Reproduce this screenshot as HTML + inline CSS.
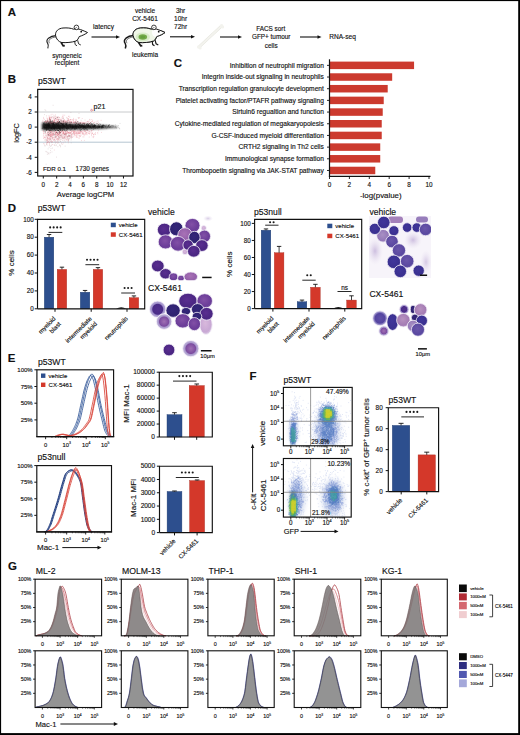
<!DOCTYPE html>
<html><head><meta charset="utf-8"><style>
html,body{margin:0;padding:0;background:#fff;overflow:hidden;}
svg{display:block;font-family:"Liberation Sans", sans-serif;}
text{stroke:#111;stroke-width:0.14px;}
</style></head><body>
<svg width="520" height="735" viewBox="0 0 520 735">
<defs><radialGradient id="gDark" cx="45%" cy="42%" r="62%"><stop offset="0" stop-color="#5a2e90"/><stop offset="0.72" stop-color="#4a2682"/><stop offset="1" stop-color="#5e3c94"/></radialGradient><radialGradient id="gNavy" cx="45%" cy="42%" r="62%"><stop offset="0" stop-color="#35267a"/><stop offset="0.72" stop-color="#2e2270"/><stop offset="1" stop-color="#48388a"/></radialGradient><radialGradient id="gMed" cx="45%" cy="42%" r="62%"><stop offset="0" stop-color="#8250a6"/><stop offset="0.72" stop-color="#6a3c98"/><stop offset="1" stop-color="#7c5aa6"/></radialGradient><radialGradient id="gLight" cx="45%" cy="42%" r="62%"><stop offset="0" stop-color="#a872b6"/><stop offset="0.72" stop-color="#9460aa"/><stop offset="1" stop-color="#a88ac0"/></radialGradient><radialGradient id="gPink" cx="45%" cy="42%" r="62%"><stop offset="0" stop-color="#d8b8dc"/><stop offset="0.72" stop-color="#c8a8d4"/><stop offset="1" stop-color="#e4d8ec"/></radialGradient><radialGradient id="gBlue" cx="45%" cy="42%" r="62%"><stop offset="0" stop-color="#40369a"/><stop offset="0.72" stop-color="#3a3090"/><stop offset="1" stop-color="#4e46a0"/></radialGradient><radialGradient id="gBlueM" cx="45%" cy="42%" r="62%"><stop offset="0" stop-color="#6a56aa"/><stop offset="0.72" stop-color="#5a48a0"/><stop offset="1" stop-color="#7064b0"/></radialGradient><radialGradient id="gBlueL" cx="45%" cy="42%" r="62%"><stop offset="0" stop-color="#9a72b4"/><stop offset="0.72" stop-color="#8a62aa"/><stop offset="1" stop-color="#a08ac0"/></radialGradient><radialGradient id="gLav" cx="45%" cy="42%" r="62%"><stop offset="0" stop-color="#a890c4"/><stop offset="0.72" stop-color="#9478b8"/><stop offset="1" stop-color="#b4a4d0"/></radialGradient><radialGradient id="gLavP" cx="45%" cy="42%" r="62%"><stop offset="0" stop-color="#b892c0"/><stop offset="0.72" stop-color="#a47cb4"/><stop offset="1" stop-color="#c4aad4"/></radialGradient><radialGradient id="gRim" cx="50%" cy="50%" r="50%"><stop offset="0" stop-color="#52308e"/><stop offset="0.6" stop-color="#4a2c88"/><stop offset="0.72" stop-color="#9c8cc8"/><stop offset="0.95" stop-color="#bcb0dc"/><stop offset="1" stop-color="#d8d0ea"/></radialGradient><radialGradient id="gRimM" cx="50%" cy="50%" r="50%"><stop offset="0" stop-color="#a070b4"/><stop offset="0.6" stop-color="#7c4ca0"/><stop offset="0.72" stop-color="#a898cc"/><stop offset="0.95" stop-color="#c4b8dc"/><stop offset="1" stop-color="#dcd4ec"/></radialGradient><radialGradient id="gRimB" cx="50%" cy="50%" r="50%"><stop offset="0" stop-color="#6050a8"/><stop offset="0.65" stop-color="#5444a0"/><stop offset="0.8" stop-color="#8a80c0"/><stop offset="1" stop-color="#c8c0e4"/></radialGradient><radialGradient id="gHaze" cx="50%" cy="50%" r="50%"><stop offset="0" stop-color="#c8b8dc" stop-opacity="0.9"/><stop offset="1" stop-color="#e8e0f0" stop-opacity="0"/></radialGradient><radialGradient id="gHazeP" cx="50%" cy="50%" r="50%"><stop offset="0" stop-color="#a07cb8" stop-opacity="0.95"/><stop offset="0.7" stop-color="#b090c4" stop-opacity="0.8"/><stop offset="1" stop-color="#d8c8e4" stop-opacity="0"/></radialGradient></defs>
<rect x="0" y="0" width="520" height="735" fill="#fff"/>
<text x="7.70" y="15.60" font-size="11.5" text-anchor="start" fill="#111" font-weight="bold">A</text><g transform="translate(0 0)"><path d="M56 35.6 C53 35.8 50.5 36.6 48.5 38.2 C46.5 40 46.6 42 47.8 43.6 C48.6 44.8 48.4 46.5 47.8 48.4" fill="none" stroke="#1a1a1a" stroke-width="1.1"/><path d="M56 37 C53.5 37.2 51.2 38 49.6 39.5 C48.6 40.7 48.8 42 49.5 43.2" fill="none" stroke="#1a1a1a" stroke-width="0.6"/><path d="M55.5 35.2 C55.3 31 58.5 28.4 63 28 C67 27.7 71 28 73.6 29.2 C75.6 28.6 78.6 28.8 80.6 29.6 C83 30.5 85.5 31.5 87.5 32.5 C85.5 34.1 82.6 35.5 79.2 36.6 C78.5 38.4 77.6 40 76 41 C72 42.4 66 42.9 61.5 42.5 C58.5 41.6 56.2 39.2 55.5 35.2 Z" fill="#fff" stroke="#1a1a1a" stroke-width="1.0"/><circle cx="76.4" cy="27.4" r="2.3" fill="#fff" stroke="#1a1a1a" stroke-width="0.85"/><path d="M75.2 29.2 C75.1 28 75.9 27.3 77 27.5" fill="none" stroke="#1a1a1a" stroke-width="0.5"/><circle cx="81.2" cy="31.7" r="0.9" fill="#111"/><path d="M74.6 41 L75.2 44.6 L77 45.8 M77.6 40.2 L78.6 43.8 L80.8 45" fill="none" stroke="#1a1a1a" stroke-width="0.9"/><path d="M61 42.3 L63.2 45.9 L64.8 45.6" fill="none" stroke="#1a1a1a" stroke-width="1.7"/></g><text x="67.00" y="57.50" font-size="6.5" text-anchor="middle" fill="#111">syngeneic</text><text x="67.00" y="64.50" font-size="6.5" text-anchor="middle" fill="#111">recipient</text><text x="103.50" y="28.90" font-size="6.6" text-anchor="middle" fill="#111">latency</text><line x1="91.50" y1="37.00" x2="116.50" y2="37.00" stroke="#111" stroke-width="1.1"/><path d="M120.00 37.00 L116.00 35.20 L116.00 38.80 Z" fill="#111"/><g transform="translate(77.5 0)"><path d="M56 35.6 C53 35.8 50.5 36.6 48.5 38.2 C46.5 40 46.6 42 47.8 43.6 C48.6 44.8 48.4 46.5 47.8 48.4" fill="none" stroke="#1a1a1a" stroke-width="1.5"/><path d="M56 37 C53.5 37.2 51.2 38 49.6 39.5 C48.6 40.7 48.8 42 49.5 43.2" fill="none" stroke="#1a1a1a" stroke-width="0.6"/><path d="M55.5 35.2 C55.3 31 58.5 28.4 63 28 C67 27.7 71 28 73.6 29.2 C75.6 28.6 78.6 28.8 80.6 29.6 C83 30.5 85.5 31.5 87.5 32.5 C85.5 34.1 82.6 35.5 79.2 36.6 C78.5 38.4 77.6 40 76 41 C72 42.4 66 42.9 61.5 42.5 C58.5 41.6 56.2 39.2 55.5 35.2 Z" fill="#fff" stroke="#1a1a1a" stroke-width="1.0"/><path d="M55.5 35.2 C55.3 31 58.5 28.4 63 28 C67 27.7 71 28 73.6 29.2 C75.6 28.6 78.6 28.8 80.6 29.6 C83 30.5 85.5 31.5 87.5 32.5 C85.5 34.1 82.6 35.5 79.2 36.6 C78.5 38.4 77.6 40 76 41 C72 42.4 66 42.9 61.5 42.5 C58.5 41.6 56.2 39.2 55.5 35.2 Z" fill="#f0f7e8"/><circle cx="79" cy="32.5" r="4.6" fill="#fff"/><path d="M77 29 L87.5 32.5 L79 36.6 Z" fill="#fff"/><ellipse cx="65.3" cy="37.0" rx="7.2" ry="4.6" fill="#d8ecc8"/><ellipse cx="65.3" cy="37.0" rx="4.3" ry="2.7" fill="#74ac4a"/><ellipse cx="65.3" cy="37.0" rx="2.6" ry="1.5" fill="#64a03c"/><path d="M55.5 35.2 C55.3 31 58.5 28.4 63 28 C67 27.7 71 28 73.6 29.2 C75.6 28.6 78.6 28.8 80.6 29.6 C83 30.5 85.5 31.5 87.5 32.5 C85.5 34.1 82.6 35.5 79.2 36.6 C78.5 38.4 77.6 40 76 41 C72 42.4 66 42.9 61.5 42.5 C58.5 41.6 56.2 39.2 55.5 35.2 Z" fill="none" stroke="#1a1a1a" stroke-width="1.0"/><circle cx="76.4" cy="27.4" r="2.3" fill="#fff" stroke="#1a1a1a" stroke-width="0.85"/><path d="M75.2 29.2 C75.1 28 75.9 27.3 77 27.5" fill="none" stroke="#1a1a1a" stroke-width="0.5"/><circle cx="81.2" cy="31.7" r="0.9" fill="#111"/><path d="M74.6 41 L75.2 44.6 L77 45.8 M77.6 40.2 L78.6 43.8 L80.8 45" fill="none" stroke="#1a1a1a" stroke-width="1.2"/><path d="M61 42.3 L63.2 45.9 L64.8 45.6" fill="none" stroke="#1a1a1a" stroke-width="1.7"/></g><text x="145.00" y="12.80" font-size="6.5" text-anchor="middle" fill="#111">vehicle</text><text x="145.00" y="20.90" font-size="6.5" text-anchor="middle" fill="#111">CX-5461</text><text x="145.00" y="57.30" font-size="6.5" text-anchor="middle" fill="#111">leukemia</text><text x="180.60" y="12.80" font-size="6.5" text-anchor="middle" fill="#111">3hr</text><text x="180.60" y="20.70" font-size="6.5" text-anchor="middle" fill="#111">10hr</text><text x="180.60" y="28.70" font-size="6.5" text-anchor="middle" fill="#111">72hr</text><line x1="170.00" y1="36.80" x2="191.50" y2="36.80" stroke="#111" stroke-width="1.1"/><path d="M195.00 36.80 L191.00 35.00 L191.00 38.60 Z" fill="#111"/><g><path d="M199.5 46.5 L221 26.5" stroke="#e2e2da" stroke-width="2.9" stroke-linecap="round"/><path d="M199.5 46.5 L221 26.5" stroke="#f3f3ee" stroke-width="2.2" stroke-linecap="round"/><circle cx="198.6" cy="47" r="1.7" fill="#f3f3ee"/><circle cx="200.2" cy="48.1" r="1.5" fill="#f3f3ee"/><circle cx="221.6" cy="25.6" r="1.7" fill="#f3f3ee"/><circle cx="222.7" cy="26.9" r="1.5" fill="#f3f3ee"/></g><line x1="220.00" y1="37.00" x2="238.50" y2="37.00" stroke="#111" stroke-width="1.1"/><path d="M242.00 37.00 L238.00 35.20 L238.00 38.80 Z" fill="#111"/><text x="270.70" y="31.00" font-size="6.4" text-anchor="middle" fill="#111">FACS sort</text><text x="271.20" y="39.30" font-size="6.4" text-anchor="middle" fill="#111">GFP+ tumour</text><text x="271.20" y="47.60" font-size="6.4" text-anchor="middle" fill="#111">cells</text><line x1="300.00" y1="37.00" x2="318.00" y2="37.00" stroke="#111" stroke-width="1.1"/><path d="M321.50 37.00 L317.50 35.20 L317.50 38.80 Z" fill="#111"/><text x="329.20" y="39.30" font-size="6.6" text-anchor="start" fill="#111">RNA-seq</text><text x="7.70" y="83.20" font-size="11.5" text-anchor="start" fill="#111" font-weight="bold">B</text><text x="38.00" y="83.80" font-size="8.6" text-anchor="start" fill="#111">p53WT</text><filter id="fB" x="-10%" y="-10%" width="120%" height="120%"><feGaussianBlur stdDeviation="0.45"/></filter><filter id="fB2" x="-10%" y="-10%" width="120%" height="120%"><feGaussianBlur stdDeviation="0.9"/></filter><clipPath id="cB"><rect x="38.3" y="90" width="94.1" height="85.4"/></clipPath><g clip-path="url(#cB)"><line x1="37.70" y1="112.00" x2="133.00" y2="112.00" stroke="#c2c4c6" stroke-width="0.9"/><line x1="37.70" y1="142.20" x2="133.00" y2="142.20" stroke="#aebfcc" stroke-width="0.9"/><g filter="url(#fB)"><path d="M56.3 122.9h.01M64.4 122.7h.01M47.3 137.3h.01M47.8 122.7h.01M59.9 133.2h.01M68.4 132.8h.01M66.2 132.0h.01M81.9 123.6h.01M50.4 121.1h.01M51.5 141.0h.01M69.0 122.7h.01M47.4 123.3h.01M71.0 132.8h.01M61.0 119.7h.01M77.4 130.7h.01M63.9 137.0h.01M73.6 122.3h.01M59.7 130.8h.01M50.6 139.4h.01M75.6 132.0h.01M83.2 122.6h.01M66.3 136.5h.01M80.5 136.0h.01M47.4 132.1h.01M69.4 132.1h.01M58.5 134.5h.01M45.3 132.2h.01M47.4 133.3h.01M49.9 117.5h.01M48.3 138.8h.01M65.0 134.6h.01M54.7 141.0h.01M57.5 133.5h.01M51.4 123.1h.01M53.2 134.4h.01M43.4 133.4h.01M57.9 138.5h.01M63.5 132.7h.01M70.8 119.7h.01M83.1 134.2h.01M58.7 136.6h.01M47.5 120.2h.01M52.4 123.0h.01M42.3 122.5h.01M49.0 115.7h.01M67.8 122.7h.01M53.9 122.5h.01M81.1 132.0h.01M61.5 132.6h.01M57.0 122.9h.01M79.7 117.6h.01M64.1 122.6h.01M64.7 115.2h.01M82.2 132.3h.01M54.2 120.5h.01M64.2 137.9h.01M56.5 119.8h.01M81.4 140.6h.01M79.0 131.2h.01M57.4 119.5h.01M45.7 123.3h.01M91.5 135.4h.01M89.0 133.5h.01M52.8 122.7h.01M52.1 117.9h.01M80.5 136.2h.01M69.7 136.2h.01M86.2 133.1h.01M74.8 133.7h.01M56.6 139.4h.01M93.8 136.6h.01M73.4 119.8h.01M49.9 117.8h.01M50.5 136.8h.01M95.4 132.7h.01M50.0 119.7h.01M93.6 137.6h.01M60.3 132.5h.01M79.5 123.7h.01M53.5 135.4h.01M54.1 139.2h.01M57.4 139.4h.01M66.4 139.9h.01M63.0 135.9h.01M63.9 121.8h.01M43.4 132.1h.01M51.3 131.7h.01M56.4 137.6h.01M65.2 135.4h.01M53.7 120.8h.01M76.1 136.9h.01M86.5 132.7h.01M67.7 137.6h.01M61.0 131.1h.01M62.0 133.8h.01M89.6 119.4h.01M65.4 131.9h.01M49.7 133.4h.01M47.9 118.3h.01M76.8 133.2h.01M50.7 132.3h.01M83.8 132.2h.01M52.8 136.0h.01M97.7 132.5h.01M50.9 136.1h.01M52.0 123.4h.01M73.2 120.9h.01M44.9 122.2h.01M68.3 142.8h.01M77.1 135.1h.01M49.1 117.0h.01M54.5 122.1h.01M59.9 132.2h.01M50.6 134.9h.01M65.9 131.9h.01M71.4 131.3h.01M47.9 138.2h.01M48.4 139.2h.01M47.7 136.2h.01M65.1 131.8h.01M54.4 121.0h.01M49.3 123.2h.01M46.9 122.4h.01M75.3 121.6h.01M62.9 123.3h.01M53.8 123.1h.01M73.8 132.3h.01M88.8 121.4h.01M79.0 137.9h.01M58.8 130.8h.01M71.4 135.1h.01M72.4 137.3h.01M59.2 122.0h.01M47.9 131.6h.01M54.0 117.6h.01M82.8 134.1h.01M54.9 122.6h.01M50.8 137.1h.01M54.2 137.7h.01M53.6 131.8h.01M55.8 120.2h.01M61.9 130.5h.01M52.2 135.2h.01M48.6 130.7h.01M46.5 122.7h.01M66.5 133.8h.01M74.8 132.3h.01M58.6 116.8h.01M96.3 123.2h.01M46.6 139.9h.01M84.6 131.2h.01M50.3 141.8h.01M63.1 133.7h.01M66.5 138.9h.01M71.1 130.6h.01M50.1 122.7h.01M49.2 138.8h.01M68.4 132.8h.01M62.5 122.1h.01M63.0 138.5h.01M70.0 123.5h.01M48.0 120.6h.01M73.6 123.2h.01M62.7 144.3h.01M62.1 131.3h.01M69.2 119.7h.01M50.5 123.6h.01M65.7 121.1h.01M47.4 120.7h.01M70.8 119.8h.01M63.6 133.0h.01M84.7 123.5h.01M94.9 133.9h.01M79.1 131.0h.01M60.9 121.7h.01M52.5 144.5h.01M50.3 133.7h.01M79.1 131.1h.01M84.1 131.4h.01M62.3 116.8h.01M43.3 136.2h.01M50.3 122.7h.01M56.0 139.9h.01M80.4 123.7h.01M87.9 132.8h.01M58.0 133.1h.01M101.4 132.4h.01M54.6 120.7h.01M49.0 133.8h.01M53.8 115.2h.01M63.3 118.1h.01M83.9 136.9h.01M68.6 135.9h.01M73.1 122.4h.01M73.8 130.6h.01M55.0 118.5h.01M87.9 121.7h.01M55.4 131.4h.01M94.6 122.7h.01M65.3 133.9h.01M51.1 121.5h.01M62.8 116.9h.01M85.9 132.3h.01M51.9 123.1h.01M56.9 123.5h.01M65.8 134.2h.01M74.7 134.9h.01M58.2 121.5h.01M47.5 121.6h.01M63.0 131.0h.01M82.2 123.5h.01M59.0 134.5h.01M91.1 131.0h.01M45.9 131.5h.01M84.9 130.6h.01M58.7 130.6h.01M79.5 133.4h.01M49.3 123.2h.01M63.8 137.9h.01M69.4 133.1h.01M61.2 139.3h.01M53.2 133.0h.01M69.3 122.2h.01M68.9 133.0h.01M49.4 118.5h.01M58.6 123.0h.01M67.2 122.6h.01M91.8 133.9h.01M83.9 130.8h.01M92.0 132.9h.01M55.7 118.3h.01M59.8 123.6h.01M70.4 130.7h.01M56.8 132.0h.01M71.1 122.3h.01M63.1 118.7h.01M93.5 123.1h.01M52.9 134.4h.01M55.3 134.2h.01M52.9 130.6h.01M70.3 133.2h.01M52.6 135.3h.01M50.3 120.1h.01M85.1 131.8h.01M73.8 133.9h.01M51.7 132.8h.01M74.6 122.3h.01M58.1 120.8h.01M51.2 123.0h.01M91.3 121.7h.01M92.6 121.3h.01M79.2 136.1h.01M46.9 140.8h.01M51.9 117.6h.01M85.0 120.1h.01M75.7 121.1h.01M46.1 120.9h.01M74.6 132.0h.01M56.8 119.0h.01M54.2 132.6h.01M56.0 117.7h.01M86.9 130.6h.01M89.8 123.5h.01M91.5 134.1h.01M58.5 120.1h.01M88.1 122.6h.01M78.0 133.5h.01M67.5 119.1h.01M56.1 123.4h.01M52.1 132.9h.01M53.7 119.1h.01M56.4 132.0h.01M83.9 130.6h.01M48.9 133.2h.01M72.5 130.9h.01M68.1 135.3h.01M74.7 131.6h.01M80.6 122.6h.01M65.7 123.5h.01M53.7 121.2h.01M50.7 135.3h.01M58.9 132.8h.01M63.2 122.0h.01M98.0 121.0h.01M61.9 136.6h.01M46.4 115.9h.01M49.6 118.5h.01M88.3 123.2h.01M82.5 130.9h.01M90.1 119.9h.01M67.0 131.4h.01M50.3 120.0h.01M54.0 132.8h.01M44.3 121.3h.01M70.9 123.0h.01M77.5 133.0h.01M47.5 119.6h.01M69.0 121.4h.01M51.0 134.7h.01M55.7 133.0h.01M55.9 134.2h.01M82.3 133.5h.01M57.7 123.4h.01M43.7 135.2h.01M59.9 139.6h.01M61.3 119.9h.01M44.7 140.0h.01M48.6 141.4h.01M58.0 133.2h.01M63.8 133.7h.01M49.3 136.1h.01M52.1 114.3h.01M89.7 131.6h.01M87.8 130.6h.01M85.7 131.4h.01M76.9 122.3h.01M59.2 132.1h.01M52.7 133.8h.01M63.6 133.2h.01M73.4 132.7h.01M46.5 130.6h.01M80.4 123.0h.01M67.2 133.3h.01M59.8 133.8h.01M60.0 135.9h.01M45.4 132.9h.01M62.5 123.2h.01M61.2 118.0h.01M61.8 121.3h.01M48.7 135.4h.01M63.3 122.8h.01M73.8 131.8h.01M63.4 120.6h.01M90.7 123.7h.01M81.8 131.3h.01M52.0 141.6h.01M62.6 133.1h.01M77.1 131.7h.01M47.6 123.6h.01M85.0 122.3h.01M78.8 118.0h.01M52.4 123.6h.01M63.1 121.7h.01M50.9 131.4h.01M71.0 134.3h.01M49.5 140.2h.01M68.9 121.1h.01M66.3 134.9h.01M49.1 134.9h.01M77.6 121.8h.01M97.8 133.7h.01M60.6 119.3h.01M74.4 122.8h.01M69.0 133.7h.01M66.5 130.6h.01M46.0 123.5h.01M67.9 140.4h.01M50.0 123.0h.01M69.7 121.0h.01M49.2 123.6h.01M52.9 133.9h.01M68.3 132.2h.01M50.1 130.6h.01M48.8 134.1h.01M82.9 132.8h.01M44.3 133.6h.01M65.5 121.7h.01M89.1 133.4h.01M53.7 137.5h.01M59.3 122.6h.01M47.3 138.8h.01M89.5 123.5h.01M52.1 139.1h.01M78.7 123.5h.01M55.8 116.5h.01M76.7 133.0h.01M43.7 130.7h.01M74.3 135.2h.01M53.0 123.6h.01M56.7 132.1h.01M71.8 131.3h.01M65.1 134.2h.01M77.1 131.0h.01M92.7 120.7h.01M83.6 123.6h.01M74.4 133.6h.01M74.5 121.9h.01M53.4 134.1h.01M68.6 137.0h.01M61.7 142.8h.01M71.9 137.0h.01M65.9 121.8h.01M52.5 142.1h.01M50.4 119.7h.01M49.2 132.5h.01M45.7 121.8h.01M71.6 132.8h.01M47.7 140.6h.01M57.7 135.4h.01M47.7 142.9h.01M86.7 132.3h.01M49.4 122.0h.01M81.1 135.2h.01M68.6 119.6h.01M49.0 123.6h.01M56.1 134.3h.01M45.2 122.3h.01M57.9 118.3h.01M92.5 133.1h.01M45.9 138.0h.01M60.4 135.2h.01M64.5 119.7h.01M82.1 123.1h.01M42.8 121.3h.01M75.5 135.3h.01M62.6 130.7h.01M51.7 137.1h.01M54.1 139.5h.01M54.9 122.4h.01M49.3 137.6h.01M48.3 134.2h.01M68.5 118.8h.01M59.1 132.3h.01M84.3 123.1h.01M52.4 120.1h.01M58.3 134.2h.01M53.2 140.2h.01M74.9 131.9h.01M57.2 119.9h.01M70.1 137.7h.01M51.2 131.7h.01M49.8 138.7h.01M84.0 123.0h.01M72.2 133.9h.01M50.7 123.6h.01M63.8 120.9h.01M56.4 118.0h.01M49.0 132.1h.01M49.0 141.8h.01M73.8 131.3h.01M52.0 133.7h.01M58.6 122.2h.01M59.0 132.7h.01M68.7 135.6h.01M50.3 139.0h.01M86.0 133.7h.01M66.0 133.5h.01M73.2 132.0h.01M76.2 134.2h.01M69.1 136.0h.01M55.9 135.3h.01M76.7 132.9h.01M68.5 120.8h.01M68.2 132.9h.01M70.8 133.1h.01M76.4 135.9h.01M62.5 136.7h.01M50.9 132.3h.01M89.5 134.0h.01M64.6 134.3h.01M63.4 133.4h.01M59.4 136.2h.01M52.5 138.5h.01M49.7 137.2h.01M57.4 123.2h.01M44.5 137.4h.01M59.8 133.0h.01M53.0 134.2h.01M89.4 131.7h.01M58.7 117.6h.01M49.9 133.7h.01M61.7 137.3h.01M53.0 135.6h.01M79.0 134.9h.01M61.6 122.1h.01M80.1 123.3h.01M81.3 122.4h.01M60.0 121.9h.01M43.1 131.5h.01M55.5 134.7h.01M60.1 133.2h.01M88.1 133.2h.01M47.3 140.0h.01M50.3 136.6h.01M68.7 116.5h.01M69.8 123.2h.01M49.0 123.0h.01M57.1 117.6h.01M85.7 134.1h.01M67.6 139.1h.01M70.4 132.5h.01M52.1 141.7h.01M64.2 140.0h.01M65.2 121.3h.01M53.3 122.4h.01M61.6 123.7h.01M62.5 140.3h.01M43.8 133.9h.01M61.6 135.5h.01M58.1 139.5h.01M92.0 121.7h.01M45.7 137.8h.01M71.1 136.5h.01M63.3 142.9h.01M85.1 123.1h.01M56.8 138.2h.01M57.8 139.8h.01M52.5 132.1h.01M59.9 132.5h.01M79.6 133.3h.01M63.0 115.0h.01M69.7 131.0h.01M56.5 122.3h.01M68.8 136.3h.01M46.4 136.8h.01M46.9 120.3h.01M43.7 118.5h.01M69.9 133.4h.01M86.2 134.1h.01M71.8 134.6h.01M71.1 122.1h.01M75.5 121.1h.01M51.6 122.4h.01M69.8 117.3h.01M79.3 133.3h.01M55.5 132.2h.01M56.1 138.8h.01M47.2 142.4h.01M46.4 121.7h.01M87.1 134.7h.01M44.6 144.1h.01M95.5 134.4h.01M59.5 122.3h.01M50.6 121.6h.01M43.5 143.7h.01M48.6 142.1h.01M49.9 123.1h.01M73.8 121.7h.01M46.9 133.4h.01M73.6 118.4h.01M68.5 140.9h.01M53.9 133.8h.01M72.9 119.7h.01M78.9 123.4h.01M55.9 136.2h.01M62.3 118.1h.01M57.8 138.1h.01M50.4 134.0h.01M57.7 134.4h.01M58.5 134.6h.01M90.0 133.0h.01M47.4 132.7h.01M72.2 133.4h.01M94.8 134.1h.01M67.2 118.0h.01M58.2 135.5h.01M67.3 131.9h.01M42.9 120.3h.01M59.9 135.0h.01M46.5 143.2h.01M78.6 133.3h.01M81.3 131.8h.01M71.2 131.6h.01M65.1 132.2h.01M52.2 134.5h.01M67.5 131.9h.01M61.5 123.5h.01M77.3 137.2h.01M48.5 131.1h.01M66.3 133.9h.01M84.0 135.2h.01M51.8 123.0h.01M51.5 135.6h.01M59.1 135.8h.01M50.6 119.9h.01M49.2 130.6h.01M77.0 121.7h.01M63.7 122.0h.01M46.0 135.7h.01M65.7 121.0h.01M76.5 137.0h.01M79.0 132.7h.01M53.9 123.0h.01M48.4 121.3h.01M65.3 141.9h.01M86.2 122.3h.01M67.1 139.2h.01M54.0 140.6h.01M69.1 132.7h.01M60.9 120.8h.01M92.8 130.7h.01M54.0 122.7h.01M85.5 131.1h.01M76.9 131.6h.01M69.4 132.9h.01M75.1 131.3h.01M70.8 119.7h.01M49.2 120.1h.01M54.0 121.5h.01M53.4 123.4h.01M70.9 123.3h.01M46.2 134.8h.01M52.8 138.9h.01M50.3 140.2h.01M48.9 135.4h.01M61.0 119.8h.01M79.3 132.0h.01M52.9 122.2h.01M72.8 135.8h.01M54.3 139.8h.01M50.8 121.8h.01M51.1 135.2h.01M56.1 142.3h.01M47.3 142.5h.01M70.4 121.4h.01M54.0 123.3h.01M57.7 143.0h.01M48.9 123.6h.01M85.0 123.4h.01M95.0 122.0h.01M78.2 123.6h.01M79.9 130.7h.01M51.7 134.1h.01M65.9 122.6h.01M51.5 131.5h.01M48.2 121.1h.01M67.6 131.0h.01M67.7 133.6h.01M78.5 130.9h.01M73.8 132.0h.01M73.2 122.8h.01M80.6 133.7h.01M62.6 120.6h.01M82.9 122.2h.01M51.7 132.9h.01M58.0 132.9h.01M43.5 138.4h.01M49.7 133.0h.01M78.9 133.2h.01M58.3 138.2h.01M47.5 137.8h.01M63.4 132.2h.01M64.4 121.5h.01M51.6 123.1h.01M53.8 133.1h.01M72.0 123.5h.01M44.9 137.9h.01M72.2 122.1h.01M82.7 132.3h.01M62.6 131.2h.01M54.8 122.1h.01M66.8 131.9h.01M50.5 130.6h.01M79.5 132.8h.01M58.6 134.0h.01M58.9 136.1h.01M76.4 123.6h.01M60.4 135.2h.01M78.1 133.5h.01M47.1 142.2h.01M91.7 130.5h.01M68.7 120.6h.01M64.2 120.3h.01M45.2 121.6h.01M93.4 134.6h.01M78.4 132.6h.01M84.0 122.5h.01M70.9 122.0h.01M64.6 133.2h.01M63.7 133.1h.01M90.7 122.6h.01M49.7 139.1h.01M91.4 130.9h.01M64.3 120.2h.01M49.8 122.6h.01M55.1 120.1h.01M48.5 135.2h.01M65.8 136.1h.01M52.2 137.9h.01M67.8 131.9h.01M55.8 122.9h.01M58.4 136.9h.01M44.4 121.6h.01M65.3 133.2h.01M55.0 133.3h.01M50.9 117.3h.01M82.9 133.9h.01M60.5 132.5h.01M49.3 117.4h.01M50.7 122.1h.01M57.3 138.5h.01M79.2 135.5h.01M74.1 130.8h.01M76.8 135.1h.01M86.7 123.6h.01M75.7 130.8h.01M62.8 135.2h.01M76.8 132.3h.01M67.5 120.5h.01M73.3 122.8h.01M58.7 134.1h.01M77.0 132.9h.01M62.9 132.2h.01M50.4 135.3h.01M66.4 121.3h.01M80.7 132.1h.01M91.8 119.5h.01M44.3 119.5h.01M65.6 137.8h.01M64.5 134.6h.01M63.6 132.5h.01M57.5 135.5h.01M57.3 133.5h.01M48.9 119.3h.01M59.1 140.4h.01M92.6 133.4h.01M60.5 135.3h.01M64.1 130.6h.01M51.2 116.6h.01M63.4 122.9h.01M84.8 135.1h.01M84.3 140.4h.01M50.8 119.1h.01M51.8 123.4h.01M68.6 139.4h.01M68.9 116.2h.01M59.5 133.4h.01M43.4 117.4h.01M80.7 131.7h.01M62.8 133.4h.01M54.3 150.0h.01M66.0 133.7h.01M49.7 123.6h.01M49.0 121.8h.01M63.8 137.3h.01M47.5 118.9h.01M76.0 123.2h.01M51.2 120.2h.01M49.0 135.6h.01M60.9 132.9h.01M47.2 145.0h.01M60.5 137.1h.01M53.8 117.1h.01M56.0 135.2h.01M78.8 118.5h.01M62.7 138.2h.01M53.6 131.3h.01M55.8 134.4h.01M62.3 130.6h.01M57.5 121.5h.01M93.8 122.8h.01M64.3 131.4h.01M59.1 119.1h.01M57.3 119.1h.01M51.9 123.6h.01M70.2 122.9h.01M50.8 134.6h.01M80.1 122.6h.01M60.7 131.5h.01M57.3 133.6h.01M58.2 134.0h.01M63.1 116.1h.01M61.0 123.0h.01M85.3 133.1h.01M57.9 121.8h.01M82.9 122.7h.01M63.4 131.6h.01M58.5 139.8h.01M65.7 122.7h.01M51.4 132.2h.01M56.2 136.1h.01M57.6 135.0h.01M55.4 122.7h.01M49.8 134.7h.01M54.9 138.9h.01M83.8 133.9h.01M50.0 117.9h.01M70.2 122.9h.01M59.5 131.8h.01M81.0 121.9h.01M68.5 118.8h.01M73.9 136.7h.01M46.4 122.2h.01M55.6 133.7h.01M46.4 122.0h.01M80.5 132.3h.01M72.9 119.8h.01M57.2 121.6h.01M80.1 130.8h.01M81.5 131.6h.01M46.8 118.1h.01M52.5 137.3h.01M74.7 122.8h.01M74.6 134.4h.01M54.8 120.1h.01M88.3 131.7h.01M74.1 133.7h.01M47.1 135.7h.01M60.1 133.0h.01M75.5 123.1h.01M72.2 130.9h.01M93.4 134.4h.01M64.7 121.0h.01M59.5 122.5h.01M55.8 122.3h.01M53.4 118.3h.01M63.5 134.8h.01M55.5 132.6h.01M50.3 136.2h.01M64.9 138.3h.01M51.2 136.1h.01M75.7 133.1h.01M49.5 122.0h.01M47.4 121.6h.01M52.1 133.3h.01M56.3 131.4h.01M57.7 123.2h.01M98.3 130.7h.01M48.4 138.7h.01M49.3 131.5h.01M60.3 123.3h.01M87.2 130.6h.01M68.5 132.5h.01M53.7 121.4h.01M45.7 133.5h.01M51.7 134.8h.01M80.9 133.7h.01M79.8 136.4h.01M56.4 122.3h.01M57.9 134.8h.01M57.9 130.6h.01M65.7 131.9h.01M79.1 138.2h.01M62.7 137.3h.01M50.8 122.3h.01M71.4 123.1h.01M60.7 131.8h.01M60.5 123.2h.01M73.3 120.8h.01M77.0 137.2h.01M54.9 136.5h.01M56.8 131.0h.01M70.3 132.7h.01M55.3 132.4h.01M65.6 123.3h.01M56.3 132.7h.01M93.7 136.1h.01M92.2 136.9h.01M78.5 122.1h.01M55.4 137.5h.01M91.0 132.1h.01M57.0 134.3h.01M45.7 121.7h.01M48.4 136.8h.01M58.0 136.3h.01M65.6 133.5h.01M49.5 119.8h.01M49.4 135.6h.01M53.9 120.9h.01M62.5 131.2h.01M53.0 135.9h.01M66.7 121.3h.01M59.3 117.4h.01M65.0 134.1h.01M75.2 119.4h.01M49.1 131.1h.01M58.7 119.4h.01M76.2 122.9h.01M76.3 123.5h.01M44.7 137.1h.01M52.6 122.7h.01M84.3 134.1h.01M82.9 136.9h.01M51.1 136.7h.01M56.9 134.9h.01M49.7 117.0h.01M74.0 130.7h.01M67.3 122.8h.01M64.9 138.9h.01M70.8 119.5h.01M51.9 134.7h.01M49.4 119.2h.01M49.3 133.7h.01M55.1 137.2h.01M58.3 120.7h.01M71.5 134.3h.01M90.4 123.0h.01M63.0 132.9h.01M77.8 121.7h.01M71.0 137.9h.01M61.9 121.9h.01M83.0 133.5h.01M48.1 121.9h.01M66.7 117.4h.01M51.2 118.7h.01M58.6 122.8h.01M43.7 131.2h.01M61.3 131.4h.01M46.7 122.1h.01M54.6 134.6h.01M54.2 144.9h.01M98.4 122.8h.01M65.4 136.3h.01M68.7 136.2h.01M57.7 121.7h.01M89.2 137.0h.01M55.6 130.9h.01M68.8 120.2h.01M65.0 134.6h.01M56.3 132.4h.01M62.2 123.6h.01M57.2 121.1h.01M43.9 137.7h.01M65.8 122.7h.01M51.2 122.6h.01M73.5 134.0h.01M89.1 121.1h.01M48.2 121.2h.01M66.3 135.6h.01M60.1 137.6h.01M47.7 134.7h.01M54.0 121.9h.01M51.0 122.9h.01M59.0 121.4h.01M67.3 132.4h.01M73.9 132.7h.01M67.2 121.5h.01M56.9 117.0h.01M51.8 136.7h.01M87.5 121.4h.01M56.4 133.9h.01M70.9 121.4h.01M47.3 139.3h.01M56.7 132.7h.01M67.1 123.2h.01M87.8 130.6h.01M97.0 121.3h.01M56.5 120.0h.01M50.8 123.5h.01M78.7 132.2h.01M64.5 137.3h.01M67.2 122.2h.01M74.3 122.6h.01M76.3 119.4h.01M76.1 133.6h.01M63.9 131.7h.01M50.0 118.0h.01M76.2 123.1h.01M97.6 123.7h.01M45.7 121.9h.01M47.4 134.4h.01M89.4 123.2h.01M50.6 123.0h.01M51.0 115.0h.01M76.4 120.6h.01M68.9 123.3h.01M77.8 134.3h.01M49.3 142.8h.01M47.6 141.1h.01M47.4 138.1h.01M59.4 137.6h.01M52.9 121.9h.01M54.2 131.0h.01M75.3 133.3h.01M55.4 132.0h.01M50.8 138.3h.01M82.7 123.7h.01M54.9 116.9h.01M62.3 134.6h.01M67.1 136.6h.01M66.2 133.0h.01M57.6 141.6h.01M82.2 118.5h.01M55.4 114.9h.01M49.4 144.4h.01M50.6 131.3h.01M48.9 123.0h.01M56.8 132.7h.01M72.9 131.6h.01M53.3 130.7h.01M71.5 121.6h.01M60.2 123.6h.01M45.1 136.2h.01M49.7 142.3h.01M50.1 134.6h.01M50.5 139.0h.01M62.9 121.4h.01M87.1 121.6h.01M52.6 137.7h.01M54.6 119.7h.01M54.3 119.5h.01M59.3 132.2h.01M57.7 121.8h.01M64.7 137.1h.01M71.5 135.4h.01M59.0 119.8h.01M59.7 134.5h.01M59.4 121.5h.01M101.1 120.4h.01M53.9 138.9h.01" stroke="#e06878" stroke-width="0.85" stroke-linecap="round" fill="none" opacity="0.36"/></g><path d="M55.5 133.5h.01M48.0 141.7h.01M68.9 135.2h.01M46.1 164.2h.01M64.6 136.6h.01M60.4 141.5h.01M53.7 133.5h.01M66.1 133.2h.01M69.2 139.1h.01M73.2 133.5h.01M51.4 145.1h.01M55.5 143.1h.01M65.1 138.1h.01M62.2 137.6h.01M64.1 136.5h.01M60.2 141.4h.01M51.0 139.5h.01M70.7 135.3h.01M58.2 134.7h.01M58.3 141.7h.01M51.0 148.6h.01M59.8 145.0h.01M59.7 145.2h.01M51.5 136.4h.01M49.6 138.8h.01M63.0 138.8h.01M68.4 140.4h.01M45.9 151.4h.01M55.6 140.7h.01M48.2 153.6h.01M49.1 133.2h.01M54.9 137.2h.01M67.7 138.2h.01M47.2 135.1h.01M56.0 145.6h.01M57.5 133.4h.01M58.4 136.7h.01M48.9 152.7h.01M64.2 137.6h.01M51.5 142.6h.01M55.3 137.6h.01M45.1 145.9h.01M50.4 136.6h.01M49.8 134.9h.01M65.3 133.8h.01M51.6 142.2h.01M68.6 138.6h.01M69.3 136.6h.01M50.4 150.6h.01M62.4 138.0h.01M55.3 141.9h.01M55.2 135.6h.01M65.1 134.6h.01M63.3 138.7h.01M67.9 135.9h.01M61.3 138.0h.01M71.2 137.1h.01M65.1 146.1h.01M55.3 136.9h.01M46.7 143.9h.01M66.4 137.5h.01M58.9 139.0h.01M70.5 133.2h.01M61.7 134.5h.01M57.9 146.7h.01M56.6 136.7h.01M58.2 139.1h.01M58.7 137.9h.01M59.3 137.7h.01M65.9 139.8h.01M56.2 144.9h.01M60.5 135.6h.01M66.7 133.4h.01M51.0 138.5h.01M46.9 135.8h.01M47.2 138.9h.01M66.3 134.7h.01M64.2 133.9h.01M65.1 134.9h.01M64.5 133.3h.01M56.6 157.1h.01M68.1 141.4h.01M69.7 135.5h.01M59.5 138.0h.01M44.8 145.7h.01M52.2 133.7h.01M53.6 133.7h.01M60.6 145.8h.01M59.3 135.1h.01M53.4 134.6h.01M69.5 135.9h.01M52.0 152.0h.01M50.4 146.2h.01M55.4 136.5h.01M58.0 142.8h.01M55.1 133.9h.01M67.7 136.4h.01M60.6 146.8h.01M46.1 140.2h.01M56.4 142.1h.01M60.9 135.4h.01M67.5 136.5h.01M53.0 137.4h.01M61.6 143.8h.01M57.7 140.5h.01M69.9 135.0h.01M46.3 151.9h.01M46.0 141.6h.01M69.4 138.5h.01M49.8 139.9h.01M71.1 140.0h.01M58.9 137.8h.01M64.0 135.2h.01M50.7 141.3h.01M68.7 139.3h.01M50.6 152.7h.01M47.5 152.3h.01M71.9 137.1h.01M56.5 136.4h.01M70.7 135.9h.01M64.3 134.2h.01M64.6 134.6h.01M45.8 139.5h.01M51.3 140.7h.01M61.4 136.5h.01M49.1 147.2h.01M70.8 136.8h.01M49.0 153.9h.01M67.6 137.8h.01M45.6 135.0h.01M55.6 136.9h.01M60.3 136.7h.01M47.3 154.3h.01M57.0 135.9h.01M64.1 140.8h.01M48.1 148.9h.01M71.2 142.9h.01M59.8 133.5h.01M53.0 142.4h.01M58.9 142.6h.01M71.3 137.1h.01M69.5 135.9h.01M61.8 135.7h.01M48.6 134.5h.01M52.4 148.1h.01M51.2 145.9h.01M71.2 138.6h.01M72.4 134.2h.01M54.5 145.2h.01M46.1 140.4h.01M54.2 139.5h.01M66.0 134.3h.01M49.8 135.4h.01M46.6 144.6h.01M60.7 139.8h.01M67.3 136.6h.01M61.7 134.7h.01M59.4 133.6h.01M47.4 137.4h.01M61.2 135.8h.01M54.8 142.2h.01M49.3 145.5h.01M49.5 143.0h.01M68.8 134.6h.01M69.7 135.6h.01M47.3 134.1h.01M69.9 136.9h.01M60.0 138.3h.01M48.0 140.7h.01M60.0 133.9h.01M63.6 118.0h.01M59.5 117.7h.01M51.5 117.5h.01M78.2 117.5h.01M63.4 120.1h.01M81.1 120.3h.01M62.9 118.8h.01M70.9 112.5h.01M52.5 121.1h.01M53.9 117.1h.01M44.5 114.6h.01M55.0 116.0h.01M79.0 113.4h.01M52.7 116.5h.01M67.2 118.8h.01M45.8 110.6h.01M53.1 105.3h.01M45.0 109.7h.01" stroke="#b08890" stroke-width="0.7" stroke-linecap="round" fill="none" opacity="0.45"/><path d="M41.8 123.0 L46 122.6 L55 123.0 L65 123.5 L75 123.9 L85 124.4 L95 125.0 L103 125.6 L110 126.1 L115 126.6 L118 127.0 L118 127.3 L115 127.7 L110 128.1 L103 128.5 L95 128.9 L85 129.2 L75 129.5 L65 129.8 L55 130.0 L46 130.2 L41.8 129.8Z" fill="#151515" filter="url(#fB2)" opacity="0.95"/><path d="M72.0 127.7h.01M58.0 130.9h.01M85.2 129.8h.01M43.9 124.5h.01M99.1 127.4h.01M47.6 124.6h.01M53.8 126.8h.01M50.0 131.0h.01M58.1 125.2h.01M52.8 124.8h.01M57.5 117.3h.01M83.7 127.2h.01M64.5 130.4h.01M94.8 126.3h.01M80.7 127.1h.01M72.4 127.4h.01M88.3 126.2h.01M78.3 127.1h.01M58.3 122.8h.01M75.3 122.2h.01M80.2 124.2h.01M98.6 124.6h.01M94.4 126.4h.01M84.6 129.4h.01M70.4 129.9h.01M83.1 125.1h.01M90.7 127.5h.01M67.2 121.0h.01M99.9 123.9h.01M83.4 123.5h.01M54.1 125.3h.01M51.9 128.2h.01M63.4 126.1h.01M94.8 124.8h.01M76.1 126.8h.01M83.1 127.9h.01M83.9 127.9h.01M86.5 129.7h.01M61.0 123.3h.01M87.5 125.2h.01M57.9 130.5h.01M83.8 128.1h.01M43.2 127.0h.01M48.5 126.3h.01M85.4 128.2h.01M63.4 124.8h.01M57.7 125.8h.01M88.2 125.0h.01M72.1 126.6h.01M54.9 125.2h.01M77.2 128.9h.01M85.0 125.5h.01M48.9 126.7h.01M86.3 126.8h.01M51.3 127.4h.01M58.9 119.9h.01M53.0 123.3h.01M93.2 127.6h.01M60.4 132.6h.01M65.9 126.3h.01M109.0 125.6h.01M50.5 121.0h.01M67.0 125.0h.01M99.8 126.3h.01M63.3 125.7h.01M58.5 128.2h.01M48.1 132.4h.01M66.3 127.8h.01M59.6 121.5h.01M74.9 128.1h.01M47.1 128.9h.01M101.9 127.3h.01M58.9 128.3h.01M59.6 129.4h.01M66.7 128.5h.01M65.5 130.8h.01M59.0 125.5h.01M87.3 126.4h.01M76.0 128.3h.01M80.6 127.0h.01M92.9 126.7h.01M45.5 131.9h.01M57.3 122.0h.01M92.9 123.7h.01M49.8 129.8h.01M46.0 128.6h.01M60.3 126.4h.01M55.3 130.3h.01M81.5 126.9h.01M61.6 123.4h.01M106.1 127.6h.01M75.6 129.1h.01M59.8 122.4h.01M76.5 127.0h.01M55.2 124.4h.01M86.6 124.6h.01M83.9 126.9h.01M66.4 125.3h.01M91.4 125.1h.01M50.8 122.1h.01M56.7 124.2h.01M59.9 125.6h.01M103.6 125.6h.01M56.6 126.8h.01M99.6 126.0h.01M62.5 124.3h.01M48.4 126.6h.01M60.0 123.8h.01M103.0 126.4h.01M94.9 125.4h.01M63.1 124.6h.01M82.7 128.4h.01M56.8 123.7h.01M64.1 123.1h.01M68.7 128.1h.01M55.1 130.4h.01M59.0 123.6h.01M55.7 128.0h.01M72.7 126.6h.01M45.8 120.6h.01M86.6 127.7h.01M99.0 126.8h.01M54.7 126.3h.01M68.1 125.5h.01M80.8 127.1h.01M85.0 127.8h.01M48.5 128.0h.01M103.7 124.8h.01M72.9 127.6h.01M60.4 130.4h.01M99.1 126.4h.01M60.3 128.6h.01M84.9 126.9h.01M90.8 125.6h.01M67.2 129.6h.01M94.0 126.6h.01M49.4 127.0h.01M61.3 125.6h.01M65.7 124.3h.01M69.7 128.8h.01M60.8 128.1h.01M88.2 126.9h.01M83.5 125.9h.01M75.3 127.3h.01M80.9 130.0h.01M93.7 126.4h.01M80.1 125.3h.01M91.5 128.2h.01M49.3 127.7h.01M71.7 129.4h.01M55.1 122.9h.01M86.4 125.5h.01M55.0 125.9h.01M47.8 124.1h.01M75.5 123.0h.01M58.8 127.1h.01M77.1 123.2h.01M57.3 124.1h.01M43.1 127.7h.01M55.1 127.5h.01M46.5 130.3h.01M85.0 125.7h.01M45.7 125.6h.01M53.0 127.6h.01M72.7 127.3h.01M69.2 124.7h.01M52.7 125.8h.01M87.8 127.3h.01M85.1 126.7h.01M82.7 126.4h.01M45.1 129.9h.01M46.7 126.4h.01M72.7 126.8h.01M60.7 129.6h.01M66.2 127.7h.01M90.4 126.9h.01M112.0 125.5h.01M57.5 132.8h.01M108.3 125.2h.01M49.4 124.8h.01M63.3 127.9h.01M63.3 129.8h.01M58.0 125.4h.01M55.4 123.7h.01M51.8 126.7h.01M62.5 129.2h.01M51.9 126.9h.01M54.7 128.1h.01M68.7 128.1h.01M80.4 130.8h.01M100.3 124.6h.01M78.4 127.7h.01M46.6 126.2h.01M90.0 126.1h.01M78.6 127.3h.01M58.6 127.8h.01M50.5 132.7h.01M56.4 132.5h.01M45.9 124.9h.01M93.8 125.2h.01M84.7 127.1h.01M48.3 125.9h.01M50.1 125.7h.01M109.7 127.5h.01M95.3 125.9h.01M86.2 128.0h.01M49.1 123.2h.01M66.0 124.5h.01M52.4 126.4h.01M94.9 126.1h.01M77.8 121.6h.01M62.4 128.6h.01M79.3 128.7h.01M87.9 124.5h.01M49.4 124.2h.01M70.1 126.2h.01M59.7 121.5h.01M83.3 126.2h.01M63.7 121.6h.01M67.3 125.1h.01M47.0 128.4h.01M92.2 124.6h.01M64.8 127.3h.01M53.8 127.8h.01M94.5 126.8h.01M70.5 125.7h.01M49.1 125.3h.01M70.1 124.2h.01M73.1 126.9h.01M46.8 129.8h.01M78.8 124.5h.01M60.7 125.4h.01M75.3 126.7h.01M73.9 127.7h.01M76.6 127.4h.01M94.9 126.2h.01M70.9 124.9h.01M108.5 126.0h.01M53.2 130.3h.01M86.4 124.6h.01M72.9 126.4h.01M47.8 127.2h.01M105.6 126.2h.01M46.1 127.2h.01M53.6 124.5h.01M75.3 126.9h.01M97.7 128.2h.01M54.6 131.2h.01M50.1 121.2h.01M48.2 125.7h.01M104.9 126.5h.01M85.0 127.3h.01M50.5 127.8h.01M83.3 126.4h.01M92.7 126.3h.01M88.9 126.4h.01M68.5 125.2h.01M72.1 128.5h.01M70.7 126.1h.01M46.3 127.6h.01M67.9 126.9h.01M43.6 122.9h.01M80.2 123.1h.01M85.3 125.9h.01M63.4 123.9h.01M52.3 123.4h.01M62.0 121.2h.01M68.0 122.5h.01M58.5 122.8h.01M88.7 125.0h.01M88.6 125.2h.01M56.3 124.8h.01M81.5 125.0h.01M106.2 125.1h.01M81.9 125.7h.01M48.6 126.3h.01M76.6 128.2h.01M63.3 128.0h.01M61.0 129.1h.01M95.8 127.6h.01M79.3 125.2h.01M87.6 129.6h.01M78.2 123.7h.01M88.7 125.9h.01M62.1 125.2h.01M99.4 126.9h.01M62.7 126.8h.01M56.2 128.4h.01M58.3 126.9h.01M62.7 125.4h.01M106.8 127.8h.01M81.5 129.6h.01M87.5 123.8h.01M55.1 126.5h.01M54.0 126.8h.01M53.2 126.0h.01M92.4 125.2h.01M82.1 127.1h.01M82.4 124.1h.01M67.2 128.8h.01M48.2 125.1h.01M72.5 127.9h.01M59.2 132.9h.01M50.4 128.2h.01M67.2 128.0h.01M98.7 127.6h.01M61.0 123.1h.01M103.7 127.3h.01M47.7 125.7h.01M94.6 125.3h.01M44.1 126.7h.01M109.4 124.7h.01M51.0 130.6h.01M76.5 125.3h.01M80.3 126.3h.01M54.3 128.5h.01M45.1 127.2h.01M54.4 128.2h.01M103.1 127.3h.01M74.3 128.4h.01M70.8 126.9h.01M46.7 129.0h.01M46.8 123.2h.01M49.7 126.1h.01M48.5 134.8h.01M76.3 126.2h.01M55.0 126.1h.01M48.1 128.3h.01M56.3 129.9h.01M62.8 124.4h.01M79.0 122.9h.01M58.0 122.9h.01M87.1 123.5h.01M53.1 125.3h.01M89.2 125.6h.01M55.2 130.3h.01M43.8 123.5h.01M50.3 120.1h.01M74.5 128.8h.01M51.2 128.7h.01M49.7 119.1h.01M59.9 122.2h.01M74.1 127.6h.01M46.7 127.3h.01M44.2 125.2h.01M102.9 126.8h.01M59.0 126.6h.01M83.4 127.2h.01M54.1 128.7h.01M48.5 123.5h.01M54.0 125.7h.01M59.8 128.3h.01M81.6 126.2h.01M52.8 124.4h.01M59.9 128.8h.01M64.1 123.8h.01M90.6 124.3h.01M87.5 125.6h.01M53.4 123.3h.01M48.7 125.7h.01M63.5 126.6h.01M48.7 127.7h.01M64.5 125.6h.01M62.6 124.8h.01M48.8 123.6h.01M64.0 125.4h.01M98.5 126.8h.01M52.9 126.7h.01M80.1 129.6h.01M102.7 127.3h.01M89.5 123.6h.01M66.8 122.9h.01M53.6 123.6h.01M52.5 121.2h.01M47.4 127.1h.01M63.6 121.0h.01M79.2 124.6h.01M56.9 125.0h.01M52.2 127.8h.01M48.8 128.9h.01M107.7 127.0h.01M43.9 126.1h.01M74.1 126.8h.01M64.1 126.4h.01M79.9 127.6h.01M65.5 126.7h.01M71.2 127.0h.01M84.7 127.1h.01M99.9 126.5h.01M59.2 131.4h.01M94.2 125.9h.01M70.8 125.0h.01M94.1 125.5h.01M45.5 125.2h.01M62.5 125.3h.01M80.5 125.5h.01M70.0 124.4h.01M75.7 127.1h.01M44.1 123.9h.01M64.4 126.9h.01M66.2 123.9h.01M110.2 126.7h.01M72.2 125.5h.01M52.1 120.8h.01M115.3 127.0h.01M102.5 126.1h.01M57.1 128.4h.01M75.1 125.4h.01M44.8 127.8h.01M86.7 125.7h.01M42.2 128.5h.01M63.3 127.5h.01M68.8 126.6h.01M53.6 127.9h.01M48.8 124.6h.01M49.5 126.8h.01M66.7 130.4h.01M46.4 129.7h.01M53.4 124.4h.01M63.2 123.6h.01M61.1 123.6h.01M89.7 127.7h.01M101.7 126.7h.01M61.0 120.5h.01M46.2 125.0h.01M44.4 127.2h.01M55.7 128.1h.01M90.7 122.7h.01M61.6 131.0h.01M85.0 126.9h.01M74.1 127.3h.01M53.8 126.5h.01M74.4 129.3h.01M93.7 127.6h.01M102.7 126.2h.01M93.6 125.8h.01M69.3 125.0h.01M54.3 122.4h.01M53.5 128.7h.01M75.6 124.6h.01M47.0 126.6h.01M64.1 129.6h.01M75.3 126.3h.01M64.3 126.7h.01M75.7 127.0h.01M51.2 130.6h.01M102.0 126.2h.01M62.1 128.1h.01M101.9 126.0h.01M102.6 125.2h.01M93.9 126.1h.01M58.8 122.1h.01M74.7 126.2h.01M52.9 127.9h.01M52.6 126.4h.01M49.4 125.5h.01M61.0 127.2h.01M70.0 125.9h.01M99.4 127.4h.01M77.4 127.1h.01M62.4 125.1h.01M44.4 122.8h.01M75.5 125.4h.01M102.7 125.4h.01M81.8 125.1h.01M73.0 128.8h.01M77.4 125.2h.01M81.8 126.6h.01M56.2 126.5h.01M71.0 122.5h.01M88.7 124.9h.01M51.9 129.1h.01M44.3 131.8h.01M55.0 127.3h.01M46.9 124.3h.01M76.8 126.3h.01M43.1 126.0h.01M77.8 124.9h.01M108.6 125.8h.01M98.3 126.3h.01M104.2 125.7h.01M66.7 124.7h.01M57.1 129.0h.01M54.4 124.7h.01M46.3 124.6h.01M47.7 125.4h.01M72.4 126.9h.01M83.7 127.5h.01M79.1 127.5h.01M51.5 123.4h.01M97.5 126.7h.01M50.1 126.7h.01M76.6 128.6h.01M53.2 123.3h.01M84.2 126.1h.01M70.2 127.2h.01M51.6 127.8h.01M83.7 129.2h.01M53.3 122.8h.01M69.0 124.6h.01M49.5 124.9h.01M48.4 122.4h.01M73.0 126.3h.01M61.8 124.5h.01M67.3 126.4h.01M78.7 126.8h.01M52.8 127.4h.01M76.5 123.8h.01M71.8 125.2h.01M56.7 127.4h.01M74.7 126.4h.01M53.1 124.6h.01M82.1 125.1h.01M102.1 128.0h.01M83.9 126.9h.01M78.5 124.9h.01M46.4 127.5h.01M46.1 127.3h.01M66.3 123.3h.01M91.4 123.7h.01M63.6 126.0h.01M65.9 125.3h.01M66.7 128.6h.01M67.1 123.7h.01M82.5 125.8h.01M60.1 125.7h.01M64.7 126.4h.01M52.9 122.0h.01M57.0 130.6h.01M82.1 126.0h.01M59.4 131.9h.01M98.2 125.4h.01M72.1 124.6h.01M73.1 125.0h.01M55.3 118.7h.01M95.0 125.5h.01M49.2 130.6h.01M56.2 125.5h.01M46.9 126.3h.01M62.4 130.5h.01M47.5 127.5h.01M102.9 126.0h.01M46.2 127.7h.01M49.4 121.1h.01M48.3 124.6h.01M67.2 125.8h.01M87.2 125.9h.01M81.7 125.4h.01M61.9 127.0h.01M53.7 125.1h.01M104.6 125.7h.01M79.9 125.4h.01M92.9 125.1h.01M101.7 127.1h.01M71.2 126.9h.01M78.2 124.4h.01M79.4 125.6h.01M102.0 125.8h.01M48.3 125.2h.01M54.0 128.7h.01M54.3 134.9h.01M49.9 124.5h.01M89.2 126.7h.01M80.2 125.4h.01M58.0 125.3h.01M86.2 124.8h.01M90.0 126.5h.01M81.5 126.5h.01M71.3 122.3h.01M57.4 130.2h.01M88.6 125.9h.01M59.1 128.2h.01M59.5 127.8h.01M48.4 123.9h.01M53.1 123.8h.01M73.1 127.4h.01M92.5 126.3h.01M96.2 127.3h.01M84.7 123.8h.01M80.9 126.5h.01M85.5 126.4h.01M59.8 122.6h.01M87.8 125.1h.01M57.8 123.9h.01M86.1 128.0h.01M88.5 124.0h.01M91.6 124.2h.01M80.1 123.2h.01M75.6 126.7h.01M90.7 126.7h.01M68.1 128.2h.01M83.0 125.9h.01M83.0 125.6h.01M57.9 127.7h.01M54.0 124.3h.01M45.0 124.5h.01M84.1 126.3h.01M46.8 125.1h.01M79.9 125.7h.01M60.8 123.7h.01M84.6 125.0h.01M72.9 126.8h.01M93.3 129.3h.01M79.4 125.6h.01M56.7 123.9h.01M48.3 129.3h.01M70.3 125.1h.01M64.7 128.8h.01M61.4 123.7h.01M52.3 129.3h.01M58.9 130.6h.01M76.8 122.8h.01M49.0 125.6h.01M70.4 126.6h.01M62.2 126.9h.01M47.8 129.7h.01M66.8 124.7h.01M58.7 130.5h.01M52.9 126.5h.01M52.8 131.6h.01M92.0 124.8h.01M59.8 126.5h.01M77.8 125.2h.01M56.2 127.1h.01M57.4 126.5h.01M68.0 127.7h.01M65.6 127.0h.01M101.7 126.9h.01M116.3 127.9h.01M51.3 128.4h.01M95.1 128.5h.01M90.5 127.1h.01M58.9 124.8h.01M44.8 127.4h.01M65.7 122.4h.01M101.4 127.9h.01M66.1 123.7h.01M49.7 128.0h.01M72.8 125.7h.01M71.1 128.4h.01M54.4 126.8h.01M66.2 124.0h.01M64.0 126.1h.01M57.9 126.2h.01M78.2 126.4h.01M54.3 128.4h.01M66.4 125.0h.01M94.4 124.7h.01M52.1 130.4h.01M80.5 127.8h.01M77.9 126.7h.01M87.7 127.5h.01M97.0 123.4h.01M62.7 124.5h.01M47.5 121.1h.01M75.7 124.9h.01M49.7 130.6h.01M113.2 126.0h.01M57.8 126.1h.01M51.9 128.6h.01M50.4 129.9h.01M56.3 124.3h.01M50.5 126.1h.01M51.7 125.1h.01M56.9 128.1h.01M64.5 126.4h.01M62.6 123.6h.01M99.8 126.6h.01M64.1 125.3h.01M49.8 122.4h.01M50.8 122.1h.01M103.6 125.5h.01M60.8 127.9h.01M58.5 124.2h.01M76.5 127.2h.01M90.1 125.8h.01M69.4 122.2h.01M79.0 126.2h.01M58.6 130.4h.01M60.7 130.4h.01M62.2 127.3h.01M74.7 124.0h.01M79.5 125.4h.01M59.1 126.8h.01M88.9 125.8h.01M75.6 128.8h.01M57.9 123.2h.01M60.8 127.4h.01M51.3 121.5h.01M84.4 124.1h.01M45.0 128.1h.01M65.3 124.0h.01M59.0 124.4h.01M67.2 127.6h.01M97.5 127.3h.01M57.6 128.7h.01M60.1 129.8h.01M54.5 129.5h.01M59.3 128.2h.01M95.4 125.5h.01" stroke="#111" stroke-width="0.75" stroke-linecap="round" fill="none" opacity="0.6"/><path d="M112.4 127.3h.01M117.1 125.9h.01M106.1 127.2h.01M106.6 127.4h.01M104.4 126.8h.01M107.2 127.8h.01M104.4 127.3h.01M115.4 124.9h.01M118.6 125.5h.01M118.8 127.7h.01M104.9 125.8h.01M106.6 127.8h.01M115.9 126.3h.01M105.0 128.1h.01M118.0 127.1h.01M119.7 128.9h.01M104.1 126.4h.01M103.8 126.9h.01M115.2 127.6h.01M106.1 127.6h.01M106.4 128.7h.01M119.6 128.4h.01M109.4 125.7h.01M109.9 127.3h.01M107.7 126.7h.01M120.0 123.4h.01M115.2 126.7h.01M106.0 126.3h.01M109.3 127.1h.01M112.3 127.6h.01" stroke="#888" stroke-width="0.7" stroke-linecap="round" fill="none" opacity="0.5"/></g><circle cx="91.6" cy="110.2" r="0.9" fill="none" stroke="#c0405a" stroke-width="0.5"/><text x="93.60" y="108.90" font-size="7.2" text-anchor="start" fill="#111">p21</text><rect x="37.70" y="89.40" width="95.30" height="86.60" fill="none" stroke="#111" stroke-width="1.2"/><line x1="34.70" y1="96.90" x2="37.70" y2="96.90" stroke="#111" stroke-width="1.0"/><text x="31.80" y="99.10" font-size="6.3" text-anchor="end" fill="#111">4</text><line x1="34.70" y1="112.00" x2="37.70" y2="112.00" stroke="#111" stroke-width="1.0"/><text x="31.80" y="114.20" font-size="6.3" text-anchor="end" fill="#111">2</text><line x1="34.70" y1="127.10" x2="37.70" y2="127.10" stroke="#111" stroke-width="1.0"/><text x="31.80" y="129.30" font-size="6.3" text-anchor="end" fill="#111">0</text><line x1="34.70" y1="142.20" x2="37.70" y2="142.20" stroke="#111" stroke-width="1.0"/><text x="31.80" y="144.40" font-size="6.3" text-anchor="end" fill="#111">-2</text><line x1="34.70" y1="157.30" x2="37.70" y2="157.30" stroke="#111" stroke-width="1.0"/><text x="31.80" y="159.50" font-size="6.3" text-anchor="end" fill="#111">-4</text><line x1="34.70" y1="172.40" x2="37.70" y2="172.40" stroke="#111" stroke-width="1.0"/><text x="31.80" y="174.60" font-size="6.3" text-anchor="end" fill="#111">-6</text><line x1="43.30" y1="176.00" x2="43.30" y2="178.50" stroke="#111" stroke-width="1.0"/><text x="43.30" y="186.50" font-size="6.3" text-anchor="middle" fill="#111">0</text><line x1="56.66" y1="176.00" x2="56.66" y2="178.50" stroke="#111" stroke-width="1.0"/><text x="56.66" y="186.50" font-size="6.3" text-anchor="middle" fill="#111">2</text><line x1="70.02" y1="176.00" x2="70.02" y2="178.50" stroke="#111" stroke-width="1.0"/><text x="70.02" y="186.50" font-size="6.3" text-anchor="middle" fill="#111">4</text><line x1="83.38" y1="176.00" x2="83.38" y2="178.50" stroke="#111" stroke-width="1.0"/><text x="83.38" y="186.50" font-size="6.3" text-anchor="middle" fill="#111">6</text><line x1="96.74" y1="176.00" x2="96.74" y2="178.50" stroke="#111" stroke-width="1.0"/><text x="96.74" y="186.50" font-size="6.3" text-anchor="middle" fill="#111">8</text><line x1="110.10" y1="176.00" x2="110.10" y2="178.50" stroke="#111" stroke-width="1.0"/><text x="110.10" y="186.50" font-size="6.3" text-anchor="middle" fill="#111">10</text><line x1="123.46" y1="176.00" x2="123.46" y2="178.50" stroke="#111" stroke-width="1.0"/><text x="123.46" y="186.50" font-size="6.3" text-anchor="middle" fill="#111">12</text><text x="19.00" y="132.90" font-size="7.4" text-anchor="middle" fill="#111" transform="rotate(-90 19.0 132.9)">logFC</text><text x="85.50" y="196.80" font-size="7.6" text-anchor="middle" fill="#111">Average logCPM</text><text x="43.00" y="170.50" font-size="6.2" text-anchor="start" fill="#111">FDR 0.1</text><text x="75.60" y="170.50" font-size="6.4" text-anchor="start" fill="#111">1730 genes</text><text x="173.80" y="66.60" font-size="11.5" text-anchor="start" fill="#111" font-weight="bold">C</text><rect x="329.50" y="61.60" width="84.57" height="7.50" fill="#cc3a2e"/><line x1="327.00" y1="65.35" x2="329.50" y2="65.35" stroke="#111" stroke-width="0.9"/><text x="323.90" y="67.65" font-size="6.65" text-anchor="end" fill="#111">Inhibition of neutrophil migration</text><rect x="329.50" y="73.28" width="62.68" height="7.50" fill="#cc3a2e"/><line x1="327.00" y1="77.03" x2="329.50" y2="77.03" stroke="#111" stroke-width="0.9"/><text x="323.90" y="79.33" font-size="6.65" text-anchor="end" fill="#111">Integrin inside-out signaling in neutrophils</text><rect x="329.50" y="84.96" width="58.21" height="7.50" fill="#cc3a2e"/><line x1="327.00" y1="88.71" x2="329.50" y2="88.71" stroke="#111" stroke-width="0.9"/><text x="323.90" y="91.01" font-size="6.65" text-anchor="end" fill="#111">Transcription regulation granulocyte development</text><rect x="329.50" y="96.64" width="54.23" height="7.50" fill="#cc3a2e"/><line x1="327.00" y1="100.39" x2="329.50" y2="100.39" stroke="#111" stroke-width="0.9"/><text x="323.90" y="102.69" font-size="6.65" text-anchor="end" fill="#111">Platelet activating factor/PTAFR pathway signaling</text><rect x="329.50" y="108.32" width="53.23" height="7.50" fill="#cc3a2e"/><line x1="327.00" y1="112.07" x2="329.50" y2="112.07" stroke="#111" stroke-width="0.9"/><text x="323.90" y="114.37" font-size="6.65" text-anchor="end" fill="#111">Sirtuin6 regualtion and function</text><rect x="329.50" y="120.00" width="52.24" height="7.50" fill="#cc3a2e"/><line x1="327.00" y1="123.75" x2="329.50" y2="123.75" stroke="#111" stroke-width="0.9"/><text x="323.90" y="126.05" font-size="6.65" text-anchor="end" fill="#111">Cytokine-mediated regulation of megakaryopoiesis</text><rect x="329.50" y="131.68" width="52.24" height="7.50" fill="#cc3a2e"/><line x1="327.00" y1="135.43" x2="329.50" y2="135.43" stroke="#111" stroke-width="0.9"/><text x="323.90" y="137.73" font-size="6.65" text-anchor="end" fill="#111">G-CSF-induced myeloid differentiation</text><rect x="329.50" y="143.36" width="50.74" height="7.50" fill="#cc3a2e"/><line x1="327.00" y1="147.11" x2="329.50" y2="147.11" stroke="#111" stroke-width="0.9"/><text x="323.90" y="149.41" font-size="6.65" text-anchor="end" fill="#111">CRTH2 signaling in Th2 cells</text><rect x="329.50" y="155.04" width="50.74" height="7.50" fill="#cc3a2e"/><line x1="327.00" y1="158.79" x2="329.50" y2="158.79" stroke="#111" stroke-width="0.9"/><text x="323.90" y="161.09" font-size="6.65" text-anchor="end" fill="#111">Immunological synapse formation</text><rect x="329.50" y="166.72" width="45.77" height="7.50" fill="#cc3a2e"/><line x1="327.00" y1="170.47" x2="329.50" y2="170.47" stroke="#111" stroke-width="0.9"/><text x="323.90" y="172.77" font-size="6.65" text-anchor="end" fill="#111">Thrombopoetin signaling via JAK-STAT pathway</text><line x1="329.50" y1="59.30" x2="329.50" y2="176.90" stroke="#111" stroke-width="1.2"/><line x1="328.90" y1="176.30" x2="430.50" y2="176.30" stroke="#111" stroke-width="1.2"/><line x1="329.50" y1="176.20" x2="329.50" y2="179.00" stroke="#111" stroke-width="0.9"/><text x="329.50" y="186.60" font-size="6.4" text-anchor="middle" fill="#111">0</text><line x1="349.40" y1="176.20" x2="349.40" y2="179.00" stroke="#111" stroke-width="0.9"/><text x="349.40" y="186.60" font-size="6.4" text-anchor="middle" fill="#111">2</text><line x1="369.30" y1="176.20" x2="369.30" y2="179.00" stroke="#111" stroke-width="0.9"/><text x="369.30" y="186.60" font-size="6.4" text-anchor="middle" fill="#111">4</text><line x1="389.20" y1="176.20" x2="389.20" y2="179.00" stroke="#111" stroke-width="0.9"/><text x="389.20" y="186.60" font-size="6.4" text-anchor="middle" fill="#111">6</text><line x1="409.10" y1="176.20" x2="409.10" y2="179.00" stroke="#111" stroke-width="0.9"/><text x="409.10" y="186.60" font-size="6.4" text-anchor="middle" fill="#111">8</text><line x1="429.00" y1="176.20" x2="429.00" y2="179.00" stroke="#111" stroke-width="0.9"/><text x="429.00" y="186.60" font-size="6.4" text-anchor="middle" fill="#111">10</text><text x="380.80" y="198.30" font-size="7.9" text-anchor="middle" fill="#111">-log(pvalue)</text><text x="7.70" y="211.50" font-size="11.5" text-anchor="start" fill="#111" font-weight="bold">D</text><rect x="44.30" y="237.20" width="9.50" height="71.60" fill="#2d4f8e" stroke="#1f3c70" stroke-width="0.4"/><line x1="49.05" y1="237.20" x2="49.05" y2="234.52" stroke="#111" stroke-width="0.8"/><line x1="46.85" y1="234.52" x2="51.25" y2="234.52" stroke="#111" stroke-width="0.9"/><rect x="57.20" y="269.42" width="9.50" height="39.38" fill="#d4382a" stroke="#a82a20" stroke-width="0.4"/><line x1="61.95" y1="269.42" x2="61.95" y2="267.18" stroke="#111" stroke-width="0.8"/><line x1="59.75" y1="267.18" x2="64.15" y2="267.18" stroke="#111" stroke-width="0.9"/><rect x="80.30" y="292.24" width="9.50" height="16.56" fill="#2d4f8e" stroke="#1f3c70" stroke-width="0.4"/><line x1="85.05" y1="292.24" x2="85.05" y2="290.45" stroke="#111" stroke-width="0.8"/><line x1="82.85" y1="290.45" x2="87.25" y2="290.45" stroke="#111" stroke-width="0.9"/><rect x="93.20" y="269.42" width="9.50" height="39.38" fill="#d4382a" stroke="#a82a20" stroke-width="0.4"/><line x1="97.95" y1="269.42" x2="97.95" y2="267.63" stroke="#111" stroke-width="0.8"/><line x1="95.75" y1="267.63" x2="100.15" y2="267.63" stroke="#111" stroke-width="0.9"/><path d="M116.0 308.8 Q121.2 305.6 126.5 308.8 Z" fill="#1a1a1a"/><rect x="129.20" y="297.70" width="9.50" height="11.10" fill="#d4382a" stroke="#a82a20" stroke-width="0.4"/><line x1="133.95" y1="297.70" x2="133.95" y2="295.91" stroke="#111" stroke-width="0.8"/><line x1="131.75" y1="295.91" x2="136.15" y2="295.91" stroke="#111" stroke-width="0.9"/><line x1="48.50" y1="232.40" x2="62.30" y2="232.40" stroke="#111" stroke-width="0.9"/><circle cx="50.15" cy="227.40" r="1.05" fill="#1a1a1a"/><circle cx="53.65" cy="227.40" r="1.05" fill="#1a1a1a"/><circle cx="57.15" cy="227.40" r="1.05" fill="#1a1a1a"/><circle cx="60.65" cy="227.40" r="1.05" fill="#1a1a1a"/><line x1="85.40" y1="264.70" x2="99.20" y2="264.70" stroke="#111" stroke-width="0.9"/><circle cx="87.05" cy="259.70" r="1.05" fill="#1a1a1a"/><circle cx="90.55" cy="259.70" r="1.05" fill="#1a1a1a"/><circle cx="94.05" cy="259.70" r="1.05" fill="#1a1a1a"/><circle cx="97.55" cy="259.70" r="1.05" fill="#1a1a1a"/><line x1="121.20" y1="293.00" x2="135.00" y2="293.00" stroke="#111" stroke-width="0.9"/><circle cx="124.60" cy="288.00" r="1.05" fill="#1a1a1a"/><circle cx="128.10" cy="288.00" r="1.05" fill="#1a1a1a"/><circle cx="131.60" cy="288.00" r="1.05" fill="#1a1a1a"/><path d="M37.5 308.8 L37.5 219.3 L144.7 219.3 L144.7 308.8 L37.5 308.8" fill="none" stroke="#111" stroke-width="1.15"/><line x1="34.70" y1="308.80" x2="37.50" y2="308.80" stroke="#111" stroke-width="1.0"/><text x="33.70" y="311.00" font-size="6.3" text-anchor="end" fill="#111">0</text><line x1="34.70" y1="290.90" x2="37.50" y2="290.90" stroke="#111" stroke-width="1.0"/><text x="33.70" y="293.10" font-size="6.3" text-anchor="end" fill="#111">20</text><line x1="34.70" y1="273.00" x2="37.50" y2="273.00" stroke="#111" stroke-width="1.0"/><text x="33.70" y="275.20" font-size="6.3" text-anchor="end" fill="#111">40</text><line x1="34.70" y1="255.10" x2="37.50" y2="255.10" stroke="#111" stroke-width="1.0"/><text x="33.70" y="257.30" font-size="6.3" text-anchor="end" fill="#111">60</text><line x1="34.70" y1="237.20" x2="37.50" y2="237.20" stroke="#111" stroke-width="1.0"/><text x="33.70" y="239.40" font-size="6.3" text-anchor="end" fill="#111">80</text><line x1="34.70" y1="219.30" x2="37.50" y2="219.30" stroke="#111" stroke-width="1.0"/><text x="33.70" y="221.50" font-size="6.3" text-anchor="end" fill="#111">100</text><line x1="55.00" y1="308.80" x2="55.00" y2="311.80" stroke="#111" stroke-width="1.0"/><line x1="91.20" y1="308.80" x2="91.20" y2="311.80" stroke="#111" stroke-width="1.0"/><line x1="127.00" y1="308.80" x2="127.00" y2="311.80" stroke="#111" stroke-width="1.0"/><rect x="110.80" y="222.70" width="5.00" height="4.50" fill="#2d4f8e"/><rect x="110.80" y="232.30" width="5.00" height="4.50" fill="#d4382a"/><text x="118.80" y="226.90" font-size="6.0" text-anchor="start" fill="#111">vehicle</text><text x="118.80" y="236.50" font-size="6.0" text-anchor="start" fill="#111">CX-5461</text><text x="37.70" y="211.40" font-size="8.6" text-anchor="start" fill="#111">p53WT</text><text x="13.50" y="263.00" font-size="8.0" text-anchor="middle" fill="#111" transform="rotate(-90 13.5 263.0)">% cells</text><text x="56.00" y="319.10" font-size="6.2" text-anchor="end" fill="#111" transform="rotate(-45 56.0 319.1)">myeloid</text><text x="61.30" y="324.40" font-size="6.2" text-anchor="end" fill="#111" transform="rotate(-45 61.3 324.40000000000003)">blast</text><text x="92.20" y="319.10" font-size="6.2" text-anchor="end" fill="#111" transform="rotate(-45 92.2 319.1)">intermediate</text><text x="97.50" y="324.40" font-size="6.2" text-anchor="end" fill="#111" transform="rotate(-45 97.5 324.40000000000003)">myeloid</text><text x="128.30" y="319.10" font-size="6.2" text-anchor="end" fill="#111" transform="rotate(-45 128.3 319.1)">neutrophils</text><rect x="261.20" y="230.22" width="9.60" height="78.38" fill="#2d4f8e" stroke="#1f3c70" stroke-width="0.4"/><line x1="266.00" y1="230.22" x2="266.00" y2="228.94" stroke="#111" stroke-width="0.8"/><line x1="263.80" y1="228.94" x2="268.20" y2="228.94" stroke="#111" stroke-width="0.9"/><rect x="274.30" y="252.79" width="9.60" height="55.81" fill="#d4382a" stroke="#a82a20" stroke-width="0.4"/><line x1="279.10" y1="252.79" x2="279.10" y2="246.40" stroke="#111" stroke-width="0.8"/><line x1="276.90" y1="246.40" x2="281.30" y2="246.40" stroke="#111" stroke-width="0.9"/><rect x="297.20" y="301.78" width="9.60" height="6.82" fill="#2d4f8e" stroke="#1f3c70" stroke-width="0.4"/><line x1="302.00" y1="301.78" x2="302.00" y2="300.08" stroke="#111" stroke-width="0.8"/><line x1="299.80" y1="300.08" x2="304.20" y2="300.08" stroke="#111" stroke-width="0.9"/><rect x="310.60" y="287.30" width="9.60" height="21.30" fill="#d4382a" stroke="#a82a20" stroke-width="0.4"/><line x1="315.40" y1="287.30" x2="315.40" y2="284.32" stroke="#111" stroke-width="0.8"/><line x1="313.20" y1="284.32" x2="317.60" y2="284.32" stroke="#111" stroke-width="0.9"/><path d="M333.0 308.6 Q338.3 305.4 343.6 308.6 Z" fill="#1a1a1a"/><rect x="346.70" y="300.08" width="9.60" height="8.52" fill="#d4382a" stroke="#a82a20" stroke-width="0.4"/><line x1="351.50" y1="300.08" x2="351.50" y2="295.82" stroke="#111" stroke-width="0.8"/><line x1="349.30" y1="295.82" x2="353.70" y2="295.82" stroke="#111" stroke-width="0.9"/><line x1="265.20" y1="225.20" x2="278.50" y2="225.20" stroke="#111" stroke-width="0.9"/><circle cx="270.10" cy="222.20" r="1.05" fill="#1a1a1a"/><circle cx="273.60" cy="222.20" r="1.05" fill="#1a1a1a"/><line x1="302.30" y1="280.20" x2="315.70" y2="280.20" stroke="#111" stroke-width="0.9"/><circle cx="307.25" cy="275.20" r="1.05" fill="#1a1a1a"/><circle cx="310.75" cy="275.20" r="1.05" fill="#1a1a1a"/><line x1="337.50" y1="291.50" x2="351.50" y2="291.50" stroke="#111" stroke-width="0.9"/><text x="344.50" y="289.70" font-size="6.4" text-anchor="middle" fill="#111">ns</text><path d="M254.6 308.6 L254.6 219.4 L361.7 219.4 L361.7 308.6 L254.6 308.6" fill="none" stroke="#111" stroke-width="1.15"/><line x1="251.80" y1="308.60" x2="254.60" y2="308.60" stroke="#111" stroke-width="1.0"/><text x="250.80" y="310.80" font-size="6.3" text-anchor="end" fill="#111">0</text><line x1="251.80" y1="291.56" x2="254.60" y2="291.56" stroke="#111" stroke-width="1.0"/><text x="250.80" y="293.76" font-size="6.3" text-anchor="end" fill="#111">20</text><line x1="251.80" y1="274.52" x2="254.60" y2="274.52" stroke="#111" stroke-width="1.0"/><text x="250.80" y="276.72" font-size="6.3" text-anchor="end" fill="#111">40</text><line x1="251.80" y1="257.48" x2="254.60" y2="257.48" stroke="#111" stroke-width="1.0"/><text x="250.80" y="259.68" font-size="6.3" text-anchor="end" fill="#111">60</text><line x1="251.80" y1="240.44" x2="254.60" y2="240.44" stroke="#111" stroke-width="1.0"/><text x="250.80" y="242.64" font-size="6.3" text-anchor="end" fill="#111">80</text><line x1="251.80" y1="223.40" x2="254.60" y2="223.40" stroke="#111" stroke-width="1.0"/><text x="250.80" y="225.60" font-size="6.3" text-anchor="end" fill="#111">100</text><line x1="272.90" y1="308.60" x2="272.90" y2="311.60" stroke="#111" stroke-width="1.0"/><line x1="309.00" y1="308.60" x2="309.00" y2="311.60" stroke="#111" stroke-width="1.0"/><line x1="344.80" y1="308.60" x2="344.80" y2="311.60" stroke="#111" stroke-width="1.0"/><rect x="327.30" y="223.70" width="5.00" height="4.50" fill="#2d4f8e"/><rect x="327.30" y="233.70" width="5.00" height="4.50" fill="#d4382a"/><text x="335.30" y="227.90" font-size="6.0" text-anchor="start" fill="#111">vehicle</text><text x="335.30" y="237.90" font-size="6.0" text-anchor="start" fill="#111">CX-5461</text><text x="254.00" y="215.00" font-size="8.6" text-anchor="start" fill="#111">p53null</text><text x="232.30" y="264.20" font-size="8.0" text-anchor="middle" fill="#111" transform="rotate(-90 232.3 264.2)">% cells</text><text x="273.90" y="318.90" font-size="6.2" text-anchor="end" fill="#111" transform="rotate(-45 273.9 318.90000000000003)">myeloid</text><text x="279.20" y="324.20" font-size="6.2" text-anchor="end" fill="#111" transform="rotate(-45 279.2 324.20000000000005)">blast</text><text x="310.00" y="318.90" font-size="6.2" text-anchor="end" fill="#111" transform="rotate(-45 310.0 318.90000000000003)">intermediate</text><text x="315.30" y="324.20" font-size="6.2" text-anchor="end" fill="#111" transform="rotate(-45 315.3 324.20000000000005)">myeloid</text><text x="346.10" y="318.90" font-size="6.2" text-anchor="end" fill="#111" transform="rotate(-45 346.1 318.90000000000003)">neutrophils</text><text x="148.00" y="215.10" font-size="8.6" text-anchor="start" fill="#111">vehicle</text><text x="148.00" y="291.00" font-size="8.6" text-anchor="start" fill="#111">CX-5461</text><clipPath id="cD1"><rect x="148" y="216" width="66" height="64.2"/></clipPath><g clip-path="url(#cD1)"><ellipse cx="208.0" cy="218.5" rx="5.0" ry="3.0" fill="url(#gHaze)" opacity="0.8"/><ellipse cx="203.8" cy="228.1" rx="2.6" ry="2.6" fill="url(#gPink)" stroke="#f4f0f8" stroke-width="0.8"/><ellipse cx="185.0" cy="251.9" rx="2.8" ry="2.8" fill="url(#gPink)" stroke="#f4f0f8" stroke-width="0.8"/><ellipse cx="164.4" cy="229.8" rx="7.1" ry="6.6" fill="url(#gDark)" stroke="#f4f0f8" stroke-width="0.8"/><ellipse cx="176.3" cy="228.8" rx="6.7" ry="7.1" fill="url(#gNavy)" stroke="#f4f0f8" stroke-width="0.8" transform="rotate(20 176.3 228.8)"/><ellipse cx="192.5" cy="225.6" rx="7.5" ry="7.2" fill="url(#gMed)" stroke="#f4f0f8" stroke-width="0.8"/><ellipse cx="204.4" cy="236.3" rx="6.2" ry="6.2" fill="url(#gMed)" stroke="#f4f0f8" stroke-width="0.8"/><ellipse cx="185.0" cy="235.0" rx="7.2" ry="7.2" fill="url(#gLight)" stroke="#f4f0f8" stroke-width="0.8"/><ellipse cx="194.4" cy="237.5" rx="5.7" ry="6.2" fill="url(#gNavy)" stroke="#f4f0f8" stroke-width="0.8"/><ellipse cx="165.6" cy="241.9" rx="7.4" ry="7.1" fill="url(#gMed)" stroke="#f4f0f8" stroke-width="0.8"/><ellipse cx="178.1" cy="243.8" rx="7.8" ry="7.4" fill="url(#gMed)" stroke="#f4f0f8" stroke-width="0.8"/><ellipse cx="188.1" cy="245.0" rx="5.2" ry="5.2" fill="url(#gDark)" stroke="#f4f0f8" stroke-width="0.8"/><ellipse cx="201.9" cy="245.6" rx="6.3" ry="5.9" fill="url(#gDark)" stroke="#f4f0f8" stroke-width="0.8"/><ellipse cx="193.8" cy="251.3" rx="6.3" ry="5.9" fill="url(#gDark)" stroke="#f4f0f8" stroke-width="0.8"/><ellipse cx="157.8" cy="266.0" rx="6.4" ry="5.9" fill="url(#gDark)" stroke="#f4f0f8" stroke-width="0.8"/><ellipse cx="165.6" cy="273.8" rx="5.9" ry="5.2" fill="url(#gDark)" stroke="#f4f0f8" stroke-width="0.8"/><ellipse cx="173.5" cy="276.8" rx="4.3" ry="3.9" fill="url(#gMed)" stroke="#f4f0f8" stroke-width="0.8"/><ellipse cx="181.0" cy="278.2" rx="3.4" ry="3.0" fill="url(#gMed)" stroke="#f4f0f8" stroke-width="0.8"/><ellipse cx="190.8" cy="276.8" rx="6.8" ry="4.8" fill="url(#gLight)" stroke="#f4f0f8" stroke-width="0.8"/></g><rect x="202.20" y="276.70" width="9.40" height="1.50" fill="#111"/><ellipse cx="206.0" cy="324.8" rx="6.3" ry="9.7" fill="url(#gPink)" stroke="#f4f0f8" stroke-width="0.8"/><ellipse cx="157.7" cy="309.3" rx="8.3" ry="8.3" fill="url(#gRim)" stroke="#f4f0f8" stroke-width="0.8"/><ellipse cx="173.1" cy="310.6" rx="7.2" ry="6.8" fill="url(#gNavy)" stroke="#f4f0f8" stroke-width="0.8"/><ellipse cx="188.0" cy="301.0" rx="9.3" ry="7.8" fill="url(#gDark)" stroke="#f4f0f8" stroke-width="0.8"/><ellipse cx="204.7" cy="301.0" rx="7.8" ry="7.3" fill="url(#gMed)" stroke="#f4f0f8" stroke-width="0.8"/><ellipse cx="186.0" cy="311.3" rx="4.6" ry="3.8" fill="url(#gNavy)" stroke="#f4f0f8" stroke-width="0.8"/><ellipse cx="197.6" cy="309.3" rx="6.2" ry="5.7" fill="url(#gNavy)" stroke="#f4f0f8" stroke-width="0.8"/><ellipse cx="206.6" cy="313.8" rx="6.6" ry="6.4" fill="url(#gDark)" stroke="#f4f0f8" stroke-width="0.8"/><ellipse cx="164.1" cy="321.6" rx="7.8" ry="7.8" fill="url(#gRimM)" stroke="#f4f0f8" stroke-width="0.8"/><ellipse cx="182.8" cy="320.9" rx="7.8" ry="7.2" fill="url(#gMed)" stroke="#f4f0f8" stroke-width="0.8"/><ellipse cx="197.0" cy="316.4" rx="4.8" ry="4.1" fill="url(#gNavy)" stroke="#f4f0f8" stroke-width="0.8"/><ellipse cx="194.4" cy="324.1" rx="6.2" ry="6.6" fill="url(#gMed)" stroke="#f4f0f8" stroke-width="0.8"/><ellipse cx="169.0" cy="350.0" rx="5.9" ry="5.9" fill="url(#gDark)" stroke="#f4f0f8" stroke-width="0.8"/><ellipse cx="190.8" cy="348.6" rx="8.2" ry="8.2" fill="url(#gRimM)" stroke="#f4f0f8" stroke-width="0.8"/><rect x="200.90" y="350.00" width="10.70" height="1.50" fill="#111"/><text x="200.30" y="357.60" font-size="5.8" text-anchor="start" fill="#111">10μm</text><text x="369.40" y="214.90" font-size="8.6" text-anchor="start" fill="#111">vehicle</text><text x="369.40" y="297.40" font-size="8.6" text-anchor="start" fill="#111">CX-5461</text><clipPath id="cD3"><rect x="369" y="216" width="62" height="62"/></clipPath><g clip-path="url(#cD3)"><rect x="369" y="216" width="62" height="62" fill="#f7f4fa"/><ellipse cx="375.0" cy="251.0" rx="8.0" ry="14.0" fill="url(#gHaze)" opacity="1.0"/><ellipse cx="413.0" cy="240.0" rx="9.0" ry="9.0" fill="url(#gHaze)" opacity="1.0"/><ellipse cx="426.0" cy="262.0" rx="6.0" ry="12.0" fill="url(#gHaze)" opacity="0.8"/><rect x="388" y="216.5" width="15" height="6.5" rx="3" fill="#9a74b4" opacity="0.9"/><rect x="416" y="216.5" width="12" height="6" rx="3" fill="#8c70b4" opacity="0.9"/><ellipse cx="383.1" cy="235.8" rx="6.4" ry="6.4" fill="url(#gLav)" stroke="#f4f0f8" stroke-width="0.8"/><ellipse cx="374.9" cy="228.9" rx="5.7" ry="5.7" fill="url(#gBlue)" stroke="#f4f0f8" stroke-width="0.8"/><ellipse cx="383.8" cy="222.5" rx="6.3" ry="6.3" fill="url(#gBlue)" stroke="#f4f0f8" stroke-width="0.8"/><ellipse cx="393.9" cy="230.8" rx="5.1" ry="5.1" fill="url(#gBlue)" stroke="#f4f0f8" stroke-width="0.8"/><ellipse cx="407.2" cy="227.6" rx="4.8" ry="4.8" fill="url(#gBlue)" stroke="#f4f0f8" stroke-width="0.8"/><ellipse cx="416.8" cy="227.6" rx="4.8" ry="4.8" fill="url(#gBlue)" stroke="#f4f0f8" stroke-width="0.8"/><ellipse cx="425.6" cy="229.5" rx="6.3" ry="6.3" fill="url(#gBlueM)" stroke="#f4f0f8" stroke-width="0.8"/><ellipse cx="392.0" cy="241.6" rx="6.3" ry="6.3" fill="url(#gBlueM)" stroke="#f4f0f8" stroke-width="0.8"/><ellipse cx="399.0" cy="250.4" rx="6.7" ry="6.7" fill="url(#gBlueM)" stroke="#f4f0f8" stroke-width="0.8"/><ellipse cx="393.9" cy="261.9" rx="6.8" ry="6.8" fill="url(#gBlue)" stroke="#f4f0f8" stroke-width="0.8"/><ellipse cx="407.2" cy="261.2" rx="6.8" ry="6.8" fill="url(#gBlueM)" stroke="#f4f0f8" stroke-width="0.8"/><ellipse cx="400.3" cy="271.4" rx="6.3" ry="6.3" fill="url(#gBlue)" stroke="#f4f0f8" stroke-width="0.8"/><ellipse cx="418.7" cy="270.7" rx="5.7" ry="5.7" fill="url(#gBlue)" stroke="#f4f0f8" stroke-width="0.8"/></g><rect x="419.90" y="274.50" width="7.20" height="1.50" fill="#111"/><ellipse cx="380.0" cy="318.3" rx="7.5" ry="7.5" fill="url(#gRimB)" stroke="#f4f0f8" stroke-width="0.8"/><ellipse cx="392.6" cy="322.1" rx="5.7" ry="8.4" fill="url(#gBlue)" stroke="#f4f0f8" stroke-width="0.8"/><ellipse cx="404.1" cy="309.4" rx="4.9" ry="4.9" fill="url(#gRim)" stroke="#f4f0f8" stroke-width="0.8"/><ellipse cx="413.0" cy="309.4" rx="2.7" ry="4.1" fill="url(#gNavy)" stroke="#f4f0f8" stroke-width="0.8"/><ellipse cx="420.6" cy="310.0" rx="6.4" ry="6.4" fill="url(#gLavP)" stroke="#f4f0f8" stroke-width="0.8"/><ellipse cx="403.4" cy="320.2" rx="6.8" ry="6.8" fill="url(#gLavP)" stroke="#f4f0f8" stroke-width="0.8"/><ellipse cx="414.9" cy="317.7" rx="3.6" ry="3.6" fill="url(#gNavy)" stroke="#f4f0f8" stroke-width="0.8"/><ellipse cx="421.8" cy="320.8" rx="5.7" ry="5.7" fill="url(#gBlue)" stroke="#f4f0f8" stroke-width="0.8"/><ellipse cx="413.0" cy="325.9" rx="5.7" ry="5.7" fill="url(#gLav)" stroke="#f4f0f8" stroke-width="0.8"/><ellipse cx="418.0" cy="329.7" rx="6.6" ry="6.6" fill="url(#gBlueM)" stroke="#f4f0f8" stroke-width="0.8"/><ellipse cx="383.8" cy="331.0" rx="5.1" ry="5.1" fill="url(#gRimM)" stroke="#f4f0f8" stroke-width="0.8"/><rect x="418.00" y="348.10" width="8.90" height="1.50" fill="#111"/><text x="415.50" y="355.80" font-size="5.8" text-anchor="start" fill="#111">10μm</text><text x="7.70" y="361.80" font-size="11.5" text-anchor="start" fill="#111" font-weight="bold">E</text><text x="38.00" y="364.60" font-size="8.6" text-anchor="start" fill="#111">p53WT</text><path d="M65.6 436.6 L66.1 436.6 L66.6 436.5 L67.1 436.3 L67.6 436.1 L68.1 435.9 L68.6 435.6 L69.1 435.3 L69.6 434.8 L70.1 434.3 L70.6 433.6 L71.1 432.9 L71.6 432.1 L72.1 431.4 L72.6 430.6 L73.1 429.7 L73.6 428.8 L74.1 427.8 L74.6 426.8 L75.1 425.7 L75.6 424.5 L76.1 423.3 L76.6 421.9 L77.1 420.5 L77.6 418.9 L78.1 417.1 L78.6 415.0 L79.1 412.7 L79.6 410.3 L80.1 408.0 L80.6 405.6 L81.1 403.4 L81.6 401.2 L82.1 398.9 L82.6 396.6 L83.1 394.3 L83.6 392.1 L84.1 390.1 L84.6 388.2 L85.1 386.5 L85.6 384.9 L86.1 383.4 L86.6 382.0 L87.1 380.7 L87.6 379.6 L88.1 378.7 L88.6 377.7 L89.1 376.7 L89.6 376.0 L90.1 375.5 L90.6 375.3 L91.1 375.5 L91.6 376.2 L92.1 377.2 L92.6 378.3 L93.1 379.5 L93.6 381.1 L94.1 383.1 L94.6 385.3 L95.1 387.5 L95.6 389.8 L96.1 392.4 L96.6 395.0 L97.1 397.7 L97.6 400.4 L98.1 402.9 L98.6 405.3 L99.1 407.5 L99.6 409.8 L100.1 412.0 L100.6 414.1 L101.1 416.2 L101.6 418.2 L102.1 420.2 L102.6 422.3 L103.1 424.4 L103.6 426.5 L104.1 428.4 L104.6 430.1 L105.1 431.4 L105.6 432.4 L106.1 433.3 L106.6 434.1 L107.1 434.8 L107.6 435.3 L108.1 435.8 L108.6 436.1 L109.1 436.4 L109.6 436.6" fill="none" stroke="#2f5597" stroke-width="0.85"/><path d="M67.0 436.6 L67.5 436.6 L68.0 436.5 L68.5 436.3 L69.0 436.1 L69.5 435.9 L70.0 435.6 L70.5 435.3 L71.0 434.8 L71.5 434.2 L72.0 433.5 L72.5 432.8 L73.0 432.0 L73.5 431.3 L74.0 430.4 L74.5 429.6 L75.0 428.7 L75.5 427.7 L76.0 426.6 L76.5 425.5 L77.0 424.3 L77.5 423.0 L78.0 421.6 L78.5 420.2 L79.0 418.6 L79.5 416.7 L80.0 414.5 L80.5 412.2 L81.0 409.8 L81.5 407.4 L82.0 405.0 L82.5 402.8 L83.0 400.5 L83.5 398.1 L84.0 395.8 L84.5 393.5 L85.0 391.2 L85.5 389.1 L86.0 387.2 L86.5 385.5 L87.0 383.8 L87.5 382.3 L88.0 380.8 L88.5 379.6 L89.0 378.5 L89.5 377.5 L90.0 376.4 L90.5 375.5 L91.0 374.7 L91.5 374.2 L92.0 374.0 L92.5 374.3 L93.0 375.0 L93.5 376.0 L94.0 377.1 L94.5 378.3 L95.0 380.0 L95.5 382.0 L96.0 384.2 L96.5 386.5 L97.0 388.9 L97.5 391.5 L98.0 394.2 L98.5 396.9 L99.0 399.6 L99.5 402.2 L100.0 404.6 L100.5 407.0 L101.0 409.2 L101.5 411.5 L102.0 413.6 L102.5 415.8 L103.0 417.9 L103.5 419.9 L104.0 422.0 L104.5 424.2 L105.0 426.3 L105.5 428.3 L106.0 430.0 L106.5 431.3 L107.0 432.3 L107.5 433.2 L108.0 434.0 L108.5 434.7 L109.0 435.3 L109.5 435.8 L110.0 436.1 L110.5 436.4 L111.0 436.6" fill="none" stroke="#2f5597" stroke-width="0.85"/><path d="M68.2 436.6 L68.7 436.6 L69.2 436.5 L69.7 436.3 L70.2 436.1 L70.7 435.9 L71.2 435.6 L71.7 435.3 L72.2 434.8 L72.7 434.3 L73.2 433.6 L73.7 432.9 L74.2 432.2 L74.7 431.4 L75.2 430.6 L75.7 429.8 L76.2 428.9 L76.7 427.9 L77.2 426.9 L77.7 425.8 L78.2 424.6 L78.7 423.4 L79.2 422.1 L79.7 420.7 L80.2 419.1 L80.7 417.3 L81.2 415.2 L81.7 412.9 L82.2 410.6 L82.7 408.3 L83.2 406.0 L83.7 403.8 L84.2 401.6 L84.7 399.3 L85.2 397.0 L85.7 394.8 L86.2 392.6 L86.7 390.6 L87.2 388.7 L87.7 387.0 L88.2 385.4 L88.7 383.9 L89.2 382.5 L89.7 381.3 L90.2 380.2 L90.7 379.2 L91.2 378.3 L91.7 377.3 L92.2 376.6 L92.7 376.1 L93.2 375.9 L93.7 376.1 L94.2 376.8 L94.7 377.8 L95.2 378.9 L95.7 380.1 L96.2 381.7 L96.7 383.6 L97.2 385.8 L97.7 388.0 L98.2 390.3 L98.7 392.8 L99.2 395.4 L99.7 398.1 L100.2 400.8 L100.7 403.3 L101.2 405.6 L101.7 407.8 L102.2 410.1 L102.7 412.2 L103.2 414.3 L103.7 416.4 L104.2 418.4 L104.7 420.4 L105.2 422.4 L105.7 424.5 L106.2 426.6 L106.7 428.5 L107.2 430.2 L107.7 431.4 L108.2 432.4 L108.7 433.3 L109.2 434.1 L109.7 434.8 L110.2 435.3 L110.7 435.8 L111.2 436.1 L111.7 436.4 L112.2 436.6" fill="none" stroke="#2f5597" stroke-width="0.85"/><path d="M54.4 436.6 L54.9 436.3 L55.4 436.0 L55.9 435.8 L56.4 435.6 L56.9 435.3 L57.4 435.2 L57.9 435.0 L58.4 434.9 L58.9 434.7 L59.4 434.6 L59.9 434.5 L60.4 434.4 L60.9 434.4 L61.4 434.3 L61.9 434.4 L62.4 434.4 L62.9 434.5 L63.4 434.6 L63.9 434.8 L64.4 434.9 L64.9 435.0 L65.4 435.1 L65.9 435.2 L66.4 435.3 L66.9 435.4 L67.4 435.5 L67.9 435.6 L68.4 435.6 L68.9 435.6 L69.4 435.6 L69.9 435.5 L70.4 435.4 L70.9 435.3 L71.4 435.2 L71.9 435.1 L72.4 435.0 L72.9 434.9 L73.4 434.7 L73.9 434.5 L74.4 434.3 L74.9 434.1 L75.4 433.9 L75.9 433.6 L76.4 433.4 L76.9 433.1 L77.4 432.8 L77.9 432.5 L78.4 432.2 L78.9 431.8 L79.4 431.4 L79.9 431.0 L80.4 430.6 L80.9 430.2 L81.4 429.8 L81.9 429.3 L82.4 428.8 L82.9 428.3 L83.4 427.7 L83.9 427.1 L84.4 426.4 L84.9 425.8 L85.4 425.0 L85.9 424.3 L86.4 423.6 L86.9 423.0 L87.4 422.3 L87.9 421.6 L88.4 420.8 L88.9 419.7 L89.4 418.1 L89.9 416.1 L90.4 413.9 L90.9 411.5 L91.4 409.0 L91.9 406.5 L92.4 404.2 L92.9 401.9 L93.4 399.4 L93.9 396.9 L94.4 394.3 L94.9 391.9 L95.4 389.7 L95.9 387.6 L96.4 385.7 L96.9 383.9 L97.4 382.3 L97.9 380.9 L98.4 379.7 L98.9 378.7 L99.4 377.8 L99.9 377.0 L100.4 376.1 L100.9 375.2 L101.4 374.6 L101.9 374.4 L102.4 375.6 L102.9 377.8 L103.4 380.8 L103.9 385.1 L104.4 390.0 L104.9 395.5 L105.4 401.6 L105.9 408.5 L106.4 416.2 L106.9 422.9 L107.4 428.8 L107.9 432.8 L108.4 435.5 L108.9 436.3 L109.4 436.6" fill="none" stroke="#d8453a" stroke-width="0.85"/><path d="M56.0 436.6 L56.5 436.3 L57.0 436.0 L57.5 435.8 L58.0 435.5 L58.5 435.3 L59.0 435.1 L59.5 435.0 L60.0 434.8 L60.5 434.7 L61.0 434.6 L61.5 434.4 L62.0 434.3 L62.5 434.3 L63.0 434.3 L63.5 434.3 L64.0 434.4 L64.5 434.5 L65.0 434.6 L65.5 434.7 L66.0 434.8 L66.5 434.9 L67.0 435.0 L67.5 435.2 L68.0 435.3 L68.5 435.4 L69.0 435.5 L69.5 435.6 L70.0 435.6 L70.5 435.6 L71.0 435.5 L71.5 435.5 L72.0 435.4 L72.5 435.3 L73.0 435.2 L73.5 435.1 L74.0 434.9 L74.5 434.8 L75.0 434.6 L75.5 434.4 L76.0 434.2 L76.5 434.0 L77.0 433.8 L77.5 433.5 L78.0 433.3 L78.5 433.0 L79.0 432.7 L79.5 432.4 L80.0 432.0 L80.5 431.7 L81.0 431.3 L81.5 430.9 L82.0 430.5 L82.5 430.0 L83.0 429.6 L83.5 429.1 L84.0 428.6 L84.5 428.0 L85.0 427.5 L85.5 426.8 L86.0 426.1 L86.5 425.4 L87.0 424.7 L87.5 424.0 L88.0 423.2 L88.5 422.6 L89.0 421.9 L89.5 421.2 L90.0 420.3 L90.5 419.2 L91.0 417.5 L91.5 415.5 L92.0 413.2 L92.5 410.7 L93.0 408.2 L93.5 405.6 L94.0 403.2 L94.5 400.8 L95.0 398.2 L95.5 395.6 L96.0 393.0 L96.5 390.5 L97.0 388.2 L97.5 386.1 L98.0 384.1 L98.5 382.3 L99.0 380.6 L99.5 379.2 L100.0 378.0 L100.5 376.9 L101.0 376.0 L101.5 375.1 L102.0 374.2 L102.5 373.3 L103.0 372.7 L103.5 372.5 L104.0 373.8 L104.5 376.0 L105.0 379.1 L105.5 383.6 L106.0 388.5 L106.5 394.2 L107.0 400.5 L107.5 407.6 L108.0 415.6 L108.5 422.5 L109.0 428.6 L109.5 432.7 L110.0 435.4 L110.5 436.3 L111.0 436.6" fill="none" stroke="#d8453a" stroke-width="0.85"/><path d="M56.4 436.6 L56.9 436.3 L57.4 436.0 L57.9 435.8 L58.4 435.5 L58.9 435.3 L59.4 435.1 L59.9 435.0 L60.4 434.9 L60.9 434.7 L61.4 434.6 L61.9 434.5 L62.4 434.4 L62.9 434.3 L63.4 434.3 L63.9 434.3 L64.4 434.4 L64.9 434.5 L65.4 434.6 L65.9 434.7 L66.4 434.9 L66.9 435.0 L67.4 435.1 L67.9 435.2 L68.4 435.3 L68.9 435.4 L69.4 435.5 L69.9 435.6 L70.4 435.6 L70.9 435.6 L71.4 435.6 L71.9 435.5 L72.4 435.4 L72.9 435.3 L73.4 435.2 L73.9 435.1 L74.4 435.0 L74.9 434.8 L75.4 434.7 L75.9 434.5 L76.4 434.3 L76.9 434.1 L77.4 433.8 L77.9 433.6 L78.4 433.3 L78.9 433.1 L79.4 432.8 L79.9 432.4 L80.4 432.1 L80.9 431.8 L81.4 431.4 L81.9 431.0 L82.4 430.6 L82.9 430.1 L83.4 429.7 L83.9 429.2 L84.4 428.7 L84.9 428.2 L85.4 427.6 L85.9 427.0 L86.4 426.3 L86.9 425.6 L87.4 424.9 L87.9 424.2 L88.4 423.5 L88.9 422.8 L89.4 422.2 L89.9 421.5 L90.4 420.6 L90.9 419.5 L91.4 417.9 L91.9 415.9 L92.4 413.7 L92.9 411.2 L93.4 408.7 L93.9 406.2 L94.4 403.9 L94.9 401.5 L95.4 399.0 L95.9 396.5 L96.4 393.9 L96.9 391.5 L97.4 389.2 L97.9 387.1 L98.4 385.2 L98.9 383.3 L99.4 381.7 L99.9 380.3 L100.4 379.1 L100.9 378.1 L101.4 377.2 L101.9 376.4 L102.4 375.5 L102.9 374.6 L103.4 373.9 L103.9 373.8 L104.4 375.0 L104.9 377.2 L105.4 380.2 L105.9 384.6 L106.4 389.5 L106.9 395.1 L107.4 401.3 L107.9 408.2 L108.4 416.0 L108.9 422.8 L109.4 428.7 L109.9 432.7 L110.4 435.4 L110.9 436.3 L111.4 436.6" fill="none" stroke="#d8453a" stroke-width="0.85"/><rect x="36.90" y="369.80" width="76.70" height="66.80" fill="none" stroke="#111" stroke-width="1.15"/><rect x="41.00" y="373.50" width="4.40" height="4.40" fill="#2d4f8e"/><rect x="41.00" y="382.60" width="4.40" height="4.40" fill="#d4382a"/><text x="48.60" y="377.60" font-size="6.0" text-anchor="start" fill="#111">vehicle</text><text x="48.60" y="386.70" font-size="6.0" text-anchor="start" fill="#111">CX-5461</text><line x1="34.40" y1="369.80" x2="36.90" y2="369.80" stroke="#111" stroke-width="1.0"/><text x="32.70" y="371.90" font-size="6.0" text-anchor="end" fill="#111">100%</text><line x1="34.40" y1="386.50" x2="36.90" y2="386.50" stroke="#111" stroke-width="1.0"/><text x="32.70" y="388.60" font-size="6.0" text-anchor="end" fill="#111">75%</text><line x1="34.40" y1="403.20" x2="36.90" y2="403.20" stroke="#111" stroke-width="1.0"/><text x="32.70" y="405.30" font-size="6.0" text-anchor="end" fill="#111">50%</text><line x1="34.40" y1="419.90" x2="36.90" y2="419.90" stroke="#111" stroke-width="1.0"/><text x="32.70" y="422.00" font-size="6.0" text-anchor="end" fill="#111">25%</text><line x1="36.30" y1="436.60" x2="114.20" y2="436.60" stroke="#111" stroke-width="1.2"/><line x1="45.60" y1="436.60" x2="45.60" y2="439.20" stroke="#111" stroke-width="0.9"/><text x="45.60" y="446.80" font-size="5.8" text-anchor="middle" fill="#111">0</text><line x1="66.70" y1="436.60" x2="66.70" y2="439.20" stroke="#111" stroke-width="0.9"/><text x="62.51" y="446.80" font-size="5.8" fill="#111">10<tspan font-size="3.48" dy="-2.32">3</tspan></text><line x1="86.20" y1="436.60" x2="86.20" y2="439.20" stroke="#111" stroke-width="0.9"/><text x="82.01" y="446.80" font-size="5.8" fill="#111">10<tspan font-size="3.48" dy="-2.32">4</tspan></text><line x1="105.30" y1="436.60" x2="105.30" y2="439.20" stroke="#111" stroke-width="0.9"/><text x="101.11" y="446.80" font-size="5.8" fill="#111">10<tspan font-size="3.48" dy="-2.32">5</tspan></text><line x1="51.93" y1="436.60" x2="51.93" y2="438.00" stroke="#111" stroke-width="0.6"/><line x1="55.73" y1="436.60" x2="55.73" y2="438.00" stroke="#111" stroke-width="0.6"/><line x1="58.26" y1="436.60" x2="58.26" y2="438.00" stroke="#111" stroke-width="0.6"/><line x1="60.37" y1="436.60" x2="60.37" y2="438.00" stroke="#111" stroke-width="0.6"/><line x1="62.06" y1="436.60" x2="62.06" y2="438.00" stroke="#111" stroke-width="0.6"/><line x1="63.54" y1="436.60" x2="63.54" y2="438.00" stroke="#111" stroke-width="0.6"/><line x1="64.59" y1="436.60" x2="64.59" y2="438.00" stroke="#111" stroke-width="0.6"/><line x1="65.65" y1="436.60" x2="65.65" y2="438.00" stroke="#111" stroke-width="0.6"/><line x1="72.55" y1="436.60" x2="72.55" y2="438.00" stroke="#111" stroke-width="0.6"/><line x1="76.06" y1="436.60" x2="76.06" y2="438.00" stroke="#111" stroke-width="0.6"/><line x1="78.40" y1="436.60" x2="78.40" y2="438.00" stroke="#111" stroke-width="0.6"/><line x1="80.35" y1="436.60" x2="80.35" y2="438.00" stroke="#111" stroke-width="0.6"/><line x1="81.91" y1="436.60" x2="81.91" y2="438.00" stroke="#111" stroke-width="0.6"/><line x1="83.28" y1="436.60" x2="83.28" y2="438.00" stroke="#111" stroke-width="0.6"/><line x1="84.25" y1="436.60" x2="84.25" y2="438.00" stroke="#111" stroke-width="0.6"/><line x1="85.22" y1="436.60" x2="85.22" y2="438.00" stroke="#111" stroke-width="0.6"/><line x1="91.93" y1="436.60" x2="91.93" y2="438.00" stroke="#111" stroke-width="0.6"/><line x1="95.37" y1="436.60" x2="95.37" y2="438.00" stroke="#111" stroke-width="0.6"/><line x1="97.66" y1="436.60" x2="97.66" y2="438.00" stroke="#111" stroke-width="0.6"/><line x1="99.57" y1="436.60" x2="99.57" y2="438.00" stroke="#111" stroke-width="0.6"/><line x1="101.10" y1="436.60" x2="101.10" y2="438.00" stroke="#111" stroke-width="0.6"/><line x1="102.44" y1="436.60" x2="102.44" y2="438.00" stroke="#111" stroke-width="0.6"/><line x1="103.39" y1="436.60" x2="103.39" y2="438.00" stroke="#111" stroke-width="0.6"/><line x1="104.34" y1="436.60" x2="104.34" y2="438.00" stroke="#111" stroke-width="0.6"/><text x="37.60" y="460.20" font-size="8.6" text-anchor="start" fill="#111">p53null</text><path d="M43.9 531.9 L44.4 531.8 L44.9 531.7 L45.4 531.5 L45.9 531.2 L46.4 530.8 L46.9 530.1 L47.4 529.4 L47.9 528.4 L48.4 527.5 L48.9 526.4 L49.4 525.3 L49.9 524.2 L50.4 522.8 L50.9 521.3 L51.4 519.7 L51.9 518.0 L52.4 516.4 L52.9 514.9 L53.4 513.3 L53.9 511.8 L54.4 510.3 L54.9 508.7 L55.4 507.2 L55.9 505.6 L56.4 504.0 L56.9 502.4 L57.4 500.7 L57.9 499.1 L58.4 497.4 L58.9 495.6 L59.4 493.8 L59.9 491.9 L60.4 490.0 L60.9 488.2 L61.4 486.4 L61.9 484.7 L62.4 483.0 L62.9 481.4 L63.4 479.6 L63.9 478.0 L64.4 476.4 L64.9 475.1 L65.4 474.1 L65.9 473.4 L66.4 472.8 L66.9 472.3 L67.4 471.9 L67.9 471.5 L68.4 471.2 L68.9 470.9 L69.4 470.6 L69.9 470.4 L70.4 470.3 L70.9 470.2 L71.4 470.3 L71.9 470.4 L72.4 470.6 L72.9 470.9 L73.4 471.2 L73.9 471.5 L74.4 471.9 L74.9 472.5 L75.4 473.1 L75.9 473.9 L76.4 474.7 L76.9 475.5 L77.4 476.2 L77.9 477.0 L78.4 477.9 L78.9 478.8 L79.4 479.9 L79.9 481.1 L80.4 482.7 L80.9 485.1 L81.4 488.6 L81.9 492.7 L82.4 496.8 L82.9 500.5 L83.4 504.3 L83.9 508.1 L84.4 511.7 L84.9 514.9 L85.4 517.7 L85.9 520.5 L86.4 523.0 L86.9 525.1 L87.4 526.6 L87.9 527.8 L88.4 528.8 L88.9 529.7 L89.4 530.4 L89.9 531.0 L90.4 531.4 L90.9 531.7 L91.4 531.9" fill="none" stroke="#2a4585" stroke-width="1.0"/><path d="M44.5 531.9 L45.0 531.8 L45.5 531.7 L46.0 531.4 L46.5 531.2 L47.0 530.7 L47.5 530.1 L48.0 529.3 L48.5 528.4 L49.0 527.4 L49.5 526.3 L50.0 525.3 L50.5 524.1 L51.0 522.7 L51.5 521.2 L52.0 519.5 L52.5 517.9 L53.0 516.3 L53.5 514.7 L54.0 513.2 L54.5 511.6 L55.0 510.1 L55.5 508.5 L56.0 506.9 L56.5 505.3 L57.0 503.7 L57.5 502.1 L58.0 500.4 L58.5 498.8 L59.0 497.0 L59.5 495.2 L60.0 493.4 L60.5 491.5 L61.0 489.6 L61.5 487.8 L62.0 485.9 L62.5 484.2 L63.0 482.5 L63.5 480.8 L64.0 479.1 L64.5 477.4 L65.0 475.9 L65.5 474.5 L66.0 473.6 L66.5 472.8 L67.0 472.2 L67.5 471.7 L68.0 471.3 L68.5 470.9 L69.0 470.6 L69.5 470.3 L70.0 470.0 L70.5 469.8 L71.0 469.6 L71.5 469.6 L72.0 469.6 L72.5 469.8 L73.0 470.0 L73.5 470.3 L74.0 470.6 L74.5 470.9 L75.0 471.3 L75.5 471.9 L76.0 472.5 L76.5 473.3 L77.0 474.1 L77.5 474.9 L78.0 475.7 L78.5 476.5 L79.0 477.3 L79.5 478.3 L80.0 479.3 L80.5 480.6 L81.0 482.2 L81.5 484.6 L82.0 488.2 L82.5 492.3 L83.0 496.5 L83.5 500.2 L84.0 504.0 L84.5 507.9 L85.0 511.5 L85.5 514.7 L86.0 517.6 L86.5 520.4 L87.0 522.9 L87.5 525.0 L88.0 526.6 L88.5 527.8 L89.0 528.8 L89.5 529.7 L90.0 530.4 L90.5 531.0 L91.0 531.4 L91.5 531.7 L92.0 531.9" fill="none" stroke="#2a4585" stroke-width="1.0"/><path d="M45.1 531.9 L45.6 531.8 L46.1 531.7 L46.6 531.4 L47.1 531.2 L47.6 530.7 L48.1 530.1 L48.6 529.3 L49.1 528.4 L49.6 527.4 L50.2 526.3 L50.7 525.3 L51.2 524.1 L51.7 522.7 L52.2 521.1 L52.7 519.5 L53.2 517.9 L53.7 516.3 L54.2 514.8 L54.7 513.2 L55.2 511.7 L55.7 510.1 L56.2 508.6 L56.7 507.0 L57.2 505.5 L57.7 503.9 L58.2 502.2 L58.7 500.6 L59.2 498.9 L59.8 497.2 L60.3 495.4 L60.8 493.5 L61.3 491.7 L61.8 489.8 L62.3 488.0 L62.8 486.2 L63.3 484.5 L63.8 482.9 L64.3 481.2 L64.8 479.5 L65.3 477.8 L65.8 476.4 L66.3 475.2 L66.8 474.4 L67.3 473.7 L67.8 473.2 L68.3 472.7 L68.8 472.3 L69.4 472.0 L69.9 471.7 L70.4 471.4 L70.9 471.1 L71.4 470.9 L71.9 470.8 L72.4 470.8 L72.9 470.9 L73.4 471.1 L73.9 471.4 L74.4 471.7 L74.9 472.0 L75.4 472.4 L75.9 472.9 L76.4 473.5 L76.9 474.2 L77.4 475.0 L77.9 475.8 L78.5 476.6 L79.0 477.3 L79.5 478.2 L80.0 479.1 L80.5 480.1 L81.0 481.3 L81.5 482.8 L82.0 484.9 L82.5 488.2 L83.0 492.2 L83.5 496.4 L84.0 500.2 L84.5 503.9 L85.0 507.7 L85.5 511.4 L86.0 514.7 L86.5 517.5 L87.0 520.3 L87.5 522.8 L88.1 525.0 L88.6 526.6 L89.1 527.8 L89.6 528.8 L90.1 529.7 L90.6 530.4 L91.1 531.0 L91.6 531.4 L92.1 531.7 L92.6 531.9" fill="none" stroke="#2a4585" stroke-width="1.0"/><path d="M45.3 531.9 L45.8 531.8 L46.3 531.6 L46.8 531.4 L47.3 531.3 L47.8 531.1 L48.3 530.9 L48.8 530.7 L49.3 530.4 L49.8 530.2 L50.3 530.0 L50.8 529.7 L51.3 529.5 L51.8 529.2 L52.3 528.9 L52.8 528.5 L53.3 528.1 L53.8 527.7 L54.3 527.2 L54.8 526.7 L55.3 526.1 L55.8 525.5 L56.3 524.8 L56.8 524.1 L57.3 523.3 L57.8 522.4 L58.3 521.5 L58.8 520.4 L59.3 519.2 L59.8 518.0 L60.3 516.7 L60.8 515.4 L61.3 513.9 L61.8 512.2 L62.3 510.4 L62.8 508.5 L63.3 506.5 L63.8 504.5 L64.3 502.5 L64.8 500.6 L65.3 498.7 L65.8 496.7 L66.3 494.7 L66.8 492.7 L67.3 490.7 L67.8 488.7 L68.3 486.8 L68.8 484.9 L69.3 483.2 L69.8 481.5 L70.3 479.8 L70.8 478.2 L71.3 476.7 L71.8 475.3 L72.3 474.1 L72.8 472.9 L73.3 471.6 L73.8 470.5 L74.3 469.5 L74.8 469.0 L75.3 468.9 L75.8 469.3 L76.3 470.0 L76.8 470.8 L77.3 471.8 L77.8 473.1 L78.3 474.5 L78.8 476.0 L79.3 477.5 L79.8 479.0 L80.3 480.7 L80.8 482.7 L81.3 485.3 L81.8 488.7 L82.3 492.5 L82.8 496.4 L83.3 500.1 L83.8 503.8 L84.3 507.5 L84.8 511.1 L85.3 514.4 L85.8 517.5 L86.3 520.5 L86.8 523.2 L87.3 525.6 L87.8 527.4 L88.3 528.9 L88.8 530.2 L89.3 531.0 L89.8 531.5 L90.3 531.8 L90.8 531.9" fill="none" stroke="#d8453a" stroke-width="0.85"/><path d="M46.0 531.9 L46.5 531.8 L47.0 531.6 L47.5 531.4 L48.0 531.2 L48.5 531.0 L49.0 530.8 L49.5 530.6 L50.0 530.4 L50.5 530.2 L51.0 529.9 L51.5 529.7 L52.0 529.4 L52.5 529.1 L53.0 528.8 L53.5 528.4 L54.0 528.0 L54.5 527.6 L55.0 527.1 L55.5 526.6 L56.0 526.0 L56.5 525.3 L57.0 524.7 L57.5 523.9 L58.0 523.1 L58.5 522.2 L59.0 521.2 L59.5 520.2 L60.0 519.0 L60.5 517.7 L61.0 516.4 L61.5 515.0 L62.0 513.5 L62.5 511.8 L63.0 510.0 L63.5 508.0 L64.0 506.0 L64.5 504.0 L65.0 501.9 L65.5 499.9 L66.0 498.0 L66.5 496.0 L67.0 493.9 L67.5 491.9 L68.0 489.8 L68.5 487.8 L69.0 485.8 L69.5 484.0 L70.0 482.2 L70.5 480.5 L71.0 478.8 L71.5 477.1 L72.0 475.6 L72.5 474.2 L73.0 472.9 L73.5 471.7 L74.0 470.4 L74.5 469.2 L75.0 468.3 L75.5 467.7 L76.0 467.6 L76.5 468.1 L77.0 468.8 L77.5 469.6 L78.0 470.6 L78.5 471.9 L79.0 473.4 L79.5 474.9 L80.0 476.4 L80.5 477.9 L81.0 479.7 L81.5 481.7 L82.0 484.4 L82.5 487.8 L83.0 491.7 L83.5 495.7 L84.0 499.5 L84.5 503.2 L85.0 507.0 L85.5 510.6 L86.0 514.1 L86.5 517.2 L87.0 520.2 L87.5 523.1 L88.0 525.5 L88.5 527.3 L89.0 528.8 L89.5 530.1 L90.0 531.0 L90.5 531.5 L91.0 531.8 L91.5 531.9" fill="none" stroke="#d8453a" stroke-width="0.85"/><path d="M46.7 531.9 L47.2 531.8 L47.7 531.6 L48.2 531.4 L48.7 531.3 L49.2 531.1 L49.7 530.9 L50.2 530.7 L50.7 530.5 L51.2 530.2 L51.7 530.0 L52.2 529.8 L52.7 529.5 L53.2 529.2 L53.7 528.9 L54.2 528.5 L54.7 528.2 L55.2 527.7 L55.7 527.2 L56.2 526.7 L56.7 526.2 L57.2 525.5 L57.7 524.9 L58.2 524.2 L58.7 523.4 L59.2 522.5 L59.7 521.6 L60.2 520.5 L60.7 519.4 L61.2 518.2 L61.7 516.9 L62.2 515.5 L62.7 514.1 L63.2 512.4 L63.7 510.6 L64.2 508.7 L64.7 506.8 L65.2 504.8 L65.7 502.8 L66.2 500.9 L66.7 499.0 L67.2 497.1 L67.7 495.1 L68.2 493.1 L68.7 491.1 L69.2 489.1 L69.7 487.2 L70.2 485.4 L70.7 483.7 L71.2 482.0 L71.7 480.4 L72.2 478.8 L72.7 477.3 L73.2 475.9 L73.7 474.7 L74.2 473.5 L74.7 472.2 L75.2 471.1 L75.7 470.2 L76.2 469.6 L76.7 469.6 L77.2 470.0 L77.7 470.7 L78.2 471.4 L78.7 472.4 L79.2 473.7 L79.7 475.1 L80.2 476.6 L80.7 478.0 L81.2 479.5 L81.7 481.2 L82.2 483.2 L82.7 485.8 L83.2 489.1 L83.7 492.9 L84.2 496.8 L84.7 500.4 L85.2 504.1 L85.7 507.7 L86.2 511.3 L86.7 514.6 L87.2 517.6 L87.7 520.6 L88.2 523.3 L88.7 525.7 L89.2 527.4 L89.7 528.9 L90.2 530.2 L90.7 531.1 L91.2 531.5 L91.7 531.8 L92.2 531.9" fill="none" stroke="#d8453a" stroke-width="0.85"/><rect x="36.80" y="465.60" width="74.70" height="66.30" fill="none" stroke="#111" stroke-width="1.15"/><line x1="34.30" y1="465.60" x2="36.80" y2="465.60" stroke="#111" stroke-width="1.0"/><text x="32.60" y="467.70" font-size="6.0" text-anchor="end" fill="#111">100%</text><line x1="34.30" y1="482.18" x2="36.80" y2="482.18" stroke="#111" stroke-width="1.0"/><text x="32.60" y="484.28" font-size="6.0" text-anchor="end" fill="#111">75%</text><line x1="34.30" y1="498.75" x2="36.80" y2="498.75" stroke="#111" stroke-width="1.0"/><text x="32.60" y="500.85" font-size="6.0" text-anchor="end" fill="#111">50%</text><line x1="34.30" y1="515.33" x2="36.80" y2="515.33" stroke="#111" stroke-width="1.0"/><text x="32.60" y="517.43" font-size="6.0" text-anchor="end" fill="#111">25%</text><line x1="36.20" y1="531.90" x2="112.10" y2="531.90" stroke="#111" stroke-width="1.2"/><line x1="45.60" y1="531.90" x2="45.60" y2="534.50" stroke="#111" stroke-width="0.9"/><text x="45.60" y="542.00" font-size="5.8" text-anchor="middle" fill="#111">0</text><line x1="66.70" y1="531.90" x2="66.70" y2="534.50" stroke="#111" stroke-width="0.9"/><text x="62.51" y="542.00" font-size="5.8" fill="#111">10<tspan font-size="3.48" dy="-2.32">3</tspan></text><line x1="85.70" y1="531.90" x2="85.70" y2="534.50" stroke="#111" stroke-width="0.9"/><text x="81.51" y="542.00" font-size="5.8" fill="#111">10<tspan font-size="3.48" dy="-2.32">4</tspan></text><line x1="104.80" y1="531.90" x2="104.80" y2="534.50" stroke="#111" stroke-width="0.9"/><text x="100.61" y="542.00" font-size="5.8" fill="#111">10<tspan font-size="3.48" dy="-2.32">5</tspan></text><line x1="51.93" y1="531.90" x2="51.93" y2="533.30" stroke="#111" stroke-width="0.6"/><line x1="55.73" y1="531.90" x2="55.73" y2="533.30" stroke="#111" stroke-width="0.6"/><line x1="58.26" y1="531.90" x2="58.26" y2="533.30" stroke="#111" stroke-width="0.6"/><line x1="60.37" y1="531.90" x2="60.37" y2="533.30" stroke="#111" stroke-width="0.6"/><line x1="62.06" y1="531.90" x2="62.06" y2="533.30" stroke="#111" stroke-width="0.6"/><line x1="63.54" y1="531.90" x2="63.54" y2="533.30" stroke="#111" stroke-width="0.6"/><line x1="64.59" y1="531.90" x2="64.59" y2="533.30" stroke="#111" stroke-width="0.6"/><line x1="65.65" y1="531.90" x2="65.65" y2="533.30" stroke="#111" stroke-width="0.6"/><line x1="72.40" y1="531.90" x2="72.40" y2="533.30" stroke="#111" stroke-width="0.6"/><line x1="75.82" y1="531.90" x2="75.82" y2="533.30" stroke="#111" stroke-width="0.6"/><line x1="78.10" y1="531.90" x2="78.10" y2="533.30" stroke="#111" stroke-width="0.6"/><line x1="80.00" y1="531.90" x2="80.00" y2="533.30" stroke="#111" stroke-width="0.6"/><line x1="81.52" y1="531.90" x2="81.52" y2="533.30" stroke="#111" stroke-width="0.6"/><line x1="82.85" y1="531.90" x2="82.85" y2="533.30" stroke="#111" stroke-width="0.6"/><line x1="83.80" y1="531.90" x2="83.80" y2="533.30" stroke="#111" stroke-width="0.6"/><line x1="84.75" y1="531.90" x2="84.75" y2="533.30" stroke="#111" stroke-width="0.6"/><line x1="91.43" y1="531.90" x2="91.43" y2="533.30" stroke="#111" stroke-width="0.6"/><line x1="94.87" y1="531.90" x2="94.87" y2="533.30" stroke="#111" stroke-width="0.6"/><line x1="97.16" y1="531.90" x2="97.16" y2="533.30" stroke="#111" stroke-width="0.6"/><line x1="99.07" y1="531.90" x2="99.07" y2="533.30" stroke="#111" stroke-width="0.6"/><line x1="100.60" y1="531.90" x2="100.60" y2="533.30" stroke="#111" stroke-width="0.6"/><line x1="101.94" y1="531.90" x2="101.94" y2="533.30" stroke="#111" stroke-width="0.6"/><line x1="102.89" y1="531.90" x2="102.89" y2="533.30" stroke="#111" stroke-width="0.6"/><line x1="103.84" y1="531.90" x2="103.84" y2="533.30" stroke="#111" stroke-width="0.6"/><text x="37.00" y="550.40" font-size="8.0" text-anchor="start" fill="#111">Mac-1</text><line x1="62.30" y1="547.60" x2="98.00" y2="547.60" stroke="#111" stroke-width="1.0"/><path d="M101.50 547.60 L97.50 545.80 L97.50 549.40 Z" fill="#111"/><rect x="167.00" y="414.64" width="15.00" height="22.36" fill="#2d4f8e" stroke="#1f3c70" stroke-width="0.4"/><line x1="174.50" y1="414.64" x2="174.50" y2="412.70" stroke="#111" stroke-width="0.8"/><line x1="172.20" y1="412.70" x2="176.80" y2="412.70" stroke="#111" stroke-width="0.9"/><rect x="189.20" y="385.61" width="15.10" height="51.39" fill="#d4382a" stroke="#a82a20" stroke-width="0.4"/><line x1="196.75" y1="385.61" x2="196.75" y2="383.99" stroke="#111" stroke-width="0.8"/><line x1="194.45" y1="383.99" x2="199.05" y2="383.99" stroke="#111" stroke-width="0.9"/><line x1="173.00" y1="381.10" x2="196.50" y2="381.10" stroke="#111" stroke-width="0.9"/><circle cx="179.35" cy="376.10" r="1.05" fill="#1a1a1a"/><circle cx="182.95" cy="376.10" r="1.05" fill="#1a1a1a"/><circle cx="186.55" cy="376.10" r="1.05" fill="#1a1a1a"/><circle cx="190.15" cy="376.10" r="1.05" fill="#1a1a1a"/><path d="M159.3 437.0 L159.3 372.2 L212.3 372.2 L212.3 437.0 L159.3 437.0" fill="none" stroke="#111" stroke-width="1.15"/><line x1="156.70" y1="437.00" x2="159.30" y2="437.00" stroke="#111" stroke-width="1.0"/><text x="154.90" y="439.20" font-size="6.5" text-anchor="end" fill="#111">0</text><line x1="156.70" y1="424.04" x2="159.30" y2="424.04" stroke="#111" stroke-width="1.0"/><text x="154.90" y="426.24" font-size="6.5" text-anchor="end" fill="#111">20000</text><line x1="156.70" y1="411.08" x2="159.30" y2="411.08" stroke="#111" stroke-width="1.0"/><text x="154.90" y="413.28" font-size="6.5" text-anchor="end" fill="#111">40000</text><line x1="156.70" y1="398.12" x2="159.30" y2="398.12" stroke="#111" stroke-width="1.0"/><text x="154.90" y="400.32" font-size="6.5" text-anchor="end" fill="#111">60000</text><line x1="156.70" y1="385.16" x2="159.30" y2="385.16" stroke="#111" stroke-width="1.0"/><text x="154.90" y="387.36" font-size="6.5" text-anchor="end" fill="#111">80000</text><line x1="156.70" y1="372.20" x2="159.30" y2="372.20" stroke="#111" stroke-width="1.0"/><text x="154.90" y="374.40" font-size="6.5" text-anchor="end" fill="#111">100000</text><line x1="174.50" y1="437.00" x2="174.50" y2="439.80" stroke="#111" stroke-width="1.0"/><line x1="196.70" y1="437.00" x2="196.70" y2="439.80" stroke="#111" stroke-width="1.0"/><text x="128.60" y="403.50" font-size="8.0" text-anchor="middle" fill="#111" transform="rotate(-90 128.6 403.5)">MFI Mac-1</text><rect x="167.10" y="491.50" width="14.80" height="41.10" fill="#2d4f8e" stroke="#1f3c70" stroke-width="0.4"/><line x1="174.50" y1="491.50" x2="174.50" y2="490.97" stroke="#111" stroke-width="0.8"/><line x1="172.20" y1="490.97" x2="176.80" y2="490.97" stroke="#111" stroke-width="0.9"/><rect x="189.60" y="480.61" width="15.00" height="51.99" fill="#d4382a" stroke="#a82a20" stroke-width="0.4"/><line x1="197.10" y1="480.61" x2="197.10" y2="479.94" stroke="#111" stroke-width="0.8"/><line x1="194.80" y1="479.94" x2="199.40" y2="479.94" stroke="#111" stroke-width="0.9"/><line x1="175.80" y1="477.50" x2="198.80" y2="477.50" stroke="#111" stroke-width="0.9"/><circle cx="181.90" cy="472.50" r="1.05" fill="#1a1a1a"/><circle cx="185.50" cy="472.50" r="1.05" fill="#1a1a1a"/><circle cx="189.10" cy="472.50" r="1.05" fill="#1a1a1a"/><circle cx="192.70" cy="472.50" r="1.05" fill="#1a1a1a"/><path d="M159.5 532.6 L159.5 466.2 L212.3 466.2 L212.3 532.6 L159.5 532.6" fill="none" stroke="#111" stroke-width="1.15"/><line x1="156.90" y1="532.60" x2="159.50" y2="532.60" stroke="#111" stroke-width="1.0"/><text x="155.10" y="534.80" font-size="6.5" text-anchor="end" fill="#111">0</text><line x1="156.90" y1="519.32" x2="159.50" y2="519.32" stroke="#111" stroke-width="1.0"/><text x="155.10" y="521.52" font-size="6.5" text-anchor="end" fill="#111">1000</text><line x1="156.90" y1="506.04" x2="159.50" y2="506.04" stroke="#111" stroke-width="1.0"/><text x="155.10" y="508.24" font-size="6.5" text-anchor="end" fill="#111">2000</text><line x1="156.90" y1="492.76" x2="159.50" y2="492.76" stroke="#111" stroke-width="1.0"/><text x="155.10" y="494.96" font-size="6.5" text-anchor="end" fill="#111">3000</text><line x1="156.90" y1="479.48" x2="159.50" y2="479.48" stroke="#111" stroke-width="1.0"/><text x="155.10" y="481.68" font-size="6.5" text-anchor="end" fill="#111">4000</text><line x1="156.90" y1="466.20" x2="159.50" y2="466.20" stroke="#111" stroke-width="1.0"/><text x="155.10" y="468.40" font-size="6.5" text-anchor="end" fill="#111">5000</text><line x1="174.50" y1="532.60" x2="174.50" y2="535.40" stroke="#111" stroke-width="1.0"/><line x1="197.10" y1="532.60" x2="197.10" y2="535.40" stroke="#111" stroke-width="1.0"/><text x="136.00" y="497.80" font-size="8.0" text-anchor="middle" fill="#111" transform="rotate(-90 136.0 497.8)">Mac-1 MFI</text><text x="176.10" y="541.60" font-size="6.3" text-anchor="end" fill="#111" transform="rotate(-45 176.1 541.6)">vehicle</text><text x="198.70" y="541.60" font-size="6.3" text-anchor="end" fill="#111" transform="rotate(-45 198.7 541.6)">CX-5461</text><text x="249.60" y="380.20" font-size="11.5" text-anchor="start" fill="#111" font-weight="bold">F</text><text x="283.50" y="382.50" font-size="8.6" text-anchor="start" fill="#111">p53WT</text><filter id="fbl1" x="-50%" y="-50%" width="200%" height="200%"><feGaussianBlur stdDeviation="1"/></filter><filter id="fbl2" x="-50%" y="-50%" width="200%" height="200%"><feGaussianBlur stdDeviation="2"/></filter><filter id="fbl3" x="-50%" y="-50%" width="200%" height="200%"><feGaussianBlur stdDeviation="3"/></filter><clipPath id="cF1"><rect x="283.4" y="387.4" width="68.80000000000001" height="58.400000000000034"/></clipPath><g clip-path="url(#cF1)"><ellipse cx="327.5" cy="429" rx="11" ry="17" fill="#8aa0d4" opacity="0.55" filter="url(#fbl3)"/><ellipse cx="328" cy="416" rx="7" ry="8" fill="#5aa0a0" opacity="0.7" filter="url(#fbl2)"/><ellipse cx="293.5" cy="431" rx="3.5" ry="13" fill="#8aa0d4" opacity="0.6" filter="url(#fbl2)"/><ellipse cx="292.6" cy="438" rx="1.8" ry="7" fill="#58a888" opacity="0.8" filter="url(#fbl1)"/><ellipse cx="328.1" cy="413.6" rx="3.6" ry="4.2" fill="#b8c838" opacity="0.9" filter="url(#fbl1)"/><ellipse cx="328.1" cy="413.6" rx="2.0" ry="2.4" fill="#e0d030" opacity="0.9" filter="url(#fbl1)"/></g><path d="M290.9 419.5h.01M298.0 438.5h.01M291.4 419.2h.01M289.1 420.4h.01M288.3 421.4h.01M292.6 412.1h.01M289.2 426.1h.01M289.5 427.4h.01M293.7 405.9h.01M287.2 420.7h.01M297.7 429.5h.01M292.6 412.5h.01M298.0 421.7h.01M298.0 421.6h.01M297.9 440.1h.01M297.8 438.4h.01M290.7 418.4h.01M292.9 411.9h.01M297.7 424.0h.01M300.1 431.7h.01M297.0 402.5h.01M297.6 419.4h.01M299.0 435.7h.01M300.7 428.0h.01M291.0 417.4h.01M293.5 412.3h.01M292.8 413.3h.01M298.5 421.2h.01M298.1 426.1h.01M291.8 410.7h.01M290.5 416.9h.01M300.9 418.5h.01M296.7 400.2h.01M300.8 418.2h.01M296.5 407.2h.01M300.5 411.3h.01M297.8 424.6h.01M296.9 404.0h.01M298.4 402.9h.01M296.0 405.7h.01M295.0 409.1h.01M300.0 410.0h.01M295.9 411.7h.01M296.3 403.0h.01M295.1 403.4h.01M290.5 419.1h.01M297.9 411.1h.01M297.1 402.6h.01M294.6 402.2h.01M298.6 406.7h.01M294.2 399.2h.01M301.1 405.7h.01M298.7 401.2h.01M295.7 397.1h.01M297.3 408.4h.01M288.9 405.5h.01M299.2 398.1h.01M293.4 411.4h.01M291.4 404.8h.01M303.8 416.8h.01M296.2 402.6h.01M304.2 415.3h.01M294.4 392.6h.01M297.1 412.2h.01M297.2 413.5h.01M291.0 407.4h.01M301.3 420.4h.01M301.4 406.2h.01M296.6 409.6h.01M292.7 408.4h.01M299.2 417.9h.01M290.6 408.7h.01M295.6 405.3h.01M297.6 417.1h.01M286.0 405.5h.01M290.0 401.9h.01M297.1 408.3h.01M303.1 400.4h.01M295.6 411.8h.01M291.4 408.3h.01M298.0 413.8h.01M301.4 420.1h.01M301.2 415.0h.01M294.4 407.8h.01M292.0 409.8h.01M295.0 408.7h.01M294.6 396.2h.01M295.6 404.3h.01M293.2 400.6h.01M291.9 410.6h.01M297.9 411.5h.01M295.2 400.8h.01M298.9 412.4h.01M299.4 407.6h.01M293.3 412.8h.01M299.7 413.0h.01M301.4 412.4h.01M300.6 410.9h.01M295.8 406.0h.01M297.6 409.1h.01M297.0 405.1h.01M297.1 413.2h.01M302.6 427.8h.01M298.8 409.0h.01M298.9 419.1h.01M295.2 397.7h.01M303.7 409.3h.01M300.0 396.4h.01M299.5 408.5h.01M296.8 407.9h.01M297.8 417.9h.01M295.4 407.3h.01M295.7 406.6h.01M295.0 398.5h.01M301.6 421.4h.01M302.0 418.8h.01M296.3 405.0h.01M292.1 391.8h.01M327.8 403.5h.01M336.6 406.3h.01M323.9 403.4h.01M317.5 413.8h.01M330.8 402.3h.01M321.5 401.6h.01M324.6 402.4h.01M326.5 400.3h.01M320.9 403.2h.01M330.6 402.6h.01M339.2 418.9h.01M321.0 403.9h.01M333.5 400.0h.01M316.8 412.6h.01M317.1 409.0h.01M338.0 416.9h.01M313.5 412.4h.01M318.5 406.1h.01M336.7 408.4h.01M334.1 399.1h.01M316.2 417.0h.01M313.5 413.0h.01M334.3 404.7h.01M319.5 402.9h.01M336.4 406.4h.01M341.1 416.3h.01M340.1 416.6h.01M313.4 412.7h.01M339.2 413.1h.01M337.6 409.2h.01M326.6 403.3h.01M338.8 421.6h.01M325.9 398.3h.01M320.0 403.2h.01M314.6 411.3h.01M339.7 415.4h.01M338.6 419.1h.01M321.5 405.4h.01M316.8 402.2h.01M336.4 408.7h.01M317.6 415.4h.01M330.8 403.0h.01M323.3 403.5h.01M331.2 402.8h.01M337.2 406.8h.01M318.4 402.1h.01M316.0 405.4h.01M340.3 414.7h.01M316.9 408.6h.01M316.8 412.2h.01M327.6 402.6h.01M343.3 434.7h.01M315.4 424.3h.01M338.8 421.5h.01M345.9 433.4h.01M313.4 442.3h.01M342.3 438.0h.01M340.1 440.3h.01M310.7 432.2h.01M311.6 428.9h.01M339.8 442.6h.01M348.7 427.3h.01M337.0 444.0h.01M338.2 429.7h.01M342.6 436.1h.01M335.5 444.4h.01M317.7 434.7h.01M317.3 422.7h.01M345.5 441.9h.01M338.2 436.8h.01M341.2 437.4h.01M343.5 436.4h.01M346.0 434.7h.01M315.5 433.1h.01M346.0 415.3h.01M342.5 433.4h.01M314.1 420.9h.01M338.4 429.6h.01M313.7 443.6h.01M341.7 419.1h.01M339.3 424.2h.01M334.3 444.7h.01M310.8 440.2h.01M314.7 423.8h.01M315.8 432.8h.01M338.0 442.0h.01M309.6 436.7h.01M339.5 425.8h.01M340.8 443.8h.01M343.5 433.5h.01M315.4 425.6h.01M339.8 421.8h.01M344.3 426.2h.01M338.2 423.5h.01M338.4 437.8h.01M318.9 444.7h.01M310.5 428.4h.01M343.7 429.9h.01M338.5 426.5h.01M312.6 437.5h.01M317.1 419.5h.01M340.2 432.9h.01M315.0 438.8h.01M317.0 442.0h.01M343.1 442.5h.01M309.5 433.4h.01M340.7 432.3h.01M315.8 437.8h.01M339.1 430.2h.01M339.8 423.1h.01M316.7 441.0h.01M316.2 441.7h.01M316.5 417.9h.01M341.4 429.5h.01M317.4 444.9h.01M319.8 443.9h.01M338.6 439.1h.01M339.3 429.8h.01M317.5 420.4h.01M317.0 439.9h.01M338.9 440.1h.01M317.7 435.1h.01M315.6 436.5h.01M317.1 435.8h.01M334.7 444.7h.01M312.1 440.0h.01M339.5 429.0h.01M338.9 430.4h.01M312.3 420.5h.01M314.8 435.5h.01M341.8 435.7h.01M338.4 428.9h.01M339.5 425.8h.01M337.3 423.1h.01M338.1 424.3h.01M316.7 439.6h.01M313.6 438.6h.01M340.1 438.6h.01M343.1 435.6h.01M317.7 421.1h.01M341.5 438.4h.01M338.5 433.4h.01M340.9 428.4h.01M340.1 435.0h.01M313.4 436.7h.01M339.9 436.8h.01M316.3 412.0h.01M312.8 429.8h.01M314.1 426.9h.01M317.3 420.3h.01M336.8 442.2h.01M339.0 425.5h.01M311.8 438.9h.01M336.6 442.3h.01M338.7 439.8h.01M317.4 436.0h.01M316.0 440.3h.01M315.0 420.7h.01M338.9 427.7h.01M346.2 436.4h.01M315.6 425.4h.01M314.4 422.0h.01M344.5 432.5h.01M312.3 423.2h.01M313.6 425.1h.01M313.1 434.4h.01M314.1 433.2h.01M311.7 435.1h.01M311.7 416.6h.01M334.7 396.4h.01M302.4 430.2h.01M314.5 422.4h.01M310.0 415.0h.01M336.9 406.5h.01M302.6 410.0h.01M318.8 401.0h.01M304.2 424.6h.01M307.9 409.9h.01M334.2 399.2h.01M309.9 417.3h.01M339.4 429.5h.01M317.1 402.9h.01M313.1 429.9h.01M341.6 427.5h.01M340.5 424.2h.01M338.3 414.2h.01M314.3 441.1h.01M344.1 422.1h.01M317.5 438.8h.01M316.9 404.6h.01M340.8 435.1h.01M326.4 401.7h.01M346.0 412.3h.01M342.3 428.0h.01M314.8 415.3h.01M342.3 421.0h.01M316.5 421.5h.01M318.4 404.7h.01M306.5 442.1h.01M308.3 433.5h.01M314.1 410.8h.01M307.8 430.6h.01M309.4 425.3h.01M313.1 423.6h.01M340.2 415.9h.01M313.2 427.3h.01M315.1 409.0h.01M320.3 397.1h.01M305.2 442.5h.01M310.7 405.4h.01M340.3 435.4h.01M341.0 406.0h.01M341.6 393.1h.01M350.0 411.0h.01M345.3 430.8h.01M345.1 420.9h.01M298.7 430.5h.01M308.2 403.3h.01M306.5 407.7h.01M315.8 422.6h.01M315.3 416.4h.01M311.4 424.5h.01M337.5 403.1h.01M316.8 417.2h.01M319.8 402.0h.01M337.6 409.4h.01M312.4 429.6h.01M337.6 404.9h.01M314.2 432.6h.01M312.2 427.3h.01M315.5 429.2h.01M346.9 412.6h.01M311.4 436.3h.01M310.4 442.3h.01M312.3 413.1h.01M306.9 418.6h.01M310.1 420.8h.01M348.7 402.6h.01M314.4 433.6h.01M340.0 421.0h.01M339.5 438.3h.01M338.8 426.1h.01M345.9 423.0h.01M298.0 408.2h.01M341.9 438.3h.01M337.6 443.2h.01M315.3 439.4h.01M323.9 402.3h.01M314.1 406.2h.01M314.9 426.4h.01M344.9 439.5h.01M336.3 397.1h.01M346.5 417.0h.01M301.1 417.1h.01M350.4 413.4h.01M317.1 410.0h.01M303.1 434.0h.01M333.6 403.0h.01M314.9 417.6h.01M334.4 404.5h.01M306.4 420.3h.01M342.4 414.5h.01M317.0 425.6h.01M350.6 400.5h.01M298.5 404.5h.01M309.0 425.1h.01M348.7 419.6h.01M316.2 425.2h.01M348.4 415.9h.01M340.4 419.4h.01M302.9 413.9h.01M315.4 412.2h.01" stroke="rgb(147, 166, 220)" stroke-width="0.65" stroke-linecap="round" opacity="0.5"/><path d="M292.2 444.7h.01M291.8 421.1h.01M291.1 443.7h.01M293.1 422.5h.01M291.0 442.7h.01M293.4 422.2h.01M295.4 444.9h.01M292.8 421.1h.01M295.7 430.1h.01M295.7 441.0h.01M291.9 421.2h.01M293.1 444.3h.01M291.3 421.9h.01M292.7 414.6h.01M294.3 414.6h.01M289.4 438.3h.01M293.7 419.0h.01M295.9 441.1h.01M290.5 442.5h.01M292.9 421.3h.01M296.2 427.5h.01M289.4 434.0h.01M294.0 420.3h.01M290.4 442.9h.01M293.5 415.8h.01M290.9 442.2h.01M291.2 422.4h.01M289.5 433.8h.01M294.3 418.1h.01M290.7 443.9h.01M294.9 444.0h.01M291.4 441.8h.01M291.2 442.0h.01M294.8 444.5h.01M290.4 442.9h.01M291.4 426.5h.01M291.3 444.2h.01M292.5 444.0h.01M291.0 444.5h.01M289.0 428.6h.01M292.0 444.1h.01M292.3 419.9h.01M290.7 442.3h.01M289.9 424.6h.01M295.9 421.3h.01M292.7 443.9h.01M290.3 425.2h.01M292.4 414.6h.01M293.6 419.6h.01M296.4 440.8h.01M291.0 442.6h.01M293.9 422.3h.01M291.3 427.6h.01M293.9 418.6h.01M291.7 419.6h.01M295.9 428.8h.01M294.7 412.1h.01M296.9 427.4h.01M289.6 420.0h.01M295.9 418.1h.01M295.6 427.6h.01M290.3 420.8h.01M289.8 422.9h.01M297.7 432.9h.01M290.8 427.2h.01M292.9 444.8h.01M298.7 431.8h.01M291.7 422.8h.01M291.8 417.3h.01M296.7 423.8h.01M296.0 424.7h.01M297.0 414.0h.01M294.3 418.1h.01M292.4 417.7h.01M296.0 422.0h.01M293.7 418.8h.01M296.8 423.2h.01M296.6 415.2h.01M293.5 417.6h.01M298.1 431.9h.01M296.1 413.6h.01M296.3 440.9h.01M296.2 419.7h.01M295.1 423.2h.01M295.6 442.2h.01M291.7 419.9h.01M295.6 418.4h.01M292.4 419.7h.01M292.7 416.6h.01M294.8 417.6h.01M293.3 423.2h.01M296.4 429.7h.01M293.4 423.4h.01M294.4 420.4h.01M293.5 422.2h.01M296.6 428.8h.01M292.4 417.7h.01M296.6 430.3h.01M290.6 426.4h.01M292.8 419.1h.01M294.8 418.5h.01M294.3 423.3h.01M292.6 418.8h.01M295.3 423.1h.01M295.6 430.1h.01M291.1 426.6h.01M296.0 423.8h.01M293.5 423.4h.01M291.1 442.3h.01M291.8 417.2h.01M295.9 423.8h.01M297.5 428.7h.01M297.2 431.4h.01M296.7 431.5h.01M295.1 421.3h.01M295.9 423.5h.01M293.2 418.7h.01M293.1 415.2h.01M295.9 416.5h.01M295.7 423.5h.01M296.3 414.4h.01M289.7 422.9h.01M297.3 416.2h.01M293.4 420.2h.01M292.9 414.8h.01M293.8 423.5h.01M294.3 421.9h.01M291.8 413.6h.01M293.5 414.3h.01M296.2 418.8h.01M293.6 414.1h.01M295.3 412.1h.01M292.9 418.6h.01M296.0 414.1h.01M294.5 416.1h.01M291.7 414.6h.01M294.8 414.7h.01M294.4 412.6h.01M294.7 415.8h.01M293.9 415.0h.01M295.7 415.6h.01M297.4 419.2h.01M296.8 414.3h.01M291.3 420.3h.01M296.7 417.3h.01M294.9 415.6h.01M297.4 418.9h.01M296.0 414.5h.01M297.0 417.3h.01M292.9 413.6h.01M297.2 417.4h.01M293.8 420.1h.01M332.7 423.7h.01M320.7 407.7h.01M328.1 402.5h.01M319.0 420.2h.01M319.4 409.4h.01M323.6 424.3h.01M329.3 405.1h.01M322.5 426.3h.01M319.4 419.4h.01M322.8 404.0h.01M318.9 412.1h.01M328.6 404.9h.01M335.4 408.5h.01M332.3 406.8h.01M322.2 404.2h.01M321.5 411.3h.01M321.7 407.9h.01M335.5 419.5h.01M330.1 404.1h.01M331.1 403.6h.01M325.4 404.4h.01M322.5 405.1h.01M334.2 420.3h.01M333.7 406.2h.01M337.1 416.5h.01M330.2 404.2h.01M322.1 407.2h.01M320.7 407.9h.01M334.2 418.9h.01M334.5 417.9h.01M336.0 409.6h.01M327.6 404.5h.01M326.8 404.6h.01M334.3 407.6h.01M329.9 403.9h.01M321.0 408.6h.01M328.3 402.5h.01M329.1 401.9h.01M318.5 409.7h.01M332.6 406.4h.01M321.6 406.0h.01M323.5 404.7h.01M318.7 414.3h.01M320.4 411.2h.01M318.9 416.6h.01M320.8 419.9h.01M318.7 417.3h.01M318.2 412.9h.01M328.2 402.2h.01M335.6 425.3h.01M336.7 413.2h.01M336.9 417.1h.01M336.4 412.1h.01M336.0 411.9h.01M319.3 416.0h.01M335.6 418.5h.01M335.7 418.9h.01M320.8 420.2h.01M334.7 421.0h.01M319.3 419.4h.01M335.9 418.3h.01M318.5 423.2h.01M329.6 403.1h.01M322.6 404.6h.01M318.3 415.9h.01M334.2 423.1h.01M318.0 415.1h.01M334.6 419.0h.01M333.3 407.4h.01M335.7 423.8h.01M336.2 411.6h.01M321.0 409.9h.01M336.9 416.7h.01M319.3 423.4h.01M333.8 406.9h.01M321.8 406.2h.01M323.5 424.1h.01M320.4 409.7h.01M332.9 425.7h.01M318.7 408.2h.01M337.3 414.9h.01M321.0 421.1h.01M332.3 404.9h.01M336.1 413.7h.01M328.4 402.1h.01M328.8 404.9h.01M319.6 411.6h.01M324.8 405.1h.01M333.3 405.5h.01M320.1 407.3h.01M320.7 410.8h.01M321.8 411.5h.01M334.0 418.1h.01M319.8 415.7h.01M320.8 408.8h.01M334.0 418.0h.01M327.2 405.3h.01M335.9 417.7h.01M320.2 419.8h.01M334.5 420.6h.01M327.9 403.7h.01M321.3 411.1h.01M319.1 411.4h.01M318.8 409.8h.01M321.1 406.5h.01M334.4 405.7h.01M334.6 405.6h.01M319.2 409.8h.01M334.3 423.6h.01M318.2 419.7h.01M334.3 420.2h.01M319.5 409.4h.01M322.0 425.8h.01M334.2 418.8h.01M319.7 408.0h.01M320.4 409.1h.01M335.0 419.3h.01M336.1 419.2h.01M336.9 413.9h.01M332.1 407.5h.01M320.0 423.5h.01M320.2 420.0h.01M323.5 405.6h.01M336.0 407.1h.01M319.3 419.3h.01M320.0 420.8h.01M333.2 440.7h.01M322.3 442.5h.01M321.7 437.5h.01M318.3 427.4h.01M317.3 427.3h.01M321.7 434.4h.01M333.0 424.2h.01M318.8 438.9h.01M320.1 436.0h.01M320.7 438.1h.01M319.3 439.3h.01M336.4 436.8h.01M336.5 430.4h.01M332.4 427.1h.01M323.2 442.2h.01M322.7 425.5h.01M319.7 430.0h.01M331.1 439.9h.01M320.7 432.2h.01M334.6 441.8h.01M316.2 433.5h.01M335.6 429.3h.01M336.3 428.0h.01M317.9 438.6h.01M334.9 429.8h.01M319.9 439.1h.01M318.5 421.5h.01M317.3 430.1h.01M320.5 432.6h.01M335.0 440.2h.01M325.3 444.2h.01M319.5 443.4h.01M332.8 444.9h.01M317.1 428.5h.01M333.0 436.1h.01M335.6 435.2h.01M321.9 442.0h.01M316.3 432.0h.01M332.4 442.3h.01M316.2 427.1h.01M321.8 422.1h.01M316.9 432.5h.01M335.6 422.6h.01M327.7 442.0h.01M326.0 444.7h.01M336.9 431.7h.01M322.9 423.8h.01M320.6 443.2h.01M315.7 430.5h.01M334.8 425.2h.01M320.6 427.7h.01M321.2 441.9h.01M327.3 442.2h.01M325.7 443.3h.01M322.4 442.4h.01M326.4 443.5h.01M336.4 431.5h.01M335.7 437.1h.01M319.2 435.5h.01M326.0 442.7h.01M316.0 431.4h.01M319.7 425.1h.01M323.4 441.6h.01M319.3 430.8h.01M319.6 421.3h.01M320.5 435.9h.01M335.6 431.9h.01M336.3 434.0h.01M326.9 443.1h.01M320.5 435.8h.01M332.1 436.6h.01M335.3 422.0h.01M327.3 442.4h.01M319.7 440.1h.01M320.1 430.8h.01M335.2 428.9h.01M326.2 443.7h.01M333.7 444.6h.01M335.0 431.2h.01M321.6 441.3h.01M330.9 443.9h.01M317.2 431.4h.01M320.1 434.2h.01M321.3 422.1h.01M324.1 444.9h.01M332.7 443.5h.01M333.1 435.8h.01M335.6 425.2h.01M336.4 438.4h.01M332.4 443.3h.01M319.4 441.4h.01M332.5 438.9h.01M320.8 428.9h.01M314.8 431.4h.01M333.0 436.1h.01M324.4 442.8h.01M318.6 426.6h.01M331.2 439.9h.01M320.6 435.0h.01M335.7 424.3h.01M334.7 439.0h.01M333.3 441.2h.01M333.7 436.0h.01M333.2 443.4h.01M323.4 424.7h.01M336.1 435.8h.01M335.7 428.3h.01M319.9 441.2h.01M323.1 441.2h.01M320.2 433.3h.01M334.0 423.7h.01M319.9 428.6h.01M333.2 436.3h.01M336.5 432.4h.01M316.5 432.1h.01M317.2 428.6h.01M332.9 436.3h.01M331.3 441.2h.01M336.5 428.7h.01M320.1 436.4h.01M336.6 432.1h.01M336.5 432.7h.01M332.2 425.3h.01M320.1 426.1h.01M332.3 440.4h.01M331.9 439.9h.01M334.1 441.6h.01M333.3 438.6h.01M316.9 430.2h.01M321.7 427.9h.01M320.4 433.6h.01M321.3 429.9h.01M335.5 433.2h.01M332.9 423.9h.01M318.5 422.4h.01M316.6 426.4h.01M334.6 436.3h.01M334.0 441.0h.01M336.9 431.7h.01M321.0 435.1h.01M336.5 439.2h.01M336.7 414.0h.01M325.6 444.8h.01M320.5 428.4h.01M335.1 439.9h.01M334.9 439.8h.01M327.1 442.2h.01M321.1 427.2h.01M322.0 425.2h.01M320.7 431.0h.01M334.4 430.3h.01M335.4 435.1h.01M333.8 435.9h.01M321.8 442.6h.01M320.7 434.6h.01M320.0 421.6h.01M335.4 439.5h.01M328.0 443.5h.01M322.4 424.8h.01M337.0 441.1h.01M324.6 442.2h.01M317.9 440.2h.01M332.8 425.6h.01M334.5 438.7h.01M321.4 429.6h.01M318.9 439.5h.01M322.2 442.7h.01M320.6 436.0h.01M320.9 430.2h.01M334.9 427.7h.01M319.7 439.5h.01M322.2 427.7h.01M333.2 442.6h.01M333.9 443.5h.01M323.3 443.5h.01M320.6 426.4h.01M319.4 433.6h.01M322.0 424.9h.01M334.1 433.6h.01M318.2 425.2h.01M322.3 440.8h.01M337.3 423.8h.01M318.0 432.1h.01M336.7 416.8h.01M331.7 444.9h.01M315.5 430.0h.01M336.3 425.3h.01M334.1 431.6h.01M323.0 426.4h.01M324.5 442.3h.01M336.6 431.0h.01M323.5 444.5h.01M334.0 439.9h.01M321.2 427.8h.01M316.9 430.8h.01M334.4 441.8h.01M321.4 432.6h.01M336.5 441.0h.01M320.5 442.0h.01M331.8 440.8h.01M336.3 436.7h.01M337.9 427.6h.01M330.9 443.5h.01M322.8 444.2h.01M323.4 423.9h.01M321.7 429.3h.01M321.5 432.4h.01M333.8 444.1h.01M323.5 442.3h.01M317.0 430.2h.01M316.4 429.5h.01M319.1 430.0h.01M321.0 432.9h.01M336.4 438.4h.01M321.5 440.9h.01M332.0 424.6h.01M336.6 429.1h.01M322.6 407.4h.01M330.4 439.8h.01M320.9 431.6h.01M320.2 433.9h.01M323.2 425.3h.01M317.4 431.1h.01M322.3 442.8h.01M331.1 441.0h.01M330.7 440.4h.01M336.1 418.5h.01M337.3 437.7h.01M335.9 419.6h.01M332.2 438.3h.01M323.1 427.4h.01M317.1 430.3h.01M320.1 440.7h.01M318.1 427.4h.01M320.7 427.7h.01M318.1 442.2h.01M334.9 437.8h.01M318.0 443.2h.01M321.4 428.4h.01M337.7 435.3h.01M319.3 435.4h.01M329.2 442.4h.01M321.7 431.3h.01M334.2 434.8h.01M335.9 434.6h.01M332.0 443.1h.01M328.2 442.1h.01M334.4 437.1h.01M323.4 440.7h.01M319.1 420.2h.01M332.8 435.9h.01M322.6 443.6h.01M318.5 435.3h.01M321.3 421.0h.01M336.5 432.3h.01M331.9 440.0h.01M332.7 438.7h.01M334.1 439.2h.01M335.5 441.3h.01M320.4 434.4h.01M334.1 437.1h.01M321.8 424.6h.01M334.2 424.6h.01M318.5 436.8h.01M325.1 443.3h.01M319.7 438.0h.01M332.1 441.6h.01M321.3 433.7h.01M337.5 436.7h.01M330.4 441.6h.01M332.2 426.1h.01M317.6 428.4h.01M316.3 428.1h.01M333.0 436.9h.01M334.7 428.3h.01M320.2 430.7h.01M336.0 432.2h.01M330.0 444.3h.01M334.7 443.0h.01M335.8 423.7h.01M338.0 427.4h.01M335.7 427.8h.01M319.7 428.0h.01M336.8 433.1h.01M321.4 427.3h.01M324.7 443.7h.01M322.6 441.9h.01M334.9 442.3h.01M325.8 443.0h.01M314.9 431.5h.01M318.6 439.8h.01M316.1 427.1h.01M327.4 444.3h.01M320.7 434.8h.01M326.0 443.6h.01M315.0 429.8h.01M327.0 442.2h.01M335.5 431.4h.01M318.2 426.8h.01M329.9 442.7h.01M334.1 424.9h.01M331.0 440.3h.01M334.8 424.5h.01M319.6 422.1h.01M335.4 427.8h.01M320.8 426.2h.01M332.1 442.7h.01M324.2 443.2h.01M334.6 429.1h.01M327.3 442.2h.01M334.2 437.4h.01M334.3 442.2h.01M334.7 434.6h.01M321.3 433.2h.01M322.0 426.0h.01M318.7 437.2h.01M333.7 437.4h.01M328.5 444.5h.01M327.8 442.1h.01M327.9 443.7h.01M336.1 419.1h.01M323.8 443.7h.01M322.2 444.7h.01M325.4 444.7h.01M336.7 432.9h.01M320.0 439.8h.01M321.1 429.9h.01M323.4 427.4h.01M334.5 427.0h.01M319.3 430.0h.01M337.7 431.9h.01M316.9 432.6h.01M320.1 442.8h.01M321.1 441.7h.01M323.0 442.3h.01M328.0 444.2h.01M330.7 441.4h.01M332.8 444.9h.01M335.1 427.9h.01M323.2 426.7h.01M321.2 435.9h.01M336.0 433.4h.01M324.1 443.0h.01M325.0 442.7h.01M320.7 444.4h.01M323.1 425.1h.01M319.1 426.5h.01M334.8 429.6h.01M327.1 443.3h.01M333.4 426.9h.01M321.7 421.1h.01M335.1 426.1h.01M336.6 434.1h.01M334.0 437.1h.01M318.3 434.0h.01M318.1 427.6h.01M327.7 441.9h.01M334.8 435.0h.01M315.0 431.2h.01M332.8 426.5h.01M319.5 437.1h.01M320.1 421.1h.01M334.8 435.7h.01M318.6 414.2h.01M328.7 441.9h.01M321.5 408.8h.01M337.4 411.9h.01M320.8 424.7h.01M316.8 428.5h.01M319.3 419.3h.01M319.6 414.1h.01M333.1 425.8h.01M323.1 443.4h.01M319.1 411.0h.01M321.3 427.8h.01M336.2 413.4h.01M335.5 422.9h.01M337.0 432.4h.01M337.4 429.9h.01M335.1 409.1h.01M337.6 426.3h.01M323.6 425.3h.01M318.3 441.5h.01M320.5 429.0h.01M323.7 407.4h.01M318.3 441.7h.01M318.3 431.8h.01M319.1 429.4h.01M323.4 439.8h.01M320.5 421.7h.01M337.9 439.0h.01M332.1 440.3h.01M321.5 430.9h.01M334.6 419.9h.01M320.8 444.0h.01M319.0 426.1h.01M318.7 440.1h.01M318.9 438.2h.01M320.5 442.9h.01M321.8 427.5h.01M321.8 430.6h.01M337.8 411.4h.01M336.6 413.2h.01M323.6 443.2h.01M320.1 436.5h.01M337.8 439.5h.01M337.4 411.2h.01M318.4 420.0h.01M323.3 405.2h.01M320.9 408.9h.01M334.7 429.5h.01M336.4 419.9h.01M320.3 440.4h.01M318.2 427.3h.01M335.7 427.7h.01M318.8 421.5h.01M319.5 410.3h.01M336.9 440.7h.01" stroke="rgb(106, 133, 206)" stroke-width="0.65" stroke-linecap="round" opacity="0.7"/><path d="M290.3 441.1h.01M290.8 429.0h.01M291.2 432.0h.01M293.0 424.3h.01M292.6 442.2h.01M293.7 443.6h.01M294.1 423.7h.01M294.7 428.0h.01M293.7 426.0h.01M291.1 433.2h.01M291.1 433.8h.01M290.9 434.1h.01M290.9 432.0h.01M292.7 443.1h.01M291.3 431.8h.01M292.7 424.2h.01M294.1 425.5h.01M291.7 427.5h.01M292.9 426.7h.01M295.4 423.8h.01M293.6 424.1h.01M290.9 439.6h.01M293.1 442.6h.01M293.4 427.3h.01M289.7 436.2h.01M291.5 436.9h.01M290.8 430.3h.01M291.6 424.1h.01M290.2 433.5h.01M292.6 424.4h.01M295.3 442.9h.01M293.9 442.6h.01M292.4 443.4h.01M294.6 426.5h.01M291.3 438.1h.01M291.9 427.6h.01M294.8 423.7h.01M290.7 431.7h.01M291.3 436.6h.01M293.4 425.9h.01M297.0 436.8h.01M293.1 441.8h.01M293.8 428.9h.01M295.6 434.2h.01M294.1 442.5h.01M293.5 443.3h.01M293.5 424.3h.01M293.5 442.9h.01M291.1 440.1h.01M290.8 436.3h.01M290.9 435.2h.01M291.2 436.7h.01M293.1 426.0h.01M290.6 434.9h.01M295.4 424.4h.01M290.9 434.2h.01M292.4 424.1h.01M294.8 443.4h.01M290.7 440.9h.01M294.8 442.5h.01M290.7 441.4h.01M294.3 426.2h.01M290.0 432.4h.01M291.3 437.9h.01M291.9 443.4h.01M294.5 426.1h.01M291.5 437.3h.01M292.5 443.3h.01M294.9 426.1h.01M293.7 425.2h.01M290.7 441.8h.01M294.5 428.5h.01M292.1 425.3h.01M291.0 436.6h.01M294.4 443.8h.01M292.4 443.6h.01M290.7 439.7h.01M291.0 428.5h.01M291.6 426.4h.01M291.5 434.2h.01M291.3 437.7h.01M291.3 441.3h.01M290.6 437.4h.01M290.4 439.1h.01M295.2 424.8h.01M294.5 423.7h.01M292.6 427.4h.01M295.2 425.9h.01M292.9 424.9h.01M296.1 438.2h.01M296.3 434.6h.01M291.1 436.9h.01M291.3 429.8h.01M290.3 437.3h.01M291.1 440.6h.01M294.8 427.0h.01M292.4 442.1h.01M296.3 436.3h.01M293.8 427.3h.01M290.9 434.4h.01M293.0 442.8h.01M294.9 427.6h.01M294.1 424.6h.01M290.3 437.1h.01M290.7 431.1h.01M294.8 428.8h.01M291.9 427.0h.01M290.3 427.8h.01M293.3 424.8h.01M290.1 430.5h.01M294.6 426.1h.01M291.5 424.4h.01M291.0 432.6h.01M292.7 442.6h.01M290.0 440.4h.01M291.0 437.6h.01M291.9 425.6h.01M293.8 428.4h.01M295.9 431.9h.01M293.6 442.1h.01M291.3 430.7h.01M296.5 439.3h.01M294.5 426.5h.01M290.5 433.6h.01M290.5 434.4h.01M294.4 428.6h.01M293.3 424.5h.01M293.2 442.5h.01M292.9 424.3h.01M293.2 426.3h.01M291.6 426.7h.01M293.4 441.9h.01M293.6 425.3h.01M291.4 438.3h.01M294.3 442.0h.01M294.2 424.9h.01M294.6 442.0h.01M291.1 441.0h.01M292.9 424.2h.01M291.0 439.4h.01M293.9 428.0h.01M291.2 434.3h.01M290.5 435.1h.01M294.8 425.9h.01M293.1 442.0h.01M293.3 425.3h.01M292.2 443.4h.01M294.9 426.6h.01M291.3 432.2h.01M292.6 426.7h.01M293.2 424.7h.01M290.4 432.1h.01M297.0 437.7h.01M292.9 425.3h.01M291.5 430.9h.01M293.3 442.7h.01M292.6 426.7h.01M292.7 441.8h.01M294.9 425.6h.01M291.4 437.8h.01M293.0 443.2h.01M293.7 441.9h.01M290.2 439.6h.01M290.5 433.4h.01M294.1 427.2h.01M292.2 424.2h.01M292.8 426.5h.01M290.2 432.7h.01M294.9 442.3h.01M292.7 424.6h.01M291.4 433.7h.01M292.9 424.2h.01M292.8 426.4h.01M292.3 442.0h.01M291.1 433.2h.01M291.3 440.0h.01M291.3 428.8h.01M291.4 435.7h.01M292.4 425.4h.01M293.7 425.3h.01M292.7 424.2h.01M292.8 424.8h.01M290.5 430.2h.01M297.3 435.5h.01M294.1 424.6h.01M294.9 425.8h.01M296.1 433.0h.01M293.6 426.0h.01M294.2 424.7h.01M291.3 433.2h.01M293.8 424.2h.01M290.9 429.1h.01M296.4 436.5h.01M295.2 426.2h.01M294.4 429.6h.01M294.2 424.6h.01M295.0 429.6h.01M293.6 428.4h.01M296.8 438.4h.01M294.0 428.6h.01M295.5 428.9h.01M296.0 437.9h.01M297.1 433.7h.01M291.2 431.9h.01M295.6 432.4h.01M295.4 428.4h.01M296.3 431.7h.01M290.4 428.9h.01M294.9 427.3h.01M297.1 433.5h.01M294.1 423.7h.01M294.1 424.1h.01M294.9 428.3h.01M291.8 425.0h.01M294.6 427.1h.01M292.5 427.0h.01M290.5 429.2h.01M293.3 424.6h.01M296.4 438.6h.01M296.6 436.3h.01M297.4 438.0h.01M294.0 427.6h.01M295.4 424.2h.01M295.8 438.0h.01M294.3 425.6h.01M294.7 425.3h.01M295.1 427.6h.01M292.4 427.7h.01M295.1 425.4h.01M293.0 425.9h.01M294.2 429.1h.01M323.9 405.5h.01M326.4 407.3h.01M334.6 416.6h.01M334.1 415.7h.01M331.5 407.2h.01M330.0 424.6h.01M328.8 422.1h.01M331.8 407.4h.01M330.3 419.7h.01M323.6 409.5h.01M324.4 407.5h.01M330.4 407.2h.01M323.0 409.3h.01M332.9 409.2h.01M328.7 405.8h.01M328.6 423.0h.01M329.0 423.0h.01M329.6 406.3h.01M322.7 419.8h.01M323.6 408.7h.01M332.8 407.9h.01M331.8 421.0h.01M330.8 425.8h.01M335.2 412.3h.01M323.7 408.7h.01M335.6 411.6h.01M326.5 422.4h.01M328.7 406.9h.01M320.4 414.4h.01M334.4 411.2h.01M332.7 421.0h.01M330.0 423.2h.01M329.2 407.1h.01M328.5 407.5h.01M333.2 419.7h.01M320.0 414.2h.01M322.8 411.5h.01M329.8 406.7h.01M330.3 420.1h.01M323.4 418.1h.01M328.6 422.6h.01M326.2 424.3h.01M326.0 405.6h.01M326.3 407.4h.01M322.1 410.9h.01M327.9 407.1h.01M329.7 406.2h.01M333.8 418.3h.01M334.1 413.8h.01M328.1 423.5h.01M334.3 414.1h.01M328.0 425.1h.01M330.9 423.7h.01M327.5 428.1h.01M332.0 409.5h.01M330.4 407.1h.01M323.2 408.8h.01M320.2 415.4h.01M322.9 418.5h.01M334.1 409.6h.01M329.5 425.1h.01M323.7 410.5h.01M333.6 423.1h.01M325.8 406.9h.01M329.0 406.0h.01M331.6 420.1h.01M334.3 413.2h.01M323.7 419.9h.01M321.7 415.8h.01M332.2 422.2h.01M333.4 407.8h.01M333.9 407.7h.01M323.1 419.8h.01M320.7 416.9h.01M334.3 417.1h.01M332.3 423.2h.01M332.0 408.9h.01M327.0 422.9h.01M326.1 406.6h.01M326.2 407.1h.01M330.1 407.1h.01M327.1 422.7h.01M334.4 411.3h.01M325.5 407.0h.01M325.1 407.3h.01M320.9 413.0h.01M326.7 422.6h.01M326.2 407.2h.01M335.3 415.8h.01M334.8 409.7h.01M331.9 420.5h.01M322.1 410.7h.01M326.1 406.5h.01M330.0 420.9h.01M328.6 406.9h.01M328.2 407.1h.01M323.9 411.2h.01M323.2 410.3h.01M332.5 418.4h.01M323.0 410.8h.01M324.4 405.8h.01M335.1 411.2h.01M334.5 413.9h.01M321.6 412.2h.01M330.8 406.0h.01M331.8 406.1h.01M335.8 414.7h.01M333.5 409.0h.01M320.3 418.4h.01M325.8 406.0h.01M325.2 406.7h.01M327.9 430.0h.01M320.4 414.2h.01M333.4 407.8h.01M334.3 413.0h.01M323.1 417.7h.01M332.7 419.1h.01M332.6 422.1h.01M323.8 418.2h.01M320.4 419.5h.01M323.1 410.2h.01M321.7 417.2h.01M333.5 408.7h.01M320.8 413.8h.01M320.1 415.8h.01M328.6 421.7h.01M333.1 423.3h.01M323.4 410.5h.01M323.1 422.0h.01M334.4 412.7h.01M320.4 418.8h.01M334.9 410.7h.01M334.8 413.0h.01M322.6 419.7h.01M329.4 422.4h.01M329.0 423.4h.01M321.3 413.6h.01M332.2 419.3h.01M322.2 420.3h.01M322.2 409.9h.01M330.7 430.3h.01M325.4 426.6h.01M331.7 421.5h.01M322.5 407.6h.01M320.1 413.4h.01M321.8 414.2h.01M330.9 422.6h.01M333.4 408.1h.01M323.6 421.1h.01M330.5 407.5h.01M322.7 419.9h.01M321.0 419.2h.01M332.0 422.2h.01M334.2 414.1h.01M332.0 423.5h.01M329.7 424.1h.01M334.5 417.0h.01M320.3 411.9h.01M325.6 422.8h.01M335.0 415.8h.01M325.8 422.7h.01M330.4 421.6h.01M327.7 406.9h.01M320.0 415.8h.01M331.3 419.8h.01M334.7 411.4h.01M330.3 407.4h.01M325.5 407.2h.01M331.4 407.3h.01M322.8 409.4h.01M334.5 411.6h.01M322.3 421.5h.01M326.3 423.6h.01M320.1 419.2h.01M322.1 419.7h.01M335.8 413.9h.01M331.0 407.4h.01M322.8 423.6h.01M334.1 412.3h.01M322.7 422.7h.01M330.9 406.5h.01M326.0 406.2h.01M333.9 409.1h.01M327.4 426.3h.01M321.0 416.9h.01M326.6 406.6h.01M327.0 426.8h.01M330.7 422.0h.01M327.7 425.5h.01M320.3 416.6h.01M331.9 419.8h.01M320.9 418.8h.01M320.2 412.0h.01M328.8 425.8h.01M326.0 405.8h.01M333.8 418.3h.01M333.7 422.9h.01M320.6 413.2h.01M319.9 419.4h.01M330.8 422.9h.01M322.2 418.6h.01M331.6 424.0h.01M321.5 411.9h.01M322.7 421.1h.01M324.5 422.6h.01M323.4 419.3h.01M320.0 413.7h.01M321.9 411.3h.01M320.3 413.9h.01M321.3 416.4h.01M321.4 416.1h.01M327.7 406.4h.01M332.0 419.4h.01M321.7 419.4h.01M335.3 416.9h.01M335.4 416.9h.01M322.7 418.4h.01M323.9 422.0h.01M320.3 416.5h.01M325.2 423.2h.01M329.0 423.8h.01M328.8 423.9h.01M330.8 420.8h.01M323.6 408.2h.01M333.2 407.7h.01M323.5 418.5h.01M332.2 418.1h.01M324.6 424.2h.01M325.5 424.5h.01M328.7 425.2h.01M324.3 422.8h.01M321.2 413.9h.01M323.8 433.3h.01M325.8 422.6h.01M320.3 415.0h.01M333.2 422.5h.01M327.2 424.9h.01M327.8 406.7h.01M322.3 421.0h.01M335.2 413.7h.01M325.4 421.9h.01M332.9 420.7h.01M327.4 430.0h.01M332.5 409.0h.01M324.7 407.5h.01M331.8 420.4h.01M329.7 423.9h.01M323.3 410.9h.01M323.2 421.2h.01M323.2 420.3h.01M320.6 419.3h.01M331.6 405.5h.01M323.6 421.4h.01M320.9 413.0h.01M331.1 420.8h.01M330.3 420.8h.01M327.1 422.1h.01M328.8 424.4h.01M326.3 427.0h.01M323.0 420.7h.01M326.8 424.3h.01M327.2 421.9h.01M330.6 427.1h.01M321.9 422.0h.01M330.4 436.0h.01M331.2 423.2h.01M328.3 428.3h.01M329.8 437.2h.01M328.8 437.5h.01M331.7 436.4h.01M325.7 422.8h.01M327.1 429.5h.01M332.2 429.4h.01M323.2 439.4h.01M330.3 437.4h.01M325.2 429.1h.01M323.9 431.8h.01M327.7 436.4h.01M330.8 422.7h.01M325.2 426.6h.01M333.9 431.5h.01M327.6 422.0h.01M330.7 435.2h.01M331.1 437.4h.01M333.9 431.9h.01M330.0 432.8h.01M326.6 430.9h.01M329.8 432.7h.01M330.8 433.6h.01M327.3 438.0h.01M324.6 422.3h.01M327.0 422.1h.01M327.8 440.5h.01M325.9 441.2h.01M322.8 435.0h.01M332.6 418.8h.01M330.3 427.1h.01M321.6 417.4h.01M331.3 432.3h.01M331.1 431.4h.01M327.0 439.3h.01M329.1 439.9h.01M329.4 434.5h.01M332.7 433.6h.01M329.6 434.7h.01M329.5 434.8h.01M330.6 432.3h.01M327.1 422.5h.01M331.2 427.3h.01M329.9 426.9h.01M327.3 436.8h.01M330.2 429.7h.01M328.8 437.3h.01M325.2 426.4h.01M329.8 423.8h.01M325.7 421.7h.01M322.6 428.4h.01M329.5 435.3h.01M326.2 435.1h.01M325.7 431.3h.01M332.9 427.7h.01M326.5 439.9h.01M326.9 426.1h.01M328.5 433.8h.01M325.1 433.8h.01M326.4 441.8h.01M333.8 429.9h.01M327.7 425.2h.01M326.7 429.2h.01M325.4 428.8h.01M333.0 429.8h.01M326.4 436.5h.01M327.4 424.7h.01M325.8 427.5h.01M333.4 434.6h.01M329.7 434.8h.01M323.2 429.5h.01M325.3 433.8h.01M325.7 434.6h.01M322.2 432.8h.01M322.7 431.5h.01M328.4 427.0h.01M323.5 435.7h.01M324.4 434.3h.01M330.5 436.3h.01M322.5 438.7h.01M324.1 438.5h.01M332.7 434.2h.01M328.8 424.5h.01M325.5 436.3h.01M329.6 426.7h.01M331.7 422.5h.01M333.3 428.6h.01M325.4 423.0h.01M333.1 428.8h.01M333.8 432.7h.01M324.3 436.0h.01M331.1 436.6h.01M321.9 436.0h.01M330.1 439.1h.01M329.1 437.2h.01M328.4 428.1h.01M323.6 423.5h.01M333.3 432.7h.01M333.5 432.7h.01M324.8 441.7h.01M324.2 432.2h.01M330.8 431.2h.01M326.6 437.9h.01M326.8 432.8h.01M324.0 434.0h.01M328.5 426.0h.01M328.0 430.6h.01M323.6 427.7h.01M326.5 422.8h.01M324.9 429.6h.01M322.6 435.8h.01M324.8 437.9h.01M328.6 437.0h.01M324.7 436.3h.01M324.8 439.0h.01M331.0 429.2h.01M328.3 439.7h.01M331.5 432.0h.01M332.7 431.7h.01M325.9 426.3h.01M323.8 432.6h.01M328.0 432.5h.01M328.1 439.6h.01M325.0 427.0h.01M324.8 437.4h.01M325.5 439.7h.01M326.9 424.1h.01M329.7 424.8h.01M326.8 427.1h.01M331.6 431.8h.01M323.4 436.8h.01M325.9 434.4h.01M329.5 438.6h.01M326.3 435.1h.01M331.2 435.7h.01M325.8 432.9h.01M331.5 439.5h.01M329.8 436.0h.01M326.1 425.8h.01M329.6 438.8h.01M327.1 436.8h.01M326.9 438.9h.01M326.5 440.4h.01M330.5 425.8h.01M333.7 432.8h.01M326.0 437.8h.01M326.8 425.0h.01M331.0 427.2h.01M326.6 438.8h.01M321.5 417.8h.01M333.5 428.4h.01M327.0 426.3h.01M328.7 426.4h.01M330.8 439.2h.01M325.2 435.4h.01M326.0 441.2h.01M327.8 428.5h.01M329.9 433.6h.01M329.6 427.4h.01M322.3 431.7h.01M329.5 424.8h.01M326.2 434.9h.01M323.3 439.6h.01M331.1 433.8h.01M329.9 433.3h.01M329.9 436.9h.01M326.4 434.4h.01M332.5 428.9h.01M328.4 423.8h.01M323.2 433.0h.01M323.5 421.0h.01M326.7 427.5h.01M333.5 418.8h.01M324.6 432.5h.01M324.9 435.0h.01M328.7 428.0h.01M324.9 434.2h.01M329.8 437.6h.01M331.1 434.3h.01M332.4 431.9h.01M331.7 438.0h.01M333.9 433.6h.01M327.8 435.7h.01M328.3 436.5h.01M328.9 436.9h.01M329.2 438.8h.01M328.7 438.3h.01M328.9 433.9h.01M326.4 435.2h.01M322.1 437.7h.01M327.2 430.2h.01M333.8 428.9h.01M333.5 434.8h.01M329.0 433.4h.01M333.2 431.6h.01M327.0 436.5h.01M328.5 426.0h.01M322.6 434.2h.01M331.9 429.6h.01M323.3 434.4h.01M328.8 435.3h.01M327.3 437.8h.01M324.1 439.3h.01M329.1 431.3h.01M331.3 433.8h.01M324.5 433.2h.01M321.0 415.5h.01M324.0 422.1h.01M333.5 430.2h.01M331.2 428.5h.01M324.4 427.2h.01M323.8 436.0h.01M324.9 422.5h.01M329.2 434.7h.01M331.2 438.1h.01M332.0 429.6h.01M322.2 428.6h.01M326.4 425.3h.01M331.7 431.0h.01M323.5 438.4h.01M328.9 433.2h.01M324.8 441.1h.01M323.0 427.7h.01M328.9 424.6h.01M322.1 419.3h.01M329.1 431.9h.01M322.6 430.5h.01M328.7 440.8h.01M327.0 432.0h.01M328.8 437.1h.01M330.2 431.4h.01M323.3 434.3h.01M328.0 430.2h.01M323.9 428.8h.01M328.4 441.2h.01M326.0 432.5h.01M332.6 434.1h.01M324.9 432.5h.01M326.2 440.2h.01M324.7 437.9h.01M333.7 435.4h.01M329.3 430.5h.01M331.3 434.0h.01M330.4 431.8h.01M331.7 439.4h.01M329.6 435.9h.01M327.7 436.5h.01M322.8 438.2h.01M326.1 430.9h.01M328.3 431.0h.01M325.3 423.4h.01M331.2 436.2h.01M321.9 433.3h.01M324.2 423.6h.01M330.1 432.7h.01M321.9 432.4h.01M331.9 434.3h.01M331.2 439.7h.01M324.0 438.4h.01M323.5 418.6h.01M328.5 439.7h.01M328.9 441.2h.01M326.4 429.3h.01M325.5 441.0h.01M327.0 440.0h.01M324.2 434.9h.01M326.7 425.2h.01M326.3 430.8h.01M325.9 441.3h.01M325.1 437.5h.01M333.3 431.2h.01M328.9 431.1h.01M329.4 427.2h.01M324.1 434.7h.01M331.4 430.7h.01M323.0 428.3h.01M331.2 424.4h.01M325.1 433.1h.01M329.0 441.2h.01M330.9 434.8h.01M323.0 432.8h.01M329.6 423.2h.01M331.0 430.0h.01M333.8 420.5h.01M323.7 433.1h.01M328.7 424.7h.01M322.4 430.2h.01M325.3 424.5h.01M327.0 441.6h.01M323.5 431.6h.01M331.5 438.5h.01M327.0 422.9h.01M333.8 432.3h.01M323.2 438.5h.01M329.3 433.0h.01M325.0 438.0h.01M329.5 422.4h.01M324.9 424.9h.01M333.2 430.6h.01M328.3 428.9h.01M323.7 431.0h.01M324.2 439.7h.01M329.1 436.5h.01M329.2 407.5h.01M323.8 434.8h.01M325.2 428.5h.01M327.0 427.7h.01M333.6 429.4h.01M321.9 439.4h.01M331.9 431.7h.01M332.3 428.8h.01M328.1 432.7h.01M332.6 435.1h.01M330.7 419.9h.01M323.2 436.9h.01M330.0 427.3h.01M333.5 430.8h.01M332.4 428.2h.01M333.2 433.6h.01M324.4 432.3h.01M322.8 438.6h.01M328.8 438.3h.01M323.9 425.7h.01M324.4 434.5h.01M328.3 437.3h.01M328.1 434.4h.01M326.9 427.3h.01M328.8 434.2h.01M326.3 434.1h.01M323.3 432.1h.01M325.3 433.8h.01M324.1 429.6h.01M329.7 437.8h.01M327.9 437.7h.01M323.1 429.3h.01M330.9 434.0h.01M328.4 426.3h.01M322.6 429.1h.01M331.3 427.0h.01M333.4 420.6h.01M330.2 421.8h.01M332.9 430.7h.01M330.6 430.0h.01M327.4 432.5h.01M322.4 439.0h.01M322.5 438.6h.01M326.3 439.1h.01M328.3 431.5h.01M333.5 423.4h.01M325.7 424.7h.01M330.9 434.3h.01M333.4 434.1h.01M328.8 425.1h.01M321.9 434.4h.01M331.9 434.3h.01M333.4 431.8h.01M323.0 427.8h.01M328.2 432.0h.01M328.4 437.9h.01M331.5 436.1h.01M326.5 439.3h.01M322.4 433.4h.01M325.6 432.5h.01M325.1 435.7h.01M323.7 435.5h.01M328.2 436.9h.01M325.8 424.6h.01M327.2 437.1h.01M330.2 434.4h.01M330.8 423.1h.01M330.4 429.1h.01M326.2 437.6h.01M329.6 440.2h.01M326.4 426.7h.01M323.1 439.4h.01M332.0 427.7h.01M322.8 423.0h.01M328.2 422.1h.01M326.8 427.2h.01M325.3 433.3h.01M328.0 439.2h.01M326.0 423.9h.01M326.8 435.0h.01M327.1 441.3h.01M326.7 439.0h.01M324.9 433.1h.01M321.3 415.0h.01M323.3 432.7h.01M332.0 423.5h.01M329.6 434.2h.01M333.8 428.9h.01M325.0 426.0h.01M332.4 429.8h.01M330.1 438.3h.01M324.4 424.7h.01M331.6 425.4h.01M325.3 438.9h.01M323.9 430.5h.01M325.6 441.0h.01M324.0 433.8h.01M323.0 422.5h.01M333.7 432.9h.01M332.6 432.8h.01M325.9 431.2h.01M326.5 431.0h.01M326.6 428.2h.01M324.2 431.4h.01M332.1 421.1h.01M330.5 419.7h.01M333.2 429.1h.01M328.3 428.8h.01M324.5 431.5h.01M332.9 418.8h.01M322.4 436.8h.01M333.0 429.8h.01M333.1 431.8h.01M330.0 438.5h.01M331.3 428.8h.01M325.1 430.3h.01M333.4 422.4h.01M331.0 438.7h.01M325.4 439.5h.01M326.9 440.7h.01M327.4 441.3h.01M331.4 426.2h.01M332.5 432.6h.01M328.9 432.2h.01M324.3 431.4h.01M324.3 437.2h.01M324.2 434.9h.01M326.7 438.8h.01M321.9 438.6h.01M326.0 434.7h.01M326.3 437.8h.01M325.0 432.5h.01M328.9 433.8h.01M324.6 423.6h.01M328.5 425.9h.01M329.7 434.8h.01M326.9 422.8h.01M323.3 433.6h.01M329.6 432.1h.01M327.0 428.8h.01M331.5 423.2h.01M330.2 429.2h.01M330.4 430.8h.01M322.2 432.5h.01M326.4 435.6h.01M333.7 431.5h.01M327.5 433.5h.01M325.9 430.8h.01M330.3 426.0h.01M330.2 428.4h.01M328.8 441.6h.01M325.7 435.9h.01M325.4 432.9h.01M321.9 420.1h.01M322.3 439.4h.01M332.3 433.8h.01M330.6 436.7h.01M325.6 423.2h.01M330.6 436.6h.01M324.3 433.5h.01M323.6 439.7h.01M328.9 440.7h.01M332.3 418.4h.01M325.5 441.1h.01M326.3 431.3h.01M325.7 425.6h.01M324.9 424.2h.01M324.6 431.0h.01M326.8 434.7h.01M327.9 436.8h.01M322.3 435.2h.01M330.7 423.3h.01M328.7 440.5h.01M328.7 429.3h.01M328.0 436.3h.01M325.8 434.8h.01M326.7 429.9h.01M324.4 432.8h.01M322.2 432.8h.01M331.2 422.5h.01M331.7 427.4h.01M324.1 427.5h.01M330.5 434.3h.01M324.3 439.9h.01M327.5 432.0h.01M326.7 428.9h.01M329.5 432.9h.01M329.5 426.4h.01M329.1 430.9h.01M330.2 428.0h.01M326.2 435.3h.01M322.6 438.0h.01M324.3 435.4h.01M328.1 436.1h.01M326.8 430.1h.01M330.2 439.7h.01M327.2 434.6h.01M327.8 426.8h.01M327.4 433.5h.01M325.0 436.4h.01M324.5 426.5h.01M331.6 427.2h.01M323.4 438.8h.01M324.9 431.0h.01M327.1 425.8h.01M322.3 438.5h.01M322.6 435.8h.01M333.4 432.6h.01M322.3 438.1h.01M327.8 430.3h.01M327.4 427.8h.01M329.3 425.4h.01M325.2 441.0h.01M331.7 430.4h.01M330.0 425.2h.01M331.2 432.1h.01M329.9 437.3h.01M323.9 433.9h.01M322.8 432.4h.01M322.1 435.9h.01M324.7 434.5h.01M323.4 431.7h.01M330.2 425.2h.01M325.2 422.9h.01M329.4 426.3h.01M323.7 430.8h.01M330.6 435.1h.01M330.1 424.6h.01M331.7 431.4h.01M331.5 435.2h.01M327.4 441.2h.01M333.3 419.1h.01M328.2 427.2h.01M322.1 409.3h.01M324.2 428.9h.01M326.0 425.8h.01M326.0 430.2h.01M326.5 429.6h.01M322.7 422.1h.01M321.1 414.7h.01M326.7 439.3h.01M332.1 429.6h.01M328.2 431.7h.01M330.3 433.1h.01M327.1 405.7h.01M331.0 432.5h.01M324.2 431.7h.01M333.2 430.3h.01M331.9 428.2h.01M323.4 433.7h.01M326.7 425.1h.01M327.7 426.4h.01M330.8 429.9h.01M330.2 407.2h.01M322.9 429.6h.01M326.5 439.1h.01M333.2 432.8h.01M323.7 428.0h.01M331.8 425.4h.01M333.0 435.2h.01M330.7 430.0h.01M330.0 435.6h.01M322.7 408.0h.01M325.4 431.3h.01M334.2 411.8h.01M330.1 426.9h.01M328.2 433.6h.01M321.7 415.2h.01M331.5 426.5h.01M328.7 435.2h.01M333.7 430.7h.01M328.2 424.0h.01M326.0 422.4h.01M322.7 432.9h.01M329.9 428.1h.01M329.0 429.8h.01M320.9 419.5h.01M331.6 428.1h.01M323.0 438.6h.01M334.8 414.9h.01M321.2 414.7h.01M327.9 406.2h.01M327.3 434.0h.01M330.1 423.8h.01" stroke="rgb(78, 118, 192)" stroke-width="0.65" stroke-linecap="round" opacity="0.85"/><path d="M294.8 435.8h.01M292.2 433.3h.01M292.8 439.8h.01M292.7 440.6h.01M293.5 432.7h.01M292.6 441.7h.01M293.9 434.4h.01M292.0 438.5h.01M293.4 429.9h.01M292.5 440.9h.01M294.4 439.6h.01M291.8 433.9h.01M293.2 438.1h.01M291.7 430.5h.01M291.9 439.5h.01M293.5 440.2h.01M293.7 440.1h.01M294.0 433.6h.01M292.9 432.2h.01M291.7 438.1h.01M292.8 440.0h.01M292.2 439.2h.01M293.8 434.2h.01M292.8 439.0h.01M295.0 437.3h.01M293.9 431.2h.01M293.3 429.9h.01M292.6 435.4h.01M293.4 430.0h.01M292.8 437.8h.01M294.6 431.9h.01M292.0 429.3h.01M291.7 440.0h.01M292.4 433.5h.01M294.4 436.9h.01M294.2 435.7h.01M293.4 432.4h.01M292.1 441.5h.01M293.7 439.8h.01M291.9 430.3h.01M292.8 431.4h.01M292.4 437.4h.01M294.4 437.2h.01M292.0 439.8h.01M295.5 441.2h.01M293.5 438.4h.01M293.7 439.7h.01M293.1 437.0h.01M293.1 429.9h.01M293.8 432.0h.01M293.3 441.6h.01M293.0 437.9h.01M292.7 432.1h.01M293.4 431.8h.01M293.7 435.6h.01M291.9 429.8h.01M292.1 434.0h.01M292.1 437.7h.01M294.3 437.8h.01M293.3 439.0h.01M292.7 438.0h.01M291.6 440.2h.01M292.2 441.4h.01M293.9 431.6h.01M292.7 432.1h.01M295.2 441.7h.01M294.4 435.3h.01M293.5 436.6h.01M293.3 432.3h.01M291.7 439.8h.01M292.4 433.9h.01M293.9 432.4h.01M292.0 441.5h.01M294.7 440.1h.01M292.1 438.3h.01M292.9 439.3h.01M292.3 440.0h.01M293.8 437.5h.01M293.0 436.7h.01M292.6 439.0h.01M293.7 437.7h.01M293.4 433.4h.01M293.3 431.9h.01M293.3 430.5h.01M292.4 433.8h.01M293.2 433.2h.01M292.8 438.9h.01M291.6 429.8h.01M292.8 435.2h.01M293.2 429.8h.01M292.8 436.9h.01M294.7 438.1h.01M292.4 439.5h.01M291.8 434.9h.01M292.0 431.3h.01M292.6 439.7h.01M293.6 433.8h.01M294.2 435.7h.01M293.2 434.6h.01M293.4 432.2h.01M292.7 438.9h.01M292.9 437.9h.01M293.6 441.2h.01M292.1 431.4h.01M291.9 431.3h.01M293.3 436.4h.01M292.8 431.0h.01M292.1 438.8h.01M292.2 438.7h.01M295.1 438.2h.01M293.5 438.2h.01M291.8 438.3h.01M292.6 439.6h.01M292.8 429.4h.01M294.0 433.8h.01M292.2 435.2h.01M292.3 434.7h.01M294.2 433.4h.01M292.2 430.3h.01M292.5 429.9h.01M293.1 432.2h.01M291.9 432.1h.01M292.4 438.9h.01M294.4 433.2h.01M293.7 434.1h.01M293.1 440.9h.01M295.2 440.8h.01M293.9 430.0h.01M292.8 437.2h.01M294.4 436.2h.01M291.5 434.7h.01M292.1 438.2h.01M294.6 433.1h.01M292.3 437.1h.01M292.4 441.0h.01M291.7 427.9h.01M293.3 438.2h.01M293.9 429.9h.01M293.1 441.4h.01M293.6 434.7h.01M294.0 435.2h.01M292.7 429.6h.01M292.3 429.6h.01M292.9 436.9h.01M291.6 439.2h.01M291.7 428.7h.01M293.4 439.2h.01M294.4 439.8h.01M294.3 431.5h.01M292.6 435.8h.01M294.8 438.0h.01M292.0 432.7h.01M293.7 435.4h.01M293.1 439.1h.01M293.1 429.1h.01M295.3 437.3h.01M294.7 434.4h.01M291.5 433.6h.01M293.1 441.7h.01M293.8 433.1h.01M293.4 439.7h.01M295.0 434.3h.01M293.4 437.2h.01M293.1 428.5h.01M292.7 427.9h.01M294.6 434.1h.01M293.6 433.9h.01M292.3 439.0h.01M292.4 437.3h.01M292.8 439.0h.01M292.9 430.6h.01M293.3 431.8h.01M294.6 438.4h.01M293.0 441.6h.01M291.6 432.3h.01M292.3 433.4h.01M292.9 428.8h.01M292.5 430.3h.01M293.4 436.6h.01M294.1 435.1h.01M292.6 438.7h.01M292.2 428.8h.01M292.7 437.9h.01M292.1 429.8h.01M294.5 431.0h.01M292.1 430.1h.01M293.8 438.9h.01M292.1 436.8h.01M295.5 433.1h.01M292.7 436.1h.01M292.2 434.2h.01M292.4 428.5h.01M291.9 431.0h.01M293.4 441.1h.01M291.6 430.4h.01M294.3 432.0h.01M293.2 436.4h.01M292.5 433.0h.01M294.8 431.2h.01M293.0 437.2h.01M294.6 436.9h.01M292.9 439.3h.01M291.9 440.7h.01M292.9 429.4h.01M293.7 432.9h.01M293.3 440.8h.01M294.6 434.6h.01M292.6 439.0h.01M292.2 439.0h.01M293.2 436.1h.01M294.3 436.5h.01M293.6 440.4h.01M294.4 437.4h.01M294.4 437.5h.01M293.0 438.2h.01M292.9 428.0h.01M295.0 439.7h.01M292.8 436.2h.01M292.8 439.5h.01M292.5 437.4h.01M293.3 437.5h.01M293.5 440.1h.01M294.3 438.8h.01M294.9 435.1h.01M293.3 439.9h.01M294.6 433.5h.01M293.1 432.1h.01M293.4 434.8h.01M291.8 438.4h.01M292.0 435.9h.01M293.8 436.1h.01M292.6 429.1h.01M291.8 430.9h.01M291.6 441.2h.01M292.7 436.2h.01M292.2 436.3h.01M294.3 432.7h.01M293.0 429.8h.01M294.9 438.6h.01M294.2 434.2h.01M292.7 439.6h.01M294.7 429.9h.01M293.7 433.7h.01M291.6 428.5h.01M293.2 434.5h.01M292.3 437.0h.01M293.2 439.3h.01M293.5 438.8h.01M292.4 430.9h.01M293.4 431.0h.01M293.1 428.9h.01M292.8 436.1h.01M291.5 436.4h.01M293.6 432.8h.01M292.7 439.8h.01M293.0 438.5h.01M292.7 441.2h.01M293.6 439.9h.01M293.0 435.6h.01M292.6 435.3h.01M293.1 439.9h.01M291.9 437.2h.01M292.7 438.5h.01M294.2 433.5h.01M292.8 434.3h.01M292.9 437.1h.01M293.8 432.9h.01M293.7 438.4h.01M294.7 441.3h.01M293.2 427.9h.01M292.1 432.8h.01M294.9 437.7h.01M291.9 430.2h.01M293.7 440.9h.01M292.4 437.2h.01M292.7 437.1h.01M292.6 434.2h.01M295.3 432.3h.01M294.2 440.7h.01M293.2 433.4h.01M292.6 432.9h.01M292.3 428.1h.01M293.2 430.6h.01M292.9 440.7h.01M292.0 428.6h.01M293.6 436.4h.01M293.5 437.7h.01M293.3 433.1h.01M294.7 438.1h.01M293.7 431.6h.01M292.2 438.6h.01M292.5 434.6h.01M292.3 437.2h.01M293.6 431.9h.01M292.7 435.7h.01M295.1 436.0h.01M291.7 436.7h.01M293.9 437.0h.01M291.8 434.1h.01M294.0 438.9h.01M294.0 432.6h.01M293.1 438.3h.01M292.0 432.9h.01M293.4 433.4h.01M292.4 430.7h.01M292.1 430.5h.01M293.3 433.5h.01M293.6 438.1h.01M291.9 438.7h.01M293.9 438.1h.01M292.7 441.8h.01M293.0 431.2h.01M294.1 439.2h.01M293.7 441.1h.01M292.9 437.4h.01M294.0 439.4h.01M292.7 439.5h.01M292.8 435.2h.01M293.9 438.0h.01M293.7 429.7h.01M292.7 429.2h.01M292.2 434.5h.01M292.8 437.9h.01M293.5 432.4h.01M294.1 440.6h.01M292.9 429.3h.01M291.6 432.9h.01M292.6 434.6h.01M295.5 432.4h.01M292.7 428.3h.01M292.7 429.6h.01M294.4 435.1h.01M291.6 434.0h.01M293.8 436.3h.01M294.2 434.2h.01M295.3 435.8h.01M293.6 436.3h.01M295.0 435.3h.01M294.2 437.6h.01M292.3 431.9h.01M292.1 434.3h.01M293.7 432.1h.01M293.6 430.7h.01M291.9 430.7h.01M293.9 436.3h.01M292.6 440.6h.01M295.2 432.2h.01M294.7 430.3h.01M293.6 432.8h.01M295.5 430.0h.01M291.9 429.9h.01M293.3 436.5h.01M293.0 433.3h.01M292.3 436.6h.01M294.9 440.7h.01M293.9 435.5h.01M293.4 428.2h.01M295.4 430.4h.01M294.9 441.1h.01M294.9 433.4h.01M294.6 436.8h.01M295.5 436.1h.01M293.4 433.9h.01M295.5 430.9h.01M294.0 439.6h.01M295.3 432.3h.01M294.0 430.8h.01M291.9 430.5h.01M291.7 431.6h.01M292.0 430.5h.01M292.5 432.1h.01M292.3 438.3h.01M294.1 440.2h.01M295.3 434.8h.01M293.4 435.2h.01M294.3 432.6h.01M292.2 435.5h.01M294.6 431.0h.01M294.9 438.7h.01M293.5 431.3h.01M295.3 441.0h.01M295.3 440.4h.01M293.0 427.8h.01M292.3 434.7h.01M292.0 431.5h.01M294.7 436.8h.01M292.9 440.8h.01M295.0 431.7h.01M323.1 415.9h.01M331.7 419.2h.01M322.8 413.7h.01M333.5 410.1h.01M328.5 408.3h.01M326.7 420.4h.01M332.1 414.0h.01M332.2 413.9h.01M333.8 410.3h.01M329.5 409.3h.01M332.1 410.4h.01M331.7 408.0h.01M329.5 420.4h.01M329.8 408.0h.01M331.2 407.6h.01M322.8 413.2h.01M333.5 414.4h.01M332.8 415.5h.01M322.2 415.0h.01M322.5 414.4h.01M332.7 410.5h.01M333.5 415.3h.01M325.4 419.7h.01M323.0 414.2h.01M332.7 412.5h.01M330.3 408.8h.01M325.9 418.1h.01M330.5 408.3h.01M332.4 411.2h.01M327.8 408.7h.01M324.8 419.0h.01M332.5 411.1h.01M324.6 407.8h.01M332.2 415.0h.01M326.2 409.0h.01M325.9 418.9h.01M323.8 411.9h.01M333.8 411.1h.01M322.2 414.0h.01M323.7 416.9h.01M331.6 417.9h.01M322.8 416.3h.01M323.4 414.2h.01M324.3 409.4h.01M332.3 416.2h.01M330.9 419.6h.01M328.5 409.5h.01M324.6 409.2h.01M328.7 408.2h.01M333.1 414.4h.01M324.5 418.2h.01M325.4 408.8h.01M331.1 409.5h.01M330.6 418.1h.01M333.7 412.5h.01M323.2 413.0h.01M325.4 409.1h.01M332.5 414.3h.01M329.9 409.2h.01M328.1 408.5h.01M323.5 417.4h.01M332.1 412.2h.01M332.2 411.7h.01M332.4 413.4h.01M323.3 415.6h.01M329.0 420.1h.01M328.6 419.7h.01M328.8 409.0h.01M332.7 414.8h.01M331.5 417.9h.01M327.8 420.9h.01M331.2 409.0h.01M325.2 419.0h.01M328.5 421.3h.01M332.8 411.4h.01M327.6 407.9h.01M332.9 413.2h.01M330.0 408.4h.01M325.8 418.5h.01M324.3 417.8h.01M332.0 413.9h.01M332.8 413.0h.01M332.5 410.9h.01M331.6 409.1h.01M333.3 417.0h.01M328.4 420.0h.01M332.2 414.9h.01M326.0 409.2h.01M326.2 421.0h.01M332.0 413.3h.01M325.6 407.6h.01M332.5 409.6h.01M323.0 417.4h.01M328.3 407.8h.01M322.4 412.0h.01M332.0 412.9h.01M324.6 409.2h.01M330.5 408.6h.01M325.4 419.3h.01M330.7 408.9h.01M332.2 409.8h.01M324.8 417.9h.01M332.4 412.9h.01M330.7 418.6h.01M333.8 417.3h.01M326.5 420.7h.01M322.9 414.0h.01M332.1 411.6h.01M328.2 420.0h.01M325.8 407.9h.01M329.1 409.5h.01M332.0 411.0h.01M328.5 408.8h.01M323.7 416.5h.01M332.2 415.4h.01M325.9 408.1h.01M329.1 407.6h.01M332.1 414.2h.01M330.2 407.9h.01M332.2 412.8h.01M324.4 418.2h.01M330.1 408.4h.01M326.8 408.1h.01M325.7 407.9h.01M332.5 417.4h.01M332.9 414.7h.01M328.6 408.3h.01M327.7 409.0h.01M333.4 412.3h.01M331.2 409.3h.01M332.0 413.9h.01M322.0 416.0h.01M330.4 408.4h.01M322.2 413.9h.01M332.9 411.7h.01M331.0 419.6h.01M331.9 417.7h.01M328.9 407.8h.01M325.7 409.1h.01M323.8 413.9h.01M332.5 412.4h.01M329.2 407.8h.01M333.9 417.4h.01M322.7 417.5h.01M333.6 416.5h.01M332.5 414.6h.01M322.4 414.1h.01M333.1 412.0h.01M332.2 411.8h.01M328.0 421.5h.01M324.9 418.9h.01M333.2 416.4h.01M330.2 418.0h.01M322.2 417.5h.01M325.0 421.5h.01M330.8 409.0h.01M328.8 408.8h.01M331.3 409.1h.01M328.7 407.7h.01M324.3 409.1h.01M333.6 414.6h.01M332.3 415.2h.01M328.8 408.9h.01M331.6 408.2h.01M332.1 415.4h.01M329.8 421.6h.01M332.6 411.8h.01M327.9 407.7h.01M333.8 417.5h.01M333.2 412.5h.01M323.1 416.9h.01M332.4 417.3h.01M326.9 408.6h.01M324.6 421.3h.01M322.9 415.4h.01M329.5 420.2h.01M326.8 419.9h.01M323.1 412.8h.01M325.6 417.7h.01M329.8 420.6h.01M331.0 409.3h.01M333.2 413.4h.01M323.0 412.8h.01M326.7 408.2h.01M329.0 409.1h.01M332.7 415.8h.01M322.4 417.3h.01M328.8 409.1h.01M327.7 419.7h.01M326.9 419.8h.01M332.6 415.5h.01M331.1 418.6h.01M323.4 415.5h.01M329.6 408.8h.01M332.4 414.4h.01M326.0 409.5h.01M330.8 418.1h.01M327.4 421.3h.01M324.3 418.9h.01M328.2 408.9h.01M328.3 419.8h.01M324.7 408.0h.01M325.8 407.9h.01M330.4 418.5h.01M327.5 408.8h.01M328.7 420.9h.01M323.3 416.0h.01M323.1 414.2h.01M323.3 412.0h.01M330.1 418.7h.01M328.2 409.4h.01M332.0 410.6h.01M327.1 420.0h.01M324.3 418.0h.01M323.5 417.3h.01M332.3 412.8h.01M325.4 419.8h.01M325.8 407.6h.01M324.3 419.7h.01M332.6 417.5h.01M332.8 411.9h.01M328.8 408.7h.01M327.8 408.1h.01M322.6 416.5h.01M324.1 418.5h.01M324.8 420.4h.01M332.4 411.1h.01M329.3 421.0h.01M331.7 408.1h.01M322.0 414.8h.01M325.9 409.0h.01M322.5 416.7h.01M329.1 420.9h.01M330.4 408.7h.01M325.3 409.3h.01M332.3 409.7h.01M330.1 408.6h.01M333.4 417.1h.01M328.6 420.4h.01M326.7 420.3h.01M325.9 409.1h.01M325.0 409.5h.01M332.1 413.1h.01M327.0 407.6h.01M324.2 420.4h.01M323.8 414.0h.01M332.2 416.9h.01M331.5 418.4h.01M333.7 416.4h.01M327.3 408.5h.01M323.9 420.3h.01M333.2 414.2h.01M331.3 408.4h.01M328.1 408.8h.01M324.6 420.2h.01M328.5 408.7h.01M329.4 409.2h.01M330.2 417.7h.01M328.2 408.7h.01M332.7 414.9h.01M324.7 409.0h.01M325.8 419.3h.01M331.5 419.0h.01M328.1 420.8h.01M326.6 421.1h.01M324.1 408.9h.01M330.9 409.5h.01M329.9 420.3h.01M325.8 419.0h.01M333.7 412.4h.01M324.3 418.5h.01M324.4 417.6h.01M332.8 415.7h.01M322.4 414.8h.01M327.5 420.5h.01M325.1 418.7h.01M331.1 409.3h.01M331.9 418.5h.01M329.7 420.4h.01M323.9 419.6h.01M328.4 408.4h.01M326.8 408.0h.01M328.6 408.8h.01M324.1 408.2h.01M322.7 415.5h.01M327.7 420.2h.01M322.2 411.8h.01M331.6 418.7h.01M324.5 420.5h.01M330.7 407.6h.01M324.9 420.0h.01M323.7 414.8h.01M323.8 417.0h.01M326.0 408.3h.01M334.0 412.6h.01M322.6 415.7h.01M330.7 408.4h.01M333.9 410.6h.01M332.8 415.5h.01M322.3 413.7h.01M323.8 414.3h.01M323.0 417.3h.01M329.5 421.5h.01M322.3 411.9h.01M328.2 409.1h.01M332.2 414.7h.01M329.2 407.9h.01M332.4 413.8h.01M331.0 407.9h.01M322.5 414.7h.01M324.9 421.4h.01M324.0 417.9h.01M327.6 420.0h.01M330.0 417.7h.01M323.9 418.2h.01M326.7 420.8h.01M325.0 421.5h.01M329.4 420.4h.01M321.9 416.6h.01M325.8 417.9h.01M323.2 411.7h.01M324.9 420.0h.01M331.5 409.4h.01M325.4 420.2h.01M325.2 409.5h.01M332.1 415.9h.01M323.2 412.1h.01M332.0 417.1h.01M326.7 420.0h.01M326.2 420.2h.01M334.0 413.6h.01M327.1 421.1h.01M333.8 415.3h.01M329.8 408.1h.01M322.1 417.5h.01M325.8 418.6h.01M326.1 421.1h.01M333.3 414.2h.01M333.2 415.1h.01M330.0 418.1h.01M327.0 419.8h.01" stroke="rgb(60, 150, 163)" stroke-width="0.65" stroke-linecap="round" opacity="0.85"/><path d="M328.4 417.8h.01M324.8 409.7h.01M330.4 411.3h.01M331.1 411.5h.01M325.5 416.7h.01M331.6 416.1h.01M330.2 416.0h.01M327.1 417.7h.01M330.4 411.4h.01M324.5 409.7h.01M327.3 418.9h.01M324.9 417.1h.01M327.1 418.3h.01M325.4 413.7h.01M330.5 416.9h.01M325.9 418.9h.01M328.6 418.0h.01M327.3 418.9h.01M326.2 418.5h.01M324.6 412.6h.01M327.6 418.9h.01M325.2 417.1h.01M325.4 409.8h.01M324.2 414.3h.01M329.0 419.2h.01M325.4 410.3h.01M331.5 416.0h.01M328.6 417.8h.01M330.3 410.6h.01M323.9 410.4h.01M326.4 417.7h.01M324.3 415.8h.01M325.3 415.9h.01M329.0 418.4h.01M331.2 409.7h.01M330.0 411.3h.01M325.1 415.1h.01M325.8 413.0h.01M330.5 411.2h.01M327.8 419.5h.01M328.0 418.9h.01M324.7 409.9h.01M325.6 411.5h.01M325.1 416.3h.01M325.1 413.0h.01M326.7 418.1h.01M325.0 413.7h.01M325.7 414.3h.01M330.7 416.5h.01M325.4 410.9h.01M327.3 418.3h.01M331.7 416.1h.01M325.2 412.3h.01M331.5 416.8h.01M330.8 409.6h.01M324.2 416.6h.01M325.2 413.3h.01M325.4 414.4h.01M330.3 411.2h.01M327.1 418.2h.01M328.0 418.3h.01M325.7 412.9h.01M324.5 412.3h.01M325.3 412.9h.01M331.0 415.7h.01M328.5 419.0h.01M329.0 418.7h.01M328.1 417.9h.01M325.4 410.7h.01M324.9 416.8h.01M324.9 412.5h.01M324.9 413.9h.01M331.0 416.2h.01M324.8 409.7h.01M330.5 416.7h.01M329.3 418.0h.01M324.6 416.8h.01M326.7 417.8h.01M324.2 414.6h.01M325.5 412.7h.01M325.0 409.6h.01M325.1 416.1h.01M324.7 413.4h.01M325.6 411.2h.01M324.7 410.7h.01M325.7 412.6h.01M330.8 415.9h.01M331.1 415.6h.01M325.2 416.5h.01M325.6 410.5h.01M323.9 412.8h.01M325.6 415.8h.01M324.9 414.8h.01M331.3 415.8h.01M329.5 417.8h.01M325.0 409.8h.01M325.8 412.3h.01M325.7 415.1h.01M324.2 415.1h.01M324.3 412.0h.01M325.9 410.7h.01M330.1 417.0h.01M331.3 410.4h.01M325.2 410.9h.01M324.3 412.9h.01M329.4 417.8h.01M328.2 419.2h.01M331.1 411.5h.01M323.9 415.3h.01M325.2 413.0h.01M325.8 414.0h.01M329.1 418.8h.01M326.9 419.5h.01M325.8 414.6h.01M323.9 413.0h.01M325.7 411.7h.01M327.8 418.1h.01M325.4 412.8h.01M330.6 416.3h.01M327.6 419.0h.01M328.8 417.9h.01M325.4 414.8h.01M327.6 419.1h.01M325.7 416.5h.01M324.0 413.6h.01M331.2 411.2h.01M325.4 410.6h.01M325.8 414.7h.01M331.8 411.4h.01M324.9 410.5h.01M329.4 418.3h.01M324.1 414.2h.01M324.4 411.8h.01M330.4 409.7h.01M324.0 417.1h.01M328.0 419.3h.01M325.0 411.5h.01M325.2 409.8h.01M327.1 418.4h.01M326.7 419.1h.01M330.2 416.0h.01M331.7 417.0h.01M324.8 410.2h.01M324.3 412.9h.01M325.7 411.6h.01M328.1 418.1h.01M325.5 412.1h.01M331.2 411.5h.01M324.5 417.5h.01M324.7 414.9h.01M325.8 412.8h.01M327.8 418.4h.01M330.3 417.4h.01M327.7 418.7h.01M324.1 410.7h.01M325.7 415.1h.01M326.5 418.5h.01M325.9 413.7h.01M329.8 418.1h.01M325.3 413.3h.01M323.9 410.4h.01M325.8 414.0h.01M329.3 418.2h.01M330.3 416.2h.01M326.5 418.0h.01M324.5 411.2h.01M326.1 418.5h.01M324.2 412.6h.01M324.0 417.2h.01M324.7 414.6h.01M324.8 414.9h.01M324.1 413.2h.01M330.6 411.0h.01M330.6 416.2h.01M324.7 416.4h.01M325.7 412.4h.01M324.2 413.5h.01M325.1 414.1h.01M329.2 419.4h.01M324.3 411.5h.01M327.5 418.5h.01M324.2 412.5h.01M325.2 411.7h.01M329.6 419.1h.01M331.6 411.1h.01M326.3 419.6h.01M324.2 416.0h.01M324.5 411.1h.01M325.4 412.3h.01M326.6 419.0h.01M327.5 419.2h.01M331.8 415.9h.01M331.2 416.4h.01M329.0 417.9h.01M327.0 417.9h.01M325.2 414.0h.01M331.6 411.2h.01M325.1 416.7h.01M324.7 416.1h.01M325.3 411.0h.01M325.6 414.8h.01M324.8 413.8h.01M330.4 411.0h.01M325.0 413.6h.01M331.0 411.4h.01M324.5 414.2h.01M331.5 416.0h.01M326.4 418.4h.01M325.7 413.0h.01M324.3 410.9h.01M327.9 418.8h.01M324.5 414.5h.01M329.7 417.6h.01M328.4 418.6h.01M325.2 415.1h.01M325.4 417.5h.01M327.2 419.1h.01M326.7 417.8h.01M324.3 416.8h.01M327.7 418.8h.01M324.1 410.0h.01M329.1 417.7h.01M326.5 418.7h.01M325.5 409.7h.01M325.3 413.6h.01M325.9 417.1h.01M328.0 419.3h.01M325.8 413.8h.01M329.0 419.4h.01M324.4 413.1h.01M327.4 419.3h.01M329.8 419.6h.01M330.7 411.3h.01M325.8 416.9h.01M325.6 410.9h.01M324.3 412.7h.01M328.2 419.6h.01M326.4 418.7h.01M329.8 418.3h.01M331.9 417.3h.01M327.2 419.0h.01M328.2 419.2h.01M325.1 416.8h.01M329.5 418.2h.01M326.6 418.0h.01M324.7 411.5h.01M325.7 413.4h.01M324.2 416.9h.01M331.6 410.7h.01M324.5 415.8h.01M329.4 419.6h.01M326.5 419.0h.01" stroke="rgb(106, 183, 82)" stroke-width="0.65" stroke-linecap="round" opacity="0.85"/><path d="M331.8 414.4h.01M331.5 414.2h.01M328.2 411.9h.01M329.8 413.0h.01M331.7 414.4h.01M331.2 412.6h.01M329.5 415.3h.01M328.5 415.9h.01M326.9 417.1h.01M327.5 416.5h.01M328.8 412.3h.01M329.1 413.9h.01M331.6 414.9h.01M327.5 411.0h.01M327.4 415.5h.01M329.2 413.0h.01M328.5 410.4h.01M326.1 412.7h.01M331.2 412.2h.01M329.8 414.8h.01M327.1 415.0h.01M328.5 410.6h.01M328.0 410.8h.01M331.8 411.8h.01M328.5 414.1h.01M329.6 413.7h.01M329.0 416.2h.01M327.3 414.9h.01M326.7 411.7h.01M328.8 414.5h.01M328.5 414.8h.01M326.8 413.9h.01M326.3 413.8h.01M327.3 409.6h.01M328.1 416.4h.01M328.3 410.7h.01M327.4 410.0h.01M325.9 417.0h.01M329.6 411.8h.01M329.0 412.8h.01M327.7 409.8h.01M327.4 413.4h.01M327.4 410.7h.01M329.3 416.5h.01M326.3 410.0h.01M328.5 414.6h.01M329.7 414.8h.01M331.6 415.3h.01M329.7 411.5h.01M327.1 414.4h.01M326.6 412.1h.01M326.5 417.1h.01M328.6 412.2h.01M327.3 411.6h.01M328.7 412.4h.01M329.6 416.2h.01M329.1 412.4h.01M327.9 415.1h.01M329.3 413.4h.01M329.2 412.5h.01M326.4 414.7h.01M329.4 413.0h.01M330.3 415.5h.01M329.2 417.1h.01M327.2 416.0h.01M331.7 413.0h.01M327.0 416.6h.01M329.0 413.8h.01M329.9 415.3h.01M326.5 412.9h.01M328.1 412.2h.01M326.3 417.0h.01M329.5 410.9h.01M330.2 415.1h.01M329.4 416.0h.01M326.9 417.3h.01M329.3 414.4h.01M327.8 410.3h.01M329.6 411.7h.01M328.2 415.3h.01M327.2 412.6h.01M329.0 410.9h.01M326.2 415.1h.01M327.3 413.2h.01M329.4 412.2h.01M330.0 413.2h.01M330.0 413.5h.01M331.6 415.2h.01M331.9 415.3h.01M327.7 411.4h.01M327.0 415.9h.01M326.3 414.3h.01M329.5 414.2h.01M327.4 414.7h.01M329.2 411.5h.01M331.5 412.9h.01M329.5 409.8h.01M327.3 410.0h.01M326.2 409.7h.01M328.9 413.8h.01M326.0 410.9h.01M329.2 412.6h.01M331.2 414.4h.01M329.0 412.6h.01M329.4 410.3h.01M326.0 415.1h.01M327.9 411.8h.01M326.9 417.0h.01M326.0 411.9h.01M326.6 415.7h.01M330.6 413.0h.01M330.5 412.8h.01M329.2 411.3h.01M329.6 416.3h.01M327.9 411.2h.01M327.2 415.8h.01M331.7 412.1h.01M327.0 415.6h.01M328.6 414.5h.01M326.6 416.4h.01M326.3 413.9h.01M331.7 412.1h.01M328.4 410.8h.01M329.0 413.9h.01M326.8 416.5h.01M330.8 413.6h.01M328.9 413.9h.01M327.1 412.6h.01M326.9 414.4h.01M329.8 412.6h.01M329.0 411.9h.01M330.3 412.9h.01M330.6 411.7h.01M329.9 414.8h.01M329.0 413.3h.01M328.6 415.0h.01M326.8 416.8h.01M327.3 413.9h.01M328.1 413.2h.01M326.5 411.0h.01M327.7 413.3h.01M328.8 413.9h.01M326.4 416.8h.01M327.0 414.9h.01M329.5 410.3h.01M329.5 416.5h.01M329.1 410.9h.01M328.9 413.4h.01M326.6 417.3h.01M326.7 415.7h.01M326.1 411.0h.01M329.0 412.3h.01M326.9 410.2h.01M330.5 413.8h.01M328.1 414.5h.01M328.6 414.7h.01M328.6 411.4h.01M328.1 417.4h.01M327.2 412.6h.01M328.1 414.0h.01M330.6 412.8h.01M326.5 415.7h.01M327.9 412.9h.01M331.1 415.3h.01M326.1 417.2h.01M330.8 414.7h.01M327.6 415.1h.01M331.4 414.4h.01M328.5 414.7h.01M328.2 414.0h.01M330.8 411.6h.01M326.2 413.2h.01M326.8 415.8h.01M326.5 413.2h.01M328.6 411.1h.01M331.3 413.5h.01M326.6 416.3h.01M326.6 415.9h.01M328.3 417.1h.01M328.3 415.7h.01M330.6 412.7h.01M327.6 414.8h.01M327.9 413.5h.01M329.9 413.2h.01M328.6 414.7h.01M328.1 410.4h.01M330.4 413.9h.01M328.5 412.3h.01M326.8 415.0h.01M328.4 417.1h.01M331.1 415.6h.01M330.6 414.0h.01M328.7 410.5h.01M329.4 412.2h.01M327.8 410.4h.01M328.5 410.8h.01M331.1 412.8h.01M328.7 410.5h.01M326.4 413.1h.01M326.6 411.7h.01M328.1 415.0h.01M329.3 410.7h.01M330.7 413.7h.01M328.1 412.1h.01M328.3 417.1h.01M328.6 414.7h.01M328.0 411.9h.01M331.5 414.1h.01M328.7 411.3h.01M326.9 414.8h.01M326.0 413.5h.01M328.5 415.6h.01M327.1 416.2h.01M329.3 415.9h.01M328.6 414.2h.01M330.7 414.9h.01M327.9 416.0h.01M327.6 412.2h.01M328.2 414.9h.01M326.1 415.8h.01M326.6 410.9h.01M326.4 410.5h.01M330.6 413.8h.01M328.6 414.1h.01M327.4 410.5h.01M328.9 417.5h.01M327.4 412.0h.01M330.5 413.4h.01M330.4 412.5h.01M328.5 416.3h.01M328.0 414.4h.01M330.1 412.2h.01M330.1 412.4h.01M331.7 413.9h.01M328.3 410.4h.01M329.3 414.9h.01M328.9 412.0h.01M327.0 414.6h.01M329.4 413.0h.01M328.2 412.3h.01M328.3 412.0h.01M328.7 412.4h.01M327.6 411.9h.01M327.5 414.8h.01M330.4 413.3h.01M328.6 411.6h.01M327.5 410.2h.01M326.2 416.2h.01M331.6 414.9h.01M326.8 411.4h.01M327.4 412.7h.01M326.5 409.7h.01M328.2 414.2h.01M326.9 412.2h.01M328.2 411.6h.01M327.1 415.2h.01M328.0 413.1h.01M327.2 416.0h.01M327.6 417.5h.01M326.5 409.8h.01M330.6 414.9h.01M326.8 414.0h.01M326.7 413.7h.01M328.8 411.5h.01M328.7 415.3h.01M326.6 416.4h.01M326.5 414.5h.01M328.5 414.4h.01M328.8 413.8h.01M329.7 411.6h.01M325.9 416.1h.01M330.6 414.9h.01M328.2 409.7h.01M326.6 416.1h.01M326.4 409.7h.01M327.7 412.8h.01M328.3 410.1h.01M327.5 414.4h.01M329.4 413.5h.01M328.3 415.0h.01M329.2 412.1h.01M328.2 414.7h.01M326.1 414.7h.01M327.2 411.7h.01M328.0 414.9h.01M330.9 414.2h.01M329.1 412.1h.01M329.8 412.1h.01M326.1 411.0h.01M328.9 415.3h.01M327.4 411.2h.01M329.9 412.0h.01M331.0 414.1h.01M327.4 415.0h.01M328.6 413.9h.01M329.6 416.6h.01M327.9 412.7h.01M330.5 414.4h.01M329.9 412.6h.01M327.9 411.9h.01M329.1 412.8h.01M328.2 413.9h.01M329.5 413.0h.01M330.0 413.9h.01M327.9 413.3h.01M329.8 416.4h.01M326.5 410.5h.01M328.8 416.0h.01M327.4 413.5h.01M326.6 412.3h.01M329.1 417.1h.01M328.5 413.3h.01M329.3 411.8h.01M329.5 416.2h.01M327.1 416.6h.01M327.8 413.4h.01M327.4 414.5h.01M327.3 417.0h.01M327.2 411.5h.01M331.3 412.1h.01M328.5 414.0h.01M327.7 416.3h.01M330.8 414.6h.01M326.9 409.7h.01M327.5 410.2h.01M326.3 413.8h.01M331.1 415.6h.01M328.9 412.4h.01M327.2 412.4h.01M329.5 411.0h.01M326.2 414.5h.01M326.6 411.5h.01M326.6 410.9h.01M329.2 417.3h.01M326.7 412.2h.01M328.7 414.2h.01M327.8 409.8h.01M329.1 416.1h.01M330.7 414.2h.01M330.0 415.4h.01M329.6 412.8h.01M329.0 411.5h.01M326.4 414.3h.01M328.2 413.3h.01M328.3 410.1h.01M331.3 414.0h.01M327.9 413.9h.01M326.9 416.7h.01M327.3 410.3h.01M326.9 412.9h.01M326.8 414.4h.01M327.0 415.8h.01M328.0 412.2h.01M330.0 412.9h.01M326.3 414.6h.01M329.1 413.0h.01M330.8 412.0h.01M329.8 409.8h.01M326.5 413.4h.01M327.7 417.3h.01M328.1 415.9h.01M326.1 411.7h.01M327.6 410.5h.01M329.6 416.5h.01M329.9 417.1h.01M330.9 413.9h.01M331.1 412.5h.01M330.9 413.4h.01M328.1 414.0h.01M329.1 413.7h.01M328.4 411.8h.01M327.2 412.5h.01M326.2 412.7h.01M327.2 412.0h.01M328.9 415.6h.01M331.7 413.4h.01M327.6 411.3h.01M326.0 410.4h.01M329.3 414.8h.01M327.4 411.6h.01M327.2 416.7h.01M329.7 411.3h.01M327.1 415.4h.01M326.1 416.5h.01M327.7 416.3h.01M328.7 414.5h.01M326.8 416.3h.01M331.4 415.1h.01M327.7 410.2h.01M327.7 415.1h.01M329.0 415.4h.01M331.4 413.1h.01M326.6 411.9h.01M328.9 414.5h.01M328.3 417.1h.01M330.1 411.8h.01M328.5 414.1h.01M326.2 413.9h.01M326.3 414.6h.01M326.1 411.4h.01M331.4 414.6h.01M327.6 417.0h.01M330.6 412.6h.01M328.9 417.5h.01M328.3 410.1h.01M326.8 412.3h.01M329.9 416.4h.01M326.8 410.3h.01M329.0 413.4h.01M328.2 410.1h.01M327.2 416.6h.01M331.4 413.7h.01M326.7 417.5h.01M326.6 411.7h.01M331.7 414.7h.01M331.1 414.5h.01M328.9 416.0h.01M326.7 415.4h.01M327.5 410.8h.01M326.2 416.5h.01M329.6 411.5h.01M331.0 415.5h.01M327.5 412.2h.01M327.1 415.2h.01M331.5 413.0h.01M328.8 413.9h.01M329.3 411.9h.01M329.9 415.3h.01M330.9 415.2h.01M329.6 409.6h.01M329.4 416.5h.01M330.3 414.1h.01M326.8 410.6h.01M326.4 411.0h.01M326.7 414.5h.01M328.8 409.8h.01M326.9 416.3h.01M327.5 412.0h.01M329.9 412.8h.01M329.8 413.2h.01M331.9 414.0h.01M328.2 416.9h.01M326.0 413.9h.01M326.0 416.7h.01M326.9 414.9h.01M326.3 411.8h.01M326.2 416.8h.01M329.0 413.6h.01M329.2 410.4h.01M329.3 413.6h.01M327.0 417.2h.01M328.6 414.6h.01M330.8 415.1h.01M327.6 416.3h.01M328.1 415.3h.01M326.3 414.4h.01M328.4 416.5h.01M328.5 417.0h.01M326.4 415.1h.01M327.5 417.4h.01M327.4 410.4h.01M330.2 412.4h.01M327.0 411.8h.01M330.4 413.5h.01M328.2 411.7h.01M327.2 414.6h.01M327.9 415.9h.01M328.6 417.3h.01M326.7 412.0h.01M327.0 414.2h.01M327.1 417.1h.01M326.1 415.2h.01M330.4 415.2h.01M328.6 416.8h.01M329.0 415.0h.01M331.0 413.7h.01M331.5 413.8h.01M328.8 411.3h.01M328.1 411.2h.01M326.5 412.3h.01M329.1 416.7h.01M329.2 411.8h.01" stroke="rgb(207, 210, 46)" stroke-width="0.65" stroke-linecap="round" opacity="0.85"/><line x1="310.60" y1="387.40" x2="310.60" y2="445.80" stroke="#808080" stroke-width="0.8"/><line x1="283.40" y1="421.30" x2="352.20" y2="421.30" stroke="#808080" stroke-width="0.8"/><rect x="283.40" y="387.40" width="68.80" height="58.40" fill="none" stroke="#111" stroke-width="1.15"/><line x1="281.00" y1="393.50" x2="283.40" y2="393.50" stroke="#111" stroke-width="1.0"/><text x="270.00" y="395.70" font-size="6.3" fill="#111">10<tspan font-size="4.0" dy="-2.6">5</tspan></text><line x1="281.00" y1="408.00" x2="283.40" y2="408.00" stroke="#111" stroke-width="1.0"/><text x="270.00" y="410.20" font-size="6.3" fill="#111">10<tspan font-size="4.0" dy="-2.6">4</tspan></text><line x1="281.00" y1="422.40" x2="283.40" y2="422.40" stroke="#111" stroke-width="1.0"/><text x="270.00" y="424.60" font-size="6.3" fill="#111">10<tspan font-size="4.0" dy="-2.6">3</tspan></text><line x1="281.00" y1="439.10" x2="283.40" y2="439.10" stroke="#111" stroke-width="1.0"/><text x="278.40" y="441.30" font-size="6.3" text-anchor="middle" fill="#111">0</text><text x="326.10" y="394.40" font-size="6.7" text-anchor="start" fill="#111">47.49%</text><text x="311.30" y="443.60" font-size="6.4" text-anchor="start" fill="#111">29.8%</text><line x1="290.80" y1="445.80" x2="290.80" y2="448.40" stroke="#111" stroke-width="0.9"/><text x="290.80" y="453.60" font-size="6.3" text-anchor="middle" fill="#111">0</text><line x1="309.20" y1="445.80" x2="309.20" y2="448.40" stroke="#111" stroke-width="0.9"/><text x="304.65" y="453.60" font-size="6.3" fill="#111">10<tspan font-size="3.78" dy="-2.52">3</tspan></text><line x1="327.00" y1="445.80" x2="327.00" y2="448.40" stroke="#111" stroke-width="0.9"/><text x="322.45" y="453.60" font-size="6.3" fill="#111">10<tspan font-size="3.78" dy="-2.52">4</tspan></text><line x1="344.60" y1="445.80" x2="344.60" y2="448.40" stroke="#111" stroke-width="0.9"/><text x="340.05" y="453.60" font-size="6.3" fill="#111">10<tspan font-size="3.78" dy="-2.52">5</tspan></text><line x1="296.32" y1="445.80" x2="296.32" y2="447.20" stroke="#111" stroke-width="0.6"/><line x1="299.63" y1="445.80" x2="299.63" y2="447.20" stroke="#111" stroke-width="0.6"/><line x1="301.84" y1="445.80" x2="301.84" y2="447.20" stroke="#111" stroke-width="0.6"/><line x1="303.68" y1="445.80" x2="303.68" y2="447.20" stroke="#111" stroke-width="0.6"/><line x1="305.15" y1="445.80" x2="305.15" y2="447.20" stroke="#111" stroke-width="0.6"/><line x1="306.44" y1="445.80" x2="306.44" y2="447.20" stroke="#111" stroke-width="0.6"/><line x1="307.36" y1="445.80" x2="307.36" y2="447.20" stroke="#111" stroke-width="0.6"/><line x1="308.28" y1="445.80" x2="308.28" y2="447.20" stroke="#111" stroke-width="0.6"/><line x1="314.54" y1="445.80" x2="314.54" y2="447.20" stroke="#111" stroke-width="0.6"/><line x1="317.74" y1="445.80" x2="317.74" y2="447.20" stroke="#111" stroke-width="0.6"/><line x1="319.88" y1="445.80" x2="319.88" y2="447.20" stroke="#111" stroke-width="0.6"/><line x1="321.66" y1="445.80" x2="321.66" y2="447.20" stroke="#111" stroke-width="0.6"/><line x1="323.08" y1="445.80" x2="323.08" y2="447.20" stroke="#111" stroke-width="0.6"/><line x1="324.33" y1="445.80" x2="324.33" y2="447.20" stroke="#111" stroke-width="0.6"/><line x1="325.22" y1="445.80" x2="325.22" y2="447.20" stroke="#111" stroke-width="0.6"/><line x1="326.11" y1="445.80" x2="326.11" y2="447.20" stroke="#111" stroke-width="0.6"/><line x1="332.28" y1="445.80" x2="332.28" y2="447.20" stroke="#111" stroke-width="0.6"/><line x1="335.45" y1="445.80" x2="335.45" y2="447.20" stroke="#111" stroke-width="0.6"/><line x1="337.56" y1="445.80" x2="337.56" y2="447.20" stroke="#111" stroke-width="0.6"/><line x1="339.32" y1="445.80" x2="339.32" y2="447.20" stroke="#111" stroke-width="0.6"/><line x1="340.73" y1="445.80" x2="340.73" y2="447.20" stroke="#111" stroke-width="0.6"/><line x1="341.96" y1="445.80" x2="341.96" y2="447.20" stroke="#111" stroke-width="0.6"/><line x1="342.84" y1="445.80" x2="342.84" y2="447.20" stroke="#111" stroke-width="0.6"/><line x1="343.72" y1="445.80" x2="343.72" y2="447.20" stroke="#111" stroke-width="0.6"/><clipPath id="cF2"><rect x="283.4" y="458.5" width="67.80000000000001" height="58.60000000000002"/></clipPath><g clip-path="url(#cF2)"><ellipse cx="297" cy="498" rx="6.5" ry="17" fill="#8aa0d4" opacity="0.6" filter="url(#fbl3)"/><ellipse cx="333" cy="498" rx="9.5" ry="17" fill="#8aa0d4" opacity="0.6" filter="url(#fbl3)"/><ellipse cx="334.8" cy="495" rx="3.8" ry="7" fill="#50a0a8" opacity="0.7" filter="url(#fbl2)"/><ellipse cx="293.1" cy="506" rx="3.6" ry="15" fill="#60b070" opacity="0.9" filter="url(#fbl1)"/><ellipse cx="292.9" cy="506" rx="2.2" ry="14" fill="#c8c830" opacity="0.95" filter="url(#fbl1)"/></g><path d="M303.4 497.9h.01M306.5 493.3h.01M305.5 500.3h.01M302.3 487.5h.01M299.2 469.2h.01M300.6 514.9h.01M302.0 491.1h.01M303.6 514.1h.01M293.2 475.0h.01M302.2 510.3h.01M302.4 496.6h.01M302.3 494.9h.01M305.4 503.8h.01M304.0 511.2h.01M290.0 478.6h.01M304.0 488.2h.01M293.4 473.1h.01M303.0 500.7h.01M302.0 510.5h.01M296.5 476.5h.01M295.6 478.2h.01M301.1 512.5h.01M296.2 472.7h.01M302.4 505.8h.01M304.0 497.2h.01M293.6 479.3h.01M291.5 485.7h.01M304.9 494.6h.01M308.3 489.5h.01M287.9 490.5h.01M303.6 494.3h.01M299.0 472.9h.01M291.3 479.4h.01M290.6 474.3h.01M302.1 500.4h.01M301.9 504.4h.01M289.6 485.1h.01M289.3 486.3h.01M303.5 479.2h.01M302.8 504.0h.01M293.3 480.5h.01M303.7 500.1h.01M303.4 480.8h.01M291.0 479.7h.01M303.3 512.4h.01M302.1 495.5h.01M301.9 511.6h.01M303.8 509.7h.01M306.1 497.2h.01M297.3 476.0h.01M307.5 499.7h.01M288.8 485.7h.01M287.2 500.2h.01M304.3 482.7h.01M302.2 489.9h.01M301.3 513.8h.01M301.9 514.3h.01M304.1 481.1h.01M291.4 483.1h.01M297.8 515.9h.01M302.1 470.1h.01M302.2 495.5h.01M304.2 486.4h.01M291.5 480.3h.01M291.4 486.4h.01M300.8 476.8h.01M307.4 492.3h.01M303.5 497.4h.01M293.7 468.2h.01M303.2 494.3h.01M298.7 473.2h.01M302.6 504.7h.01M295.0 466.9h.01M289.7 485.7h.01M291.7 477.3h.01M293.6 477.5h.01M303.8 491.0h.01M297.4 465.5h.01M298.3 472.0h.01M301.9 470.7h.01M302.6 484.8h.01M305.5 490.5h.01M297.3 470.7h.01M305.1 482.7h.01M302.7 479.4h.01M292.5 477.5h.01M299.8 474.9h.01M291.3 481.1h.01M302.6 478.3h.01M300.5 461.4h.01M306.6 490.6h.01M296.6 470.3h.01M296.4 472.9h.01M298.0 467.8h.01M293.1 473.3h.01M294.8 478.4h.01M291.9 472.6h.01M294.7 475.4h.01M288.7 482.0h.01M295.7 467.2h.01M304.2 487.5h.01M287.8 471.0h.01M310.1 476.6h.01M293.5 474.8h.01M302.3 473.3h.01M297.9 471.1h.01M297.8 475.2h.01M304.3 473.6h.01M296.0 476.1h.01M298.0 471.0h.01M297.5 473.3h.01M293.8 478.2h.01M302.1 482.9h.01M300.7 470.9h.01M302.0 481.5h.01M288.3 491.6h.01M294.3 467.7h.01M305.1 470.9h.01M294.1 477.7h.01M292.7 478.5h.01M302.2 477.5h.01M284.8 484.3h.01M289.5 486.5h.01M293.9 471.4h.01M300.5 476.4h.01M297.2 467.2h.01M291.6 471.6h.01M293.2 476.5h.01M293.3 462.4h.01M292.2 473.3h.01M306.6 484.1h.01M301.8 474.2h.01M304.7 497.2h.01M293.4 475.9h.01M285.0 469.8h.01M301.3 478.6h.01M297.6 468.7h.01M306.3 465.1h.01M291.2 470.6h.01M294.5 462.6h.01M304.4 471.3h.01M304.1 470.2h.01M300.0 476.9h.01M299.9 471.4h.01M293.9 474.1h.01M292.4 462.0h.01M298.6 463.1h.01M295.4 475.7h.01M309.7 476.4h.01M302.4 480.4h.01M285.1 481.8h.01M302.2 485.4h.01M305.6 472.2h.01M297.0 460.0h.01M303.8 473.0h.01M307.9 489.1h.01M306.3 491.0h.01M307.6 485.4h.01M294.1 471.8h.01M288.8 471.6h.01M298.3 475.4h.01M302.5 488.0h.01M299.8 476.4h.01M298.8 471.3h.01M303.3 473.5h.01M301.0 478.3h.01M289.0 478.8h.01M305.9 479.4h.01M298.8 467.5h.01M299.8 471.2h.01M346.0 499.4h.01M326.2 508.4h.01M341.1 487.6h.01M330.9 477.8h.01M326.5 486.0h.01M324.8 507.8h.01M338.7 479.9h.01M319.8 510.2h.01M330.5 472.5h.01M343.1 498.4h.01M317.3 499.1h.01M322.9 490.0h.01M330.5 511.3h.01M344.0 483.5h.01M325.0 479.5h.01M324.1 501.5h.01M332.0 511.8h.01M332.2 472.3h.01M326.3 472.7h.01M341.4 508.7h.01M324.2 490.6h.01M340.3 481.1h.01M333.5 471.5h.01M335.6 514.4h.01M336.3 511.2h.01M329.7 479.8h.01M329.1 476.8h.01M320.8 484.1h.01M331.7 465.9h.01M338.8 511.9h.01M344.2 512.8h.01M332.3 513.4h.01M347.1 484.5h.01M334.8 513.5h.01M339.0 516.2h.01M319.5 491.8h.01M348.9 485.3h.01M346.6 505.0h.01M337.2 480.4h.01M334.9 480.7h.01M335.3 515.1h.01M325.6 506.7h.01M337.5 512.2h.01M331.5 509.1h.01M335.2 474.2h.01M325.1 504.2h.01M349.7 508.7h.01M332.0 510.2h.01M344.9 515.8h.01M339.8 482.2h.01M343.6 508.1h.01M321.9 483.1h.01M334.0 513.8h.01M323.4 492.7h.01M344.5 485.7h.01M344.0 493.5h.01M331.6 514.9h.01M329.9 509.3h.01M344.4 497.9h.01M331.2 513.4h.01M327.7 471.2h.01M327.5 512.5h.01M326.6 475.7h.01M345.3 493.7h.01M332.3 477.7h.01M330.4 516.2h.01M320.5 493.7h.01M323.7 476.0h.01M330.3 510.1h.01M320.9 501.5h.01M331.4 513.8h.01M325.1 506.7h.01M334.3 469.8h.01M343.3 503.2h.01M341.6 508.4h.01M328.5 507.3h.01M339.8 484.5h.01M322.9 492.1h.01M326.3 484.5h.01M336.0 476.1h.01M325.9 486.3h.01M337.8 477.1h.01M326.1 515.6h.01M322.6 489.4h.01M322.5 488.3h.01M327.8 510.9h.01M325.4 513.8h.01M343.2 482.7h.01M344.0 497.2h.01M323.7 488.7h.01M339.3 515.0h.01M343.7 510.9h.01M336.1 513.8h.01M340.2 470.5h.01M326.9 511.6h.01M335.1 511.5h.01M341.5 489.7h.01M343.9 487.0h.01M324.6 506.2h.01M324.6 484.5h.01M330.6 474.7h.01M344.0 471.0h.01M335.1 511.1h.01M325.5 506.7h.01M341.5 511.2h.01M328.5 477.3h.01M341.7 479.0h.01M331.4 512.7h.01M329.3 474.3h.01M338.5 512.4h.01M342.2 488.3h.01M335.7 470.4h.01M330.3 478.9h.01M340.1 481.8h.01M341.9 486.7h.01M346.1 506.6h.01M341.5 490.6h.01M347.7 486.2h.01M342.7 487.6h.01M336.2 513.7h.01M331.3 480.5h.01M343.0 513.8h.01M330.7 479.8h.01M328.0 514.7h.01M325.8 511.5h.01M325.7 461.8h.01M341.1 485.0h.01M343.9 477.1h.01M335.3 478.5h.01M329.7 513.5h.01M345.4 490.3h.01M328.8 478.1h.01M325.4 480.1h.01M322.8 490.4h.01M337.5 515.2h.01M343.4 505.8h.01M325.8 484.8h.01M337.3 480.4h.01M337.9 478.2h.01M335.9 481.3h.01M335.4 479.0h.01M327.7 470.7h.01M342.6 513.3h.01M342.4 505.3h.01M346.1 506.3h.01M339.7 484.5h.01M337.4 513.4h.01M331.8 512.6h.01M331.0 516.0h.01M332.6 515.5h.01M318.2 503.7h.01M331.9 473.9h.01M321.4 502.3h.01M338.1 482.5h.01M326.5 507.9h.01M327.7 510.8h.01M336.9 514.2h.01M343.7 516.3h.01M321.9 496.9h.01M322.3 506.6h.01M321.9 487.3h.01M341.8 516.1h.01M320.2 485.8h.01M345.6 499.6h.01M343.2 498.6h.01M329.9 479.8h.01M327.9 512.2h.01M348.3 486.5h.01M318.8 506.7h.01M338.0 478.7h.01M325.0 507.8h.01M338.6 481.3h.01M318.1 515.1h.01M343.4 502.9h.01M319.1 495.4h.01M325.9 507.4h.01M329.2 475.8h.01M330.8 509.1h.01M337.5 481.7h.01M345.2 504.5h.01M330.8 512.0h.01M325.9 485.6h.01M323.2 488.7h.01M339.5 509.3h.01M344.2 493.8h.01M335.8 514.1h.01M328.4 483.4h.01M342.5 515.7h.01M330.3 481.8h.01M332.0 480.1h.01M337.9 472.5h.01M329.8 479.9h.01M337.8 482.2h.01M325.2 504.8h.01M344.5 514.3h.01M330.2 481.3h.01M342.1 487.7h.01M325.8 474.3h.01M312.9 483.7h.01M316.1 473.8h.01M316.5 485.9h.01M320.9 491.9h.01M307.1 489.1h.01M316.9 494.2h.01M322.2 484.3h.01M316.8 483.0h.01M324.4 481.2h.01M325.3 470.6h.01M308.6 487.7h.01M317.4 479.9h.01M314.3 490.3h.01M320.0 483.2h.01M320.2 486.4h.01M315.1 493.4h.01M318.7 486.5h.01M322.8 487.5h.01M319.6 483.7h.01M332.3 479.8h.01M310.3 479.1h.01M317.2 498.7h.01M312.4 484.2h.01M313.2 482.6h.01M315.3 482.6h.01M339.8 481.7h.01M320.4 487.8h.01M321.3 477.9h.01M314.6 484.0h.01M323.9 483.6h.01M310.3 483.0h.01M304.0 493.1h.01M319.0 478.5h.01M311.2 486.6h.01M311.0 491.2h.01M326.4 473.6h.01M319.3 491.0h.01M315.7 489.1h.01M312.2 489.3h.01M305.9 481.7h.01M323.6 504.0h.01M314.2 486.8h.01M325.9 486.3h.01M307.6 485.9h.01M322.3 486.5h.01M315.9 484.3h.01M315.0 484.6h.01M317.8 487.1h.01M325.8 466.5h.01M315.2 477.5h.01M305.1 477.6h.01M320.0 471.9h.01M305.1 487.9h.01M323.4 483.6h.01M320.9 488.7h.01M325.1 478.2h.01M307.0 500.8h.01M316.3 493.2h.01M310.5 480.9h.01M309.4 495.3h.01M300.9 473.9h.01M309.7 492.2h.01M306.5 476.0h.01M310.4 486.1h.01M306.3 476.8h.01M306.2 476.9h.01M313.0 485.2h.01M303.5 468.6h.01M316.1 481.1h.01M309.3 468.3h.01M313.0 489.7h.01M308.7 493.5h.01M320.4 476.7h.01M322.3 489.2h.01M315.5 486.3h.01M308.0 488.2h.01M310.0 474.6h.01M315.8 486.6h.01M308.1 479.6h.01M314.6 486.3h.01M323.0 489.5h.01M303.7 492.2h.01M321.7 481.3h.01M316.9 489.2h.01M324.4 491.3h.01M321.2 480.5h.01M322.3 479.8h.01M321.6 493.4h.01M314.4 488.8h.01M319.2 486.7h.01M317.2 484.0h.01M307.7 497.1h.01M325.7 475.7h.01M317.6 478.8h.01M323.3 479.5h.01M313.4 482.4h.01M319.5 478.4h.01M319.6 488.4h.01M318.6 484.7h.01M308.0 481.0h.01M323.6 492.6h.01M303.1 489.5h.01" stroke="rgb(147, 166, 220)" stroke-width="0.65" stroke-linecap="round" opacity="0.5"/><path d="M296.4 515.2h.01M292.0 490.6h.01M291.1 491.1h.01M291.1 494.4h.01M289.5 512.9h.01M294.5 489.1h.01M289.3 514.1h.01M295.4 484.7h.01M293.5 487.0h.01M291.9 490.3h.01M293.3 489.5h.01M295.2 489.8h.01M291.3 494.7h.01M293.5 488.0h.01M296.0 515.3h.01M293.3 489.8h.01M290.6 492.5h.01M288.8 512.7h.01M294.5 486.4h.01M298.6 510.8h.01M291.7 489.0h.01M296.3 490.8h.01M293.8 488.4h.01M292.2 484.8h.01M288.5 514.3h.01M296.6 491.9h.01M288.9 514.2h.01M289.2 513.5h.01M291.6 491.2h.01M289.5 496.4h.01M296.5 490.2h.01M291.4 493.7h.01M291.4 494.3h.01M291.5 488.9h.01M289.9 491.1h.01M292.0 488.4h.01M293.3 489.3h.01M294.0 490.3h.01M289.2 514.1h.01M291.8 487.9h.01M290.8 494.4h.01M291.2 492.1h.01M293.2 488.6h.01M297.7 487.6h.01M301.6 491.6h.01M291.8 482.7h.01M300.2 489.4h.01M297.9 483.0h.01M300.6 491.3h.01M299.1 487.4h.01M294.5 490.8h.01M299.3 510.4h.01M292.2 483.3h.01M299.7 490.4h.01M300.8 506.6h.01M301.8 499.8h.01M303.7 501.7h.01M302.6 502.7h.01M296.1 482.0h.01M298.9 495.0h.01M301.7 495.9h.01M294.7 488.7h.01M298.2 499.9h.01M301.5 485.7h.01M296.6 486.8h.01M298.2 498.6h.01M294.9 480.9h.01M296.3 482.7h.01M296.2 488.0h.01M297.9 493.8h.01M297.8 490.6h.01M297.9 483.5h.01M297.7 491.7h.01M299.9 505.0h.01M299.1 513.2h.01M300.4 507.4h.01M298.6 507.4h.01M297.8 491.3h.01M302.6 501.3h.01M298.9 497.8h.01M295.5 483.7h.01M293.1 486.0h.01M299.2 497.7h.01M293.5 490.1h.01M299.1 491.0h.01M301.4 491.4h.01M301.4 486.7h.01M300.7 507.3h.01M290.0 491.7h.01M295.6 480.6h.01M298.6 484.6h.01M292.3 488.0h.01M299.9 479.3h.01M296.0 487.2h.01M297.4 490.6h.01M299.3 512.9h.01M296.3 489.8h.01M298.5 477.0h.01M296.5 491.3h.01M300.5 495.1h.01M299.8 496.6h.01M296.4 487.4h.01M296.2 490.3h.01M289.8 490.8h.01M297.3 492.5h.01M299.8 493.4h.01M299.7 499.2h.01M293.2 485.6h.01M299.5 484.9h.01M300.7 501.1h.01M295.4 484.6h.01M298.6 511.6h.01M293.3 487.1h.01M295.8 492.8h.01M301.0 502.5h.01M300.8 490.6h.01M299.4 513.0h.01M298.3 509.5h.01M298.2 510.8h.01M297.7 486.6h.01M301.6 488.7h.01M292.1 490.6h.01M301.1 510.6h.01M298.7 494.5h.01M300.6 495.6h.01M295.5 479.6h.01M294.2 484.0h.01M296.2 491.7h.01M296.2 481.8h.01M300.5 504.1h.01M300.9 483.5h.01M299.8 509.8h.01M299.2 482.1h.01M301.7 496.9h.01M294.0 489.0h.01M298.4 487.4h.01M296.1 489.7h.01M296.5 492.2h.01M299.4 492.6h.01M299.1 496.2h.01M300.3 509.4h.01M289.7 493.0h.01M301.7 482.8h.01M297.7 492.3h.01M298.2 513.6h.01M290.2 487.9h.01M298.6 486.8h.01M289.8 492.2h.01M302.0 501.5h.01M300.6 493.9h.01M298.1 484.4h.01M298.5 509.9h.01M298.0 496.9h.01M291.0 491.0h.01M299.9 504.2h.01M303.3 502.1h.01M299.4 492.8h.01M299.8 497.9h.01M298.3 481.4h.01M301.3 507.6h.01M295.4 487.4h.01M297.0 479.9h.01M298.6 485.7h.01M298.1 488.1h.01M294.6 490.8h.01M298.9 511.5h.01M300.6 496.8h.01M296.3 485.4h.01M296.4 482.2h.01M301.0 510.5h.01M299.1 477.7h.01M299.6 489.6h.01M301.1 503.6h.01M298.7 512.3h.01M300.7 497.4h.01M299.5 491.3h.01M298.2 512.6h.01M301.1 506.1h.01M300.0 502.7h.01M294.9 489.2h.01M297.8 488.3h.01M298.4 487.2h.01M301.2 497.5h.01M298.7 500.6h.01M290.8 488.2h.01M300.6 494.5h.01M294.0 481.0h.01M299.0 485.2h.01M301.6 503.4h.01M287.5 499.6h.01M295.8 490.9h.01M296.7 491.6h.01M301.6 497.3h.01M298.2 512.9h.01M301.5 498.2h.01M303.0 501.8h.01M298.2 478.6h.01M296.4 479.2h.01M301.8 501.9h.01M300.2 500.2h.01M297.9 509.7h.01M295.1 488.4h.01M301.0 501.5h.01M298.4 496.2h.01M299.4 485.7h.01M298.4 507.3h.01M300.4 495.1h.01M300.2 492.7h.01M300.3 506.6h.01M299.3 478.7h.01M298.7 499.4h.01M291.9 486.0h.01M300.2 492.2h.01M298.5 488.4h.01M294.7 483.6h.01M298.1 491.2h.01M301.7 505.6h.01M300.2 481.6h.01M301.3 488.5h.01M301.3 499.6h.01M299.8 488.1h.01M294.8 486.3h.01M297.9 507.8h.01M298.1 487.8h.01M297.9 499.9h.01M299.5 484.2h.01M300.1 507.7h.01M296.9 492.4h.01M298.5 488.6h.01M303.0 502.1h.01M299.6 511.7h.01M300.0 495.6h.01M298.4 495.2h.01M291.3 494.0h.01M298.4 509.3h.01M301.0 504.6h.01M298.0 494.9h.01M290.8 492.9h.01M298.5 496.5h.01M292.4 487.4h.01M301.6 499.4h.01M297.6 491.5h.01M301.5 493.7h.01M301.5 500.9h.01M294.0 487.4h.01M298.4 487.3h.01M298.7 482.1h.01M299.2 498.3h.01M301.4 507.8h.01M300.2 506.6h.01M300.4 505.3h.01M295.8 485.2h.01M292.6 487.6h.01M298.9 511.1h.01M297.3 487.1h.01M301.5 482.3h.01M294.1 485.2h.01M301.5 487.2h.01M301.9 493.4h.01M295.0 483.8h.01M300.8 478.9h.01M295.0 482.2h.01M298.6 481.3h.01M295.9 484.7h.01M293.8 484.9h.01M291.5 490.4h.01M297.0 479.0h.01M296.4 479.6h.01M300.4 493.8h.01M291.7 482.2h.01M295.8 486.3h.01M298.5 484.5h.01M297.9 483.9h.01M298.2 482.2h.01M297.8 480.2h.01M299.8 492.5h.01M301.7 492.3h.01M298.5 498.2h.01M299.0 484.6h.01M300.5 486.3h.01M299.0 487.3h.01M296.9 484.8h.01M297.8 476.7h.01M299.1 483.9h.01M295.7 480.1h.01M296.0 486.0h.01M294.9 480.2h.01M301.3 480.6h.01M294.2 490.1h.01M298.4 477.6h.01M299.4 482.9h.01M296.9 488.7h.01M299.5 488.9h.01M293.9 482.1h.01M297.1 489.8h.01M298.6 478.4h.01M299.2 494.0h.01M300.5 481.2h.01M293.5 482.4h.01M298.3 487.6h.01M299.3 481.3h.01M296.5 483.8h.01M294.0 482.8h.01M291.9 481.3h.01M293.6 482.3h.01M296.4 491.4h.01M299.2 500.4h.01M298.3 486.3h.01M298.9 477.2h.01M299.0 487.4h.01M297.7 480.7h.01M297.1 491.0h.01M293.9 483.6h.01M297.8 488.5h.01M297.5 478.6h.01M294.7 481.0h.01M296.1 479.9h.01M297.9 477.8h.01M293.9 489.9h.01M297.6 483.9h.01M295.4 486.8h.01M299.6 494.7h.01M297.0 485.3h.01M297.9 481.7h.01M291.9 482.5h.01M293.0 488.9h.01M299.9 479.7h.01M295.7 486.5h.01M298.0 485.0h.01M298.1 481.2h.01M293.0 482.8h.01M295.6 480.4h.01M299.7 497.2h.01M296.8 480.2h.01M301.2 493.8h.01M299.0 492.0h.01M294.1 481.5h.01M299.9 484.5h.01M340.5 500.9h.01M340.9 495.5h.01M340.2 488.4h.01M326.3 500.6h.01M331.4 482.4h.01M339.3 502.4h.01M326.4 495.8h.01M340.5 509.0h.01M323.3 500.9h.01M335.6 508.5h.01M329.0 505.8h.01M327.9 495.4h.01M324.5 501.8h.01M341.1 502.9h.01M340.6 500.9h.01M335.6 506.1h.01M337.6 485.5h.01M326.6 489.4h.01M339.6 498.2h.01M335.4 483.6h.01M328.6 499.4h.01M336.8 483.1h.01M337.3 486.6h.01M327.5 502.0h.01M325.5 499.7h.01M338.3 485.4h.01M328.3 501.0h.01M325.2 493.7h.01M323.9 496.6h.01M327.2 489.4h.01M335.2 507.4h.01M332.7 484.7h.01M340.2 493.4h.01M339.6 504.2h.01M341.8 504.9h.01M328.9 503.3h.01M325.9 500.6h.01M325.6 495.9h.01M331.1 482.4h.01M327.4 502.6h.01M332.6 486.1h.01M340.2 507.6h.01M330.1 506.5h.01M332.8 483.2h.01M333.4 507.9h.01M329.0 484.9h.01M324.2 499.4h.01M342.6 493.4h.01M324.8 494.2h.01M325.2 488.1h.01M340.3 492.6h.01M342.8 503.1h.01M326.5 492.1h.01M335.2 505.2h.01M327.5 503.8h.01M328.1 494.5h.01M337.7 483.3h.01M341.1 499.9h.01M330.8 485.7h.01M326.1 501.0h.01M332.7 509.3h.01M337.4 509.4h.01M327.5 487.3h.01M339.7 501.7h.01M336.0 507.1h.01M328.0 492.2h.01M342.3 491.9h.01M324.4 495.2h.01M331.7 507.3h.01M340.3 486.8h.01M329.2 484.3h.01M329.2 506.0h.01M327.1 501.5h.01M330.2 506.5h.01M337.0 503.8h.01M328.3 495.4h.01M328.6 489.0h.01M325.9 501.1h.01M332.7 506.7h.01M326.7 497.1h.01M338.4 504.5h.01M330.1 484.6h.01M340.5 487.1h.01M337.1 504.5h.01M337.4 488.3h.01M339.6 497.6h.01M339.4 507.1h.01M328.5 497.2h.01M341.9 502.7h.01M341.7 503.8h.01M328.6 490.4h.01M323.7 497.1h.01M338.8 509.0h.01M328.4 495.2h.01M342.8 500.3h.01M330.0 484.0h.01M340.2 491.8h.01M326.4 496.4h.01M335.7 485.9h.01M326.3 496.8h.01M334.0 508.0h.01M328.3 493.9h.01M333.2 484.6h.01M339.9 488.2h.01M333.6 483.8h.01M340.5 502.5h.01M325.4 497.6h.01M325.9 500.7h.01M327.2 498.3h.01M335.5 511.0h.01M341.5 499.6h.01M327.2 490.0h.01M336.7 506.1h.01M339.8 505.4h.01M325.6 497.9h.01M334.5 505.2h.01M327.5 496.1h.01M327.4 501.2h.01M328.7 486.0h.01M328.4 492.9h.01M338.2 505.2h.01M333.1 508.0h.01M340.3 505.8h.01M324.7 489.0h.01M331.8 505.2h.01M328.2 500.6h.01M332.0 486.2h.01M329.7 503.7h.01M334.4 485.3h.01M328.1 488.9h.01M333.9 507.6h.01M332.7 484.7h.01M339.3 489.7h.01M326.1 501.4h.01M329.3 508.3h.01M339.3 489.1h.01M333.2 506.4h.01M336.8 505.7h.01M339.2 504.4h.01M323.7 497.5h.01M328.1 490.7h.01M333.5 510.4h.01M324.1 495.1h.01M335.7 484.8h.01M338.1 504.8h.01M339.8 495.3h.01M335.8 506.1h.01M337.4 504.4h.01M326.7 490.8h.01M329.6 483.0h.01M339.1 502.9h.01M341.9 498.5h.01M338.8 503.6h.01M342.0 502.3h.01M328.6 505.7h.01M330.0 487.9h.01M335.7 505.7h.01M329.8 505.5h.01M326.5 492.9h.01M335.1 483.4h.01M328.3 494.9h.01M338.1 504.0h.01M328.1 498.7h.01M339.0 496.3h.01M339.8 498.7h.01M326.8 496.8h.01M337.7 504.9h.01M334.1 482.2h.01M337.2 507.2h.01M332.1 507.9h.01M325.5 489.1h.01M336.4 507.4h.01M342.5 499.0h.01M326.9 490.3h.01M332.5 480.8h.01M327.8 485.8h.01M324.9 497.5h.01M331.7 483.7h.01M340.0 507.6h.01M331.3 482.7h.01M335.9 505.2h.01M334.7 507.9h.01M325.5 501.3h.01M333.8 483.9h.01M325.1 501.6h.01M340.1 506.8h.01M338.5 507.3h.01M337.2 486.6h.01M337.9 506.6h.01M336.8 504.2h.01M325.1 501.7h.01M340.0 507.4h.01M327.2 500.3h.01M328.0 499.1h.01M330.9 506.5h.01M341.0 493.2h.01M323.3 500.3h.01M339.1 499.2h.01M331.8 486.4h.01M330.5 505.6h.01M326.3 495.2h.01M327.8 489.6h.01M331.6 505.4h.01M338.0 484.9h.01M325.6 496.8h.01M339.9 493.3h.01M327.6 498.8h.01M327.2 489.5h.01M335.1 510.5h.01M331.0 506.5h.01M337.7 509.5h.01M328.5 501.2h.01M341.0 493.7h.01M332.5 486.0h.01M335.9 505.7h.01M323.3 499.7h.01M338.9 503.1h.01M325.7 500.4h.01M327.0 485.8h.01M335.2 484.9h.01M324.5 495.5h.01M341.5 496.8h.01M342.8 495.9h.01M336.8 487.2h.01M329.7 503.0h.01M335.3 506.2h.01M342.4 498.2h.01M325.9 497.2h.01M332.7 506.5h.01M336.4 506.6h.01M338.7 504.0h.01M326.7 506.6h.01M339.8 496.2h.01M331.4 484.3h.01M326.6 500.1h.01M338.2 505.1h.01M333.8 505.6h.01M336.3 483.7h.01M337.7 487.0h.01M335.5 509.0h.01M335.2 508.2h.01M337.1 485.8h.01M328.6 491.9h.01M329.9 505.4h.01M341.3 504.1h.01M331.6 482.2h.01M330.0 488.7h.01M326.9 499.1h.01M336.3 484.8h.01M327.6 491.7h.01M327.6 506.7h.01M339.5 506.2h.01M339.2 496.2h.01M339.7 500.5h.01M335.0 485.0h.01M340.5 487.0h.01M331.2 485.9h.01M328.8 486.7h.01M329.8 503.1h.01M340.5 490.1h.01M332.8 509.7h.01M328.2 491.3h.01M338.5 507.0h.01M338.1 503.1h.01M332.8 507.5h.01M325.4 498.0h.01M339.2 494.4h.01M327.7 492.9h.01M338.5 505.8h.01M337.8 505.4h.01M337.1 506.9h.01M326.2 489.7h.01M342.7 504.1h.01M328.1 501.6h.01M324.1 496.8h.01M338.4 508.2h.01M338.5 507.5h.01M334.0 486.7h.01M334.9 508.1h.01M324.6 494.4h.01M335.1 486.8h.01M337.4 508.2h.01M328.7 506.9h.01M325.0 501.7h.01M335.5 506.5h.01M333.7 481.6h.01M324.4 493.3h.01M326.5 500.0h.01M325.5 499.0h.01M324.7 494.4h.01M336.0 510.2h.01M336.3 483.0h.01M342.6 491.9h.01M340.0 492.7h.01M331.5 481.3h.01M331.8 485.7h.01M330.0 488.6h.01M337.2 488.6h.01M322.6 499.7h.01M337.7 507.0h.01M338.4 510.5h.01M336.9 508.2h.01M334.8 485.9h.01M340.0 501.2h.01M326.5 495.8h.01M326.4 492.3h.01M325.2 502.9h.01M328.8 508.1h.01M337.2 503.9h.01M328.1 494.0h.01M326.4 487.9h.01M334.4 484.3h.01M328.5 494.1h.01M325.6 493.7h.01M329.0 483.4h.01M322.9 496.7h.01M331.6 508.8h.01M328.4 497.5h.01M327.7 493.5h.01M329.5 485.1h.01M336.1 510.2h.01M339.0 498.7h.01M340.0 494.4h.01M340.5 501.8h.01M336.2 486.1h.01M324.1 495.3h.01M339.3 496.0h.01M342.6 502.7h.01M325.1 493.4h.01M328.2 501.6h.01M327.2 501.2h.01M339.4 508.8h.01M339.7 497.0h.01M340.2 495.4h.01M339.1 493.1h.01M329.9 483.2h.01M333.4 483.1h.01M329.1 508.0h.01M330.6 485.5h.01M329.4 505.9h.01M330.8 507.8h.01M326.5 500.3h.01M341.8 503.2h.01M333.1 486.3h.01M329.2 488.3h.01M332.1 483.5h.01M339.9 491.7h.01M340.3 491.6h.01M340.8 498.5h.01M334.7 485.4h.01M330.9 485.1h.01M336.9 503.2h.01M337.0 487.6h.01M341.2 491.8h.01M334.4 485.1h.01M334.1 485.9h.01M337.1 486.7h.01M336.8 487.9h.01M339.1 493.6h.01M339.7 489.1h.01M340.1 500.3h.01M333.2 485.2h.01M327.3 490.3h.01M335.9 482.9h.01M341.2 499.0h.01M334.9 486.4h.01M340.4 493.2h.01M339.3 486.8h.01M340.3 488.1h.01M328.7 488.0h.01M338.7 486.0h.01M340.2 496.6h.01M339.9 502.3h.01M339.1 494.0h.01M338.5 488.5h.01M331.8 485.1h.01M336.7 486.3h.01M339.5 499.6h.01M328.2 488.8h.01M336.9 506.8h.01M328.0 490.9h.01M340.7 490.1h.01M338.2 486.4h.01M339.1 490.8h.01M334.9 486.2h.01M340.2 492.6h.01M337.5 488.0h.01M337.4 488.4h.01M340.2 486.9h.01M339.1 498.9h.01M331.4 485.3h.01M339.5 493.1h.01M339.3 494.3h.01M339.6 500.4h.01M298.0 489.4h.01M327.1 491.8h.01M326.8 490.6h.01M326.5 489.1h.01M326.3 487.2h.01M325.5 492.1h.01M328.1 491.6h.01M328.0 485.3h.01M333.2 482.3h.01M326.9 488.9h.01M323.1 493.2h.01M333.9 482.2h.01M325.2 496.6h.01" stroke="rgb(106, 133, 206)" stroke-width="0.65" stroke-linecap="round" opacity="0.7"/><path d="M293.2 492.7h.01M290.2 495.5h.01M295.0 495.2h.01M291.7 494.5h.01M289.4 501.7h.01M296.1 494.4h.01M289.6 498.6h.01M296.2 496.5h.01M295.0 491.0h.01M291.4 515.4h.01M296.5 514.3h.01M291.6 498.8h.01M296.2 513.9h.01M295.9 495.5h.01M293.5 492.5h.01M291.2 515.1h.01M295.5 491.8h.01M291.0 495.5h.01M292.1 494.8h.01M292.1 492.4h.01M293.8 496.6h.01M296.5 497.6h.01M295.1 494.7h.01M290.7 515.7h.01M296.0 498.8h.01M293.1 494.8h.01M295.7 494.0h.01M291.0 495.8h.01M291.5 497.9h.01M290.9 496.0h.01M290.0 496.5h.01M294.1 494.0h.01M294.6 496.7h.01M290.9 497.9h.01M293.1 491.8h.01M293.1 494.9h.01M293.7 494.0h.01M291.2 498.5h.01M291.4 515.6h.01M295.6 496.4h.01M290.8 516.1h.01M295.1 494.2h.01M290.3 498.3h.01M291.2 495.5h.01M288.3 506.2h.01M292.6 494.2h.01M294.3 494.2h.01M290.8 515.3h.01M295.1 495.5h.01M289.3 505.5h.01M295.5 496.2h.01M291.3 516.3h.01M294.4 495.1h.01M292.6 494.7h.01M292.9 491.4h.01M293.8 496.5h.01M293.1 494.4h.01M296.1 513.5h.01M291.1 496.3h.01M291.0 497.3h.01M292.4 493.3h.01M291.5 498.7h.01M290.6 497.9h.01M294.2 494.4h.01M291.1 496.4h.01M291.3 496.9h.01M296.3 497.2h.01M294.7 495.8h.01M296.1 513.5h.01M289.3 506.8h.01M295.9 498.4h.01M294.0 495.8h.01M294.6 491.1h.01M293.9 492.8h.01M294.7 492.7h.01M289.5 505.5h.01M290.5 516.0h.01M292.4 493.2h.01M292.0 494.0h.01M291.2 516.2h.01M294.7 493.3h.01M290.6 515.9h.01M292.4 491.3h.01M297.6 496.8h.01M295.0 493.7h.01M298.8 504.9h.01M298.3 502.3h.01M297.6 515.0h.01M291.4 498.3h.01M295.7 496.2h.01M297.0 493.3h.01M295.7 494.4h.01M295.0 496.0h.01M297.1 496.7h.01M293.0 492.3h.01M292.4 494.1h.01M297.8 502.8h.01M298.1 506.1h.01M298.5 504.3h.01M291.9 493.9h.01M298.5 506.4h.01M292.3 491.7h.01M292.1 493.9h.01M298.2 503.8h.01M296.7 494.5h.01M293.9 494.3h.01M294.3 496.6h.01M298.2 504.4h.01M299.4 505.7h.01M295.3 494.7h.01M297.2 498.5h.01M296.7 497.6h.01M292.8 491.3h.01M296.3 495.4h.01M293.4 493.1h.01M294.4 495.7h.01M295.1 496.5h.01M291.0 497.9h.01M293.4 491.2h.01M297.0 497.0h.01M299.8 501.0h.01M294.0 495.0h.01M299.7 503.9h.01M295.8 496.0h.01M290.9 495.2h.01M297.5 498.2h.01M296.7 514.0h.01M297.1 496.0h.01M296.7 498.5h.01M299.5 502.7h.01M295.9 497.6h.01M291.5 495.8h.01M295.7 494.6h.01M295.3 494.8h.01M298.4 502.7h.01M292.7 492.1h.01M296.6 495.5h.01M295.1 491.3h.01M293.4 494.0h.01M298.9 501.7h.01M291.7 492.5h.01M299.3 504.4h.01M288.7 502.3h.01M292.2 492.5h.01M291.4 494.9h.01M292.0 491.1h.01M295.8 495.6h.01M295.8 495.2h.01M292.7 494.3h.01M296.1 495.8h.01M291.3 498.2h.01M296.1 493.6h.01M293.9 493.4h.01M291.8 494.0h.01M295.3 494.7h.01M298.0 504.4h.01M295.7 495.1h.01M296.5 514.2h.01M296.8 514.9h.01M290.0 516.2h.01M295.5 496.4h.01M289.5 501.2h.01M289.8 498.9h.01M295.2 492.7h.01M294.9 495.0h.01M298.0 503.1h.01M297.7 514.5h.01M299.7 506.1h.01M294.6 494.0h.01M297.6 514.5h.01M297.6 498.2h.01M299.7 501.4h.01M336.5 499.1h.01M338.6 501.1h.01M336.1 500.0h.01M328.8 494.8h.01M335.9 501.6h.01M328.8 494.6h.01M337.2 494.6h.01M334.4 502.1h.01M337.8 495.5h.01M330.3 493.6h.01M331.9 503.5h.01M334.2 504.0h.01M329.7 490.7h.01M334.5 488.8h.01M337.1 490.3h.01M333.6 503.0h.01M338.8 489.6h.01M336.7 500.9h.01M333.4 503.6h.01M337.4 501.1h.01M332.3 503.7h.01M330.1 489.4h.01M335.6 489.6h.01M330.4 498.3h.01M329.9 497.4h.01M333.7 487.3h.01M330.4 490.2h.01M330.6 502.3h.01M332.6 502.5h.01M337.8 493.4h.01M333.6 501.0h.01M337.1 497.7h.01M328.8 492.0h.01M331.8 489.4h.01M332.6 503.6h.01M330.7 496.1h.01M328.8 490.8h.01M329.1 494.6h.01M333.2 502.9h.01M336.6 501.8h.01M336.7 492.3h.01M335.0 501.4h.01M330.9 505.0h.01M330.3 496.4h.01M332.5 501.1h.01M334.8 500.2h.01M330.2 499.5h.01M332.1 499.9h.01M336.8 495.3h.01M333.0 501.2h.01M337.4 497.5h.01M332.9 489.3h.01M330.3 499.5h.01M338.6 502.5h.01M337.3 494.7h.01M331.3 487.8h.01M331.8 489.7h.01M332.0 487.2h.01M335.1 501.3h.01M332.5 487.0h.01M330.3 502.2h.01M328.7 497.0h.01M331.8 502.6h.01M336.2 490.3h.01M331.1 502.9h.01M337.4 499.1h.01M333.1 502.5h.01M329.3 489.0h.01M336.4 502.9h.01M333.7 486.9h.01M333.4 488.5h.01M331.3 500.5h.01M332.6 504.5h.01M338.3 491.5h.01M338.2 492.9h.01M329.5 502.1h.01M336.7 499.9h.01M329.0 497.6h.01M330.4 499.4h.01M330.3 500.0h.01M330.1 490.4h.01M328.6 500.3h.01M330.5 502.3h.01M333.3 490.7h.01M332.3 488.7h.01M337.0 491.4h.01M335.4 501.4h.01M332.9 503.2h.01M335.4 502.4h.01M330.9 488.4h.01M333.9 486.9h.01M335.0 490.6h.01M334.2 488.0h.01M329.9 501.1h.01M332.2 488.7h.01M331.2 488.7h.01M335.9 490.7h.01M334.9 501.5h.01M336.8 500.9h.01M332.8 502.2h.01M333.2 488.0h.01M336.7 500.2h.01M331.6 490.0h.01M338.0 491.9h.01M328.7 494.1h.01M329.3 497.6h.01M333.5 502.2h.01M333.0 489.1h.01M337.3 500.5h.01M337.2 499.4h.01M335.3 492.1h.01M335.9 499.0h.01M337.3 497.8h.01M332.1 490.4h.01M330.1 492.2h.01M338.5 502.2h.01M331.5 503.9h.01M335.7 487.5h.01M336.9 502.6h.01M330.6 491.9h.01M338.4 495.8h.01M335.7 502.8h.01M331.0 499.6h.01M332.4 489.3h.01M332.7 503.5h.01M337.3 496.4h.01M335.5 499.2h.01M333.3 489.7h.01M331.9 504.2h.01M329.8 501.8h.01M329.4 499.2h.01M330.7 503.0h.01M329.0 494.5h.01M338.4 495.0h.01M331.6 501.2h.01M330.6 499.2h.01M338.7 495.3h.01M338.3 499.2h.01M335.2 489.6h.01M330.3 495.7h.01M333.9 502.3h.01M329.2 499.3h.01M334.8 492.3h.01M335.0 492.4h.01M331.9 489.4h.01M333.1 490.7h.01M330.1 499.4h.01M338.2 493.5h.01M331.9 502.4h.01M330.4 501.4h.01M333.1 490.7h.01M332.1 488.9h.01M337.0 500.4h.01M335.3 500.4h.01M329.7 500.5h.01M329.7 502.4h.01M335.2 490.0h.01M336.4 488.9h.01M330.0 501.6h.01M334.7 502.9h.01M334.1 501.9h.01M335.6 491.4h.01M329.2 489.6h.01M336.0 504.5h.01M330.1 495.4h.01M337.8 500.1h.01M333.3 502.8h.01M332.0 504.9h.01M336.1 500.9h.01M336.2 489.3h.01M335.5 502.9h.01M335.2 504.1h.01M335.0 499.2h.01M333.0 502.4h.01M332.4 502.1h.01M328.8 498.7h.01M338.2 496.6h.01M330.5 493.1h.01M337.8 498.2h.01M332.6 503.4h.01M329.6 498.2h.01M334.6 489.8h.01M331.5 488.7h.01M334.9 502.8h.01M333.0 490.2h.01M328.9 493.7h.01M337.1 497.2h.01M336.0 503.2h.01M337.9 497.4h.01M334.2 490.6h.01M330.5 490.6h.01M332.2 501.1h.01M334.5 489.2h.01M330.4 493.5h.01M335.1 504.6h.01M336.6 492.3h.01M330.3 502.3h.01M329.9 496.8h.01M336.9 495.1h.01M331.0 504.9h.01M338.3 492.5h.01M332.2 503.2h.01M332.1 504.3h.01M333.3 503.7h.01M330.9 503.0h.01M330.6 489.0h.01M330.2 491.6h.01M334.5 503.0h.01M330.6 502.9h.01M335.9 500.6h.01M335.8 499.3h.01M335.7 492.6h.01M337.0 496.5h.01M330.6 493.4h.01M338.6 498.5h.01M334.3 504.7h.01M337.1 493.5h.01M332.2 502.2h.01M330.0 495.5h.01M332.8 487.7h.01M335.1 502.3h.01M329.3 490.5h.01M335.8 490.8h.01M337.5 502.7h.01M332.2 500.4h.01M329.1 502.6h.01M335.9 489.2h.01M337.3 490.3h.01M329.7 493.7h.01M329.7 497.8h.01M329.6 499.9h.01M337.5 497.1h.01M330.5 497.2h.01M330.5 502.4h.01M338.3 493.4h.01M335.8 486.9h.01M337.4 489.9h.01M337.2 491.6h.01M330.2 494.8h.01M331.0 489.4h.01M330.6 489.0h.01M329.0 497.4h.01M335.9 490.5h.01M332.7 503.9h.01M336.3 489.7h.01M331.9 499.3h.01M329.5 494.4h.01M332.4 503.3h.01M336.2 491.3h.01M329.2 500.8h.01M329.2 495.4h.01M332.3 490.7h.01M331.9 502.6h.01M337.4 493.9h.01M328.7 491.7h.01M335.9 502.2h.01M334.6 486.9h.01M337.6 494.7h.01M330.2 499.0h.01M336.3 504.7h.01M329.5 497.0h.01M329.1 491.7h.01M337.3 500.6h.01M334.7 501.9h.01M331.6 499.5h.01M330.5 494.4h.01M333.4 489.8h.01M330.0 501.4h.01M331.9 489.1h.01M337.2 489.5h.01M330.7 499.7h.01M337.4 499.2h.01M329.4 493.2h.01M335.5 501.6h.01M331.3 499.6h.01M338.5 499.7h.01M332.5 486.9h.01M335.7 499.8h.01M335.8 488.7h.01M335.5 487.5h.01M338.4 499.1h.01M336.9 500.3h.01M336.6 500.8h.01M334.9 490.8h.01M335.0 491.3h.01M337.4 489.2h.01M333.8 503.1h.01M331.5 500.4h.01M332.3 489.2h.01M328.8 491.0h.01M338.7 499.4h.01M337.8 490.2h.01M330.4 498.4h.01M337.9 502.8h.01M332.6 504.6h.01M337.0 495.6h.01M332.3 501.1h.01M333.8 490.2h.01M334.4 489.5h.01M337.8 493.4h.01M337.1 497.4h.01M338.3 491.4h.01M335.8 499.2h.01M333.9 501.8h.01M337.1 496.8h.01M337.0 495.8h.01M332.4 490.2h.01M336.9 492.2h.01M338.7 501.5h.01M337.7 489.1h.01M336.1 489.9h.01M338.8 497.6h.01M337.0 493.8h.01M332.9 489.5h.01M333.9 503.7h.01M336.8 498.4h.01M337.5 491.1h.01M338.1 501.0h.01M331.9 502.4h.01M336.9 490.1h.01M337.3 494.1h.01M333.7 488.2h.01M330.0 492.2h.01M335.2 500.7h.01M333.6 501.4h.01M333.7 488.6h.01M329.8 499.9h.01M337.0 498.9h.01M335.2 491.2h.01M333.8 504.7h.01M336.2 487.8h.01M334.9 499.7h.01M336.9 495.8h.01M333.6 489.6h.01M332.1 490.5h.01M330.5 496.0h.01M336.0 503.4h.01M336.5 490.9h.01M336.6 501.1h.01M335.2 487.2h.01M338.1 490.6h.01M334.0 502.3h.01M330.7 499.7h.01M334.8 501.1h.01M336.8 487.6h.01M336.5 489.8h.01M334.8 501.8h.01M331.3 488.5h.01M332.7 503.8h.01M336.2 489.9h.01M338.5 494.5h.01M335.1 502.8h.01M335.8 501.0h.01M335.9 490.1h.01M338.8 501.0h.01M329.8 497.1h.01M337.6 494.3h.01M329.6 498.2h.01M337.9 490.1h.01M338.7 495.4h.01M329.6 489.0h.01M337.8 499.7h.01M334.0 487.1h.01M331.5 490.6h.01M336.6 488.3h.01M332.1 488.6h.01M333.7 488.3h.01M335.9 499.3h.01M329.2 493.8h.01M338.1 498.0h.01M337.9 497.3h.01M337.0 491.8h.01M330.0 499.9h.01M331.9 501.2h.01M335.6 487.2h.01M331.0 499.8h.01M335.7 490.1h.01M333.6 489.4h.01M336.1 504.1h.01M337.6 489.7h.01M328.7 498.7h.01M335.2 492.5h.01M337.7 493.1h.01M332.6 487.8h.01M330.9 490.0h.01M330.4 490.3h.01M332.6 499.3h.01M336.6 489.9h.01M330.4 495.1h.01M337.5 497.6h.01M337.8 502.5h.01M333.1 487.6h.01M337.1 501.0h.01M332.6 499.3h.01M336.9 493.6h.01M336.7 491.0h.01M336.7 488.8h.01M333.7 502.8h.01M334.3 489.7h.01M332.9 487.6h.01M331.5 488.2h.01M338.5 502.6h.01M335.2 489.4h.01M335.0 490.5h.01M335.2 490.4h.01M334.1 489.5h.01M338.0 493.9h.01M334.2 489.0h.01M336.6 499.2h.01M337.5 496.8h.01M336.7 491.4h.01M335.1 492.2h.01M335.0 490.2h.01M336.9 497.8h.01M337.4 498.4h.01M333.7 490.0h.01M331.6 488.1h.01M330.5 489.7h.01M338.8 494.1h.01M332.0 490.1h.01M328.8 491.7h.01M329.5 490.5h.01M331.4 488.9h.01" stroke="rgb(78, 118, 192)" stroke-width="0.65" stroke-linecap="round" opacity="0.85"/><path d="M294.4 513.7h.01M290.6 512.7h.01M295.7 507.7h.01M295.4 516.2h.01M294.7 515.1h.01M291.7 495.4h.01M293.3 516.2h.01M291.4 511.6h.01M293.4 498.2h.01M290.4 513.1h.01M290.7 511.5h.01M292.3 515.8h.01M290.9 512.6h.01M296.1 511.0h.01M294.1 513.6h.01M290.8 500.5h.01M293.5 498.3h.01M293.7 514.9h.01M293.1 498.5h.01M292.6 496.2h.01M294.2 515.2h.01M295.8 510.5h.01M294.5 513.5h.01M296.1 509.4h.01M294.7 497.0h.01M291.2 500.2h.01M297.1 499.9h.01M293.9 513.9h.01M293.6 515.3h.01M294.3 513.5h.01M293.0 515.7h.01M290.9 512.9h.01M295.8 505.6h.01M292.4 497.9h.01M294.8 497.2h.01M293.5 497.6h.01M294.4 497.8h.01M291.5 511.2h.01M296.4 499.9h.01M290.6 499.1h.01M293.4 497.5h.01M292.9 497.5h.01M295.9 507.2h.01M296.1 508.5h.01M293.9 497.5h.01M292.9 498.2h.01M290.6 499.5h.01M293.4 496.9h.01M291.6 511.8h.01M292.5 516.1h.01M296.3 507.2h.01M296.8 508.7h.01M292.7 495.0h.01M292.1 494.9h.01M296.5 506.4h.01M294.1 498.5h.01M291.2 513.3h.01M295.8 500.6h.01M291.8 495.1h.01M290.5 512.2h.01M290.5 513.8h.01M295.9 502.0h.01M293.8 513.4h.01M295.8 504.5h.01M296.6 506.9h.01M290.9 511.2h.01M292.6 496.2h.01M294.8 516.2h.01M296.2 503.1h.01M290.4 512.7h.01M292.1 497.8h.01M292.9 498.4h.01M292.6 496.2h.01M295.7 513.5h.01M291.8 515.5h.01M294.8 513.9h.01M292.9 515.7h.01M294.2 498.8h.01M291.6 497.2h.01M295.9 504.0h.01M293.8 515.1h.01M295.6 513.6h.01M292.3 515.8h.01M290.9 500.1h.01M296.4 504.1h.01M293.7 515.9h.01M292.0 495.7h.01M290.1 514.3h.01M295.8 504.2h.01M289.8 500.3h.01M293.6 497.2h.01M290.7 500.7h.01M293.7 513.2h.01M291.3 499.2h.01M295.9 510.3h.01M294.1 515.8h.01M296.4 507.0h.01M291.3 513.8h.01M292.7 498.0h.01M291.9 498.6h.01M294.8 515.4h.01M295.5 514.9h.01M294.0 498.8h.01M292.4 516.1h.01M295.7 504.9h.01M290.1 513.3h.01M294.7 513.8h.01M290.2 513.2h.01M294.6 497.2h.01M292.8 498.3h.01M292.8 496.8h.01M291.5 511.1h.01M294.0 516.1h.01M291.6 511.4h.01M290.8 511.4h.01M291.4 511.9h.01M290.3 500.2h.01M292.2 515.6h.01M290.4 514.8h.01M292.4 495.8h.01M291.8 515.5h.01M295.2 515.6h.01M296.5 508.3h.01M295.9 508.6h.01M293.3 498.6h.01M292.2 515.4h.01M296.7 499.4h.01M293.3 497.5h.01M291.6 513.0h.01M290.5 512.6h.01M296.3 511.0h.01M295.9 506.9h.01M293.2 498.2h.01M292.8 515.8h.01M294.8 497.0h.01M292.9 498.1h.01M296.3 506.6h.01M289.8 514.7h.01M293.1 496.0h.01M293.5 515.8h.01M293.1 497.7h.01M290.7 500.0h.01M292.1 515.5h.01M290.5 500.9h.01M293.9 513.2h.01M295.6 513.5h.01M296.0 506.8h.01M295.9 505.6h.01M293.5 498.0h.01M292.9 516.2h.01M292.2 497.8h.01M293.7 514.6h.01M294.2 514.3h.01M292.2 497.2h.01M292.2 496.8h.01M291.8 496.9h.01M294.5 498.7h.01M294.1 515.6h.01M295.6 515.8h.01M291.4 499.1h.01M292.4 515.9h.01M293.9 514.3h.01M293.3 497.1h.01M291.9 496.6h.01M290.8 513.6h.01M292.1 516.1h.01M291.6 500.0h.01M293.8 516.1h.01M293.1 498.0h.01M295.1 513.6h.01M296.0 501.7h.01M293.2 516.0h.01M296.4 503.6h.01M294.3 497.7h.01M296.4 499.2h.01M291.4 513.7h.01M292.9 497.7h.01M293.3 498.1h.01M296.0 508.2h.01M292.1 496.5h.01M293.0 515.9h.01M294.0 498.8h.01M291.6 512.2h.01M290.6 499.3h.01M292.2 498.7h.01M294.5 516.1h.01M291.8 497.5h.01M291.0 500.9h.01M290.9 513.5h.01M290.1 512.3h.01M295.1 515.6h.01M292.9 498.6h.01M294.2 515.6h.01M291.1 514.5h.01M293.1 498.0h.01M294.5 514.4h.01M295.2 514.5h.01M291.6 498.9h.01M293.7 515.1h.01M290.9 511.6h.01M295.8 504.0h.01M291.3 499.6h.01M294.4 515.3h.01M290.0 512.4h.01M296.0 512.7h.01M296.7 510.3h.01M293.8 514.7h.01M294.5 498.3h.01M293.9 498.2h.01M296.4 499.0h.01M292.7 496.3h.01M296.6 504.2h.01M295.9 505.0h.01M296.7 511.9h.01M296.4 501.8h.01M294.8 515.8h.01M292.7 495.8h.01M295.8 503.8h.01M297.1 509.9h.01M297.0 498.9h.01M297.0 512.2h.01M293.0 496.8h.01M294.3 514.4h.01M296.7 503.5h.01M294.8 497.0h.01M297.6 509.5h.01M296.6 504.1h.01M297.1 501.4h.01M295.9 502.8h.01M297.4 504.8h.01M293.8 498.2h.01M297.7 504.5h.01M296.1 509.3h.01M297.2 505.4h.01M297.3 505.2h.01M297.4 506.3h.01M295.8 499.1h.01M295.8 500.4h.01M296.2 510.4h.01M296.9 500.0h.01M296.5 499.1h.01M291.0 500.4h.01M297.7 509.1h.01M297.3 508.0h.01M294.9 497.6h.01M297.6 504.2h.01M297.5 508.5h.01M294.6 497.2h.01M297.0 512.1h.01M297.7 508.1h.01M296.2 505.4h.01M297.2 503.1h.01M292.6 495.3h.01M297.7 509.7h.01M297.8 511.8h.01M297.3 511.6h.01M296.6 506.7h.01M297.3 502.5h.01M296.5 504.4h.01M297.6 508.4h.01M292.2 497.3h.01M297.5 501.0h.01M297.1 500.6h.01M296.8 500.6h.01M296.4 511.4h.01M297.3 510.5h.01M294.8 497.2h.01M297.5 499.5h.01M295.9 509.2h.01M297.0 500.2h.01M294.6 497.0h.01M332.5 497.4h.01M336.6 493.6h.01M336.8 495.8h.01M333.7 493.7h.01M332.3 498.4h.01M330.9 491.1h.01M332.8 493.9h.01M336.6 497.1h.01M334.6 494.6h.01M330.7 494.1h.01M332.1 497.5h.01M335.0 496.5h.01M335.0 493.4h.01M334.5 499.1h.01M334.2 498.1h.01M332.4 492.2h.01M333.0 498.3h.01M332.0 498.5h.01M334.0 500.4h.01M331.4 498.7h.01M331.7 490.9h.01M334.9 498.1h.01M332.6 492.0h.01M331.7 494.9h.01M334.2 494.8h.01M334.4 499.8h.01M330.7 498.4h.01M333.0 497.8h.01M334.0 492.8h.01M336.7 494.7h.01M336.6 497.9h.01M331.3 495.2h.01M336.7 497.7h.01M332.3 493.0h.01M330.8 494.7h.01M335.7 495.4h.01M333.4 497.9h.01M335.9 496.8h.01M331.4 496.4h.01M335.0 495.9h.01M332.2 498.1h.01M331.5 495.9h.01M334.6 491.2h.01M336.2 497.3h.01M332.2 491.7h.01M331.6 493.5h.01M335.8 493.9h.01M335.3 498.5h.01M333.8 497.4h.01M333.0 496.2h.01M333.2 496.2h.01M334.5 490.9h.01M332.8 492.6h.01M333.8 499.7h.01M330.8 491.9h.01M331.8 498.4h.01M335.9 494.7h.01M336.4 496.8h.01M332.8 499.1h.01M331.8 496.3h.01M331.9 494.2h.01M334.1 493.5h.01M330.9 496.0h.01M333.4 495.5h.01M333.2 499.4h.01M332.3 491.3h.01M331.0 492.5h.01M336.4 498.4h.01M331.6 491.6h.01M333.6 497.7h.01M333.2 493.8h.01M335.0 494.4h.01M331.1 496.1h.01M333.3 493.8h.01M334.6 494.3h.01M334.0 491.9h.01M334.4 496.5h.01M333.7 498.4h.01M335.0 494.8h.01M331.6 497.3h.01M331.8 495.0h.01M334.5 495.5h.01M333.6 495.5h.01M334.6 494.6h.01M331.5 497.0h.01M333.2 497.7h.01M331.9 497.6h.01M332.3 495.1h.01M334.3 494.4h.01M330.8 491.2h.01M333.6 496.8h.01M331.3 498.5h.01M331.7 491.0h.01M332.6 495.0h.01M334.5 492.2h.01M335.8 497.4h.01M331.4 491.3h.01M334.2 496.1h.01M331.4 492.7h.01M331.7 498.4h.01M336.3 498.5h.01M333.4 495.0h.01M331.8 497.9h.01M333.0 497.8h.01M336.7 497.9h.01M333.4 493.4h.01M331.2 493.7h.01M332.4 497.2h.01M330.8 496.0h.01M334.1 498.0h.01M332.9 500.4h.01M330.7 493.2h.01M331.2 493.8h.01M332.2 496.6h.01M331.5 491.8h.01M332.4 497.5h.01M332.1 493.8h.01M334.9 494.5h.01M334.0 497.8h.01M331.0 497.8h.01M335.1 497.9h.01M331.9 498.0h.01M336.2 493.7h.01M334.3 500.9h.01M333.9 498.3h.01M334.2 494.6h.01M332.6 492.5h.01M331.6 494.1h.01M334.7 499.2h.01M333.0 491.7h.01M332.5 493.5h.01M333.7 500.6h.01M334.1 499.9h.01M334.6 498.3h.01M332.9 499.4h.01M336.3 497.2h.01M332.1 498.5h.01M331.8 496.5h.01M334.0 495.0h.01M334.9 498.3h.01M332.9 494.7h.01M334.6 492.7h.01M334.1 492.3h.01M332.5 492.3h.01M331.4 495.4h.01M334.8 493.3h.01M334.4 498.1h.01M331.5 491.2h.01M332.9 495.1h.01M333.8 492.7h.01M332.3 490.9h.01M331.8 496.0h.01M332.3 494.0h.01M335.9 495.2h.01M332.9 496.6h.01M336.5 493.3h.01M335.7 495.7h.01M333.5 498.3h.01M332.0 494.2h.01M331.4 495.3h.01M333.8 492.3h.01M333.8 497.1h.01M334.7 499.1h.01M333.0 494.5h.01M331.8 495.3h.01M333.3 497.8h.01M335.1 495.0h.01M331.6 494.9h.01M336.2 494.7h.01M332.2 498.1h.01M333.2 491.7h.01M336.7 496.5h.01M334.7 495.3h.01M332.1 498.6h.01M332.6 493.3h.01M332.2 493.6h.01M332.0 495.8h.01M333.5 499.2h.01M335.5 498.4h.01M333.9 499.0h.01M336.1 493.3h.01M332.0 498.5h.01M335.5 494.9h.01M334.6 493.7h.01M334.8 492.9h.01M333.0 491.2h.01M334.6 494.5h.01M333.7 495.2h.01M335.3 492.9h.01M334.2 493.2h.01M336.1 494.1h.01M331.4 494.9h.01M334.7 494.3h.01M336.3 493.4h.01M331.0 494.1h.01M334.2 492.9h.01M336.4 495.2h.01M333.9 491.5h.01M336.3 497.3h.01M333.6 495.7h.01M333.1 492.7h.01M332.7 497.7h.01M336.4 496.4h.01M331.6 492.8h.01M336.7 497.1h.01M332.4 493.9h.01M334.4 492.9h.01M334.7 494.0h.01M332.3 498.9h.01M335.4 497.1h.01M335.4 494.4h.01M331.6 494.3h.01M332.5 491.9h.01M333.1 492.2h.01M331.7 493.3h.01M333.3 495.2h.01M334.7 493.3h.01M331.8 497.0h.01M332.7 496.3h.01M336.3 495.8h.01M331.1 496.2h.01M334.3 492.1h.01M334.1 492.5h.01M333.9 500.5h.01M334.0 499.5h.01M331.1 491.3h.01M335.9 496.3h.01M334.7 496.1h.01M335.7 493.4h.01M335.1 495.3h.01M332.9 495.2h.01M333.5 494.7h.01M334.3 494.3h.01M333.6 498.3h.01M333.4 497.4h.01M335.1 494.0h.01M331.3 494.6h.01M332.1 498.4h.01M334.2 491.4h.01M333.2 500.9h.01M334.0 492.9h.01M335.3 497.1h.01M334.5 500.1h.01M333.8 495.2h.01M335.8 498.1h.01M333.6 497.4h.01M333.3 492.3h.01" stroke="rgb(60, 150, 163)" stroke-width="0.65" stroke-linecap="round" opacity="0.85"/><path d="M294.1 512.6h.01M291.0 502.3h.01M295.7 500.2h.01M292.1 513.2h.01M291.0 502.9h.01M292.8 514.1h.01M293.9 511.5h.01M290.1 504.1h.01M292.2 514.3h.01M294.1 512.0h.01M294.2 511.4h.01M293.1 514.4h.01M295.0 511.9h.01M291.4 506.6h.01M291.1 502.4h.01M294.0 511.4h.01M291.3 510.0h.01M293.2 499.4h.01M294.2 512.0h.01M293.1 500.9h.01M292.7 515.1h.01M295.0 511.7h.01M292.6 500.4h.01M290.3 502.6h.01M295.1 513.0h.01M290.1 507.5h.01M291.6 505.5h.01M295.5 512.1h.01M293.3 500.5h.01M290.3 510.2h.01M294.6 512.9h.01M293.2 513.7h.01M291.1 506.6h.01M290.2 507.6h.01M289.8 505.4h.01M290.8 508.3h.01M294.1 513.0h.01M289.7 508.1h.01M290.6 503.8h.01M293.2 514.4h.01M290.3 508.5h.01M294.5 499.3h.01M293.3 514.5h.01M294.3 512.6h.01M290.6 504.2h.01M290.2 502.5h.01M293.4 499.1h.01M291.7 514.9h.01M295.2 511.7h.01M291.6 501.6h.01M291.1 504.2h.01M292.7 513.1h.01M291.5 506.7h.01M294.0 513.0h.01M291.6 509.2h.01M293.9 500.9h.01M291.3 510.2h.01M291.4 502.2h.01M293.0 513.5h.01M290.2 508.2h.01M292.7 514.9h.01M290.2 504.9h.01M292.1 514.1h.01M291.8 513.4h.01M291.4 508.9h.01M291.8 500.7h.01M291.0 503.6h.01M292.9 499.1h.01M291.2 506.0h.01M290.9 510.3h.01M294.3 512.9h.01M291.5 506.4h.01M293.7 499.8h.01M294.4 512.4h.01M292.8 500.1h.01M290.5 509.7h.01M293.7 500.4h.01M291.1 503.1h.01M291.6 507.5h.01M292.6 500.5h.01M294.2 499.8h.01M293.2 513.9h.01M292.2 500.5h.01M294.5 499.2h.01M294.8 511.9h.01M290.6 511.0h.01M292.2 499.9h.01M292.6 513.3h.01M293.4 514.3h.01M291.5 504.3h.01M290.5 502.5h.01M292.9 514.3h.01M291.8 514.0h.01M290.7 506.5h.01M290.7 510.6h.01M291.1 501.3h.01M292.1 513.8h.01M293.9 511.3h.01M291.7 514.0h.01M292.2 499.9h.01M291.6 503.6h.01M289.9 507.7h.01M291.6 507.1h.01M289.7 505.8h.01M294.6 512.0h.01M293.7 513.1h.01M290.7 509.9h.01M291.0 501.9h.01M293.1 500.3h.01M292.3 500.3h.01M294.5 511.8h.01M293.9 500.3h.01M295.5 512.8h.01M291.0 504.6h.01M290.1 508.7h.01M294.1 511.2h.01M294.5 500.8h.01M293.8 500.3h.01M293.1 499.6h.01M291.4 508.7h.01M292.7 514.3h.01M290.7 508.5h.01M293.5 513.5h.01M292.0 499.8h.01M291.1 509.7h.01M293.2 499.6h.01M290.5 504.1h.01M294.5 499.4h.01M294.9 500.4h.01M290.7 501.6h.01M295.1 512.1h.01M291.9 500.8h.01M293.0 499.5h.01M291.1 504.6h.01M292.6 499.5h.01M290.0 504.4h.01M293.9 499.2h.01M293.5 514.1h.01M292.4 500.3h.01M291.4 503.0h.01M289.8 506.4h.01M291.3 510.9h.01M293.6 500.3h.01M290.7 504.3h.01M291.2 503.8h.01M294.8 500.8h.01M294.1 500.4h.01M291.3 509.6h.01M293.9 499.9h.01M292.1 500.2h.01M290.4 508.6h.01M292.3 499.8h.01M291.5 506.3h.01M289.7 507.8h.01M291.4 502.1h.01M290.9 507.9h.01M291.7 499.2h.01M292.0 500.0h.01M291.4 502.9h.01M291.2 509.7h.01M290.9 503.5h.01M290.8 505.3h.01M294.7 511.3h.01M290.6 503.4h.01M291.2 501.6h.01M295.2 511.8h.01M290.9 510.9h.01M291.2 502.5h.01M291.5 504.7h.01M290.8 510.9h.01M290.1 510.6h.01M290.1 504.7h.01M292.8 500.6h.01M293.9 512.1h.01M293.1 514.2h.01M289.6 505.2h.01M290.5 503.8h.01M294.2 499.8h.01M290.1 502.5h.01M292.4 513.6h.01M295.0 500.7h.01M291.6 514.8h.01M291.5 505.2h.01M290.0 503.8h.01M291.0 504.3h.01M292.0 500.7h.01M291.4 503.3h.01M290.8 505.3h.01M293.1 514.4h.01M294.0 512.3h.01M291.9 499.5h.01M292.7 500.6h.01M290.9 508.4h.01M292.5 513.4h.01M291.2 509.4h.01M293.1 499.5h.01M290.6 505.8h.01M293.7 499.3h.01M289.9 509.0h.01M293.4 500.1h.01M290.3 504.5h.01M294.5 512.0h.01M292.3 514.1h.01M291.2 502.1h.01M294.8 512.3h.01M289.6 510.6h.01M295.0 500.0h.01M295.1 500.9h.01M290.8 509.2h.01M291.6 505.8h.01M290.3 502.5h.01M292.4 513.5h.01M292.1 513.2h.01M292.7 514.3h.01M294.0 499.7h.01M293.0 500.5h.01M290.9 507.3h.01M290.3 506.8h.01M294.4 500.5h.01M294.5 513.0h.01M293.3 500.9h.01M291.6 501.6h.01M291.4 509.0h.01M295.2 512.8h.01M292.1 499.4h.01M295.2 512.8h.01M292.6 499.0h.01M291.6 502.1h.01M292.2 499.5h.01M291.5 506.0h.01M293.8 512.4h.01M292.0 513.1h.01M293.9 499.6h.01M291.3 510.0h.01M291.5 510.8h.01M291.4 508.4h.01M294.0 511.7h.01M294.1 511.6h.01M294.0 512.6h.01M291.4 502.0h.01M292.2 513.1h.01M291.1 504.2h.01M295.4 511.3h.01M290.6 502.7h.01M291.3 507.5h.01M295.6 511.6h.01M291.3 508.0h.01M295.0 500.6h.01M293.6 499.9h.01M294.2 500.2h.01M292.3 499.4h.01M291.3 503.0h.01M295.3 512.8h.01M291.3 504.0h.01M292.8 500.9h.01M290.3 501.1h.01M292.4 514.6h.01M289.6 508.6h.01M293.9 512.7h.01M293.1 513.4h.01M291.3 507.5h.01M293.9 499.4h.01M291.2 509.5h.01M291.1 502.4h.01M290.5 504.2h.01M290.6 507.5h.01M291.4 507.3h.01M291.7 499.0h.01M290.8 506.4h.01M291.2 508.1h.01M293.2 514.0h.01M294.7 499.3h.01M293.9 500.3h.01M294.8 500.4h.01M291.6 508.8h.01M292.1 499.6h.01M291.2 502.6h.01M292.8 499.0h.01M290.7 502.3h.01M290.9 507.9h.01M291.6 509.5h.01M294.7 500.7h.01M293.0 500.0h.01M291.5 506.4h.01M289.7 504.9h.01M295.3 500.9h.01M291.6 499.4h.01M290.2 510.7h.01M291.6 501.9h.01M295.1 512.0h.01M292.6 499.0h.01M294.6 500.7h.01M294.1 499.0h.01M294.0 511.7h.01M292.3 514.9h.01M291.8 500.1h.01M294.5 511.1h.01M290.0 510.9h.01M293.2 500.1h.01M291.2 504.2h.01M294.8 500.7h.01M294.7 511.5h.01M293.5 500.5h.01M294.0 511.8h.01M293.2 514.0h.01M293.4 500.9h.01" stroke="rgb(106, 183, 82)" stroke-width="0.65" stroke-linecap="round" opacity="0.85"/><path d="M294.6 506.9h.01M294.5 506.2h.01M293.7 506.8h.01M293.9 506.6h.01M292.5 511.9h.01M292.8 503.3h.01M292.1 502.5h.01M291.9 504.9h.01M292.6 505.9h.01M292.2 508.4h.01M292.1 510.1h.01M293.8 504.4h.01M293.7 504.1h.01M293.0 508.4h.01M291.6 511.5h.01M293.7 509.8h.01M292.7 504.6h.01M294.0 506.6h.01M293.7 501.5h.01M293.4 505.3h.01M292.6 501.2h.01M291.9 508.4h.01M292.8 504.5h.01M294.5 507.4h.01M292.6 506.8h.01M293.8 504.4h.01M292.7 510.4h.01M292.8 503.0h.01M292.4 508.9h.01M293.6 509.3h.01M293.9 501.9h.01M292.8 504.7h.01M294.2 508.7h.01M294.9 505.5h.01M291.7 504.1h.01M293.5 509.4h.01M294.4 509.6h.01M295.3 502.6h.01M293.6 506.7h.01M292.9 505.0h.01M294.3 506.4h.01M293.4 509.0h.01M294.7 502.0h.01M292.1 505.7h.01M292.4 510.2h.01M293.9 510.8h.01M292.6 501.2h.01M293.2 507.7h.01M292.5 506.8h.01M291.9 511.1h.01M293.1 510.0h.01M293.0 505.4h.01M295.4 502.7h.01M292.1 509.3h.01M292.6 511.3h.01M292.5 506.0h.01M293.2 503.2h.01M291.9 505.2h.01M295.2 508.8h.01M293.3 501.2h.01M291.7 503.3h.01M293.2 504.5h.01M292.2 508.9h.01M294.7 504.3h.01M293.0 505.4h.01M293.7 507.1h.01M295.5 503.6h.01M294.3 508.6h.01M292.1 506.0h.01M293.1 508.0h.01M293.4 510.8h.01M294.2 508.1h.01M294.4 502.8h.01M292.3 502.1h.01M293.3 503.8h.01M295.3 504.2h.01M293.0 501.0h.01M292.0 507.2h.01M293.9 504.5h.01M295.5 510.3h.01M292.8 508.6h.01M294.2 509.4h.01M292.8 505.0h.01M293.5 502.8h.01M295.3 508.5h.01M292.4 502.5h.01M292.5 502.7h.01M294.5 509.6h.01M293.5 506.2h.01M294.5 505.9h.01M293.7 510.8h.01M292.5 501.7h.01M292.9 509.7h.01M293.6 509.1h.01M292.7 502.2h.01M291.8 502.6h.01M294.0 501.5h.01M292.2 510.8h.01M294.5 510.4h.01M292.8 506.7h.01M293.3 512.8h.01M292.6 506.0h.01M293.6 511.5h.01M292.6 511.1h.01M293.0 502.5h.01M295.5 502.8h.01M292.6 511.4h.01M295.0 505.1h.01M292.7 512.9h.01M293.4 503.6h.01M295.1 502.5h.01M293.6 509.4h.01M292.5 509.8h.01M293.3 510.9h.01M292.4 510.2h.01M292.6 504.6h.01M295.3 506.0h.01M295.0 505.5h.01M292.6 506.5h.01M291.9 506.5h.01M293.2 510.8h.01M291.7 509.3h.01M293.8 507.3h.01M295.3 510.6h.01M291.9 509.5h.01M291.7 507.4h.01M292.1 507.0h.01M292.5 512.8h.01M295.2 503.0h.01M292.6 506.6h.01M293.3 508.9h.01M293.2 502.4h.01M292.8 503.1h.01M293.8 508.7h.01M294.8 510.5h.01M293.5 501.2h.01M293.9 503.6h.01M293.5 508.8h.01M293.5 507.5h.01M295.1 505.2h.01M293.6 509.9h.01M293.1 506.0h.01M295.6 508.9h.01M293.3 512.3h.01M292.2 506.6h.01M292.6 506.0h.01M293.8 504.2h.01M294.1 508.6h.01M293.0 509.2h.01M292.0 506.0h.01M292.7 507.8h.01M294.8 501.9h.01M293.2 509.3h.01M295.1 509.4h.01M294.7 503.6h.01M292.5 501.3h.01M293.5 509.4h.01M293.1 506.9h.01M293.1 502.8h.01M293.0 504.2h.01M293.5 501.8h.01M292.0 502.3h.01M291.7 511.8h.01M292.4 503.4h.01M292.2 506.8h.01M292.7 507.9h.01M292.9 508.0h.01M291.7 508.9h.01M293.0 507.9h.01M292.7 508.3h.01M293.0 512.6h.01M291.8 508.4h.01M294.2 502.4h.01M294.4 502.0h.01M291.7 510.7h.01M291.7 509.1h.01M293.2 509.0h.01M292.3 509.2h.01M292.7 509.6h.01M292.1 511.4h.01M293.9 503.5h.01M292.3 507.3h.01M294.7 505.0h.01M292.0 504.0h.01M294.0 501.1h.01M292.8 510.8h.01M292.6 502.1h.01M293.9 503.5h.01M292.8 511.5h.01M294.5 509.4h.01M292.4 510.2h.01M293.2 506.9h.01M295.0 507.5h.01M295.3 504.0h.01M291.9 511.1h.01M295.3 508.9h.01M291.7 503.5h.01M292.8 508.0h.01M292.6 509.9h.01M293.9 509.1h.01M293.4 501.6h.01M295.2 503.9h.01M293.2 503.6h.01M291.6 506.3h.01M293.4 504.8h.01M294.0 505.6h.01M295.4 501.8h.01M295.3 507.1h.01M294.8 504.7h.01M295.6 507.7h.01M294.7 510.5h.01M292.4 503.9h.01M294.9 508.3h.01M294.7 506.7h.01M294.3 505.2h.01M292.3 511.5h.01M293.5 513.1h.01M294.2 510.4h.01M293.0 506.7h.01M294.7 505.2h.01M294.2 505.6h.01M292.1 506.7h.01M294.9 501.8h.01M292.6 509.1h.01M293.0 505.8h.01M293.5 502.4h.01M295.2 506.5h.01M292.6 510.3h.01M293.0 503.4h.01M293.1 508.0h.01M293.2 509.8h.01M293.7 502.7h.01M292.8 510.7h.01M292.2 510.4h.01M291.9 507.3h.01M293.5 511.9h.01M294.8 504.6h.01M294.5 501.7h.01M292.4 509.1h.01M293.7 504.2h.01M293.4 510.8h.01M294.4 505.7h.01M292.0 507.2h.01M292.5 509.5h.01M293.7 505.8h.01M294.1 504.9h.01M294.4 508.7h.01M292.9 508.2h.01M292.4 504.9h.01M292.9 509.2h.01M294.9 509.5h.01M294.2 503.4h.01M293.2 509.6h.01M291.8 507.1h.01M291.7 508.8h.01M294.6 506.4h.01M293.3 506.2h.01M294.7 501.9h.01M295.2 506.4h.01M292.5 509.6h.01M294.4 504.2h.01M292.8 502.2h.01M293.8 510.4h.01M291.7 503.6h.01M293.7 510.1h.01M294.4 509.3h.01M293.0 503.1h.01M293.2 505.3h.01M294.5 501.9h.01M292.5 505.5h.01M293.3 511.5h.01M295.3 502.6h.01M293.2 505.1h.01M292.8 512.6h.01M292.1 500.9h.01M293.4 508.6h.01M292.1 510.7h.01M293.5 505.1h.01M294.9 505.1h.01M295.6 504.0h.01M294.8 507.7h.01M292.4 507.8h.01M292.7 504.3h.01M295.0 510.3h.01M293.2 508.8h.01M292.6 508.2h.01M295.2 509.8h.01M293.6 505.5h.01M293.0 501.7h.01M292.9 501.3h.01M295.1 506.2h.01M292.7 507.2h.01M293.2 504.4h.01M292.6 506.8h.01M294.1 501.1h.01M295.2 505.5h.01M293.2 503.6h.01M292.5 506.5h.01M293.2 508.8h.01M293.9 505.6h.01M292.8 509.0h.01M292.9 501.5h.01M295.0 510.4h.01M292.7 505.1h.01M293.2 502.0h.01M292.7 504.8h.01M292.4 509.3h.01M293.6 502.7h.01M294.4 503.2h.01M293.5 510.8h.01M292.7 504.2h.01M293.5 508.5h.01M295.1 503.5h.01M291.8 510.8h.01M293.5 511.1h.01M294.3 509.8h.01M293.7 502.2h.01M292.8 503.0h.01M293.8 505.3h.01M294.3 501.9h.01M294.2 504.7h.01M294.2 507.4h.01M292.0 510.0h.01M293.5 506.9h.01M292.6 504.4h.01M294.1 503.3h.01M292.7 503.4h.01M293.1 503.7h.01M292.1 501.3h.01M294.3 506.6h.01M292.5 510.8h.01M293.2 506.6h.01M295.7 503.3h.01M292.2 509.5h.01M293.1 511.8h.01M291.8 509.6h.01M295.2 510.6h.01M293.6 508.4h.01M293.6 501.4h.01M292.6 503.5h.01M294.3 510.8h.01M292.4 505.1h.01M292.6 504.0h.01M292.0 505.3h.01M293.8 502.8h.01M292.8 506.0h.01M292.9 507.1h.01M292.1 508.8h.01M293.7 502.3h.01M293.9 504.8h.01M292.4 505.8h.01M291.9 509.5h.01M293.0 502.5h.01M293.4 511.9h.01M294.3 503.5h.01M295.1 502.7h.01M293.0 512.4h.01M292.6 503.8h.01M293.7 502.0h.01M295.4 509.2h.01M295.1 501.6h.01M292.4 508.8h.01M294.7 501.0h.01M292.9 511.6h.01M292.0 506.0h.01M294.4 510.9h.01M293.4 508.0h.01M291.8 512.1h.01M291.8 507.7h.01M292.0 507.1h.01M292.6 506.6h.01M292.5 502.8h.01M294.3 503.1h.01M292.1 505.9h.01M294.2 509.3h.01M292.3 501.0h.01M294.2 508.0h.01M293.4 512.1h.01M293.7 502.5h.01M292.5 510.4h.01M293.5 512.7h.01M293.0 509.5h.01M295.5 509.9h.01M293.4 508.6h.01M294.0 503.8h.01M292.0 505.4h.01M293.4 504.5h.01M293.7 504.4h.01M294.2 510.2h.01M293.0 503.3h.01M292.7 503.9h.01M291.8 512.0h.01M292.9 505.0h.01M294.0 510.2h.01M292.7 508.1h.01M292.8 508.1h.01M292.2 510.0h.01M294.5 503.5h.01M294.2 505.8h.01M292.2 511.4h.01M292.7 503.5h.01M295.4 506.6h.01M293.9 506.5h.01M294.4 506.2h.01M293.2 509.2h.01M295.3 501.2h.01M295.6 502.4h.01M294.0 508.1h.01M294.4 508.6h.01M294.6 502.2h.01M295.4 501.5h.01M293.5 511.8h.01M295.2 509.1h.01M292.6 506.8h.01M292.1 502.6h.01M294.9 508.8h.01M295.2 505.0h.01M295.1 506.3h.01M295.5 504.6h.01M292.6 505.4h.01M294.9 504.5h.01M292.7 502.7h.01M293.0 503.9h.01M294.3 502.8h.01M293.8 509.8h.01M295.7 504.0h.01M293.6 508.0h.01M294.1 506.9h.01M292.7 506.1h.01M293.9 505.2h.01M293.5 507.2h.01M295.4 510.4h.01M293.4 505.4h.01M292.3 501.2h.01M295.6 509.0h.01M293.7 505.9h.01M293.8 501.3h.01M292.6 503.5h.01M292.0 504.2h.01M293.0 505.1h.01M294.6 508.8h.01M293.7 502.8h.01M293.6 512.6h.01M294.9 508.2h.01M293.9 502.4h.01M293.6 501.2h.01M293.3 506.4h.01M295.3 506.8h.01M293.7 502.8h.01M293.0 512.5h.01M292.4 502.2h.01M293.8 502.1h.01M293.4 507.2h.01M293.2 507.8h.01M293.8 510.5h.01M295.5 502.0h.01M292.7 512.4h.01M293.3 504.5h.01M294.3 507.6h.01M293.9 505.5h.01M293.7 508.7h.01M292.8 510.4h.01M294.2 509.4h.01M292.9 508.2h.01M293.2 509.1h.01M293.9 502.6h.01M295.0 501.4h.01M292.9 511.5h.01M294.4 509.3h.01M291.7 506.4h.01M293.9 509.1h.01M293.0 508.3h.01M294.7 510.2h.01M295.2 502.5h.01M294.4 505.3h.01M295.2 500.9h.01M292.8 501.9h.01M292.7 507.8h.01M293.5 501.7h.01M293.3 511.4h.01M293.1 504.4h.01M294.0 505.4h.01M293.8 507.9h.01M294.2 505.2h.01M292.6 508.8h.01M292.5 506.7h.01M292.0 508.5h.01M292.5 511.1h.01M293.9 502.1h.01M293.0 508.6h.01M295.1 510.4h.01M291.8 503.3h.01M294.4 504.8h.01M295.0 507.2h.01M295.7 503.5h.01M293.1 505.9h.01M292.9 508.7h.01M294.1 507.3h.01M293.9 507.3h.01M292.1 502.3h.01M293.9 501.9h.01M293.4 508.8h.01M294.0 506.3h.01M292.7 506.4h.01M294.4 502.9h.01M294.3 503.4h.01M295.4 508.9h.01M294.0 510.5h.01M292.3 508.1h.01M292.5 507.3h.01M291.9 503.1h.01M291.8 503.1h.01M292.3 511.5h.01M295.1 502.3h.01M294.5 503.0h.01M294.8 503.5h.01M295.0 502.3h.01M293.3 506.8h.01M292.6 503.5h.01M295.3 507.6h.01M293.6 504.1h.01M294.4 501.8h.01M292.2 501.7h.01M295.0 510.6h.01M291.9 505.3h.01M293.5 502.9h.01M291.7 509.7h.01M293.3 511.9h.01M292.9 507.3h.01M293.9 506.4h.01M291.7 504.5h.01M293.5 504.9h.01M293.9 507.2h.01M293.0 506.4h.01M293.1 507.6h.01M293.7 511.2h.01M294.8 506.5h.01M293.6 502.2h.01M293.3 506.2h.01M293.4 510.8h.01M292.4 509.0h.01M292.6 502.2h.01M295.3 506.0h.01M294.6 505.4h.01M293.5 511.9h.01M293.4 510.9h.01M292.7 506.2h.01M292.1 504.2h.01M293.7 512.3h.01M295.0 502.3h.01M294.2 502.0h.01M293.1 510.8h.01M291.8 501.4h.01M293.8 507.5h.01M292.0 507.1h.01M293.3 502.4h.01M294.6 506.4h.01M295.6 507.6h.01M293.7 509.5h.01M293.4 500.9h.01M291.7 504.8h.01M292.1 507.7h.01M293.2 504.6h.01M293.5 505.0h.01M293.5 501.3h.01M292.7 506.5h.01M292.4 512.4h.01M293.1 512.4h.01M292.8 511.5h.01M292.5 511.4h.01M293.2 504.5h.01M292.9 507.7h.01M292.6 501.0h.01M292.2 509.4h.01M293.0 511.0h.01M292.5 501.2h.01M294.8 510.6h.01M293.8 509.7h.01M291.8 513.0h.01M293.2 509.2h.01M292.6 512.8h.01M291.7 510.6h.01M293.8 506.5h.01M293.2 512.5h.01M293.6 503.5h.01M295.3 508.9h.01M293.3 510.9h.01M292.6 501.3h.01M293.7 505.0h.01M294.0 505.1h.01M294.9 505.9h.01M293.6 501.8h.01M294.9 503.5h.01M291.7 507.6h.01M293.6 506.8h.01M295.0 501.4h.01M295.7 501.0h.01M294.6 507.8h.01M295.5 510.8h.01M293.5 501.3h.01M293.4 504.8h.01M293.0 501.3h.01M292.4 511.2h.01M295.7 509.0h.01M295.5 504.0h.01M295.2 506.7h.01M294.6 507.1h.01M293.1 503.0h.01M294.8 503.6h.01M295.5 501.4h.01M294.7 503.5h.01M292.5 512.3h.01M295.5 502.3h.01M293.7 501.2h.01M292.4 501.5h.01M291.8 501.7h.01M293.4 508.5h.01M292.8 510.6h.01M293.1 511.9h.01M292.7 503.9h.01M292.7 507.0h.01M293.8 505.4h.01M293.0 501.4h.01M294.9 506.3h.01M293.3 508.4h.01M293.8 509.2h.01M293.7 504.7h.01M295.7 511.0h.01M293.8 507.6h.01M292.2 505.4h.01M292.0 501.9h.01" stroke="rgb(207, 210, 46)" stroke-width="0.65" stroke-linecap="round" opacity="0.85"/><line x1="310.60" y1="458.50" x2="310.60" y2="517.10" stroke="#808080" stroke-width="0.8"/><line x1="283.40" y1="492.30" x2="351.20" y2="492.30" stroke="#808080" stroke-width="0.8"/><rect x="283.40" y="458.50" width="67.80" height="58.60" fill="none" stroke="#111" stroke-width="1.15"/><line x1="281.00" y1="464.60" x2="283.40" y2="464.60" stroke="#111" stroke-width="1.0"/><text x="270.00" y="466.80" font-size="6.3" fill="#111">10<tspan font-size="4.0" dy="-2.6">5</tspan></text><line x1="281.00" y1="479.10" x2="283.40" y2="479.10" stroke="#111" stroke-width="1.0"/><text x="270.00" y="481.30" font-size="6.3" fill="#111">10<tspan font-size="4.0" dy="-2.6">4</tspan></text><line x1="281.00" y1="493.50" x2="283.40" y2="493.50" stroke="#111" stroke-width="1.0"/><text x="270.00" y="495.70" font-size="6.3" fill="#111">10<tspan font-size="4.0" dy="-2.6">3</tspan></text><line x1="281.00" y1="510.20" x2="283.40" y2="510.20" stroke="#111" stroke-width="1.0"/><text x="278.40" y="512.40" font-size="6.3" text-anchor="middle" fill="#111">0</text><text x="327.40" y="465.50" font-size="6.7" text-anchor="start" fill="#111">10.23%</text><text x="312.00" y="514.90" font-size="6.4" text-anchor="start" fill="#111">21.8%</text><line x1="290.80" y1="517.10" x2="290.80" y2="519.70" stroke="#111" stroke-width="0.9"/><text x="290.80" y="524.80" font-size="6.3" text-anchor="middle" fill="#111">0</text><line x1="309.20" y1="517.10" x2="309.20" y2="519.70" stroke="#111" stroke-width="0.9"/><text x="304.65" y="524.80" font-size="6.3" fill="#111">10<tspan font-size="3.78" dy="-2.52">3</tspan></text><line x1="327.00" y1="517.10" x2="327.00" y2="519.70" stroke="#111" stroke-width="0.9"/><text x="322.45" y="524.80" font-size="6.3" fill="#111">10<tspan font-size="3.78" dy="-2.52">4</tspan></text><line x1="344.60" y1="517.10" x2="344.60" y2="519.70" stroke="#111" stroke-width="0.9"/><text x="340.05" y="524.80" font-size="6.3" fill="#111">10<tspan font-size="3.78" dy="-2.52">5</tspan></text><line x1="296.32" y1="517.10" x2="296.32" y2="518.50" stroke="#111" stroke-width="0.6"/><line x1="299.63" y1="517.10" x2="299.63" y2="518.50" stroke="#111" stroke-width="0.6"/><line x1="301.84" y1="517.10" x2="301.84" y2="518.50" stroke="#111" stroke-width="0.6"/><line x1="303.68" y1="517.10" x2="303.68" y2="518.50" stroke="#111" stroke-width="0.6"/><line x1="305.15" y1="517.10" x2="305.15" y2="518.50" stroke="#111" stroke-width="0.6"/><line x1="306.44" y1="517.10" x2="306.44" y2="518.50" stroke="#111" stroke-width="0.6"/><line x1="307.36" y1="517.10" x2="307.36" y2="518.50" stroke="#111" stroke-width="0.6"/><line x1="308.28" y1="517.10" x2="308.28" y2="518.50" stroke="#111" stroke-width="0.6"/><line x1="314.54" y1="517.10" x2="314.54" y2="518.50" stroke="#111" stroke-width="0.6"/><line x1="317.74" y1="517.10" x2="317.74" y2="518.50" stroke="#111" stroke-width="0.6"/><line x1="319.88" y1="517.10" x2="319.88" y2="518.50" stroke="#111" stroke-width="0.6"/><line x1="321.66" y1="517.10" x2="321.66" y2="518.50" stroke="#111" stroke-width="0.6"/><line x1="323.08" y1="517.10" x2="323.08" y2="518.50" stroke="#111" stroke-width="0.6"/><line x1="324.33" y1="517.10" x2="324.33" y2="518.50" stroke="#111" stroke-width="0.6"/><line x1="325.22" y1="517.10" x2="325.22" y2="518.50" stroke="#111" stroke-width="0.6"/><line x1="326.11" y1="517.10" x2="326.11" y2="518.50" stroke="#111" stroke-width="0.6"/><line x1="332.28" y1="517.10" x2="332.28" y2="518.50" stroke="#111" stroke-width="0.6"/><line x1="335.45" y1="517.10" x2="335.45" y2="518.50" stroke="#111" stroke-width="0.6"/><line x1="337.56" y1="517.10" x2="337.56" y2="518.50" stroke="#111" stroke-width="0.6"/><line x1="339.32" y1="517.10" x2="339.32" y2="518.50" stroke="#111" stroke-width="0.6"/><line x1="340.73" y1="517.10" x2="340.73" y2="518.50" stroke="#111" stroke-width="0.6"/><line x1="341.96" y1="517.10" x2="341.96" y2="518.50" stroke="#111" stroke-width="0.6"/><line x1="342.84" y1="517.10" x2="342.84" y2="518.50" stroke="#111" stroke-width="0.6"/><line x1="343.72" y1="517.10" x2="343.72" y2="518.50" stroke="#111" stroke-width="0.6"/><text x="265.20" y="433.30" font-size="8.0" text-anchor="middle" fill="#111" transform="rotate(-90 265.2 433.3)">vehicle</text><text x="266.40" y="495.40" font-size="8.0" text-anchor="middle" fill="#111" transform="rotate(-90 266.4 495.4)">CX-5461</text><text x="256.00" y="501.80" font-size="8.0" text-anchor="middle" fill="#111" transform="rotate(-90 256.0 501.8)">c-Kit</text><line x1="252.60" y1="492.40" x2="252.60" y2="447.50" stroke="#111" stroke-width="1.0"/><path d="M252.60 444.00 L250.80 448.00 L254.40 448.00 Z" fill="#111"/><text x="283.80" y="534.00" font-size="7.4" text-anchor="start" fill="#111">GFP</text><line x1="300.60" y1="531.40" x2="335.00" y2="531.40" stroke="#111" stroke-width="1.0"/><path d="M338.50 531.40 L334.50 529.60 L334.50 533.20 Z" fill="#111"/><rect x="392.30" y="425.42" width="17.50" height="66.18" fill="#2d4f8e" stroke="#1f3c70" stroke-width="0.4"/><line x1="401.05" y1="425.42" x2="401.05" y2="423.33" stroke="#111" stroke-width="0.8"/><line x1="398.55" y1="423.33" x2="403.55" y2="423.33" stroke="#111" stroke-width="0.9"/><rect x="418.10" y="454.89" width="17.30" height="36.71" fill="#d4382a" stroke="#a82a20" stroke-width="0.4"/><line x1="426.75" y1="454.89" x2="426.75" y2="452.17" stroke="#111" stroke-width="0.8"/><line x1="424.25" y1="452.17" x2="429.25" y2="452.17" stroke="#111" stroke-width="0.9"/><line x1="401.30" y1="416.90" x2="424.00" y2="416.90" stroke="#111" stroke-width="0.9"/><circle cx="406.50" cy="411.90" r="1.05" fill="#1a1a1a"/><circle cx="410.10" cy="411.90" r="1.05" fill="#1a1a1a"/><circle cx="413.70" cy="411.90" r="1.05" fill="#1a1a1a"/><circle cx="417.30" cy="411.90" r="1.05" fill="#1a1a1a"/><path d="M388.3 491.6 L388.3 407.7 L438.6 407.7 L438.6 491.6 L388.3 491.6" fill="none" stroke="#111" stroke-width="1.15"/><line x1="385.70" y1="491.60" x2="388.30" y2="491.60" stroke="#111" stroke-width="1.0"/><text x="382.70" y="493.80" font-size="6.4" text-anchor="end" fill="#111">0</text><line x1="385.70" y1="470.62" x2="388.30" y2="470.62" stroke="#111" stroke-width="1.0"/><text x="382.70" y="472.82" font-size="6.4" text-anchor="end" fill="#111">20</text><line x1="385.70" y1="449.65" x2="388.30" y2="449.65" stroke="#111" stroke-width="1.0"/><text x="382.70" y="451.85" font-size="6.4" text-anchor="end" fill="#111">40</text><line x1="385.70" y1="428.68" x2="388.30" y2="428.68" stroke="#111" stroke-width="1.0"/><text x="382.70" y="430.88" font-size="6.4" text-anchor="end" fill="#111">60</text><line x1="385.70" y1="407.70" x2="388.30" y2="407.70" stroke="#111" stroke-width="1.0"/><text x="382.70" y="409.90" font-size="6.4" text-anchor="end" fill="#111">80</text><line x1="401.20" y1="491.60" x2="401.20" y2="494.40" stroke="#111" stroke-width="1.0"/><line x1="426.80" y1="491.60" x2="426.80" y2="494.40" stroke="#111" stroke-width="1.0"/><text x="388.60" y="403.00" font-size="8.6" text-anchor="start" fill="#111">p53WT</text><text x="369.3" y="447.0" font-size="7.95" text-anchor="middle" fill="#111" transform="rotate(-90 369.3 447.0)">% c-kit<tspan font-size="4.8" dy="-2.8">+</tspan><tspan dy="2.8"> of GFP</tspan><tspan font-size="4.8" dy="-2.8">+</tspan><tspan dy="2.8"> tumor cells</tspan></text><text x="402.80" y="500.80" font-size="6.3" text-anchor="end" fill="#111" transform="rotate(-45 402.8 500.8)">vehicle</text><text x="428.40" y="500.80" font-size="6.3" text-anchor="end" fill="#111" transform="rotate(-45 428.4 500.8)">CX-5461</text><text x="7.90" y="569.80" font-size="11.5" text-anchor="start" fill="#111" font-weight="bold">G</text><path d="M35.8 635.8 L36.3 635.7 L36.8 635.5 L37.3 635.3 L37.8 635.1 L38.3 635.0 L38.8 634.8 L39.3 634.7 L39.8 634.6 L40.3 634.5 L40.8 634.4 L41.3 634.3 L41.8 634.2 L42.3 634.1 L42.8 634.0 L43.3 633.8 L43.8 633.7 L44.3 633.5 L44.8 633.4 L45.3 633.2 L45.8 632.9 L46.3 632.7 L46.8 632.4 L47.3 632.0 L47.8 631.7 L48.3 631.3 L48.8 630.8 L49.3 630.2 L49.8 629.5 L50.3 628.8 L50.8 627.9 L51.3 626.9 L51.8 625.8 L52.3 624.6 L52.8 623.2 L53.3 621.7 L53.8 620.0 L54.3 618.1 L54.8 616.2 L55.3 614.4 L55.8 612.7 L56.3 610.9 L56.8 608.6 L57.3 604.3 L57.8 599.6 L58.3 596.3 L58.8 593.1 L59.3 590.3 L59.8 588.1 L60.3 586.9 L60.8 587.0 L61.3 587.8 L61.8 588.7 L62.3 590.0 L62.8 591.7 L63.3 593.9 L63.8 596.5 L64.3 599.1 L64.8 601.7 L65.3 604.3 L65.8 606.9 L66.3 609.5 L66.8 612.0 L67.3 614.4 L67.8 616.6 L68.3 618.7 L68.8 620.6 L69.3 622.5 L69.8 624.1 L70.3 625.5 L70.8 626.7 L71.3 627.8 L71.8 628.8 L72.3 629.6 L72.8 630.4 L73.3 631.2 L73.8 631.8 L74.3 632.5 L74.8 633.0 L75.3 633.5 L75.8 633.9 L76.3 634.2 L76.8 634.5 L77.3 634.8 L77.8 635.0 L78.3 635.2 L78.8 635.4 L79.3 635.5 L79.8 635.6 L80.3 635.6 L80.8 635.7 L81.3 635.8 L81.8 635.8" fill="none" stroke="#ecc0c4" stroke-width="0.75"/><path d="M35.8 635.8 L36.3 635.7 L36.8 635.6 L37.3 635.4 L37.8 635.2 L38.3 635.1 L38.8 634.9 L39.3 634.8 L39.8 634.7 L40.3 634.6 L40.8 634.5 L41.3 634.4 L41.8 634.3 L42.3 634.2 L42.8 634.0 L43.3 633.9 L43.8 633.8 L44.3 633.6 L44.8 633.5 L45.3 633.3 L45.8 633.1 L46.3 632.8 L46.8 632.6 L47.3 632.3 L47.8 631.9 L48.3 631.5 L48.8 631.1 L49.3 630.6 L49.8 630.0 L50.3 629.3 L50.8 628.5 L51.3 627.6 L51.8 626.6 L52.3 625.4 L52.8 624.1 L53.3 622.7 L53.8 621.1 L54.3 619.5 L54.8 617.7 L55.3 615.9 L55.8 614.2 L56.3 612.4 L56.8 610.4 L57.3 607.4 L57.8 604.0 L58.3 600.8 L58.8 596.5 L59.3 592.5 L59.8 589.9 L60.3 588.0 L60.8 587.2 L61.3 587.3 L61.8 587.6 L62.3 588.2 L62.8 589.1 L63.3 590.6 L63.8 592.4 L64.3 594.2 L64.8 596.1 L65.3 598.2 L65.8 600.3 L66.3 602.7 L66.8 605.3 L67.3 608.0 L67.8 610.7 L68.3 613.1 L68.8 615.4 L69.3 617.6 L69.8 619.6 L70.3 621.4 L70.8 623.0 L71.3 624.4 L71.8 625.7 L72.3 626.9 L72.8 628.0 L73.3 629.0 L73.8 629.9 L74.3 630.9 L74.8 631.8 L75.3 632.5 L75.8 633.0 L76.3 633.5 L76.8 633.9 L77.3 634.2 L77.8 634.5 L78.3 634.8 L78.8 635.0 L79.3 635.2 L79.8 635.3 L80.3 635.5 L80.8 635.6 L81.3 635.7 L81.8 635.8" fill="none" stroke="#d06a72" stroke-width="0.75"/><path d="M35.8 635.8 L36.3 635.8 L36.8 635.7 L37.3 635.5 L37.8 635.3 L38.3 635.2 L38.8 635.0 L39.3 634.9 L39.8 634.7 L40.3 634.6 L40.8 634.5 L41.3 634.4 L41.8 634.3 L42.3 634.2 L42.8 634.1 L43.3 634.0 L43.8 633.9 L44.3 633.8 L44.8 633.6 L45.3 633.4 L45.8 633.2 L46.3 633.0 L46.8 632.8 L47.3 632.5 L47.8 632.2 L48.3 631.8 L48.8 631.4 L49.3 631.0 L49.8 630.5 L50.3 629.8 L50.8 629.0 L51.3 628.2 L51.8 627.3 L52.3 626.2 L52.8 625.0 L53.3 623.6 L53.8 622.2 L54.3 620.8 L54.8 619.2 L55.3 617.5 L55.8 615.7 L56.3 613.9 L56.8 612.1 L57.3 610.5 L57.8 608.5 L58.3 605.3 L58.8 599.9 L59.3 594.8 L59.8 591.6 L60.3 589.1 L60.8 587.5 L61.3 586.8 L61.8 586.5 L62.3 586.3 L62.8 586.5 L63.3 587.3 L63.8 588.3 L64.3 589.3 L64.8 590.5 L65.3 592.0 L65.8 593.7 L66.3 596.0 L66.8 598.7 L67.3 601.7 L67.8 604.7 L68.3 607.5 L68.8 610.1 L69.3 612.7 L69.8 615.1 L70.3 617.2 L70.8 619.2 L71.3 621.0 L71.8 622.6 L72.3 624.1 L72.8 625.5 L73.3 626.8 L73.8 628.1 L74.3 629.4 L74.8 630.6 L75.3 631.6 L75.8 632.2 L76.3 632.7 L76.8 633.2 L77.3 633.7 L77.8 634.0 L78.3 634.4 L78.8 634.7 L79.3 634.9 L79.8 635.1 L80.3 635.3 L80.8 635.5 L81.3 635.7 L81.8 635.8" fill="none" stroke="#a8343c" stroke-width="0.75"/><path d="M35.8 635.8 L36.3 635.6 L36.8 635.4 L37.3 635.2 L37.8 635.0 L38.3 634.9 L38.8 634.7 L39.3 634.6 L39.8 634.5 L40.3 634.4 L40.8 634.3 L41.3 634.2 L41.8 634.1 L42.3 634.0 L42.8 633.9 L43.3 633.7 L43.8 633.6 L44.3 633.4 L44.8 633.2 L45.3 633.0 L45.8 632.7 L46.3 632.4 L46.9 632.1 L47.4 631.8 L47.9 631.4 L48.4 630.9 L48.9 630.4 L49.4 629.7 L49.9 628.9 L50.4 628.1 L50.9 627.2 L51.4 626.1 L51.9 624.8 L52.4 623.5 L52.9 622.0 L53.4 620.4 L53.9 618.5 L54.4 616.4 L54.9 614.4 L55.4 612.5 L55.9 610.9 L56.4 609.0 L56.9 606.0 L57.4 599.8 L57.9 594.0 L58.4 591.2 L58.9 589.2 L59.4 587.6 L59.9 586.0 L60.4 585.9 L60.9 587.1 L61.4 588.6 L61.9 590.4 L62.4 592.5 L62.9 595.1 L63.4 598.2 L63.9 601.6 L64.4 605.1 L64.9 608.4 L65.4 611.6 L65.9 614.5 L66.4 617.1 L66.9 619.4 L67.4 621.5 L67.9 623.2 L68.5 624.9 L69.0 626.5 L69.5 627.9 L70.0 629.1 L70.5 630.1 L71.0 630.9 L71.5 631.5 L72.0 632.2 L72.5 632.7 L73.0 633.1 L73.5 633.5 L74.0 633.8 L74.5 634.1 L75.0 634.4 L75.5 634.6 L76.0 634.9 L76.5 635.0 L77.0 635.2 L77.5 635.4 L78.0 635.6 L78.5 635.7 L79.0 635.8 Z" fill="#7e7a7a" fill-opacity="0.88" stroke="#5a4a4a" stroke-width="0.5"/><rect x="35.10" y="579.20" width="66.50" height="56.60" fill="none" stroke="#111" stroke-width="1.1"/><line x1="33.10" y1="579.20" x2="35.10" y2="579.20" stroke="#111" stroke-width="0.9"/><text x="31.10" y="581.00" font-size="5.3" text-anchor="end" fill="#111" letter-spacing="-0.1">100%</text><line x1="33.10" y1="593.35" x2="35.10" y2="593.35" stroke="#111" stroke-width="0.9"/><text x="31.10" y="595.15" font-size="5.3" text-anchor="end" fill="#111" letter-spacing="-0.1">75%</text><line x1="33.10" y1="607.50" x2="35.10" y2="607.50" stroke="#111" stroke-width="0.9"/><text x="31.10" y="609.30" font-size="5.3" text-anchor="end" fill="#111" letter-spacing="-0.1">50%</text><line x1="33.10" y1="621.65" x2="35.10" y2="621.65" stroke="#111" stroke-width="0.9"/><text x="31.10" y="623.45" font-size="5.3" text-anchor="end" fill="#111" letter-spacing="-0.1">25%</text><line x1="42.40" y1="635.80" x2="42.40" y2="637.80" stroke="#111" stroke-width="0.8"/><text x="42.40" y="646.00" font-size="5.4" text-anchor="middle" fill="#111">0</text><line x1="60.10" y1="635.80" x2="60.10" y2="637.80" stroke="#111" stroke-width="0.8"/><text x="56.20" y="646.00" font-size="5.4" fill="#111">10<tspan font-size="3.24" dy="-2.16">3</tspan></text><line x1="77.60" y1="635.80" x2="77.60" y2="637.80" stroke="#111" stroke-width="0.8"/><text x="73.70" y="646.00" font-size="5.4" fill="#111">10<tspan font-size="3.24" dy="-2.16">4</tspan></text><line x1="94.30" y1="635.80" x2="94.30" y2="637.80" stroke="#111" stroke-width="0.8"/><text x="90.40" y="646.00" font-size="5.4" fill="#111">10<tspan font-size="3.24" dy="-2.16">5</tspan></text><path d="M47.7 635.8v1.3M50.9 635.8v1.3M53.0 635.8v1.3M54.8 635.8v1.3M56.2 635.8v1.3M57.4 635.8v1.3M58.3 635.8v1.3M59.2 635.8v1.3M65.3 635.8v1.3M68.5 635.8v1.3M70.6 635.8v1.3M72.3 635.8v1.3M73.8 635.8v1.3M75.0 635.8v1.3M75.8 635.8v1.3M76.7 635.8v1.3M82.6 635.8v1.3M85.6 635.8v1.3M87.6 635.8v1.3M89.3 635.8v1.3M90.6 635.8v1.3M91.8 635.8v1.3M92.6 635.8v1.3M93.5 635.8v1.3" stroke="#111" stroke-width="0.5"/><text x="35.70" y="574.20" font-size="8.7" text-anchor="start" fill="#111">ML-2</text><path d="M35.9 707.5 L36.4 707.3 L36.9 707.1 L37.4 706.9 L37.9 706.8 L38.4 706.7 L38.9 706.6 L39.4 706.5 L39.9 706.4 L40.4 706.3 L40.9 706.2 L41.4 706.0 L41.9 705.9 L42.4 705.8 L42.9 705.6 L43.4 705.4 L43.9 705.3 L44.4 705.0 L44.9 704.8 L45.4 704.6 L45.9 704.3 L46.4 704.1 L46.9 703.8 L47.4 703.5 L47.9 703.2 L48.4 702.8 L48.9 702.4 L49.4 701.8 L49.9 701.1 L50.4 700.4 L50.9 699.5 L51.4 698.5 L51.9 697.4 L52.4 696.2 L52.9 694.8 L53.4 693.2 L53.9 691.3 L54.4 689.0 L54.9 686.5 L55.4 683.7 L55.9 680.7 L56.4 677.6 L56.9 674.0 L57.4 670.0 L57.9 666.4 L58.4 663.6 L58.9 661.3 L59.4 659.5 L59.9 657.9 L60.4 656.8 L60.9 656.9 L61.4 658.2 L61.9 659.8 L62.4 661.5 L62.9 663.7 L63.4 666.4 L63.9 670.3 L64.4 674.6 L64.9 678.3 L65.4 681.1 L65.9 683.7 L66.4 686.1 L66.9 688.3 L67.4 690.3 L67.9 692.2 L68.4 693.9 L68.9 695.5 L69.4 697.0 L69.9 698.3 L70.4 699.5 L70.9 700.6 L71.4 701.7 L71.9 702.6 L72.4 703.4 L72.9 704.1 L73.4 704.6 L73.9 705.1 L74.4 705.5 L74.9 705.9 L75.4 706.2 L75.9 706.5 L76.4 706.8 L76.9 707.0 L77.4 707.2 L77.9 707.4 L78.4 707.5" fill="none" stroke="#a0a4da" stroke-width="0.55"/><path d="M35.2 707.5 L35.7 707.3 L36.2 707.1 L36.7 706.9 L37.2 706.8 L37.7 706.7 L38.2 706.6 L38.7 706.5 L39.2 706.4 L39.7 706.3 L40.2 706.2 L40.7 706.1 L41.2 705.9 L41.7 705.8 L42.2 705.7 L42.7 705.5 L43.2 705.3 L43.7 705.1 L44.2 704.9 L44.7 704.6 L45.2 704.4 L45.7 704.1 L46.2 703.8 L46.7 703.6 L47.2 703.2 L47.7 702.9 L48.2 702.4 L48.7 701.9 L49.2 701.2 L49.7 700.5 L50.2 699.6 L50.7 698.7 L51.2 697.6 L51.7 696.4 L52.2 695.0 L52.7 693.4 L53.2 691.5 L53.7 689.3 L54.2 686.8 L54.7 684.0 L55.2 681.1 L55.7 678.1 L56.2 674.4 L56.7 670.5 L57.2 667.0 L57.7 664.2 L58.2 662.0 L58.7 660.2 L59.2 658.6 L59.7 657.5 L60.2 657.6 L60.7 658.9 L61.2 660.5 L61.7 662.2 L62.2 664.3 L62.7 667.0 L63.2 670.9 L63.7 675.1 L64.2 678.7 L64.7 681.5 L65.2 684.0 L65.7 686.4 L66.2 688.5 L66.7 690.5 L67.2 692.4 L67.7 694.1 L68.2 695.7 L68.7 697.1 L69.2 698.4 L69.7 699.6 L70.2 700.7 L70.7 701.7 L71.2 702.7 L71.7 703.5 L72.2 704.1 L72.7 704.6 L73.2 705.1 L73.7 705.5 L74.2 705.9 L74.7 706.2 L75.2 706.5 L75.7 706.8 L76.2 707.0 L76.7 707.2 L77.2 707.4 L77.7 707.5" fill="none" stroke="#5058b0" stroke-width="0.55"/><path d="M35.7 707.5 L36.2 707.3 L36.7 707.1 L37.2 706.9 L37.7 706.8 L38.2 706.7 L38.7 706.6 L39.2 706.5 L39.7 706.4 L40.2 706.3 L40.7 706.2 L41.2 706.1 L41.7 705.9 L42.2 705.8 L42.7 705.6 L43.2 705.5 L43.7 705.3 L44.2 705.1 L44.7 704.8 L45.2 704.6 L45.7 704.3 L46.2 704.1 L46.7 703.8 L47.2 703.5 L47.7 703.2 L48.2 702.8 L48.7 702.4 L49.2 701.8 L49.7 701.2 L50.2 700.4 L50.7 699.5 L51.2 698.6 L51.7 697.5 L52.2 696.2 L52.7 694.8 L53.2 693.3 L53.7 691.4 L54.2 689.1 L54.7 686.5 L55.2 683.8 L55.7 680.8 L56.2 677.8 L56.7 674.1 L57.2 670.2 L57.7 666.6 L58.2 663.8 L58.7 661.5 L59.2 659.7 L59.7 658.1 L60.2 657.0 L60.7 657.1 L61.2 658.4 L61.7 660.0 L62.2 661.7 L62.7 663.8 L63.2 666.6 L63.7 670.5 L64.2 674.7 L64.7 678.4 L65.2 681.2 L65.7 683.8 L66.2 686.2 L66.7 688.3 L67.2 690.4 L67.7 692.2 L68.2 693.9 L68.7 695.5 L69.2 697.0 L69.7 698.3 L70.2 699.5 L70.7 700.6 L71.2 701.7 L71.7 702.6 L72.2 703.4 L72.7 704.1 L73.2 704.6 L73.7 705.1 L74.2 705.5 L74.7 705.9 L75.2 706.2 L75.7 706.5 L76.2 706.8 L76.7 707.0 L77.2 707.2 L77.7 707.4 L78.2 707.5" fill="none" stroke="#2a2a7a" stroke-width="0.55"/><path d="M35.5 707.5 L36.0 707.3 L36.5 707.1 L37.0 706.9 L37.5 706.8 L38.0 706.7 L38.5 706.6 L39.0 706.5 L39.5 706.4 L40.0 706.3 L40.5 706.2 L41.0 706.1 L41.5 705.9 L42.0 705.8 L42.5 705.6 L43.0 705.5 L43.5 705.3 L44.0 705.1 L44.5 704.8 L45.0 704.6 L45.5 704.4 L46.0 704.1 L46.5 703.8 L47.0 703.5 L47.5 703.2 L48.0 702.8 L48.5 702.4 L49.0 701.9 L49.5 701.2 L50.0 700.4 L50.5 699.6 L51.0 698.6 L51.5 697.5 L52.0 696.3 L52.5 694.9 L53.0 693.3 L53.5 691.4 L54.0 689.2 L54.5 686.6 L55.0 683.9 L55.5 680.9 L56.0 677.9 L56.5 674.2 L57.0 670.3 L57.5 666.7 L58.0 664.0 L58.5 661.7 L59.0 659.9 L59.5 658.3 L60.0 657.2 L60.5 657.3 L61.0 658.6 L61.5 660.2 L62.0 661.9 L62.5 664.0 L63.0 666.8 L63.5 670.6 L64.0 674.9 L64.5 678.6 L65.0 681.3 L65.5 683.9 L66.0 686.3 L66.5 688.4 L67.0 690.4 L67.5 692.3 L68.0 694.0 L68.5 695.6 L69.0 697.1 L69.5 698.4 L70.0 699.6 L70.5 700.7 L71.0 701.7 L71.5 702.6 L72.0 703.5 L72.5 704.1 L73.0 704.6 L73.5 705.1 L74.0 705.5 L74.5 705.9 L75.0 706.2 L75.5 706.5 L76.0 706.8 L76.5 707.0 L77.0 707.2 L77.5 707.4 L78.0 707.5 Z" fill="#8a8a8a" fill-opacity="0.92" stroke="#34343e" stroke-width="0.6"/><rect x="35.10" y="650.80" width="66.50" height="56.70" fill="none" stroke="#111" stroke-width="1.1"/><line x1="33.10" y1="650.80" x2="35.10" y2="650.80" stroke="#111" stroke-width="0.9"/><text x="31.10" y="652.60" font-size="5.3" text-anchor="end" fill="#111" letter-spacing="-0.1">100%</text><line x1="33.10" y1="664.97" x2="35.10" y2="664.97" stroke="#111" stroke-width="0.9"/><text x="31.10" y="666.77" font-size="5.3" text-anchor="end" fill="#111" letter-spacing="-0.1">75%</text><line x1="33.10" y1="679.15" x2="35.10" y2="679.15" stroke="#111" stroke-width="0.9"/><text x="31.10" y="680.95" font-size="5.3" text-anchor="end" fill="#111" letter-spacing="-0.1">50%</text><line x1="33.10" y1="693.33" x2="35.10" y2="693.33" stroke="#111" stroke-width="0.9"/><text x="31.10" y="695.12" font-size="5.3" text-anchor="end" fill="#111" letter-spacing="-0.1">25%</text><line x1="42.40" y1="707.50" x2="42.40" y2="709.50" stroke="#111" stroke-width="0.8"/><text x="42.40" y="717.70" font-size="5.4" text-anchor="middle" fill="#111">0</text><line x1="60.10" y1="707.50" x2="60.10" y2="709.50" stroke="#111" stroke-width="0.8"/><text x="56.20" y="717.70" font-size="5.4" fill="#111">10<tspan font-size="3.24" dy="-2.16">3</tspan></text><line x1="77.60" y1="707.50" x2="77.60" y2="709.50" stroke="#111" stroke-width="0.8"/><text x="73.70" y="717.70" font-size="5.4" fill="#111">10<tspan font-size="3.24" dy="-2.16">4</tspan></text><line x1="94.30" y1="707.50" x2="94.30" y2="709.50" stroke="#111" stroke-width="0.8"/><text x="90.40" y="717.70" font-size="5.4" fill="#111">10<tspan font-size="3.24" dy="-2.16">5</tspan></text><path d="M47.7 707.5v1.3M50.9 707.5v1.3M53.0 707.5v1.3M54.8 707.5v1.3M56.2 707.5v1.3M57.4 707.5v1.3M58.3 707.5v1.3M59.2 707.5v1.3M65.3 707.5v1.3M68.5 707.5v1.3M70.6 707.5v1.3M72.3 707.5v1.3M73.8 707.5v1.3M75.0 707.5v1.3M75.8 707.5v1.3M76.7 707.5v1.3M82.6 707.5v1.3M85.6 707.5v1.3M87.6 707.5v1.3M89.3 707.5v1.3M90.6 707.5v1.3M91.8 707.5v1.3M92.6 707.5v1.3M93.5 707.5v1.3" stroke="#111" stroke-width="0.5"/><path d="M124.0 635.8 L124.5 635.8 L125.0 635.7 L125.5 635.5 L126.0 635.2 L126.5 634.4 L127.0 633.0 L127.5 631.1 L128.0 628.6 L128.5 625.7 L129.0 622.3 L129.5 618.2 L130.0 614.0 L130.5 610.0 L131.0 606.3 L131.5 602.8 L132.0 599.5 L132.5 596.7 L133.0 594.2 L133.5 592.2 L134.0 591.1 L134.5 590.3 L135.0 589.7 L135.5 589.1 L136.0 588.6 L136.5 587.9 L137.0 587.2 L137.5 586.6 L138.0 586.3 L138.5 587.0 L139.0 588.5 L139.5 590.3 L140.0 593.0 L140.5 596.8 L141.0 600.3 L141.5 603.0 L142.0 605.5 L142.5 607.8 L143.0 609.8 L143.5 611.7 L144.0 613.4 L144.5 614.8 L145.0 616.0 L145.5 617.1 L146.0 618.2 L146.5 619.2 L147.0 620.3 L147.5 621.3 L148.0 622.4 L148.5 623.4 L149.0 624.3 L149.5 625.2 L150.0 626.1 L150.5 626.9 L151.0 627.7 L151.5 628.4 L152.0 629.1 L152.5 629.8 L153.0 630.4 L153.5 631.0 L154.0 631.5 L154.5 632.0 L155.0 632.5 L155.5 632.9 L156.0 633.2 L156.5 633.6 L157.0 633.8 L157.5 634.1 L158.0 634.3 L158.5 634.5 L159.0 634.7 L159.5 634.9 L160.0 635.0 L160.5 635.1 L161.0 635.2 L161.5 635.3 L162.0 635.4 L162.5 635.5 L163.0 635.6 L163.5 635.6 L164.0 635.7 L164.5 635.7 L165.0 635.8 L165.5 635.8 L166.0 635.8" fill="none" stroke="#ecc0c4" stroke-width="0.75"/><path d="M124.0 635.8 L124.5 635.8 L125.0 635.7 L125.5 635.6 L126.0 635.3 L126.5 634.7 L127.0 633.8 L127.5 632.3 L128.0 629.9 L128.5 626.9 L129.0 623.5 L129.5 619.9 L130.0 616.2 L130.5 612.5 L131.0 608.8 L131.5 605.4 L132.0 602.3 L132.5 599.4 L133.0 596.8 L133.5 594.6 L134.0 593.1 L134.5 592.0 L135.0 591.0 L135.5 590.2 L136.0 589.5 L136.5 588.7 L137.0 587.8 L137.5 587.1 L138.0 586.5 L138.5 586.5 L139.0 586.8 L139.5 587.4 L140.0 588.7 L140.5 591.3 L141.0 594.0 L141.5 596.4 L142.0 598.9 L142.5 601.3 L143.0 603.8 L143.5 606.3 L144.0 608.6 L144.5 610.6 L145.0 612.1 L145.5 613.4 L146.0 614.6 L146.5 615.8 L147.0 616.9 L147.5 618.1 L148.0 619.2 L148.5 620.2 L149.0 621.3 L149.5 622.3 L150.0 623.3 L150.5 624.2 L151.0 625.0 L151.5 625.9 L152.0 626.7 L152.5 627.5 L153.0 628.3 L153.5 629.0 L154.0 629.6 L154.5 630.2 L155.0 630.7 L155.5 631.2 L156.0 631.7 L156.5 632.1 L157.0 632.5 L157.5 632.9 L158.0 633.2 L158.5 633.5 L159.0 633.8 L159.5 634.1 L160.0 634.3 L160.5 634.5 L161.0 634.7 L161.5 634.9 L162.0 635.1 L162.5 635.2 L163.0 635.4 L163.5 635.5 L164.0 635.6 L164.5 635.6 L165.0 635.7 L165.5 635.8 L166.0 635.8" fill="none" stroke="#d06a72" stroke-width="0.75"/><path d="M124.0 635.8 L124.5 635.8 L125.0 635.8 L125.5 635.7 L126.0 635.5 L126.5 635.1 L127.0 634.7 L127.5 633.5 L128.0 631.1 L128.5 628.1 L129.0 624.8 L129.5 621.6 L130.0 618.4 L130.5 614.9 L131.0 611.4 L131.5 608.1 L132.0 605.1 L132.5 602.2 L133.0 599.4 L133.5 596.9 L134.0 595.0 L134.5 593.6 L135.0 592.4 L135.5 591.3 L136.0 590.3 L136.5 589.4 L137.0 588.5 L137.5 587.6 L138.0 586.8 L138.5 586.0 L139.0 585.2 L139.5 584.4 L140.0 584.4 L140.5 585.8 L141.0 587.7 L141.5 589.8 L142.0 592.3 L142.5 594.9 L143.0 597.8 L143.5 600.9 L144.0 603.8 L144.5 606.3 L145.0 608.2 L145.5 609.7 L146.0 611.0 L146.5 612.3 L147.0 613.6 L147.5 614.8 L148.0 616.0 L148.5 617.1 L149.0 618.3 L149.5 619.4 L150.0 620.4 L150.5 621.5 L151.0 622.4 L151.5 623.4 L152.0 624.3 L152.5 625.2 L153.0 626.1 L153.5 626.9 L154.0 627.7 L154.5 628.4 L155.0 629.0 L155.5 629.6 L156.0 630.1 L156.5 630.7 L157.0 631.1 L157.5 631.6 L158.0 632.0 L158.5 632.5 L159.0 632.8 L159.5 633.2 L160.0 633.5 L160.5 633.9 L161.0 634.2 L161.5 634.4 L162.0 634.7 L162.5 634.9 L163.0 635.1 L163.5 635.3 L164.0 635.4 L164.5 635.6 L165.0 635.7 L165.5 635.7 L166.0 635.8" fill="none" stroke="#a8343c" stroke-width="0.75"/><path d="M124.0 635.8 L124.5 635.7 L125.0 635.6 L125.5 635.4 L126.0 635.0 L126.5 634.0 L127.0 632.2 L127.5 629.9 L128.0 627.2 L128.5 624.5 L129.0 621.0 L129.5 616.5 L130.0 611.8 L130.5 607.5 L131.0 603.7 L131.5 600.0 L132.0 596.6 L132.5 593.8 L133.0 591.5 L133.5 589.8 L134.0 589.0 L134.5 588.6 L135.0 588.3 L135.5 588.0 L136.0 587.7 L136.5 587.2 L137.0 586.6 L137.5 586.1 L138.0 586.0 L138.5 587.5 L139.0 590.2 L139.5 593.4 L140.0 597.4 L140.5 602.5 L141.0 606.8 L141.5 609.8 L142.0 612.3 L142.5 614.4 L143.0 616.0 L143.5 617.3 L144.0 618.3 L144.5 619.2 L145.0 620.1 L145.5 620.9 L146.0 621.8 L146.5 622.8 L147.0 623.8 L147.5 624.7 L148.0 625.7 L148.5 626.6 L149.0 627.5 L149.5 628.3 L150.0 629.0 L150.5 629.7 L151.0 630.4 L151.5 631.0 L152.0 631.6 L152.5 632.2 L153.0 632.7 L153.5 633.1 L154.0 633.5 L154.5 633.9 L155.0 634.2 L155.5 634.6 L156.0 634.8 L156.5 635.1 L157.0 635.2 L157.5 635.4 L158.0 635.5 L158.5 635.6 L159.0 635.7 L159.5 635.8 L160.0 635.8 Z" fill="#7e7a7a" fill-opacity="0.88" stroke="#5a4a4a" stroke-width="0.5"/><rect x="121.30" y="579.20" width="66.60" height="56.60" fill="none" stroke="#111" stroke-width="1.1"/><line x1="119.30" y1="579.20" x2="121.30" y2="579.20" stroke="#111" stroke-width="0.9"/><text x="117.30" y="581.00" font-size="5.3" text-anchor="end" fill="#111" letter-spacing="-0.1">100%</text><line x1="119.30" y1="593.35" x2="121.30" y2="593.35" stroke="#111" stroke-width="0.9"/><text x="117.30" y="595.15" font-size="5.3" text-anchor="end" fill="#111" letter-spacing="-0.1">75%</text><line x1="119.30" y1="607.50" x2="121.30" y2="607.50" stroke="#111" stroke-width="0.9"/><text x="117.30" y="609.30" font-size="5.3" text-anchor="end" fill="#111" letter-spacing="-0.1">50%</text><line x1="119.30" y1="621.65" x2="121.30" y2="621.65" stroke="#111" stroke-width="0.9"/><text x="117.30" y="623.45" font-size="5.3" text-anchor="end" fill="#111" letter-spacing="-0.1">25%</text><line x1="128.60" y1="635.80" x2="128.60" y2="637.80" stroke="#111" stroke-width="0.8"/><text x="128.60" y="646.00" font-size="5.4" text-anchor="middle" fill="#111">0</text><line x1="146.30" y1="635.80" x2="146.30" y2="637.80" stroke="#111" stroke-width="0.8"/><text x="142.40" y="646.00" font-size="5.4" fill="#111">10<tspan font-size="3.24" dy="-2.16">3</tspan></text><line x1="163.80" y1="635.80" x2="163.80" y2="637.80" stroke="#111" stroke-width="0.8"/><text x="159.90" y="646.00" font-size="5.4" fill="#111">10<tspan font-size="3.24" dy="-2.16">4</tspan></text><line x1="180.50" y1="635.80" x2="180.50" y2="637.80" stroke="#111" stroke-width="0.8"/><text x="176.60" y="646.00" font-size="5.4" fill="#111">10<tspan font-size="3.24" dy="-2.16">5</tspan></text><path d="M133.9 635.8v1.3M137.1 635.8v1.3M139.2 635.8v1.3M141.0 635.8v1.3M142.4 635.8v1.3M143.6 635.8v1.3M144.5 635.8v1.3M145.4 635.8v1.3M151.6 635.8v1.3M154.7 635.8v1.3M156.8 635.8v1.3M158.6 635.8v1.3M160.0 635.8v1.3M161.2 635.8v1.3M162.1 635.8v1.3M162.9 635.8v1.3M168.8 635.8v1.3M171.8 635.8v1.3M173.8 635.8v1.3M175.5 635.8v1.3M176.8 635.8v1.3M178.0 635.8v1.3M178.8 635.8v1.3M179.7 635.8v1.3" stroke="#111" stroke-width="0.5"/><text x="121.90" y="574.20" font-size="8.7" text-anchor="start" fill="#111">MOLM-13</text><path d="M124.4 707.5 L124.9 707.4 L125.4 707.1 L125.9 706.6 L126.4 705.5 L126.9 704.0 L127.4 702.3 L127.9 700.6 L128.4 699.1 L128.9 697.4 L129.4 695.5 L129.9 693.2 L130.4 690.2 L130.9 686.3 L131.4 682.2 L131.9 678.1 L132.4 673.9 L132.9 669.5 L133.4 665.8 L133.9 663.1 L134.4 660.9 L134.9 659.1 L135.4 657.9 L135.9 656.9 L136.4 656.2 L136.9 656.1 L137.4 656.7 L137.9 657.7 L138.4 658.9 L138.9 660.9 L139.4 663.5 L139.9 666.5 L140.4 670.1 L140.9 674.2 L141.4 678.2 L141.9 682.0 L142.4 685.9 L142.9 689.2 L143.4 691.9 L143.9 694.1 L144.4 695.3 L144.9 696.1 L145.4 696.7 L145.9 697.2 L146.4 697.8 L146.9 698.5 L147.4 699.2 L147.9 699.9 L148.4 700.6 L148.9 701.2 L149.4 701.8 L149.9 702.3 L150.4 702.8 L150.9 703.3 L151.4 703.8 L151.9 704.2 L152.4 704.6 L152.9 705.0 L153.4 705.2 L153.9 705.4 L154.4 705.6 L154.9 705.8 L155.4 705.9 L155.9 706.0 L156.4 706.2 L156.9 706.3 L157.4 706.4 L157.9 706.5 L158.4 706.6 L158.9 706.8 L159.4 706.9 L159.9 707.0 L160.4 707.2 L160.9 707.3 L161.4 707.5" fill="none" stroke="#a0a4da" stroke-width="0.55"/><path d="M123.7 707.5 L124.2 707.4 L124.7 707.1 L125.2 706.6 L125.7 705.4 L126.2 703.9 L126.7 702.2 L127.2 700.6 L127.8 699.0 L128.3 697.3 L128.8 695.4 L129.3 693.0 L129.8 689.8 L130.3 685.9 L130.8 681.7 L131.3 677.7 L131.8 673.4 L132.3 669.1 L132.8 665.6 L133.3 663.1 L133.8 661.0 L134.3 659.4 L134.9 658.3 L135.4 657.3 L135.9 656.8 L136.4 657.0 L136.9 657.7 L137.4 658.8 L137.9 660.2 L138.4 662.5 L138.9 665.3 L139.4 668.5 L139.9 672.4 L140.4 676.5 L140.9 680.3 L141.4 684.3 L141.9 687.9 L142.5 690.8 L143.0 693.3 L143.5 695.0 L144.0 695.9 L144.5 696.6 L145.0 697.1 L145.5 697.7 L146.0 698.3 L146.5 699.0 L147.0 699.7 L147.5 700.4 L148.0 701.1 L148.5 701.7 L149.0 702.2 L149.5 702.7 L150.1 703.3 L150.6 703.7 L151.1 704.2 L151.6 704.6 L152.1 704.9 L152.6 705.2 L153.1 705.4 L153.6 705.6 L154.1 705.8 L154.6 705.9 L155.1 706.0 L155.6 706.2 L156.1 706.3 L156.6 706.4 L157.2 706.5 L157.7 706.6 L158.2 706.8 L158.7 706.9 L159.2 707.0 L159.7 707.2 L160.2 707.3 L160.7 707.5" fill="none" stroke="#5058b0" stroke-width="0.55"/><path d="M124.2 707.5 L124.7 707.4 L125.2 707.1 L125.7 706.5 L126.2 705.4 L126.7 703.9 L127.2 702.2 L127.7 700.5 L128.3 698.9 L128.8 697.2 L129.3 695.2 L129.8 692.9 L130.3 689.6 L130.8 685.7 L131.3 681.5 L131.8 677.4 L132.3 673.0 L132.8 668.7 L133.3 665.2 L133.8 662.7 L134.3 660.5 L134.8 658.9 L135.4 657.8 L135.9 656.8 L136.4 656.3 L136.9 656.5 L137.4 657.2 L137.9 658.3 L138.4 659.8 L138.9 662.1 L139.4 664.8 L139.9 668.1 L140.4 672.0 L140.9 676.1 L141.4 680.0 L141.9 684.0 L142.4 687.7 L143.0 690.7 L143.5 693.2 L144.0 694.9 L144.5 695.8 L145.0 696.5 L145.5 697.0 L146.0 697.6 L146.5 698.2 L147.0 698.9 L147.5 699.7 L148.0 700.4 L148.5 701.0 L149.0 701.6 L149.5 702.2 L150.0 702.7 L150.6 703.2 L151.1 703.7 L151.6 704.1 L152.1 704.6 L152.6 704.9 L153.1 705.2 L153.6 705.4 L154.1 705.6 L154.6 705.7 L155.1 705.9 L155.6 706.0 L156.1 706.2 L156.6 706.3 L157.1 706.4 L157.7 706.5 L158.2 706.6 L158.7 706.8 L159.2 706.9 L159.7 707.0 L160.2 707.2 L160.7 707.3 L161.2 707.5" fill="none" stroke="#2a2a7a" stroke-width="0.55"/><path d="M124.0 707.5 L124.5 707.4 L125.0 707.1 L125.5 706.6 L126.0 705.5 L126.5 704.0 L127.0 702.3 L127.5 700.7 L128.0 699.1 L128.5 697.5 L129.0 695.6 L129.5 693.3 L130.0 690.3 L130.5 686.5 L131.0 682.4 L131.5 678.4 L132.0 674.1 L132.5 669.8 L133.0 666.1 L133.5 663.5 L134.0 661.3 L134.5 659.5 L135.0 658.3 L135.5 657.3 L136.0 656.6 L136.5 656.5 L137.0 657.1 L137.5 658.1 L138.0 659.3 L138.5 661.3 L139.0 663.9 L139.5 666.8 L140.0 670.4 L140.5 674.4 L141.0 678.4 L141.5 682.2 L142.0 686.1 L142.5 689.4 L143.0 692.0 L143.5 694.2 L144.0 695.4 L144.5 696.2 L145.0 696.8 L145.5 697.3 L146.0 697.9 L146.5 698.5 L147.0 699.2 L147.5 699.9 L148.0 700.6 L148.5 701.3 L149.0 701.8 L149.5 702.4 L150.0 702.9 L150.5 703.4 L151.0 703.8 L151.5 704.3 L152.0 704.7 L152.5 705.0 L153.0 705.2 L153.5 705.4 L154.0 705.6 L154.5 705.8 L155.0 705.9 L155.5 706.1 L156.0 706.2 L156.5 706.3 L157.0 706.4 L157.5 706.5 L158.0 706.6 L158.5 706.8 L159.0 706.9 L159.5 707.0 L160.0 707.2 L160.5 707.3 L161.0 707.5 Z" fill="#8a8a8a" fill-opacity="0.92" stroke="#34343e" stroke-width="0.6"/><rect x="121.30" y="650.80" width="66.60" height="56.70" fill="none" stroke="#111" stroke-width="1.1"/><line x1="119.30" y1="650.80" x2="121.30" y2="650.80" stroke="#111" stroke-width="0.9"/><text x="117.30" y="652.60" font-size="5.3" text-anchor="end" fill="#111" letter-spacing="-0.1">100%</text><line x1="119.30" y1="664.97" x2="121.30" y2="664.97" stroke="#111" stroke-width="0.9"/><text x="117.30" y="666.77" font-size="5.3" text-anchor="end" fill="#111" letter-spacing="-0.1">75%</text><line x1="119.30" y1="679.15" x2="121.30" y2="679.15" stroke="#111" stroke-width="0.9"/><text x="117.30" y="680.95" font-size="5.3" text-anchor="end" fill="#111" letter-spacing="-0.1">50%</text><line x1="119.30" y1="693.33" x2="121.30" y2="693.33" stroke="#111" stroke-width="0.9"/><text x="117.30" y="695.12" font-size="5.3" text-anchor="end" fill="#111" letter-spacing="-0.1">25%</text><line x1="128.60" y1="707.50" x2="128.60" y2="709.50" stroke="#111" stroke-width="0.8"/><text x="128.60" y="717.70" font-size="5.4" text-anchor="middle" fill="#111">0</text><line x1="146.30" y1="707.50" x2="146.30" y2="709.50" stroke="#111" stroke-width="0.8"/><text x="142.40" y="717.70" font-size="5.4" fill="#111">10<tspan font-size="3.24" dy="-2.16">3</tspan></text><line x1="163.80" y1="707.50" x2="163.80" y2="709.50" stroke="#111" stroke-width="0.8"/><text x="159.90" y="717.70" font-size="5.4" fill="#111">10<tspan font-size="3.24" dy="-2.16">4</tspan></text><line x1="180.50" y1="707.50" x2="180.50" y2="709.50" stroke="#111" stroke-width="0.8"/><text x="176.60" y="717.70" font-size="5.4" fill="#111">10<tspan font-size="3.24" dy="-2.16">5</tspan></text><path d="M133.9 707.5v1.3M137.1 707.5v1.3M139.2 707.5v1.3M141.0 707.5v1.3M142.4 707.5v1.3M143.6 707.5v1.3M144.5 707.5v1.3M145.4 707.5v1.3M151.6 707.5v1.3M154.7 707.5v1.3M156.8 707.5v1.3M158.6 707.5v1.3M160.0 707.5v1.3M161.2 707.5v1.3M162.1 707.5v1.3M162.9 707.5v1.3M168.8 707.5v1.3M171.8 707.5v1.3M173.8 707.5v1.3M175.5 707.5v1.3M176.8 707.5v1.3M178.0 707.5v1.3M178.8 707.5v1.3M179.7 707.5v1.3" stroke="#111" stroke-width="0.5"/><path d="M236.0 635.8 L236.5 635.8 L237.0 635.7 L237.5 635.6 L238.0 635.4 L238.5 635.1 L239.0 634.7 L239.5 634.2 L240.0 633.5 L240.5 632.7 L241.0 631.9 L241.5 630.9 L242.0 629.8 L242.5 628.6 L243.0 627.1 L243.5 625.3 L244.0 623.3 L244.5 620.8 L245.0 617.5 L245.5 613.6 L246.0 609.6 L246.5 605.4 L247.0 601.3 L247.5 597.7 L248.0 594.6 L248.5 592.0 L249.0 589.8 L249.5 588.1 L250.0 586.5 L250.5 585.4 L251.0 585.0 L251.5 585.1 L252.0 585.5 L252.5 586.3 L253.0 587.8 L253.5 589.9 L254.0 593.1 L254.5 598.5 L255.0 603.6 L255.5 608.4 L256.0 613.0 L256.5 616.8 L257.0 620.0 L257.5 623.0 L258.0 625.5 L258.5 627.4 L259.0 629.0 L259.5 630.5 L260.0 631.8 L260.5 632.8 L261.0 633.4 L261.5 634.0 L262.0 634.5 L262.5 634.9 L263.0 635.2 L263.5 635.5 L264.0 635.6 L264.5 635.7 L265.0 635.7 L265.5 635.8 L266.0 635.8" fill="none" stroke="#ecc0c4" stroke-width="0.75"/><path d="M236.0 635.8 L236.5 635.8 L237.0 635.7 L237.5 635.7 L238.0 635.5 L238.5 635.3 L239.0 635.0 L239.5 634.5 L240.0 634.0 L240.5 633.3 L241.0 632.5 L241.5 631.6 L242.0 630.5 L242.5 629.4 L243.0 628.0 L243.5 626.4 L244.0 624.5 L244.5 622.3 L245.0 619.6 L245.5 616.2 L246.0 612.4 L246.5 608.4 L247.0 604.4 L247.5 600.7 L248.0 597.3 L248.5 594.2 L249.0 591.6 L249.5 589.5 L250.0 587.6 L250.5 586.1 L251.0 585.2 L251.5 584.6 L252.0 584.4 L252.5 584.8 L253.0 585.9 L253.5 587.6 L254.0 590.2 L254.5 594.4 L255.0 598.9 L255.5 603.4 L256.0 608.1 L256.5 612.2 L257.0 615.7 L257.5 618.9 L258.0 621.8 L258.5 624.3 L259.0 626.5 L259.5 628.6 L260.0 630.4 L260.5 631.7 L261.0 632.6 L261.5 633.3 L262.0 634.0 L262.5 634.5 L263.0 634.9 L263.5 635.2 L264.0 635.4 L264.5 635.6 L265.0 635.7 L265.5 635.8 L266.0 635.8" fill="none" stroke="#d06a72" stroke-width="0.75"/><path d="M236.0 635.8 L236.5 635.8 L237.0 635.8 L237.5 635.8 L238.0 635.6 L238.5 635.4 L239.0 635.2 L239.5 634.9 L240.0 634.4 L240.5 633.8 L241.0 633.0 L241.5 632.2 L242.0 631.3 L242.5 630.2 L243.0 629.0 L243.5 627.5 L244.0 625.7 L244.5 623.8 L245.0 621.6 L245.5 618.8 L246.0 615.2 L246.5 611.3 L247.0 607.5 L247.5 603.8 L248.0 599.9 L248.5 596.3 L249.0 593.4 L249.5 590.9 L250.0 588.7 L250.5 586.9 L251.0 585.5 L251.5 584.2 L252.0 583.3 L252.5 583.2 L253.0 584.0 L253.5 585.4 L254.0 587.3 L254.5 590.4 L255.0 594.1 L255.5 598.4 L256.0 603.2 L256.5 607.5 L257.0 611.3 L257.5 614.8 L258.0 618.1 L258.5 621.1 L259.0 623.9 L259.5 626.7 L260.0 629.1 L260.5 630.7 L261.0 631.7 L261.5 632.7 L262.0 633.4 L262.5 634.1 L263.0 634.6 L263.5 635.0 L264.0 635.3 L264.5 635.5 L265.0 635.6 L265.5 635.8 L266.0 635.8" fill="none" stroke="#a8343c" stroke-width="0.75"/><path d="M236.0 635.8 L236.5 635.8 L237.0 635.6 L237.5 635.4 L238.0 635.2 L238.5 634.9 L239.0 634.4 L239.5 633.8 L240.0 633.0 L240.5 632.2 L241.0 631.3 L241.5 630.3 L242.0 629.1 L242.5 627.7 L243.0 626.1 L243.5 624.2 L244.0 622.1 L244.5 619.3 L245.0 615.3 L245.5 610.9 L246.0 606.7 L246.5 602.4 L247.0 598.1 L247.5 594.5 L248.0 591.9 L248.5 589.7 L249.0 587.9 L249.5 586.6 L250.0 585.4 L250.5 584.7 L251.0 584.7 L251.5 585.5 L252.0 586.6 L252.5 587.9 L253.0 589.7 L253.5 592.2 L254.0 596.0 L254.5 602.6 L255.0 608.5 L255.5 613.5 L256.0 618.0 L256.5 621.6 L257.0 624.6 L257.5 627.2 L258.0 629.3 L258.5 630.7 L259.0 631.6 L259.5 632.5 L260.0 633.2 L260.5 633.8 L261.0 634.3 L261.5 634.7 L262.0 635.1 L262.5 635.3 L263.0 635.5 L263.5 635.7 L264.0 635.8 Z" fill="#7e7a7a" fill-opacity="0.88" stroke="#5a4a4a" stroke-width="0.5"/><rect x="207.90" y="579.20" width="66.30" height="56.60" fill="none" stroke="#111" stroke-width="1.1"/><line x1="205.90" y1="579.20" x2="207.90" y2="579.20" stroke="#111" stroke-width="0.9"/><text x="203.90" y="581.00" font-size="5.3" text-anchor="end" fill="#111" letter-spacing="-0.1">100%</text><line x1="205.90" y1="593.35" x2="207.90" y2="593.35" stroke="#111" stroke-width="0.9"/><text x="203.90" y="595.15" font-size="5.3" text-anchor="end" fill="#111" letter-spacing="-0.1">75%</text><line x1="205.90" y1="607.50" x2="207.90" y2="607.50" stroke="#111" stroke-width="0.9"/><text x="203.90" y="609.30" font-size="5.3" text-anchor="end" fill="#111" letter-spacing="-0.1">50%</text><line x1="205.90" y1="621.65" x2="207.90" y2="621.65" stroke="#111" stroke-width="0.9"/><text x="203.90" y="623.45" font-size="5.3" text-anchor="end" fill="#111" letter-spacing="-0.1">25%</text><line x1="215.20" y1="635.80" x2="215.20" y2="637.80" stroke="#111" stroke-width="0.8"/><text x="215.20" y="646.00" font-size="5.4" text-anchor="middle" fill="#111">0</text><line x1="232.90" y1="635.80" x2="232.90" y2="637.80" stroke="#111" stroke-width="0.8"/><text x="229.00" y="646.00" font-size="5.4" fill="#111">10<tspan font-size="3.24" dy="-2.16">3</tspan></text><line x1="250.40" y1="635.80" x2="250.40" y2="637.80" stroke="#111" stroke-width="0.8"/><text x="246.50" y="646.00" font-size="5.4" fill="#111">10<tspan font-size="3.24" dy="-2.16">4</tspan></text><line x1="267.10" y1="635.80" x2="267.10" y2="637.80" stroke="#111" stroke-width="0.8"/><text x="263.20" y="646.00" font-size="5.4" fill="#111">10<tspan font-size="3.24" dy="-2.16">5</tspan></text><path d="M220.5 635.8v1.3M223.7 635.8v1.3M225.8 635.8v1.3M227.6 635.8v1.3M229.0 635.8v1.3M230.2 635.8v1.3M231.1 635.8v1.3M232.0 635.8v1.3M238.2 635.8v1.3M241.3 635.8v1.3M243.4 635.8v1.3M245.2 635.8v1.3M246.6 635.8v1.3M247.8 635.8v1.3M248.7 635.8v1.3M249.5 635.8v1.3M255.4 635.8v1.3M258.4 635.8v1.3M260.4 635.8v1.3M262.1 635.8v1.3M263.4 635.8v1.3M264.6 635.8v1.3M265.4 635.8v1.3M266.3 635.8v1.3" stroke="#111" stroke-width="0.5"/><text x="208.50" y="574.20" font-size="8.7" text-anchor="start" fill="#111">THP-1</text><path d="M235.9 707.5 L236.4 707.3 L236.9 707.1 L237.4 706.9 L237.9 706.5 L238.4 706.2 L239.0 705.7 L239.5 705.2 L240.0 704.7 L240.5 704.1 L241.0 703.4 L241.5 702.6 L242.0 701.7 L242.5 700.7 L243.0 699.5 L243.5 698.2 L244.0 696.7 L244.6 694.9 L245.1 693.0 L245.6 689.9 L246.1 685.8 L246.6 681.4 L247.1 677.4 L247.6 673.5 L248.1 669.6 L248.6 665.9 L249.1 662.3 L249.6 659.0 L250.1 656.6 L250.7 654.6 L251.2 653.8 L251.7 655.0 L252.2 657.1 L252.7 659.8 L253.2 663.2 L253.7 667.0 L254.2 671.3 L254.7 675.8 L255.2 680.1 L255.7 684.4 L256.3 688.6 L256.8 692.4 L257.3 695.5 L257.8 698.5 L258.3 701.0 L258.8 702.7 L259.3 703.6 L259.8 704.4 L260.3 705.1 L260.8 705.6 L261.3 706.1 L261.9 706.4 L262.4 706.8 L262.9 707.0 L263.4 707.2 L263.9 707.4 L264.4 707.5" fill="none" stroke="#a0a4da" stroke-width="0.55"/><path d="M235.2 707.5 L235.7 707.3 L236.2 707.1 L236.7 706.9 L237.2 706.6 L237.7 706.2 L238.2 705.8 L238.7 705.3 L239.2 704.8 L239.7 704.2 L240.2 703.6 L240.7 702.8 L241.2 702.0 L241.7 701.0 L242.2 699.9 L242.7 698.7 L243.2 697.2 L243.7 695.6 L244.2 693.8 L244.7 691.3 L245.2 687.6 L245.7 683.4 L246.2 679.3 L246.7 675.5 L247.2 671.7 L247.7 668.0 L248.2 664.6 L248.7 661.2 L249.2 658.3 L249.7 656.2 L250.2 654.7 L250.7 654.9 L251.2 656.6 L251.7 658.8 L252.2 661.8 L252.7 665.2 L253.2 669.1 L253.7 673.4 L254.2 677.7 L254.7 681.8 L255.2 686.0 L255.7 690.0 L256.2 693.4 L256.7 696.4 L257.2 699.2 L257.7 701.5 L258.2 703.0 L258.7 703.8 L259.2 704.6 L259.7 705.2 L260.2 705.7 L260.7 706.1 L261.2 706.5 L261.7 706.8 L262.2 707.0 L262.7 707.2 L263.2 707.4 L263.7 707.5" fill="none" stroke="#5058b0" stroke-width="0.55"/><path d="M235.7 707.5 L236.2 707.3 L236.7 707.1 L237.2 706.9 L237.7 706.6 L238.2 706.2 L238.7 705.8 L239.2 705.3 L239.7 704.8 L240.2 704.2 L240.7 703.5 L241.2 702.8 L241.7 701.9 L242.2 701.0 L242.7 699.9 L243.2 698.6 L243.7 697.1 L244.2 695.5 L244.7 693.7 L245.2 691.1 L245.7 687.4 L246.2 683.1 L246.7 679.0 L247.2 675.2 L247.7 671.4 L248.2 667.6 L248.7 664.1 L249.2 660.7 L249.7 657.8 L250.2 655.7 L250.7 654.2 L251.2 654.4 L251.7 656.1 L252.2 658.3 L252.7 661.3 L253.2 664.8 L253.7 668.7 L254.2 673.0 L254.7 677.4 L255.2 681.5 L255.7 685.8 L256.2 689.8 L256.7 693.3 L257.2 696.3 L257.7 699.2 L258.2 701.5 L258.7 702.9 L259.2 703.8 L259.7 704.5 L260.2 705.2 L260.7 705.7 L261.2 706.1 L261.7 706.5 L262.2 706.8 L262.7 707.0 L263.2 707.2 L263.7 707.4 L264.2 707.5" fill="none" stroke="#2a2a7a" stroke-width="0.55"/><path d="M235.5 707.5 L236.0 707.3 L236.5 707.1 L237.0 706.9 L237.5 706.6 L238.0 706.2 L238.5 705.8 L239.0 705.3 L239.5 704.8 L240.0 704.2 L240.5 703.5 L241.0 702.8 L241.5 702.0 L242.0 701.0 L242.5 699.9 L243.0 698.6 L243.5 697.2 L244.0 695.6 L244.5 693.7 L245.0 691.2 L245.5 687.5 L246.0 683.2 L246.5 679.1 L247.0 675.3 L247.5 671.5 L248.0 667.8 L248.5 664.3 L249.0 660.9 L249.5 658.0 L250.0 655.9 L250.5 654.4 L251.0 654.6 L251.5 656.3 L252.0 658.5 L252.5 661.5 L253.0 665.0 L253.5 668.8 L254.0 673.1 L254.5 677.5 L255.0 681.6 L255.5 685.9 L256.0 689.9 L256.5 693.3 L257.0 696.3 L257.5 699.2 L258.0 701.5 L258.5 703.0 L259.0 703.8 L259.5 704.6 L260.0 705.2 L260.5 705.7 L261.0 706.1 L261.5 706.5 L262.0 706.8 L262.5 707.0 L263.0 707.2 L263.5 707.4 L264.0 707.5 Z" fill="#8a8a8a" fill-opacity="0.92" stroke="#34343e" stroke-width="0.6"/><rect x="207.90" y="650.80" width="66.30" height="56.70" fill="none" stroke="#111" stroke-width="1.1"/><line x1="205.90" y1="650.80" x2="207.90" y2="650.80" stroke="#111" stroke-width="0.9"/><text x="203.90" y="652.60" font-size="5.3" text-anchor="end" fill="#111" letter-spacing="-0.1">100%</text><line x1="205.90" y1="664.97" x2="207.90" y2="664.97" stroke="#111" stroke-width="0.9"/><text x="203.90" y="666.77" font-size="5.3" text-anchor="end" fill="#111" letter-spacing="-0.1">75%</text><line x1="205.90" y1="679.15" x2="207.90" y2="679.15" stroke="#111" stroke-width="0.9"/><text x="203.90" y="680.95" font-size="5.3" text-anchor="end" fill="#111" letter-spacing="-0.1">50%</text><line x1="205.90" y1="693.33" x2="207.90" y2="693.33" stroke="#111" stroke-width="0.9"/><text x="203.90" y="695.12" font-size="5.3" text-anchor="end" fill="#111" letter-spacing="-0.1">25%</text><line x1="215.20" y1="707.50" x2="215.20" y2="709.50" stroke="#111" stroke-width="0.8"/><text x="215.20" y="717.70" font-size="5.4" text-anchor="middle" fill="#111">0</text><line x1="232.90" y1="707.50" x2="232.90" y2="709.50" stroke="#111" stroke-width="0.8"/><text x="229.00" y="717.70" font-size="5.4" fill="#111">10<tspan font-size="3.24" dy="-2.16">3</tspan></text><line x1="250.40" y1="707.50" x2="250.40" y2="709.50" stroke="#111" stroke-width="0.8"/><text x="246.50" y="717.70" font-size="5.4" fill="#111">10<tspan font-size="3.24" dy="-2.16">4</tspan></text><line x1="267.10" y1="707.50" x2="267.10" y2="709.50" stroke="#111" stroke-width="0.8"/><text x="263.20" y="717.70" font-size="5.4" fill="#111">10<tspan font-size="3.24" dy="-2.16">5</tspan></text><path d="M220.5 707.5v1.3M223.7 707.5v1.3M225.8 707.5v1.3M227.6 707.5v1.3M229.0 707.5v1.3M230.2 707.5v1.3M231.1 707.5v1.3M232.0 707.5v1.3M238.2 707.5v1.3M241.3 707.5v1.3M243.4 707.5v1.3M245.2 707.5v1.3M246.6 707.5v1.3M247.8 707.5v1.3M248.7 707.5v1.3M249.5 707.5v1.3M255.4 707.5v1.3M258.4 707.5v1.3M260.4 707.5v1.3M262.1 707.5v1.3M263.4 707.5v1.3M264.6 707.5v1.3M265.4 707.5v1.3M266.3 707.5v1.3" stroke="#111" stroke-width="0.5"/><path d="M309.0 635.8 L309.5 635.8 L310.0 635.7 L310.5 635.6 L311.0 635.4 L311.5 635.2 L312.0 635.0 L312.5 634.6 L313.0 634.2 L313.5 633.8 L314.0 633.3 L314.5 632.8 L315.0 632.2 L315.5 631.5 L316.0 630.7 L316.5 629.9 L317.0 628.9 L317.5 627.9 L318.0 626.8 L318.5 625.6 L319.0 624.3 L319.5 622.8 L320.0 621.2 L320.5 619.5 L321.0 617.7 L321.5 615.8 L322.0 613.9 L322.5 611.9 L323.0 609.7 L323.5 607.5 L324.0 605.3 L324.5 603.3 L325.0 601.3 L325.5 599.4 L326.0 597.6 L326.5 596.1 L327.0 594.8 L327.5 593.6 L328.0 592.6 L328.5 591.7 L329.0 591.1 L329.5 590.6 L330.0 590.3 L330.5 590.0 L331.0 589.9 L331.5 590.0 L332.0 590.3 L332.5 590.7 L333.0 591.4 L333.5 592.2 L334.0 593.2 L334.5 594.5 L335.0 596.1 L335.5 597.8 L336.0 599.5 L336.5 601.2 L337.0 602.9 L337.5 604.6 L338.0 606.4 L338.5 608.3 L339.0 610.3 L339.5 612.6 L340.0 615.1 L340.5 617.7 L341.0 620.3 L341.5 622.8 L342.0 624.9 L342.5 626.9 L343.0 628.8 L343.5 630.4 L344.0 631.8 L344.5 633.1 L345.0 634.0 L345.5 634.5 L346.0 635.0 L346.5 635.3 L347.0 635.5 L347.5 635.6 L348.0 635.7 L348.5 635.8 L349.0 635.8" fill="none" stroke="#ecc0c4" stroke-width="0.75"/><path d="M309.0 635.8 L309.5 635.8 L310.0 635.7 L310.5 635.7 L311.0 635.6 L311.5 635.5 L312.0 635.4 L312.5 635.2 L313.0 635.0 L313.5 634.8 L314.0 634.6 L314.5 634.3 L315.0 633.9 L315.5 633.5 L316.0 633.0 L316.5 632.4 L317.0 631.8 L317.5 631.1 L318.0 630.3 L318.5 629.4 L319.0 628.4 L319.5 627.4 L320.0 626.2 L320.5 625.0 L321.0 623.6 L321.5 622.1 L322.0 620.6 L322.5 618.9 L323.0 617.1 L323.5 615.3 L324.0 613.5 L324.5 611.7 L325.0 609.8 L325.5 608.0 L326.0 606.1 L326.5 604.3 L327.0 602.6 L327.5 601.0 L328.0 599.4 L328.5 597.8 L329.0 596.3 L329.5 594.8 L330.0 593.5 L330.5 592.3 L331.0 591.3 L331.5 590.4 L332.0 589.7 L332.5 589.3 L333.0 589.1 L333.5 589.1 L334.0 589.2 L334.5 589.7 L335.0 590.6 L335.5 591.7 L336.0 593.0 L336.5 594.4 L337.0 595.7 L337.5 597.1 L338.0 598.7 L338.5 600.5 L339.0 602.5 L339.5 605.0 L340.0 607.9 L340.5 611.0 L341.0 613.9 L341.5 616.7 L342.0 619.4 L342.5 621.9 L343.0 624.3 L343.5 626.6 L344.0 628.8 L344.5 630.9 L345.0 632.3 L345.5 633.3 L346.0 634.1 L346.5 634.8 L347.0 635.3 L347.5 635.5 L348.0 635.6 L348.5 635.8 L349.0 635.8" fill="none" stroke="#d06a72" stroke-width="0.75"/><path d="M309.0 635.8 L309.5 635.8 L310.0 635.8 L310.5 635.8 L311.0 635.8 L311.5 635.8 L312.0 635.8 L312.5 635.8 L313.0 635.8 L313.5 635.8 L314.0 635.8 L314.5 635.7 L315.0 635.6 L315.5 635.4 L316.0 635.2 L316.5 635.0 L317.0 634.6 L317.5 634.2 L318.0 633.7 L318.5 633.2 L319.0 632.6 L319.5 632.0 L320.0 631.3 L320.5 630.5 L321.0 629.5 L321.5 628.4 L322.0 627.2 L322.5 625.9 L323.0 624.6 L323.5 623.1 L324.0 621.6 L324.5 620.1 L325.0 618.4 L325.5 616.5 L326.0 614.5 L326.5 612.5 L327.0 610.4 L327.5 608.3 L328.0 606.2 L328.5 603.9 L329.0 601.5 L329.5 599.0 L330.0 596.7 L330.5 594.5 L331.0 592.6 L331.5 590.8 L332.0 589.2 L332.5 587.9 L333.0 586.9 L333.5 586.0 L334.0 585.2 L334.5 584.9 L335.0 585.0 L335.5 585.7 L336.0 586.5 L336.5 587.5 L337.0 588.5 L337.5 589.6 L338.0 591.0 L338.5 592.6 L339.0 594.6 L339.5 597.4 L340.0 600.8 L340.5 604.2 L341.0 607.5 L341.5 610.6 L342.0 613.8 L342.5 616.9 L343.0 619.9 L343.5 622.8 L344.0 625.9 L344.5 628.7 L345.0 630.7 L345.5 632.1 L346.0 633.3 L346.5 634.3 L347.0 635.0 L347.5 635.3 L348.0 635.6 L348.5 635.7 L349.0 635.8" fill="none" stroke="#a8343c" stroke-width="0.75"/><path d="M309.0 635.8 L309.5 635.8 L310.0 635.6 L310.5 635.4 L311.0 635.2 L311.5 635.0 L312.0 634.5 L312.5 634.0 L313.0 633.4 L313.5 632.7 L314.0 632.0 L314.5 631.3 L315.0 630.4 L315.5 629.5 L316.0 628.4 L316.5 627.2 L317.0 626.0 L317.5 624.6 L318.0 623.2 L318.5 621.6 L319.0 620.0 L319.5 618.1 L320.0 616.0 L320.5 613.9 L321.0 611.6 L321.5 609.3 L322.0 607.0 L322.5 604.6 L323.0 602.0 L323.5 599.4 L324.0 596.9 L324.5 594.6 L325.0 592.6 L325.5 590.6 L326.0 588.9 L326.5 587.7 L327.0 586.8 L327.5 586.0 L328.0 585.5 L328.5 585.5 L329.0 585.8 L329.5 586.3 L330.0 587.0 L330.5 587.7 L331.0 588.5 L331.5 589.6 L332.0 590.8 L332.5 592.2 L333.0 593.7 L333.5 595.4 L334.0 597.3 L334.5 599.5 L335.0 601.8 L335.5 604.0 L336.0 606.2 L336.5 608.3 L337.0 610.4 L337.5 612.4 L338.0 614.4 L338.5 616.4 L339.0 618.4 L339.5 620.4 L340.0 622.5 L340.5 624.7 L341.0 627.0 L341.5 629.0 L342.0 630.7 L342.5 632.1 L343.0 633.3 L343.5 634.3 L344.0 634.9 L344.5 635.3 L345.0 635.7 L345.5 635.8 Z" fill="#7e7a7a" fill-opacity="0.88" stroke="#5a4a4a" stroke-width="0.5"/><rect x="294.20" y="579.20" width="66.60" height="56.60" fill="none" stroke="#111" stroke-width="1.1"/><line x1="292.20" y1="579.20" x2="294.20" y2="579.20" stroke="#111" stroke-width="0.9"/><text x="290.20" y="581.00" font-size="5.3" text-anchor="end" fill="#111" letter-spacing="-0.1">100%</text><line x1="292.20" y1="593.35" x2="294.20" y2="593.35" stroke="#111" stroke-width="0.9"/><text x="290.20" y="595.15" font-size="5.3" text-anchor="end" fill="#111" letter-spacing="-0.1">75%</text><line x1="292.20" y1="607.50" x2="294.20" y2="607.50" stroke="#111" stroke-width="0.9"/><text x="290.20" y="609.30" font-size="5.3" text-anchor="end" fill="#111" letter-spacing="-0.1">50%</text><line x1="292.20" y1="621.65" x2="294.20" y2="621.65" stroke="#111" stroke-width="0.9"/><text x="290.20" y="623.45" font-size="5.3" text-anchor="end" fill="#111" letter-spacing="-0.1">25%</text><line x1="301.50" y1="635.80" x2="301.50" y2="637.80" stroke="#111" stroke-width="0.8"/><text x="301.50" y="646.00" font-size="5.4" text-anchor="middle" fill="#111">0</text><line x1="319.20" y1="635.80" x2="319.20" y2="637.80" stroke="#111" stroke-width="0.8"/><text x="315.30" y="646.00" font-size="5.4" fill="#111">10<tspan font-size="3.24" dy="-2.16">3</tspan></text><line x1="336.70" y1="635.80" x2="336.70" y2="637.80" stroke="#111" stroke-width="0.8"/><text x="332.80" y="646.00" font-size="5.4" fill="#111">10<tspan font-size="3.24" dy="-2.16">4</tspan></text><line x1="353.40" y1="635.80" x2="353.40" y2="637.80" stroke="#111" stroke-width="0.8"/><text x="349.50" y="646.00" font-size="5.4" fill="#111">10<tspan font-size="3.24" dy="-2.16">5</tspan></text><path d="M306.8 635.8v1.3M310.0 635.8v1.3M312.1 635.8v1.3M313.9 635.8v1.3M315.3 635.8v1.3M316.5 635.8v1.3M317.4 635.8v1.3M318.3 635.8v1.3M324.4 635.8v1.3M327.6 635.8v1.3M329.7 635.8v1.3M331.4 635.8v1.3M332.8 635.8v1.3M334.1 635.8v1.3M334.9 635.8v1.3M335.8 635.8v1.3M341.7 635.8v1.3M344.7 635.8v1.3M346.7 635.8v1.3M348.4 635.8v1.3M349.7 635.8v1.3M350.9 635.8v1.3M351.7 635.8v1.3M352.6 635.8v1.3" stroke="#111" stroke-width="0.5"/><text x="294.80" y="574.20" font-size="8.7" text-anchor="start" fill="#111">SHI-1</text><path d="M309.9 707.5 L310.4 707.4 L310.9 707.2 L311.4 706.9 L311.9 706.6 L312.4 706.1 L312.9 705.6 L313.4 705.0 L313.9 704.3 L314.4 703.5 L314.9 702.6 L315.4 701.6 L315.9 700.4 L316.4 699.0 L316.9 697.6 L317.4 696.1 L317.9 694.5 L318.4 692.9 L318.9 691.1 L319.4 689.1 L319.9 687.0 L320.4 684.8 L320.9 682.6 L321.4 680.3 L321.9 678.0 L322.4 675.4 L322.9 672.7 L323.4 670.0 L323.9 667.5 L324.4 665.3 L324.9 663.7 L325.4 662.2 L325.9 660.8 L326.4 659.7 L326.9 658.9 L327.4 658.3 L327.9 657.8 L328.4 657.3 L328.9 656.9 L329.4 656.7 L329.9 656.6 L330.4 656.9 L330.9 657.4 L331.4 658.1 L331.9 658.9 L332.4 659.9 L332.9 661.3 L333.4 662.9 L333.9 664.6 L334.4 666.4 L334.9 668.4 L335.4 670.6 L335.9 672.8 L336.4 675.0 L336.9 677.2 L337.4 679.3 L337.9 681.4 L338.4 683.5 L338.9 685.6 L339.4 687.6 L339.9 689.6 L340.4 691.6 L340.9 693.6 L341.4 695.7 L341.9 697.8 L342.4 699.8 L342.9 701.6 L343.4 702.9 L343.9 704.0 L344.4 704.9 L344.9 705.7 L345.4 706.4 L345.9 706.9 L346.4 707.2 L346.9 707.4 L347.4 707.5" fill="none" stroke="#a0a4da" stroke-width="0.55"/><path d="M309.2 707.5 L309.7 707.4 L310.2 707.2 L310.7 706.9 L311.2 706.6 L311.7 706.2 L312.2 705.6 L312.7 705.0 L313.2 704.3 L313.7 703.6 L314.2 702.7 L314.7 701.7 L315.2 700.5 L315.7 699.2 L316.2 697.7 L316.7 696.2 L317.2 694.7 L317.7 693.1 L318.2 691.3 L318.7 689.4 L319.2 687.3 L319.7 685.2 L320.2 682.9 L320.7 680.7 L321.2 678.4 L321.7 675.9 L322.2 673.2 L322.7 670.5 L323.2 668.0 L323.7 665.9 L324.2 664.3 L324.7 662.8 L325.2 661.5 L325.7 660.4 L326.2 659.6 L326.7 659.0 L327.2 658.5 L327.7 658.0 L328.2 657.6 L328.7 657.4 L329.2 657.3 L329.7 657.6 L330.2 658.1 L330.7 658.8 L331.2 659.6 L331.7 660.6 L332.2 662.0 L332.7 663.6 L333.2 665.2 L333.7 667.0 L334.2 669.0 L334.7 671.1 L335.2 673.3 L335.7 675.5 L336.2 677.6 L336.7 679.7 L337.2 681.8 L337.7 683.8 L338.2 685.9 L338.7 687.9 L339.2 689.9 L339.7 691.9 L340.2 693.8 L340.7 695.8 L341.2 697.9 L341.7 699.9 L342.2 701.7 L342.7 703.0 L343.2 704.0 L343.7 705.0 L344.2 705.8 L344.7 706.4 L345.2 706.9 L345.7 707.2 L346.2 707.4 L346.7 707.5" fill="none" stroke="#5058b0" stroke-width="0.55"/><path d="M309.7 707.5 L310.2 707.4 L310.7 707.2 L311.2 706.9 L311.7 706.6 L312.2 706.2 L312.7 705.6 L313.2 705.0 L313.7 704.3 L314.2 703.5 L314.7 702.6 L315.2 701.6 L315.7 700.4 L316.2 699.1 L316.7 697.6 L317.2 696.1 L317.7 694.6 L318.2 692.9 L318.7 691.2 L319.2 689.2 L319.7 687.1 L320.2 684.9 L320.7 682.7 L321.2 680.4 L321.7 678.1 L322.2 675.5 L322.7 672.8 L323.2 670.1 L323.7 667.6 L324.2 665.5 L324.7 663.8 L325.2 662.3 L325.7 661.0 L326.2 659.9 L326.7 659.1 L327.2 658.5 L327.7 658.0 L328.2 657.5 L328.7 657.1 L329.2 656.9 L329.7 656.8 L330.2 657.1 L330.7 657.6 L331.2 658.3 L331.7 659.1 L332.2 660.1 L332.7 661.5 L333.2 663.1 L333.7 664.8 L334.2 666.6 L334.7 668.6 L335.2 670.7 L335.7 672.9 L336.2 675.1 L336.7 677.3 L337.2 679.4 L337.7 681.5 L338.2 683.6 L338.7 685.6 L339.2 687.7 L339.7 689.7 L340.2 691.7 L340.7 693.7 L341.2 695.7 L341.7 697.8 L342.2 699.8 L342.7 701.6 L343.2 702.9 L343.7 704.0 L344.2 704.9 L344.7 705.8 L345.2 706.4 L345.7 706.9 L346.2 707.2 L346.7 707.4 L347.2 707.5" fill="none" stroke="#2a2a7a" stroke-width="0.55"/><path d="M309.5 707.5 L310.0 707.4 L310.5 707.2 L311.0 706.9 L311.5 706.6 L312.0 706.2 L312.5 705.6 L313.0 705.0 L313.5 704.3 L314.0 703.5 L314.5 702.7 L315.0 701.6 L315.5 700.4 L316.0 699.1 L316.5 697.7 L317.0 696.2 L317.5 694.6 L318.0 693.0 L318.5 691.2 L319.0 689.3 L319.5 687.2 L320.0 685.0 L320.5 682.8 L321.0 680.5 L321.5 678.2 L322.0 675.7 L322.5 673.0 L323.0 670.3 L323.5 667.8 L324.0 665.7 L324.5 664.0 L325.0 662.5 L325.5 661.2 L326.0 660.1 L326.5 659.3 L327.0 658.7 L327.5 658.2 L328.0 657.7 L328.5 657.3 L329.0 657.1 L329.5 657.0 L330.0 657.3 L330.5 657.8 L331.0 658.5 L331.5 659.3 L332.0 660.3 L332.5 661.7 L333.0 663.3 L333.5 665.0 L334.0 666.8 L334.5 668.7 L335.0 670.9 L335.5 673.1 L336.0 675.3 L336.5 677.5 L337.0 679.6 L337.5 681.6 L338.0 683.7 L338.5 685.7 L339.0 687.8 L339.5 689.8 L340.0 691.8 L340.5 693.7 L341.0 695.8 L341.5 697.9 L342.0 699.9 L342.5 701.6 L343.0 703.0 L343.5 704.0 L344.0 704.9 L344.5 705.8 L345.0 706.4 L345.5 706.9 L346.0 707.2 L346.5 707.4 L347.0 707.5 Z" fill="#8a8a8a" fill-opacity="0.92" stroke="#34343e" stroke-width="0.6"/><rect x="294.20" y="650.80" width="66.60" height="56.70" fill="none" stroke="#111" stroke-width="1.1"/><line x1="292.20" y1="650.80" x2="294.20" y2="650.80" stroke="#111" stroke-width="0.9"/><text x="290.20" y="652.60" font-size="5.3" text-anchor="end" fill="#111" letter-spacing="-0.1">100%</text><line x1="292.20" y1="664.97" x2="294.20" y2="664.97" stroke="#111" stroke-width="0.9"/><text x="290.20" y="666.77" font-size="5.3" text-anchor="end" fill="#111" letter-spacing="-0.1">75%</text><line x1="292.20" y1="679.15" x2="294.20" y2="679.15" stroke="#111" stroke-width="0.9"/><text x="290.20" y="680.95" font-size="5.3" text-anchor="end" fill="#111" letter-spacing="-0.1">50%</text><line x1="292.20" y1="693.33" x2="294.20" y2="693.33" stroke="#111" stroke-width="0.9"/><text x="290.20" y="695.12" font-size="5.3" text-anchor="end" fill="#111" letter-spacing="-0.1">25%</text><line x1="301.50" y1="707.50" x2="301.50" y2="709.50" stroke="#111" stroke-width="0.8"/><text x="301.50" y="717.70" font-size="5.4" text-anchor="middle" fill="#111">0</text><line x1="319.20" y1="707.50" x2="319.20" y2="709.50" stroke="#111" stroke-width="0.8"/><text x="315.30" y="717.70" font-size="5.4" fill="#111">10<tspan font-size="3.24" dy="-2.16">3</tspan></text><line x1="336.70" y1="707.50" x2="336.70" y2="709.50" stroke="#111" stroke-width="0.8"/><text x="332.80" y="717.70" font-size="5.4" fill="#111">10<tspan font-size="3.24" dy="-2.16">4</tspan></text><line x1="353.40" y1="707.50" x2="353.40" y2="709.50" stroke="#111" stroke-width="0.8"/><text x="349.50" y="717.70" font-size="5.4" fill="#111">10<tspan font-size="3.24" dy="-2.16">5</tspan></text><path d="M306.8 707.5v1.3M310.0 707.5v1.3M312.1 707.5v1.3M313.9 707.5v1.3M315.3 707.5v1.3M316.5 707.5v1.3M317.4 707.5v1.3M318.3 707.5v1.3M324.4 707.5v1.3M327.6 707.5v1.3M329.7 707.5v1.3M331.4 707.5v1.3M332.8 707.5v1.3M334.1 707.5v1.3M334.9 707.5v1.3M335.8 707.5v1.3M341.7 707.5v1.3M344.7 707.5v1.3M346.7 707.5v1.3M348.4 707.5v1.3M349.7 707.5v1.3M350.9 707.5v1.3M351.7 707.5v1.3M352.6 707.5v1.3" stroke="#111" stroke-width="0.5"/><path d="M394.0 635.8 L394.5 635.7 L395.0 635.7 L395.5 635.5 L396.0 635.4 L396.5 635.2 L397.0 634.9 L397.5 634.6 L398.0 634.3 L398.5 634.0 L399.0 633.6 L399.5 633.2 L400.0 632.7 L400.5 632.2 L401.0 631.7 L401.5 631.1 L402.0 630.5 L402.5 629.8 L403.0 629.0 L403.5 628.1 L404.0 627.1 L404.5 626.0 L405.0 624.8 L405.5 623.5 L406.0 622.1 L406.5 620.5 L407.0 618.8 L407.5 616.9 L408.0 614.9 L408.5 612.7 L409.0 610.6 L409.5 608.4 L410.0 606.1 L410.5 603.7 L411.0 601.3 L411.5 598.9 L412.0 596.7 L412.5 594.5 L413.0 592.5 L413.5 590.7 L414.0 589.2 L414.5 587.9 L415.0 587.1 L415.5 586.9 L416.0 587.0 L416.5 587.3 L417.0 587.9 L417.5 589.1 L418.0 591.1 L418.5 594.1 L419.0 598.2 L419.5 602.4 L420.0 606.1 L420.5 609.8 L421.0 613.3 L421.5 616.5 L422.0 619.7 L422.5 622.7 L423.0 625.5 L423.5 627.8 L424.0 629.8 L424.5 631.6 L425.0 633.0 L425.5 633.8 L426.0 634.5 L426.5 635.0 L427.0 635.4 L427.5 635.6 L428.0 635.7 L428.5 635.7 L429.0 635.8 L429.5 635.8" fill="none" stroke="#ecc0c4" stroke-width="0.75"/><path d="M394.0 635.8 L394.5 635.8 L395.0 635.7 L395.5 635.6 L396.0 635.5 L396.5 635.3 L397.0 635.1 L397.5 634.8 L398.0 634.5 L398.5 634.2 L399.0 633.8 L399.5 633.4 L400.0 633.0 L400.5 632.5 L401.0 632.1 L401.5 631.5 L402.0 630.9 L402.5 630.2 L403.0 629.5 L403.5 628.7 L404.0 627.8 L404.5 626.8 L405.0 625.7 L405.5 624.5 L406.0 623.2 L406.5 621.8 L407.0 620.2 L407.5 618.5 L408.0 616.7 L408.5 614.7 L409.0 612.7 L409.5 610.6 L410.0 608.4 L410.5 606.2 L411.0 604.0 L411.5 601.7 L412.0 599.5 L412.5 597.3 L413.0 595.1 L413.5 593.1 L414.0 591.3 L414.5 589.6 L415.0 588.2 L415.5 587.2 L416.0 586.5 L416.5 585.9 L417.0 585.8 L417.5 586.7 L418.0 588.4 L418.5 590.8 L419.0 594.4 L419.5 598.2 L420.0 601.9 L420.5 605.6 L421.0 609.3 L421.5 612.7 L422.0 616.1 L422.5 619.3 L423.0 622.4 L423.5 625.0 L424.0 627.5 L424.5 629.7 L425.0 631.5 L425.5 632.7 L426.0 633.6 L426.5 634.4 L427.0 635.0 L427.5 635.3 L428.0 635.5 L428.5 635.7 L429.0 635.8 L429.5 635.8" fill="none" stroke="#d06a72" stroke-width="0.75"/><path d="M394.0 635.8 L394.5 635.8 L395.0 635.8 L395.5 635.7 L396.0 635.6 L396.5 635.4 L397.0 635.2 L397.5 635.0 L398.0 634.8 L398.5 634.4 L399.0 634.1 L399.5 633.7 L400.0 633.3 L400.5 632.9 L401.0 632.4 L401.5 631.9 L402.0 631.3 L402.5 630.7 L403.0 630.0 L403.5 629.2 L404.0 628.4 L404.5 627.6 L405.0 626.6 L405.5 625.5 L406.0 624.3 L406.5 623.0 L407.0 621.6 L407.5 620.2 L408.0 618.5 L408.5 616.7 L409.0 614.8 L409.5 612.8 L410.0 610.8 L410.5 608.7 L411.0 606.7 L411.5 604.5 L412.0 602.3 L412.5 600.0 L413.0 597.7 L413.5 595.5 L414.0 593.4 L414.5 591.2 L415.0 589.2 L415.5 587.4 L416.0 585.9 L416.5 584.5 L417.0 583.8 L417.5 584.2 L418.0 585.6 L418.5 587.5 L419.0 590.6 L419.5 594.0 L420.0 597.7 L420.5 601.5 L421.0 605.3 L421.5 608.9 L422.0 612.5 L422.5 616.0 L423.0 619.2 L423.5 622.2 L424.0 625.2 L424.5 627.9 L425.0 630.1 L425.5 631.5 L426.0 632.7 L426.5 633.8 L427.0 634.6 L427.5 635.1 L428.0 635.4 L428.5 635.6 L429.0 635.7 L429.5 635.8" fill="none" stroke="#a8343c" stroke-width="0.75"/><path d="M394.0 635.8 L394.5 635.7 L395.0 635.6 L395.5 635.4 L396.0 635.2 L396.5 635.0 L397.0 634.8 L397.5 634.4 L398.0 634.1 L398.5 633.7 L399.0 633.3 L399.5 632.9 L400.0 632.4 L400.5 631.9 L401.0 631.3 L401.5 630.7 L402.0 630.0 L402.5 629.3 L403.0 628.4 L403.5 627.5 L404.0 626.5 L404.5 625.3 L405.0 624.0 L405.5 622.5 L406.0 621.0 L406.5 619.3 L407.0 617.3 L407.5 615.2 L408.0 613.0 L408.5 610.7 L409.0 608.4 L409.5 606.1 L410.0 603.6 L410.5 601.1 L411.0 598.5 L411.5 596.0 L412.0 593.8 L412.5 591.7 L413.0 589.8 L413.5 588.3 L414.0 587.1 L414.5 586.2 L415.0 586.1 L415.5 586.7 L416.0 587.6 L416.5 588.7 L417.0 590.0 L417.5 591.7 L418.0 593.9 L418.5 597.5 L419.0 602.2 L419.5 606.7 L420.0 610.4 L420.5 614.0 L421.0 617.4 L421.5 620.5 L422.0 623.4 L422.5 626.2 L423.0 628.8 L423.5 630.7 L424.0 632.2 L424.5 633.5 L425.0 634.5 L425.5 635.0 L426.0 635.4 L426.5 635.7 L427.0 635.8 Z" fill="#7e7a7a" fill-opacity="0.88" stroke="#5a4a4a" stroke-width="0.5"/><rect x="381.30" y="579.20" width="66.00" height="56.60" fill="none" stroke="#111" stroke-width="1.1"/><line x1="379.30" y1="579.20" x2="381.30" y2="579.20" stroke="#111" stroke-width="0.9"/><text x="377.30" y="581.00" font-size="5.3" text-anchor="end" fill="#111" letter-spacing="-0.1">100%</text><line x1="379.30" y1="593.35" x2="381.30" y2="593.35" stroke="#111" stroke-width="0.9"/><text x="377.30" y="595.15" font-size="5.3" text-anchor="end" fill="#111" letter-spacing="-0.1">75%</text><line x1="379.30" y1="607.50" x2="381.30" y2="607.50" stroke="#111" stroke-width="0.9"/><text x="377.30" y="609.30" font-size="5.3" text-anchor="end" fill="#111" letter-spacing="-0.1">50%</text><line x1="379.30" y1="621.65" x2="381.30" y2="621.65" stroke="#111" stroke-width="0.9"/><text x="377.30" y="623.45" font-size="5.3" text-anchor="end" fill="#111" letter-spacing="-0.1">25%</text><line x1="388.60" y1="635.80" x2="388.60" y2="637.80" stroke="#111" stroke-width="0.8"/><text x="388.60" y="646.00" font-size="5.4" text-anchor="middle" fill="#111">0</text><line x1="406.30" y1="635.80" x2="406.30" y2="637.80" stroke="#111" stroke-width="0.8"/><text x="402.40" y="646.00" font-size="5.4" fill="#111">10<tspan font-size="3.24" dy="-2.16">3</tspan></text><line x1="423.80" y1="635.80" x2="423.80" y2="637.80" stroke="#111" stroke-width="0.8"/><text x="419.90" y="646.00" font-size="5.4" fill="#111">10<tspan font-size="3.24" dy="-2.16">4</tspan></text><line x1="440.50" y1="635.80" x2="440.50" y2="637.80" stroke="#111" stroke-width="0.8"/><text x="436.60" y="646.00" font-size="5.4" fill="#111">10<tspan font-size="3.24" dy="-2.16">5</tspan></text><path d="M393.9 635.8v1.3M397.1 635.8v1.3M399.2 635.8v1.3M401.0 635.8v1.3M402.4 635.8v1.3M403.6 635.8v1.3M404.5 635.8v1.3M405.4 635.8v1.3M411.6 635.8v1.3M414.7 635.8v1.3M416.8 635.8v1.3M418.6 635.8v1.3M419.9 635.8v1.3M421.2 635.8v1.3M422.1 635.8v1.3M422.9 635.8v1.3M428.8 635.8v1.3M431.8 635.8v1.3M433.8 635.8v1.3M435.5 635.8v1.3M436.8 635.8v1.3M438.0 635.8v1.3M438.8 635.8v1.3M439.7 635.8v1.3" stroke="#111" stroke-width="0.5"/><text x="381.90" y="574.20" font-size="8.7" text-anchor="start" fill="#111">KG-1</text><path d="M392.9 707.5 L393.4 707.4 L393.9 707.2 L394.4 707.0 L394.9 706.8 L395.4 706.6 L395.9 706.3 L396.4 706.1 L396.9 705.8 L397.4 705.5 L397.9 705.1 L398.4 704.8 L398.9 704.4 L399.4 704.1 L399.9 703.7 L400.4 703.3 L400.9 702.8 L401.4 702.4 L401.9 701.8 L402.4 701.3 L402.9 700.6 L403.4 700.0 L403.9 699.2 L404.4 698.3 L404.9 697.4 L405.4 696.3 L405.9 695.2 L406.4 694.0 L406.9 692.7 L407.4 691.1 L407.9 689.2 L408.4 687.1 L408.9 684.9 L409.4 682.7 L409.9 680.3 L410.4 678.0 L410.9 675.4 L411.4 672.6 L411.9 669.8 L412.4 667.1 L412.9 664.6 L413.4 662.4 L413.9 660.2 L414.4 658.3 L414.9 656.5 L415.4 655.1 L415.9 655.2 L416.4 656.6 L416.9 658.3 L417.4 660.2 L417.9 662.5 L418.4 665.2 L418.9 669.1 L419.4 673.7 L419.9 678.1 L420.4 681.9 L420.9 685.5 L421.4 688.9 L421.9 692.0 L422.4 695.0 L422.9 698.0 L423.4 700.8 L423.9 702.7 L424.4 703.8 L424.9 704.7 L425.4 705.5 L425.9 706.1 L426.4 706.6 L426.9 706.9 L427.4 707.2 L427.9 707.4 L428.4 707.5" fill="none" stroke="#a0a4da" stroke-width="0.55"/><path d="M392.2 707.5 L392.7 707.4 L393.2 707.2 L393.7 707.0 L394.2 706.8 L394.7 706.6 L395.2 706.3 L395.7 706.1 L396.2 705.8 L396.7 705.5 L397.2 705.2 L397.7 704.8 L398.2 704.5 L398.7 704.1 L399.2 703.7 L399.7 703.3 L400.2 702.9 L400.7 702.4 L401.2 701.9 L401.7 701.3 L402.2 700.7 L402.7 700.1 L403.2 699.3 L403.7 698.4 L404.2 697.5 L404.7 696.5 L405.2 695.4 L405.7 694.2 L406.2 692.9 L406.7 691.3 L407.2 689.5 L407.7 687.4 L408.2 685.3 L408.7 683.0 L409.2 680.7 L409.7 678.4 L410.2 675.8 L410.7 673.1 L411.2 670.3 L411.7 667.7 L412.2 665.2 L412.7 663.0 L413.2 660.9 L413.7 659.0 L414.2 657.2 L414.7 655.8 L415.2 655.9 L415.7 657.3 L416.2 659.0 L416.7 660.9 L417.2 663.1 L417.7 665.8 L418.2 669.7 L418.7 674.2 L419.2 678.6 L419.7 682.3 L420.2 685.8 L420.7 689.1 L421.2 692.2 L421.7 695.2 L422.2 698.2 L422.7 700.8 L423.2 702.7 L423.7 703.8 L424.2 704.7 L424.7 705.5 L425.2 706.1 L425.7 706.6 L426.2 706.9 L426.7 707.2 L427.2 707.4 L427.7 707.5" fill="none" stroke="#5058b0" stroke-width="0.55"/><path d="M392.7 707.5 L393.2 707.4 L393.7 707.2 L394.2 707.0 L394.7 706.8 L395.2 706.6 L395.7 706.3 L396.2 706.1 L396.7 705.8 L397.2 705.5 L397.7 705.1 L398.2 704.8 L398.7 704.5 L399.2 704.1 L399.7 703.7 L400.2 703.3 L400.7 702.8 L401.2 702.4 L401.7 701.9 L402.2 701.3 L402.7 700.7 L403.2 700.0 L403.7 699.2 L404.2 698.4 L404.7 697.4 L405.2 696.4 L405.7 695.3 L406.2 694.0 L406.7 692.7 L407.2 691.1 L407.7 689.3 L408.2 687.2 L408.7 685.0 L409.2 682.8 L409.7 680.4 L410.2 678.1 L410.7 675.5 L411.2 672.8 L411.7 670.0 L412.2 667.3 L412.7 664.8 L413.2 662.5 L413.7 660.4 L414.2 658.5 L414.7 656.7 L415.2 655.3 L415.7 655.4 L416.2 656.8 L416.7 658.5 L417.2 660.4 L417.7 662.7 L418.2 665.4 L418.7 669.3 L419.2 673.9 L419.7 678.3 L420.2 682.0 L420.7 685.6 L421.2 688.9 L421.7 692.1 L422.2 695.1 L422.7 698.1 L423.2 700.8 L423.7 702.7 L424.2 703.8 L424.7 704.7 L425.2 705.5 L425.7 706.1 L426.2 706.6 L426.7 706.9 L427.2 707.2 L427.7 707.4 L428.2 707.5" fill="none" stroke="#2a2a7a" stroke-width="0.55"/><path d="M392.5 707.5 L393.0 707.4 L393.5 707.2 L394.0 707.0 L394.5 706.8 L395.0 706.6 L395.5 706.3 L396.0 706.1 L396.5 705.8 L397.0 705.5 L397.5 705.2 L398.0 704.8 L398.5 704.5 L399.0 704.1 L399.5 703.7 L400.0 703.3 L400.5 702.9 L401.0 702.4 L401.5 701.9 L402.0 701.3 L402.5 700.7 L403.0 700.0 L403.5 699.2 L404.0 698.4 L404.5 697.5 L405.0 696.4 L405.5 695.3 L406.0 694.1 L406.5 692.8 L407.0 691.2 L407.5 689.3 L408.0 687.3 L408.5 685.1 L409.0 682.9 L409.5 680.5 L410.0 678.2 L410.5 675.6 L411.0 672.9 L411.5 670.1 L412.0 667.4 L412.5 665.0 L413.0 662.7 L413.5 660.6 L414.0 658.7 L414.5 656.9 L415.0 655.5 L415.5 655.6 L416.0 657.0 L416.5 658.7 L417.0 660.6 L417.5 662.8 L418.0 665.6 L418.5 669.4 L419.0 674.0 L419.5 678.4 L420.0 682.1 L420.5 685.7 L421.0 689.0 L421.5 692.1 L422.0 695.1 L422.5 698.1 L423.0 700.8 L423.5 702.7 L424.0 703.8 L424.5 704.7 L425.0 705.5 L425.5 706.1 L426.0 706.6 L426.5 706.9 L427.0 707.2 L427.5 707.4 L428.0 707.5 Z" fill="#8a8a8a" fill-opacity="0.92" stroke="#34343e" stroke-width="0.6"/><rect x="381.30" y="650.80" width="66.00" height="56.70" fill="none" stroke="#111" stroke-width="1.1"/><line x1="379.30" y1="650.80" x2="381.30" y2="650.80" stroke="#111" stroke-width="0.9"/><text x="377.30" y="652.60" font-size="5.3" text-anchor="end" fill="#111" letter-spacing="-0.1">100%</text><line x1="379.30" y1="664.97" x2="381.30" y2="664.97" stroke="#111" stroke-width="0.9"/><text x="377.30" y="666.77" font-size="5.3" text-anchor="end" fill="#111" letter-spacing="-0.1">75%</text><line x1="379.30" y1="679.15" x2="381.30" y2="679.15" stroke="#111" stroke-width="0.9"/><text x="377.30" y="680.95" font-size="5.3" text-anchor="end" fill="#111" letter-spacing="-0.1">50%</text><line x1="379.30" y1="693.33" x2="381.30" y2="693.33" stroke="#111" stroke-width="0.9"/><text x="377.30" y="695.12" font-size="5.3" text-anchor="end" fill="#111" letter-spacing="-0.1">25%</text><line x1="388.60" y1="707.50" x2="388.60" y2="709.50" stroke="#111" stroke-width="0.8"/><text x="388.60" y="717.70" font-size="5.4" text-anchor="middle" fill="#111">0</text><line x1="406.30" y1="707.50" x2="406.30" y2="709.50" stroke="#111" stroke-width="0.8"/><text x="402.40" y="717.70" font-size="5.4" fill="#111">10<tspan font-size="3.24" dy="-2.16">3</tspan></text><line x1="423.80" y1="707.50" x2="423.80" y2="709.50" stroke="#111" stroke-width="0.8"/><text x="419.90" y="717.70" font-size="5.4" fill="#111">10<tspan font-size="3.24" dy="-2.16">4</tspan></text><line x1="440.50" y1="707.50" x2="440.50" y2="709.50" stroke="#111" stroke-width="0.8"/><text x="436.60" y="717.70" font-size="5.4" fill="#111">10<tspan font-size="3.24" dy="-2.16">5</tspan></text><path d="M393.9 707.5v1.3M397.1 707.5v1.3M399.2 707.5v1.3M401.0 707.5v1.3M402.4 707.5v1.3M403.6 707.5v1.3M404.5 707.5v1.3M405.4 707.5v1.3M411.6 707.5v1.3M414.7 707.5v1.3M416.8 707.5v1.3M418.6 707.5v1.3M419.9 707.5v1.3M421.2 707.5v1.3M422.1 707.5v1.3M422.9 707.5v1.3M428.8 707.5v1.3M431.8 707.5v1.3M433.8 707.5v1.3M435.5 707.5v1.3M436.8 707.5v1.3M438.0 707.5v1.3M438.8 707.5v1.3M439.7 707.5v1.3" stroke="#111" stroke-width="0.5"/><rect x="459.00" y="584.50" width="7.80" height="7.60" fill="#0a0a0a"/><rect x="459.00" y="593.40" width="7.80" height="7.00" fill="#b02a34"/><rect x="459.00" y="601.90" width="7.80" height="7.40" fill="#d46870"/><rect x="459.00" y="611.10" width="7.80" height="7.00" fill="#f0cdd0"/><text x="470.20" y="589.80" font-size="4.3" text-anchor="start" fill="#111">vehicle</text><text x="470.20" y="598.40" font-size="4.3" text-anchor="start" fill="#111">1000nM</text><text x="470.20" y="607.10" font-size="4.3" text-anchor="start" fill="#111">500nM</text><text x="470.20" y="616.10" font-size="4.3" text-anchor="start" fill="#111">100nM</text><path d="M489.4 595.0 L492.6 595.0 L492.6 616.8 L489.4 616.8" fill="none" stroke="#111" stroke-width="0.8"/><text x="495.00" y="607.90" font-size="4.5" text-anchor="start" fill="#111">CX-5461</text><rect x="459.00" y="653.20" width="7.80" height="7.10" fill="#0a0a0a"/><rect x="459.00" y="662.00" width="7.80" height="7.10" fill="#2e2e80"/><rect x="459.00" y="670.90" width="7.80" height="7.10" fill="#5058b0"/><rect x="459.00" y="679.40" width="7.80" height="7.80" fill="#a4a8da"/><text x="470.20" y="658.25" font-size="4.3" text-anchor="start" fill="#111">DMSO</text><text x="470.20" y="667.05" font-size="4.3" text-anchor="start" fill="#111">1000nM</text><text x="470.20" y="675.95" font-size="4.3" text-anchor="start" fill="#111">500nM</text><text x="470.20" y="684.80" font-size="4.3" text-anchor="start" fill="#111">100nM</text><path d="M489.4 664.3 L492.6 664.3 L492.6 686.5 L489.4 686.5" fill="none" stroke="#111" stroke-width="0.8"/><text x="495.00" y="677.40" font-size="4.5" text-anchor="start" fill="#111">CX-5447</text><text x="35.40" y="727.00" font-size="7.6" text-anchor="start" fill="#111">Mac-1</text><line x1="60.40" y1="724.00" x2="114.30" y2="724.00" stroke="#111" stroke-width="1.0"/><path d="M118.00 724.00 L113.80 722.11 L113.80 725.89 Z" fill="#111"/>
<rect x="0.00" y="0.00" width="520.00" height="1.10" fill="#000"/><rect x="0.00" y="0.00" width="1.10" height="735.00" fill="#000"/><rect x="518.20" y="0.00" width="1.80" height="735.00" fill="#000"/><rect x="0.00" y="733.10" width="520.00" height="1.90" fill="#000"/>
</svg>
</body></html>
